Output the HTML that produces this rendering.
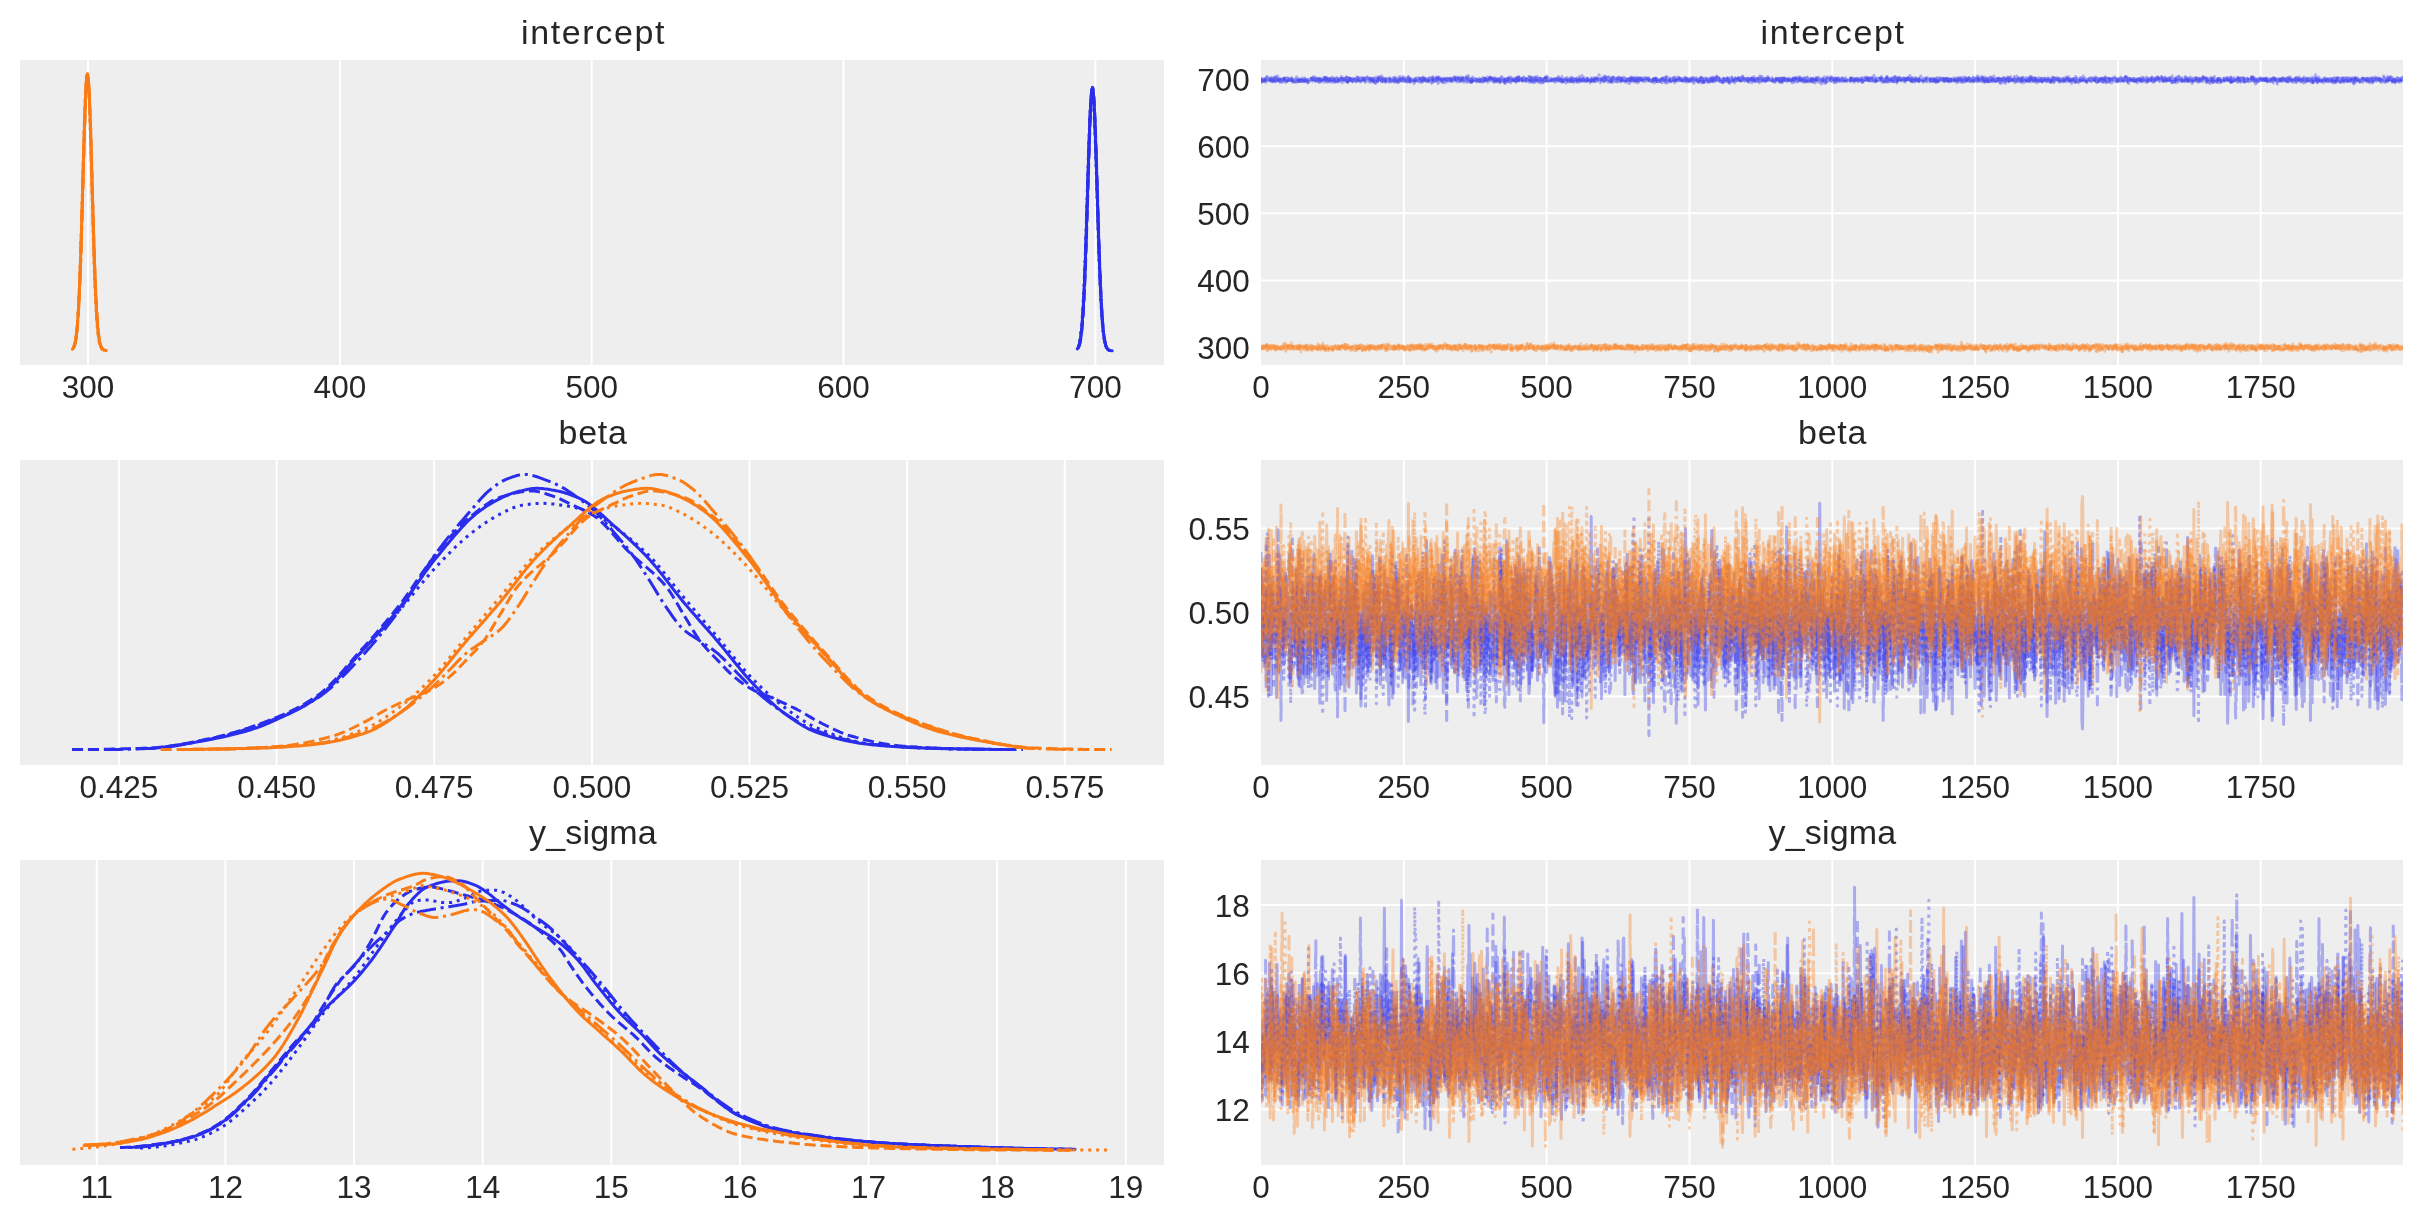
<!DOCTYPE html><html><head><meta charset="utf-8"><style>html,body{margin:0;padding:0;background:#fff;width:2423px;height:1223px;overflow:hidden}svg{display:block;will-change:transform}</style></head><body>
<svg width="2423" height="1223" viewBox="0 0 2423 1223">
<defs>
<clipPath id="cl0"><rect x="20" y="60" width="1144" height="305"/></clipPath>
<clipPath id="cr0"><rect x="1261" y="60" width="1142" height="305"/></clipPath>
<clipPath id="cl1"><rect x="20" y="460" width="1144" height="305"/></clipPath>
<clipPath id="cr1"><rect x="1261" y="460" width="1142" height="305"/></clipPath>
<clipPath id="cl2"><rect x="20" y="860" width="1144" height="305"/></clipPath>
<clipPath id="cr2"><rect x="1261" y="860" width="1142" height="305"/></clipPath>
</defs>
<rect x="20" y="60" width="1144" height="305" fill="#eeeeee"/>
<rect x="1261" y="60" width="1142" height="305" fill="#eeeeee"/>
<path d="M88.0 60V365M339.9 60V365M591.7 60V365M843.5 60V365M1095.4 60V365M1403.8 60V365M1546.6 60V365M1689.5 60V365M1832.3 60V365M1975.1 60V365M2117.9 60V365M2260.7 60V365M1261 79.1H2403M1261 146.2H2403M1261 213.3H2403M1261 280.4H2403M1261 347.5H2403" stroke="#fff" stroke-width="2" fill="none"/>
<text x="593.6" y="43.7" font-family="&quot;Liberation Sans&quot;, sans-serif" font-size="34" letter-spacing="1.65" fill="#262626" text-anchor="middle">intercept</text>
<text x="1833.1" y="43.7" font-family="&quot;Liberation Sans&quot;, sans-serif" font-size="34" letter-spacing="1.65" fill="#262626" text-anchor="middle">intercept</text>
<text x="88.0" y="397.6" font-family="&quot;Liberation Sans&quot;, sans-serif" font-size="31.5" fill="#262626" text-anchor="middle">300</text>
<text x="339.9" y="397.6" font-family="&quot;Liberation Sans&quot;, sans-serif" font-size="31.5" fill="#262626" text-anchor="middle">400</text>
<text x="591.7" y="397.6" font-family="&quot;Liberation Sans&quot;, sans-serif" font-size="31.5" fill="#262626" text-anchor="middle">500</text>
<text x="843.5" y="397.6" font-family="&quot;Liberation Sans&quot;, sans-serif" font-size="31.5" fill="#262626" text-anchor="middle">600</text>
<text x="1095.4" y="397.6" font-family="&quot;Liberation Sans&quot;, sans-serif" font-size="31.5" fill="#262626" text-anchor="middle">700</text>
<text x="1261.0" y="397.6" font-family="&quot;Liberation Sans&quot;, sans-serif" font-size="31.5" fill="#262626" text-anchor="middle">0</text>
<text x="1403.8" y="397.6" font-family="&quot;Liberation Sans&quot;, sans-serif" font-size="31.5" fill="#262626" text-anchor="middle">250</text>
<text x="1546.6" y="397.6" font-family="&quot;Liberation Sans&quot;, sans-serif" font-size="31.5" fill="#262626" text-anchor="middle">500</text>
<text x="1689.5" y="397.6" font-family="&quot;Liberation Sans&quot;, sans-serif" font-size="31.5" fill="#262626" text-anchor="middle">750</text>
<text x="1832.3" y="397.6" font-family="&quot;Liberation Sans&quot;, sans-serif" font-size="31.5" fill="#262626" text-anchor="middle">1000</text>
<text x="1975.1" y="397.6" font-family="&quot;Liberation Sans&quot;, sans-serif" font-size="31.5" fill="#262626" text-anchor="middle">1250</text>
<text x="2117.9" y="397.6" font-family="&quot;Liberation Sans&quot;, sans-serif" font-size="31.5" fill="#262626" text-anchor="middle">1500</text>
<text x="2260.7" y="397.6" font-family="&quot;Liberation Sans&quot;, sans-serif" font-size="31.5" fill="#262626" text-anchor="middle">1750</text>
<text x="1249.8" y="90.7" font-family="&quot;Liberation Sans&quot;, sans-serif" font-size="31.5" fill="#262626" text-anchor="end">700</text>
<text x="1249.8" y="157.8" font-family="&quot;Liberation Sans&quot;, sans-serif" font-size="31.5" fill="#262626" text-anchor="end">600</text>
<text x="1249.8" y="224.9" font-family="&quot;Liberation Sans&quot;, sans-serif" font-size="31.5" fill="#262626" text-anchor="end">500</text>
<text x="1249.8" y="292.0" font-family="&quot;Liberation Sans&quot;, sans-serif" font-size="31.5" fill="#262626" text-anchor="end">400</text>
<text x="1249.8" y="359.1" font-family="&quot;Liberation Sans&quot;, sans-serif" font-size="31.5" fill="#262626" text-anchor="end">300</text>
<rect x="20" y="460" width="1144" height="305" fill="#eeeeee"/>
<rect x="1261" y="460" width="1142" height="305" fill="#eeeeee"/>
<path d="M118.9 460V765M276.6 460V765M434.2 460V765M591.9 460V765M749.5 460V765M907.2 460V765M1064.8 460V765M1403.8 460V765M1546.6 460V765M1689.5 460V765M1832.3 460V765M1975.1 460V765M2117.9 460V765M2260.7 460V765M1261 528.5H2403M1261 612.6H2403M1261 696.6H2403" stroke="#fff" stroke-width="2" fill="none"/>
<text x="593.1" y="443.7" font-family="&quot;Liberation Sans&quot;, sans-serif" font-size="34" letter-spacing="0.70" fill="#262626" text-anchor="middle">beta</text>
<text x="1832.6" y="443.7" font-family="&quot;Liberation Sans&quot;, sans-serif" font-size="34" letter-spacing="0.70" fill="#262626" text-anchor="middle">beta</text>
<text x="118.9" y="797.6" font-family="&quot;Liberation Sans&quot;, sans-serif" font-size="31.5" fill="#262626" text-anchor="middle">0.425</text>
<text x="276.6" y="797.6" font-family="&quot;Liberation Sans&quot;, sans-serif" font-size="31.5" fill="#262626" text-anchor="middle">0.450</text>
<text x="434.2" y="797.6" font-family="&quot;Liberation Sans&quot;, sans-serif" font-size="31.5" fill="#262626" text-anchor="middle">0.475</text>
<text x="591.9" y="797.6" font-family="&quot;Liberation Sans&quot;, sans-serif" font-size="31.5" fill="#262626" text-anchor="middle">0.500</text>
<text x="749.5" y="797.6" font-family="&quot;Liberation Sans&quot;, sans-serif" font-size="31.5" fill="#262626" text-anchor="middle">0.525</text>
<text x="907.2" y="797.6" font-family="&quot;Liberation Sans&quot;, sans-serif" font-size="31.5" fill="#262626" text-anchor="middle">0.550</text>
<text x="1064.8" y="797.6" font-family="&quot;Liberation Sans&quot;, sans-serif" font-size="31.5" fill="#262626" text-anchor="middle">0.575</text>
<text x="1261.0" y="797.6" font-family="&quot;Liberation Sans&quot;, sans-serif" font-size="31.5" fill="#262626" text-anchor="middle">0</text>
<text x="1403.8" y="797.6" font-family="&quot;Liberation Sans&quot;, sans-serif" font-size="31.5" fill="#262626" text-anchor="middle">250</text>
<text x="1546.6" y="797.6" font-family="&quot;Liberation Sans&quot;, sans-serif" font-size="31.5" fill="#262626" text-anchor="middle">500</text>
<text x="1689.5" y="797.6" font-family="&quot;Liberation Sans&quot;, sans-serif" font-size="31.5" fill="#262626" text-anchor="middle">750</text>
<text x="1832.3" y="797.6" font-family="&quot;Liberation Sans&quot;, sans-serif" font-size="31.5" fill="#262626" text-anchor="middle">1000</text>
<text x="1975.1" y="797.6" font-family="&quot;Liberation Sans&quot;, sans-serif" font-size="31.5" fill="#262626" text-anchor="middle">1250</text>
<text x="2117.9" y="797.6" font-family="&quot;Liberation Sans&quot;, sans-serif" font-size="31.5" fill="#262626" text-anchor="middle">1500</text>
<text x="2260.7" y="797.6" font-family="&quot;Liberation Sans&quot;, sans-serif" font-size="31.5" fill="#262626" text-anchor="middle">1750</text>
<text x="1249.8" y="540.1" font-family="&quot;Liberation Sans&quot;, sans-serif" font-size="31.5" fill="#262626" text-anchor="end">0.55</text>
<text x="1249.8" y="624.2" font-family="&quot;Liberation Sans&quot;, sans-serif" font-size="31.5" fill="#262626" text-anchor="end">0.50</text>
<text x="1249.8" y="708.2" font-family="&quot;Liberation Sans&quot;, sans-serif" font-size="31.5" fill="#262626" text-anchor="end">0.45</text>
<rect x="20" y="860" width="1144" height="305" fill="#eeeeee"/>
<rect x="1261" y="860" width="1142" height="305" fill="#eeeeee"/>
<path d="M96.8 860V1165M225.4 860V1165M354.1 860V1165M482.7 860V1165M611.3 860V1165M739.9 860V1165M868.6 860V1165M997.2 860V1165M1125.8 860V1165M1403.8 860V1165M1546.6 860V1165M1689.5 860V1165M1832.3 860V1165M1975.1 860V1165M2117.9 860V1165M2260.7 860V1165M1261 905.1H2403M1261 973.3H2403M1261 1041.4H2403M1261 1109.5H2403" stroke="#fff" stroke-width="2" fill="none"/>
<text x="592.9" y="843.7" font-family="&quot;Liberation Sans&quot;, sans-serif" font-size="34" letter-spacing="0.15" fill="#262626" text-anchor="middle">y_sigma</text>
<text x="1832.4" y="843.7" font-family="&quot;Liberation Sans&quot;, sans-serif" font-size="34" letter-spacing="0.15" fill="#262626" text-anchor="middle">y_sigma</text>
<text x="96.8" y="1197.6" font-family="&quot;Liberation Sans&quot;, sans-serif" font-size="31.5" fill="#262626" text-anchor="middle">11</text>
<text x="225.4" y="1197.6" font-family="&quot;Liberation Sans&quot;, sans-serif" font-size="31.5" fill="#262626" text-anchor="middle">12</text>
<text x="354.1" y="1197.6" font-family="&quot;Liberation Sans&quot;, sans-serif" font-size="31.5" fill="#262626" text-anchor="middle">13</text>
<text x="482.7" y="1197.6" font-family="&quot;Liberation Sans&quot;, sans-serif" font-size="31.5" fill="#262626" text-anchor="middle">14</text>
<text x="611.3" y="1197.6" font-family="&quot;Liberation Sans&quot;, sans-serif" font-size="31.5" fill="#262626" text-anchor="middle">15</text>
<text x="739.9" y="1197.6" font-family="&quot;Liberation Sans&quot;, sans-serif" font-size="31.5" fill="#262626" text-anchor="middle">16</text>
<text x="868.6" y="1197.6" font-family="&quot;Liberation Sans&quot;, sans-serif" font-size="31.5" fill="#262626" text-anchor="middle">17</text>
<text x="997.2" y="1197.6" font-family="&quot;Liberation Sans&quot;, sans-serif" font-size="31.5" fill="#262626" text-anchor="middle">18</text>
<text x="1125.8" y="1197.6" font-family="&quot;Liberation Sans&quot;, sans-serif" font-size="31.5" fill="#262626" text-anchor="middle">19</text>
<text x="1261.0" y="1197.6" font-family="&quot;Liberation Sans&quot;, sans-serif" font-size="31.5" fill="#262626" text-anchor="middle">0</text>
<text x="1403.8" y="1197.6" font-family="&quot;Liberation Sans&quot;, sans-serif" font-size="31.5" fill="#262626" text-anchor="middle">250</text>
<text x="1546.6" y="1197.6" font-family="&quot;Liberation Sans&quot;, sans-serif" font-size="31.5" fill="#262626" text-anchor="middle">500</text>
<text x="1689.5" y="1197.6" font-family="&quot;Liberation Sans&quot;, sans-serif" font-size="31.5" fill="#262626" text-anchor="middle">750</text>
<text x="1832.3" y="1197.6" font-family="&quot;Liberation Sans&quot;, sans-serif" font-size="31.5" fill="#262626" text-anchor="middle">1000</text>
<text x="1975.1" y="1197.6" font-family="&quot;Liberation Sans&quot;, sans-serif" font-size="31.5" fill="#262626" text-anchor="middle">1250</text>
<text x="2117.9" y="1197.6" font-family="&quot;Liberation Sans&quot;, sans-serif" font-size="31.5" fill="#262626" text-anchor="middle">1500</text>
<text x="2260.7" y="1197.6" font-family="&quot;Liberation Sans&quot;, sans-serif" font-size="31.5" fill="#262626" text-anchor="middle">1750</text>
<text x="1249.8" y="916.7" font-family="&quot;Liberation Sans&quot;, sans-serif" font-size="31.5" fill="#262626" text-anchor="end">18</text>
<text x="1249.8" y="984.9" font-family="&quot;Liberation Sans&quot;, sans-serif" font-size="31.5" fill="#262626" text-anchor="end">16</text>
<text x="1249.8" y="1053.0" font-family="&quot;Liberation Sans&quot;, sans-serif" font-size="31.5" fill="#262626" text-anchor="end">14</text>
<text x="1249.8" y="1121.1" font-family="&quot;Liberation Sans&quot;, sans-serif" font-size="31.5" fill="#262626" text-anchor="end">12</text>
<g clip-path="url(#cr0)"><g transform="matrix(0.571286 0 0 0.571286 1261 0)" fill="none" stroke-width="5.251" stroke-opacity="0.35" stroke-linejoin="round">
<path stroke="#2a2eec" stroke-linecap="round" d="M0 143l1-5 1 3 1-1 1 0 1 1 1 2 1-4 1 0 1 5 1-9 1 2 1 4 1-3 1 2 1 0 1-2 1 4 1-3 1-3 1 0 1 4 1-2 1 5 1-2 1-2 1 3 1-2 1-4 1-3 1 4 1 0 1 4 1 2 1 0 1-4 1-1 1 3 1 2 1-3 1-1 1 1 1-3 1 2 1 1 1 2 1-2 1-3 1 2 1 0 1 0 1 0 1-1 1 0 1 0 1 3 1-2 1 4 1-3 1 2 1-2 1-1 1 1 1 0 1 3 1-1 1-3 1 3 1-3 1 3 1 0 1 1 1-3 1-1 1 3 1-2 1-4 1 4 1 1 1-2 1 1 1 1 1 3 1-5 1 2 1-1 1 2 1-5 1 1 1-1 1 2 1 0 1-2 1 0 1 1 1 2 1 0 1 1 1 1 1-3 1 1 1 4 1-3 1-3 1 2 1 4 1-3 1-3 1 1 1 1 1-4 1-1 1 4 1-1 1 0 1 0 1-2 1 1 1 2 1 2 1 1 1-2 1-3 1 1 1 1 1 0 1 0 1-1 1 4 1 2 1-2 1 1 1-6 1 2 1 1 1 3 1-3 1 1 1-4 1 0 1 4 1-2 1 6 1-3 1-5 1 0 1 2 1 1 1 3 1 0 1-3 1-4 1 8 1-5 1-1 1-1 1 4 1 0 1-1 1 2 1 1 1-1 1-2 1-1 1 1 1-1 1 2 1 1 1-4 1 1 1 1 1-2 1-1 1-1 1 2 1 1 1 0 1 0 1-3 1 2 1 0 1 1 1-2 1 7 1-4 1-2 1 4 1-7 1 4 1 1 1 2 1-4 1 1 1 2 1-2 1-1 1-1 1 2 1 3 1-1 1 4 1-3 1-3 1-1 1 2 1 0 1-4 1 2 1-1 1 1 1 3 1-5 1 6 1 1 1-2 1 1 1-1 1 0 1-3 1 1 1 0 1 4 1-1 1-4 1 4 1-4 1 3 1-2 1 2 1-1 1 2 1-1 1-5 1 4 1-5 1 5 1 2 1-2 1 1 1-5 1 1 1 0 1 1 1-4 1 3 1 1 1 3 1 1 1-2 1-3 1 0 1 4 1-2 1 0 1 3 1-3 1 5 1-4 1-6 1 7 1-1 1 4 1-2 1-4 1 4 1-2 1 1 1 0 1-2 1 0 1-2 1 0 1 3 1-3 1-1 1 6 1-3 1-1 1-1 1 1 1 4 1-1 1 3 1-3 1-6 1 2 1 0 1 3 1 2 1 0 1-2 1 1 1 0 1-4 1 6 1 0 1-2 1-1 1 0 1 3 1-3 1 0 1-1 1 3 1-2 1-1 1 2 1-1 1 1 1-4 1 9 1-2 1 0 1-3 1 0 1 0 1-3 1 5 1-1 1-1 1 1 1-3 1 0 1 2 1 3 1-7 1 1 1 0 1 1 1 1 1-2 1 1 1 2 1-3 1 1 1 2 1 1 1-4 1 0 1-3 1 5 1 1 1-2 1-2 1 1 1 0 1-3 1 5 1 3 1-1 1-1 1-2 1-2 1 1 1-2 1 5 1-5 1 5 1-4 1 4 1-2 1 0 1-1 1 0 1 2 1 0 1-1 1 3 1 0 1 2 1-4 1-5 1 2 1 4 1 0 1-3 1 2 1 3 1 0 1 0 1-1 1-3 1 0 1 4 1-2 1 1 1 1 1 1 1-7 1 3 1-2 1-1 1 3 1-1 1-1 1 1 1-4 1 3 1 2 1-2 1-3 1 2 1 3 1 2 1 0 1 0 1-3 1-1 1 6 1-3 1 1 1-3 1-2 1 4 1 0 1 1 1-3 1 4 1 0 1-1 1-5 1-3 1 4 1 4 1-2 1 2 1-3 1 3 1-1 1-1 1-1 1 1 1-3 1 2 1 4 1-5 1 2 1 1 1-4 1 4 1-1 1 1 1-4 1 3 1-1 1 4 1-6 1 4 1-3 1-1 1-1 1-1 1 6 1-2 1 0 1 0 1-2 1 2 1 2 1-1 1-4 1 6 1-2 1 2 1-4 1 5 1-2 1-1 1-1 1-5 1 1 1 6 1-6 1 6 1 3 1 0 1-4 1-1 1 5 1-4 1 0 1-2 1 2 1-2 1 0 1 4 1-5 1 2 1-1 1-1 1 4 1-1 1 2 1 0 1-2 1-1 1-2 1-1 1 3 1 2 1-8 1 1 1 5 1 2 1 0 1-2 1-2 1 0 1 1 1 2 1-1 1 1 1 0 1 0 1-1 1 5 1-3 1 0 1 1 1-1 1 1 1 0 1-1 1-1 1 1 1-3 1 1 1 0 1 0 1 2 1 1 1-4 1 2 1 4 1 1 1-5 1 1 1-1 1 1 1 0 1-1 1 2 1-2 1-2 1 0 1 5 1 0 1 0 1-2 1-3 1 1 1 4 1-3 1-2 1 2 1-4 1 4 1-3 1-3 1 7 1 0 1-2 1-7 1 10 1-3 1 0 1 1 1 2 1-1 1 0 1 2 1-6 1 4 1 0 1 0 1 0 1-1 1 1 1-1 1-4 1 1 1 3 1-2 1 3 1-2 1 4 1 0 1-1 1-5 1 2 1-1 1 1 1 0 1 0 1-1 1 1 1 2 1 1 1-5 1-1 1 2 1 5 1-6 1 1 1 2 1 0 1 0 1-4 1-1 1 6 1-1 1-1 1-2 1 7 1-5 1-3 1 4 1 0 1-3 1 1 1 4 1 1 1 0 1 0 1-3 1 1 1-1 1-2 1-3 1 3 1 5 1-6 1 2 1-2 1 3 1-1 1 1 1 0 1-3 1 4 1-2 1 0 1 1 1 5 1-5 1 6 1-2 1-2 1-3 1-1 1-1 1 1 1 2 1-3 1 3 1-3 1 7 1-1 1-1 1-2 1 5 1-6 1-2 1 0 1 3 1-3 1 3 1-2 1 1 1 1 1 0 1 0 1-3 1-1 1 0 1 1 1 1 1 0 1-2 1 4 1 1 1-1 1 3 1-2 1-1 1 2 1-1 1-2 1 1 1 0 1-3 1 4 1 1 1-2 1-1 1 4 1-4 1 1 1 1 1 1 1-2 1-2 1 0 1 0 1 2 1-4 1 0 1 3 1 6 1-4 1-7 1 5 1 3 1-6 1 4 1-1 1-1 1 5 1-3 1-3 1 3 1-2 1 1 1-2 1-2 1 6 1 0 1-2 1 2 1 1 1-1 1-1 1 1 1-2 1-1 1 0 1 0 1-1 1 5 1-2 1-1 1-1 1 5 1-7 1 5 1-2 1-1 1-1 1 4 1 0 1-2 1-1 1-1 1 2 1 2 1 2 1-7 1 6 1-3 1 0 1-1 1-1 1-1 1 3 1 0 1 5 1-4 1 2 1-2 1-3 1 2 1-2 1 3 1-1 1 1 1 5 1-3 1-1 1-1 1 0 1 0 1-2 1 0 1 2 1-2 1 6 1-3 1-1 1-3 1 3 1 3 1-3 1-4 1 3 1 1 1 0 1 0 1-3 1-2 1 3 1 1 1-3 1 3 1 0 1 1 1 0 1-1 1 1 1-1 1 0 1-1 1 2 1 0 1-1 1 0 1 0 1-2 1 4 1 3 1-5 1 1 1-3 1 2 1 3 1-7 1 3 1 2 1 1 1-2 1 2 1-2 1-2 1 5 1-1 1-2 1-3 1 1 1 3 1-4 1 4 1 0 1-1 1 3 1-9 1 3 1 2 1 3 1 1 1-3 1-1 1 2 1 0 1-2 1 2 1 4 1-5 1 0 1-1 1 3 1 4 1-2 1-3 1-5 1-1 1 4 1 4 1-1 1-2 1 0 1 0 1-2 1 4 1 4 1-2 1 0 1-8 1 4 1 4 1-4 1-2 1 2 1 0 1-2 1 1 1 3 1-2 1-2 1 1 1-1 1 1 1 2 1 0 1-2 1 3 1-4 1-1 1 7 1-2 1 0 1 0 1-1 1 0 1-2 1 1 1 0 1 2 1 0 1-4 1 7 1-7 1 3 1-3 1 8 1-3 1-4 1 1 1-2 1 4 1 0 1 0 1-2 1-1 1 2 1 0 1 0 1 0 1 2 1-2 1 0 1 1 1 0 1-4 1 3 1-1 1-3 1 1 1 2 1-2 1 5 1 1 1-2 1-1 1 0 1-4 1-1 1 4 1 0 1 2 1-2 1 4 1-6 1 3 1-1 1 3 1-5 1 1 1-3 1 4 1 4 1-1 1 1 1-6 1 3 1 1 1-2 1 0 1-1 1 2 1 4 1 0 1 1 1-7 1-1 1 3 1-2 1 0 1 0 1 0 1-1 1 2 1 5 1 3 1-9 1 0 1 7 1-5 1 2 1-1 1 5 1-7 1 1 1-2 1-1 1-1 1-1 1 3 1 1 1 2 1-2 1 1 1 2 1-4 1 0 1 7 1 0 1-4 1 2 1-5 1 1 1-1 1-1 1-1 1 4 1-2 1 1 1-1 1 0 1-2 1 2 1 2 1-1 1 3 1-3 1-3 1 4 1 3 1-2 1 0 1-1 1 1 1-1 1 2 1-5 1 2 1-1 1 0 1 2 1-1 1 1 1 1 1-1 1-1 1 3 1 0 1 0 1-1 1-4 1 2 1 1 1-1 1-2 1 4 1-3 1 6 1-2 1-5 1-1 1 2 1 2 1-2 1 2 1-4 1 0 1 1 1 4 1-3 1 2 1 0 1 1 1-1 1-1 1-2 1 0 1-5 1 7 1-2 1 3 1 0 1 2 1-5 1 1 1 1 1 1 1-3 1 3 1-1 1-5 1 5 1 2 1 1 1-4 1 1 1 2 1 1 1-2 1 2 1-7 1 4 1 1 1 0 1 3 1 0 1-2 1-1 1 2 1-6 1 2 1-2 1 0 1 3 1-5 1 4 1 5 1 2 1-4 1-3 1 1 1-4 1 4 1-1 1 0 1 3 1-2 1 0 1-2 1-1 1 1 1 4 1-3 1-1 1 2 1-1 1-1 1-1 1 3 1-1 1 1 1 0 1 2 1-1 1 2 1-2 1-2 1 0 1-1 1 2 1-3 1 4 1-2 1 0 1 3 1 0 1-3 1 1 1 0 1-6 1 4 1 2 1-1 1 2 1 0 1-1 1 2 1-1 1 0 1-1 1 4 1-7 1 3 1-1 1 3 1 2 1-3 1 0 1-2 1 3 1 1 1-3 1-1 1-1 1 2 1 0 1 2 1-4 1-1 1 0 1 6 1-4 1 3 1-2 1-1 1-1 1 2 1 1 1 2 1 0 1-3 1 2 1-3 1 2 1 1 1-3 1-1 1 4 1-1 1 0 1-2 1 3 1 0 1-1 1-2 1-1 1 3 1-4 1 2 1 3 1 2 1-2 1 4 1-5 1-2 1-1 1 1 1 5 1-2 1-3 1 6 1-2 1-3 1 0 1 5 1-3 1-1 1-5 1 5 1 1 1-2 1 0 1-1 1-2 1 3 1 3 1-2 1 0 1-3 1 0 1 4 1-3 1-1 1 2 1-2 1 2 1 0 1 1 1-2 1-5 1 5 1 4 1-2 1 1 1-2 1 1 1-6 1 3 1-2 1 5 1 0 1-5 1 7 1-2 1 3 1-6 1 5 1-1 1-1 1 3 1-8 1 4 1-3 1 4 1 3 1-3 1-1 1-6 1 8 1 2 1-1 1-3 1-1 1 3 1 0 1-2 1-2 1 3 1-1 1 7 1-3 1-4 1 0 1 1 1-4 1 3 1 3 1-2 1-1 1 3 1-4 1-3 1 5 1 2 1-2 1-3 1 3 1 1 1 0 1-2 1 0 1 1 1-3 1-3 1 6 1-3 1 1 1-5 1 7 1 0 1-1 1 4 1-2 1-3 1 4 1-2 1-4 1 4 1 2 1 3 1-4 1 2 1-4 1-3 1 2 1 3 1-3 1 2 1 2 1-1 1-2 1 1 1-1 1-4 1 2 1 0 1 4 1-4 1 1 1-1 1 4 1-2 1 6 1-4 1 1 1 0 1-6 1 6 1-2 1 0 1-2 1-1 1 6 1-2 1 0 1-3 1-1 1 3 1 1 1 1 1-3 1-3 1 2 1 3 1 1 1 0 1 2 1-7 1 2 1 1 1-5 1 3 1-2 1 2 1-1 1 2 1 1 1-1 1-1 1-1 1 2 1 1 1 0 1-1 1 2 1 0 1-2 1-1 1 0 1 3 1 2 1-3 1-1 1 1 1-1 1-1 1 2 1-1 1 3 1-2 1 2 1 1 1-4 1 7 1-5 1-3 1 0 1 5 1-3 1 4 1-2 1-5 1 2 1-2 1 4 1 4 1-3 1-5 1 0 1 0 1 2 1 1 1 0 1-7 1 5 1-3 1 4 1-2 1 4 1 0 1-2 1 2 1 0 1-1 1 1 1-5 1 0 1 6 1-6 1 3 1 1 1 0 1-2 1 0 1 2 1 0 1 2 1-6 1 5 1 1 1 0 1-2 1-2 1 2 1 0 1 0 1-3 1 2 1 4 1-6 1 1 1-3 1 5 1 1 1-1 1 3 1-2 1-4 1 1 1 6 1-6 1 0 1 0 1 1 1 0 1 0 1 0 1 3 1-4 1 1 1 0 1 0 1 1 1 0 1 3 1-3 1-1 1 1 1 3 1-6 1 2 1 1 1 0 1 1 1 0 1 1 1-1 1-6 1 1 1-2 1 6 1 4 1-1 1 3 1-8 1-1 1 2 1 0 1 0 1 1 1-2 1 3 1 0 1-1 1 3 1 0 1-4 1 0 1 6 1-6 1 0 1-1 1 1 1-1 1 4 1-1 1 1 1-1 1-4 1-1 1 3 1 1 1-2 1 0 1-3 1 2 1 7 1-4 1 0 1 1 1-1 1-1 1 1 1-4 1 2 1 0 1 1 1-2 1 4 1-4 1 3 1-4 1 0 1 2 1 2 1-1 1 0 1 4 1-2 1 0 1-4 1-2 1 5 1 1 1 2 1-3 1-2 1-3 1 6 1-3 1 2 1 1 1 0 1 0 1-2 1 0 1-2 1 3 1 4 1-1 1-4 1 4 1-1 1-3 1 3 1-4 1 1 1 2 1-1 1 1 1 0 1-1 1 0 1 0 1 1 1 1 1-6 1 5 1-1 1-3 1 0 1 4 1-6 1 0 1 4 1 3 1-3 1 1 1 0 1 1 1 0 1-1 1-2 1 6 1 2 1-7 1 2 1-3 1 1 1-2 1 0 1 3 1 0 1-1 1-1 1 3 1 2 1-3 1 0 1 0 1 2 1-3 1 4 1-2 1-4 1 4 1-2 1-1 1 0 1 5 1-5 1 1 1-1 1 1 1 0 1-2 1-1 1 7 1-1 1-2 1 4 1-7 1 4 1-2 1 0 1 1 1 2 1-1 1-1 1-2 1 2 1 0 1 0 1-3 1 1 1 3 1 2 1-2 1 1 1-1 1-4 1 0 1 2 1-1 1-2 1 5 1-2 1 1 1-1 1 0 1 1 1-2 1 6 1-4 1-2 1 3 1 1 1-6 1 5 1 0 1 0 1 0 1 0 1 3 1-9 1 5 1-1 1 1 1-3 1 0 1 0 1-1 1 1 1 2 1-2 1 6 1-5 1 0 1 1 1 3 1-5 1 4 1-3 1 5 1-2 1 0 1 1 1-1 1-5 1 3 1 0 1-4 1 7 1-5 1 3 1 1 1 0 1 3 1 0 1-1 1-2 1-3 1-1 1 3 1-1 1-1 1 2 1-1 1 2 1-2 1 1 1 0 1-1 1 0 1 2 1 2 1-3 1 1 1 0 1-1 1 1 1-2 1 0 1 2 1-2 1 3 1-4 1 0 1 1 1-1 1-1 1 1 1 5 1-3 1-1 1-1 1 3 1-3 1 1 1 0 1 3 1 0 1-4 1-1 1 2 1-2 1 2 1 1 1 3 1-5 1 2 1-1 1 4 1-1 1-3 1 1 1 1 1 1 1-2 1 0 1 1 1-1 1 1 1 0 1 0 1-1 1 3 1 0 1-3 1 0 1-1 1-4 1 2 1 0 1 1 1 2 1 1 1 3 1 0 1 1 1-2 1 1 1-1 1-3 1 1 1-3 1-1 1 0 1 0 1 2 1 2 1-2 1 1 1 0 1-1 1 3 1 2 1-4 1-4 1 0 1-5 1 10 1 0 1 4 1-2 1-7 1-1 1 6 1 0 1 1 1 1 1-2 1 0 1-1 1-1 1-1 1-2 1 3 1 1 1 0 1-1 1 1 1 2 1-1 1-3 1 4 1-4 1 4 1-3 1-1 1 2 1 0 1 0 1-4 1 4 1 1 1-2 1-2 1 1 1 2 1-3 1 4 1 1 1 1 1-5 1 6 1-1 1-3 1-1 1-3 1 2 1 2 1-3 1 0 1 0 1 0 1 1 1 4 1 0 1-6 1 3 1 4 1-3 1-2 1 0 1 1 1 6 1-4 1-1 1-4 1 3 1 1 1 1 1-1 1-1 1 2 1 1 1 1 1-3 1 0 1 1 1 2 1-1 1 2 1-5 1-2 1 1 1 2 1-1 1 4 1 0 1-5 1 4 1-2 1 1 1 4 1-3 1-4 1-1 1 8 1-1 1-2 1-4 1-1 1-1 1-1 1 5 1 2 1-4 1 2 1 0 1 0 1 1 1-3 1 4 1 2 1-2 1-2 1 0 1 0 1 4 1-2 1-4 1 2 1 1 1-3 1 2 1-2 1 1 1 0 1-2 1-3 1 2 1 5 1 1 1-1 1-1 1-2 1 1 1 0 1 4 1-2 1-2 1-3 1 1 1 2 1 3 1-2 1 0 1 0 1-1 1 0 1 0 1-4"/>
<path stroke="#2a2eec" stroke-dasharray="19.43 8.40" d="M0 142l1 2 1-4 1 2 1-1 1-1 1 2 1-4 1 0 1 1 1-1 1 0 1 2 1-1 1 0 1 1 1 1 1-5 1 2 1 5 1-4 1 6 1-5 1-2 1-2 1 3 1 2 1-5 1 1 1-1 1 4 1-2 1 5 1-4 1 5 1-1 1 1 1-6 1-1 1 4 1-4 1 2 1 5 1-2 1 2 1-4 1-1 1 2 1-3 1-1 1 4 1-2 1 1 1 0 1-4 1 5 1 0 1-1 1-1 1-1 1 3 1-4 1-2 1 0 1 3 1 3 1 1 1-2 1 0 1 0 1 1 1 4 1-4 1 0 1 0 1 2 1-2 1-1 1 2 1-3 1 1 1-1 1 0 1 1 1 0 1-1 1-1 1-1 1 3 1-2 1-1 1 5 1-1 1-1 1 0 1-4 1 0 1 3 1 1 1 3 1 0 1-6 1 6 1-4 1 2 1 0 1-1 1-4 1 2 1 0 1-1 1 7 1-8 1 7 1-1 1-3 1 3 1 2 1-6 1 2 1-2 1 0 1 2 1-4 1 4 1-5 1 6 1 1 1 0 1-2 1 2 1 0 1-5 1 2 1-2 1 1 1 3 1 1 1-2 1-1 1 2 1 0 1-4 1 0 1 1 1 2 1 1 1-6 1 5 1-5 1 5 1 3 1-7 1 3 1-3 1 2 1 2 1-2 1 2 1-1 1 1 1 3 1-3 1 1 1-1 1-1 1 4 1-4 1-1 1-3 1 2 1 1 1 3 1-1 1 3 1-4 1 1 1 1 1-1 1-1 1 0 1 3 1-5 1 2 1 0 1 1 1 2 1-2 1 1 1 1 1-2 1-2 1 0 1 1 1 2 1 0 1-1 1 3 1-4 1 0 1 3 1-5 1-2 1 7 1-2 1 2 1-4 1 4 1-3 1 0 1-2 1 6 1-1 1-1 1-3 1 1 1-1 1 0 1 3 1-1 1 1 1 0 1 1 1-3 1 0 1 5 1-5 1 2 1 2 1-5 1 1 1 0 1 1 1 0 1 4 1-5 1 2 1-1 1 0 1 2 1 1 1-2 1-4 1 4 1 0 1-1 1 1 1-4 1 1 1-4 1 4 1-3 1 5 1-1 1 3 1-1 1 0 1-2 1-3 1 4 1 3 1-3 1 0 1 1 1-3 1-1 1 4 1 0 1 5 1-4 1-4 1 3 1-3 1 0 1 0 1 0 1 1 1-2 1 0 1 1 1 1 1-2 1-1 1 4 1-2 1 1 1-5 1 5 1 2 1 1 1-4 1 3 1-2 1 1 1-3 1-1 1 0 1 7 1 0 1 3 1-11 1 5 1 0 1 0 1-2 1 2 1-1 1 1 1 2 1-6 1-1 1 4 1 1 1-5 1-2 1 5 1 0 1 2 1-1 1 6 1 0 1-5 1 0 1-1 1 0 1-1 1 1 1 1 1-1 1 2 1-4 1 4 1 0 1-3 1 2 1-3 1-1 1 1 1 3 1-5 1 3 1 3 1-6 1 3 1 0 1-1 1 3 1-2 1 4 1 0 1-1 1-6 1 2 1-1 1 4 1-2 1 6 1-3 1-2 1 1 1 4 1 0 1-5 1-3 1 4 1-4 1 6 1-4 1 1 1-2 1 5 1-4 1 1 1 2 1 0 1-1 1-1 1 2 1 1 1-2 1 0 1-2 1-1 1 6 1-3 1-1 1 0 1 3 1-4 1-2 1 3 1 2 1-3 1 1 1 0 1 0 1 1 1 0 1 1 1 3 1-6 1 1 1 1 1-3 1 2 1-2 1 0 1 3 1 2 1-3 1 0 1-2 1 6 1-3 1-1 1 0 1 0 1 0 1 6 1-4 1 0 1 2 1-3 1 1 1 1 1 1 1-3 1 5 1-4 1 1 1-2 1-5 1 2 1 2 1-3 1-1 1 1 1-1 1 3 1 0 1 1 1 1 1 0 1 1 1-1 1-5 1 2 1 2 1-3 1 0 1 5 1 0 1-5 1 3 1 0 1 2 1 1 1-4 1 3 1-2 1-4 1 3 1 2 1-2 1 0 1 2 1-1 1 3 1 2 1-2 1 2 1-2 1-2 1-1 1-4 1 6 1 0 1 0 1 1 1-6 1 5 1-1 1 0 1-6 1 5 1 2 1-4 1 4 1 4 1-7 1-1 1 5 1 1 1-3 1 2 1 2 1-1 1-7 1 1 1 4 1-1 1 0 1 0 1 0 1-4 1 4 1 2 1-2 1 1 1 0 1 0 1 1 1-4 1 3 1-4 1 4 1 1 1-2 1 0 1-2 1 0 1-4 1 11 1-2 1-2 1-1 1 0 1-6 1 10 1-5 1 1 1 0 1-3 1 2 1-1 1-1 1-1 1 7 1-1 1 1 1-1 1-1 1-6 1 5 1 1 1-1 1-3 1 3 1-1 1-1 1 0 1 6 1 0 1-5 1 5 1-3 1 3 1-4 1 0 1 3 1-2 1 2 1-1 1-4 1 1 1 0 1-3 1 3 1-2 1 1 1 1 1 2 1 1 1 1 1 0 1-4 1 0 1 3 1-4 1 3 1 0 1 2 1-1 1-3 1 0 1 2 1-4 1 3 1 0 1-2 1 0 1 2 1 2 1-4 1 7 1-3 1 2 1-2 1-4 1 2 1 1 1-1 1-4 1 0 1 3 1 2 1 0 1-2 1 1 1 0 1 2 1 1 1 0 1-3 1 2 1-7 1 3 1 0 1-1 1 5 1 1 1-2 1-2 1-1 1-2 1 0 1 1 1 0 1 1 1 0 1 2 1 1 1-3 1 5 1-6 1-2 1 5 1-2 1 1 1 3 1-3 1-1 1-1 1 3 1-1 1 2 1-4 1 2 1-2 1 4 1-2 1 2 1 0 1-4 1 2 1 1 1-2 1 3 1-6 1 5 1 0 1-5 1 7 1-6 1 2 1 0 1 3 1-2 1 3 1-4 1 2 1 1 1 0 1-1 1-3 1 1 1 3 1 1 1 0 1-4 1 0 1 4 1 2 1-4 1 1 1-2 1 1 1-1 1-1 1-1 1 2 1-1 1 3 1 1 1-2 1-3 1-1 1 3 1 4 1-3 1 0 1-2 1-1 1 3 1 1 1 0 1 0 1 1 1-2 1 1 1 0 1 0 1 0 1-2 1 1 1 0 1-2 1 2 1 3 1-2 1 0 1-2 1-3 1 2 1 2 1-3 1 4 1-2 1 0 1 1 1 0 1-1 1-3 1 2 1 3 1-2 1-1 1-3 1 2 1 2 1-2 1 0 1 2 1 2 1-1 1-2 1 4 1 2 1-5 1 4 1 0 1-2 1-1 1 0 1-1 1 0 1 1 1 2 1 4 1-8 1 0 1 0 1 1 1 3 1-3 1 1 1 3 1-5 1 5 1-2 1-5 1 5 1-1 1-3 1 2 1 4 1-1 1-2 1 3 1-6 1 2 1-1 1 1 1 0 1 1 1 3 1-4 1 1 1-4 1 6 1-2 1-5 1 7 1 1 1-3 1-4 1 6 1-2 1 0 1 1 1 0 1-4 1 2 1 4 1-1 1-2 1 3 1-1 1-1 1 4 1-8 1 6 1-3 1 0 1 1 1-3 1 1 1 3 1-4 1 0 1 4 1 2 1-5 1 1 1 3 1-4 1 4 1-1 1 0 1 3 1-6 1-7 1 5 1 1 1 2 1 0 1-1 1-1 1 3 1-1 1 0 1-1 1-1 1-1 1 3 1 1 1-2 1 1 1 0 1-1 1 0 1-2 1 5 1-4 1 2 1-2 1 4 1-1 1 0 1-5 1 5 1-3 1 3 1 1 1-2 1-3 1 2 1-1 1 1 1 1 1-3 1 2 1-1 1 4 1-1 1-3 1 2 1 4 1-5 1-1 1 2 1-1 1 1 1-1 1-2 1 1 1 2 1 1 1-1 1 1 1-3 1 4 1-1 1-2 1 0 1 0 1 1 1-1 1 4 1 1 1-1 1-4 1-2 1 3 1 1 1-1 1-4 1 2 1 1 1 2 1-2 1-2 1 2 1 2 1-4 1 2 1-3 1 5 1-1 1-1 1 4 1-3 1-2 1 2 1-1 1 0 1 2 1-3 1 3 1-1 1 1 1-2 1 1 1 1 1 3 1-3 1-3 1 6 1-4 1 0 1 3 1-2 1-3 1 1 1 0 1-2 1 3 1-2 1 4 1 0 1-5 1-1 1 1 1 5 1-1 1 1 1-6 1 6 1 1 1-2 1-2 1 2 1-1 1-1 1 0 1 5 1-1 1-6 1 2 1-4 1 1 1 0 1 3 1-3 1 4 1-5 1 2 1 1 1 2 1 1 1-1 1 1 1 1 1 0 1-2 1-3 1-2 1 2 1 2 1-1 1-3 1 3 1-1 1 1 1 1 1 1 1-2 1 3 1 1 1-3 1-2 1 0 1 0 1 2 1 1 1-3 1-3 1 10 1-6 1 0 1 1 1 2 1 0 1 1 1-3 1 2 1-1 1 3 1-6 1 0 1 4 1-2 1 1 1 1 1-1 1-2 1-2 1 2 1-1 1 0 1 0 1 0 1 5 1-1 1-5 1 6 1 0 1-6 1 5 1-2 1 0 1 1 1-3 1 0 1 3 1-4 1 5 1 0 1-1 1-1 1 3 1-3 1 5 1-2 1 0 1 0 1-2 1-1 1 2 1-1 1 3 1-2 1-3 1 3 1 0 1-1 1-2 1 1 1 1 1 2 1-2 1 6 1-6 1 1 1-2 1 1 1-3 1 4 1 3 1-3 1 0 1-1 1-3 1 4 1-2 1-1 1-1 1 7 1-4 1 1 1 0 1 1 1-1 1-3 1-2 1 1 1 5 1-4 1 4 1-1 1-3 1 3 1-3 1 2 1 2 1-2 1 1 1-5 1-1 1 0 1 6 1-5 1 2 1 0 1 1 1 2 1-1 1-2 1-2 1 2 1 1 1 2 1 0 1-5 1 2 1 1 1 4 1 1 1-5 1-1 1-1 1 2 1 2 1 3 1-1 1 2 1-5 1-1 1-2 1 6 1 0 1-4 1 0 1 5 1-2 1-2 1 1 1-2 1 1 1 1 1-2 1 1 1-3 1 5 1-1 1 0 1 0 1-2 1-1 1 6 1-6 1 0 1 0 1 1 1-1 1 0 1 5 1-1 1-1 1 0 1 0 1-2 1 3 1 0 1 0 1-2 1-1 1 3 1-3 1 2 1-4 1 7 1-3 1-4 1 3 1 2 1 0 1-3 1 2 1-3 1 1 1 2 1 0 1-2 1-2 1 4 1 2 1 0 1-4 1-3 1 4 1-2 1 2 1-2 1 5 1-4 1 3 1 0 1-3 1 1 1 0 1-1 1 0 1-3 1 1 1 4 1-1 1 1 1 0 1-5 1 5 1-4 1-1 1-3 1 5 1 1 1 0 1 1 1-4 1-1 1 9 1-3 1-4 1 4 1 1 1-2 1 0 1 0 1 0 1-4 1 8 1-2 1 1 1-3 1 1 1-2 1 1 1-5 1 7 1-1 1-3 1 2 1-1 1 4 1-4 1 1 1-2 1 3 1 0 1 1 1-5 1 6 1-4 1 0 1-2 1 2 1 3 1-3 1 4 1-5 1 2 1 1 1 0 1-2 1 4 1-6 1 4 1-4 1 2 1-4 1 7 1-4 1 2 1 1 1-3 1 2 1 1 1 0 1 1 1-1 1-1 1-3 1 3 1 1 1-3 1 2 1 2 1 1 1-6 1 2 1-3 1 5 1 1 1-5 1 3 1 0 1 0 1 2 1-4 1 4 1-3 1 3 1-8 1 3 1 0 1 6 1-3 1 1 1 1 1 0 1-4 1 1 1 2 1 0 1 1 1-1 1 0 1 2 1-1 1 3 1-4 1-2 1 2 1-4 1 4 1-1 1-3 1 2 1 2 1-2 1 2 1-4 1 1 1 2 1-1 1-3 1 0 1 1 1 3 1 1 1 1 1-4 1 4 1-3 1-3 1 7 1-3 1 2 1-2 1-1 1 3 1 1 1-2 1-1 1 1 1 1 1-3 1 3 1 1 1-3 1-5 1 5 1 0 1 2 1 0 1 1 1-3 1 1 1 1 1-4 1 5 1-5 1 2 1 2 1-2 1 0 1-1 1 1 1-4 1 1 1 0 1 5 1-1 1-4 1 1 1 1 1 1 1-3 1 7 1-2 1 1 1-5 1 4 1-1 1-4 1 3 1-1 1 1 1-2 1-3 1 6 1-1 1-4 1-2 1 5 1-3 1 2 1 0 1 4 1 2 1-4 1 0 1 0 1 2 1-5 1 3 1-6 1 5 1 0 1-1 1 2 1 2 1-1 1-1 1 1 1-5 1 4 1-2 1 0 1 1 1 3 1-3 1-2 1 2 1 0 1 5 1-1 1-2 1-2 1-1 1 2 1-1 1 3 1-3 1-1 1 2 1-3 1 3 1 1 1 0 1-6 1 7 1-2 1 0 1 0 1 3 1-4 1-1 1 2 1 1 1-1 1-2 1 5 1-6 1 3 1-2 1 3 1-5 1 2 1-3 1 5 1 1 1-4 1 1 1 0 1-1 1 1 1 2 1 4 1 1 1-6 1-1 1 3 1-2 1 1 1-1 1-2 1 6 1-4 1-1 1 2 1-1 1 3 1-2 1-2 1 0 1 3 1-3 1 1 1-1 1 1 1-1 1 1 1-5 1 5 1-2 1 2 1 4 1-4 1-2 1 0 1 0 1 4 1-2 1 3 1-6 1-1 1 6 1 0 1 1 1 0 1-1 1 1 1-1 1-3 1 2 1-2 1 2 1-1 1 3 1-4 1 4 1-1 1 2 1-4 1 3 1-3 1-4 1 3 1 6 1-6 1 1 1-1 1 0 1-1 1 0 1 2 1 3 1-2 1-2 1 5 1-3 1 4 1-6 1-3 1 2 1 3 1-2 1-2 1-1 1 0 1 1 1 5 1-1 1-1 1 0 1 5 1-3 1 0 1-2 1 0 1 3 1 0 1-2 1 2 1-2 1 1 1 0 1-3 1 1 1 2 1-5 1 4 1 0 1-1 1-6 1 4 1 0 1 3 1-2 1-1 1 5 1-3 1-3 1-1 1 3 1-4 1 6 1-3 1 1 1 3 1-3 1 4 1-1 1-1 1 2 1-5 1 3 1 2 1-3 1 0 1 3 1-1 1-3 1-1 1 6 1-5 1-1 1-1 1 4 1 1 1-1 1 1 1-1 1 1 1-1 1 1 1-1 1-1 1 1 1 1 1-5 1 1 1 1 1 3 1-3 1 2 1-2 1 1 1-5 1 4 1 3 1-4 1-1 1 0 1 9 1-2 1-1 1 2 1-4 1-2 1-1 1 0 1 2 1-3 1 2 1 7 1-4 1 1 1-3 1 1 1 0 1-3 1 4 1 2 1-3 1-2 1 2 1 0 1 1 1 2 1-1 1 1 1-5 1 2 1-3 1 2 1 3 1-2 1-1 1-2 1 7 1-3 1-2 1 2 1-1 1 0 1-3 1-1 1 8 1 0 1-2 1-2 1 0 1 1 1-2 1-1 1 1 1 1 1 0 1 2 1-4 1 0 1 3 1-4 1 2 1-1 1 1 1 1 1-2 1 4 1-1 1 2 1-4 1 1 1 0 1 1 1-2 1 0 1 1 1 1 1-5 1 0 1 5 1-4 1 1 1 1 1 0 1 3 1-7 1-1 1 4 1 1 1 0 1 2 1-2 1 1 1 2 1-1 1 0 1 0 1 0 1-2 1 1 1 3 1-6 1 4 1-4 1 2 1-1 1 3 1-1 1 1 1-1 1-1 1 1 1-2 1 5 1 0 1-4 1-1 1-1 1-1 1 2 1 0 1 1 1 0 1 1 1-1 1 2 1-1 1-2 1 0 1-1 1 3 1 1 1-2 1 2 1 1 1-3 1 1 1-2 1 1 1 2 1 1 1-4 1 1 1 3 1 1 1 0 1-2 1-4 1 4 1-2 1 0 1 8 1-3 1-5 1 5 1-6 1 2 1 4 1-8 1 3 1-3 1 3 1 2 1-3 1-2 1 0 1 6 1-3 1 3 1 0 1-5 1 6 1-8 1 7 1 1 1-4 1 1 1 0 1 2 1-3 1 0 1 1 1 2 1 2 1-3 1 4 1-3 1-3 1-1 1 3 1 5 1-6 1-2 1 1 1-2 1 0 1 6 1-2 1 0 1-4 1 0 1 2 1-1 1 0 1 3 1 0 1-1 1 1 1 0 1-1 1 3 1 0 1-4 1-3 1-1 1 8 1-3 1 2 1 0 1-1 1-2 1 0 1 6 1-3 1-4 1 1 1 4 1 0 1-1 1-4 1-2 1 6 1-3 1 1 1-1 1 1 1 3 1-1 1 0 1-5 1 4 1-2 1 3 1 0 1-2 1 1 1-5 1 0 1 6 1-3 1-2 1 5 1-1 1-4 1 4 1-2 1 1 1 0 1 2 1-1 1 0 1-5 1 2 1 1 1 1 1-2 1 5 1 0 1 0 1-1 1 2 1-4 1 1 1-4 1 3 1 1 1-2 1 0 1 1 1-1 1-2 1 3 1-3 1 3 1-2 1 2 1 1 1-1 1 2 1 2 1-3 1 0 1 2 1-7 1 2 1 3 1-2 1 0 1 2 1 0 1 3 1-4 1-4 1 1 1 0 1 4 1 2 1-4 1 0 1 1 1 1 1-3 1 0 1 3 1-1 1 4 1-1 1-4 1 2 1 1 1-2 1-3 1 4 1 0 1 0 1-6 1 2 1 2 1 4 1-4 1 0 1 1 1 2 1-1 1 3 1-2 1-1 1 1 1-1 1 3 1-6 1 2 1 3 1-4 1 0 1 2"/>
<path stroke="#2a2eec" stroke-dasharray="5.25 8.66" d="M0 143l1-2 1-2 1-1 1 0 1 0 1 5 1-3 1 4 1-5 1 0 1-1 1 2 1 0 1 1 1 5 1-4 1-7 1 1 1 4 1-1 1 0 1 2 1-1 1-1 1 2 1-2 1-2 1 1 1 1 1 1 1-2 1 3 1 1 1-4 1 2 1 3 1-4 1-1 1-1 1 3 1-3 1 3 1 2 1-1 1-1 1 2 1-1 1-1 1 1 1-1 1 0 1 2 1-2 1-1 1 5 1-2 1-3 1 0 1 5 1-4 1-3 1 0 1 1 1 2 1 0 1 2 1-2 1-5 1 4 1 3 1-3 1 5 1-8 1 2 1 2 1 1 1 1 1-2 1 0 1 3 1-5 1 2 1 2 1-4 1 0 1 3 1 0 1-3 1 2 1-1 1-2 1 5 1 1 1-1 1 0 1-2 1-2 1 2 1-4 1 3 1 5 1-3 1-3 1-1 1 4 1-1 1-5 1 3 1 3 1 2 1-2 1-2 1 3 1-5 1 4 1 3 1-5 1 0 1 1 1-3 1 3 1-2 1 3 1-5 1 3 1 0 1-1 1 2 1-1 1 1 1-2 1 1 1 2 1-2 1-1 1 4 1-1 1 2 1-3 1-2 1-4 1 4 1-1 1-1 1 1 1 6 1-2 1-2 1 0 1 0 1 2 1 3 1-4 1-3 1 3 1-2 1 3 1-1 1 1 1-3 1 3 1-1 1-2 1 1 1 3 1-3 1 1 1 2 1-1 1-1 1-2 1 2 1 0 1-2 1 5 1-5 1 1 1 3 1-2 1-3 1 4 1 0 1-4 1-1 1-1 1 3 1 3 1 1 1-1 1 1 1-3 1-2 1 4 1-4 1 4 1 0 1 2 1-4 1 1 1 0 1 6 1-4 1-3 1 7 1-9 1 1 1-1 1 3 1-2 1-2 1-3 1 8 1-6 1 6 1-2 1 1 1 0 1 4 1-3 1 1 1-2 1-1 1 0 1 1 1-4 1 2 1 0 1-2 1 3 1 0 1-1 1 2 1-3 1 3 1 0 1 0 1 0 1 0 1 0 1 5 1-7 1 2 1-2 1 3 1-2 1 3 1-5 1 2 1 1 1 6 1 0 1-4 1-1 1 0 1 0 1-3 1 2 1 1 1 0 1 1 1-3 1 1 1 1 1-2 1 0 1-1 1 0 1 4 1 0 1-4 1 2 1-2 1 3 1 4 1 1 1-4 1-1 1-6 1 2 1 1 1-1 1 6 1-3 1 0 1-5 1 5 1 3 1-3 1 0 1-1 1 0 1 0 1 2 1 0 1-6 1 5 1-2 1 3 1 3 1-6 1 1 1-3 1 0 1 2 1 3 1-6 1 3 1-4 1 3 1 0 1 0 1 1 1 1 1-5 1 6 1 3 1-4 1 1 1-3 1 2 1-3 1 2 1 3 1-1 1-2 1 2 1 1 1-1 1-1 1-3 1 2 1-1 1 2 1-4 1-1 1 5 1 0 1 0 1-1 1 2 1 1 1 1 1-1 1-2 1-2 1 0 1 3 1 1 1 2 1-5 1 1 1-1 1-1 1 1 1 1 1 1 1 1 1 0 1-2 1-5 1 5 1 0 1-7 1 6 1 2 1-1 1 1 1 4 1-6 1 5 1-2 1 0 1-2 1 1 1 1 1 1 1-3 1 1 1 1 1 2 1-1 1-2 1 3 1-3 1 0 1-3 1 4 1 1 1-2 1 1 1 5 1-8 1 1 1 0 1 2 1-2 1 1 1-4 1 2 1-2 1 6 1 0 1-1 1 0 1-4 1 1 1 4 1-1 1-5 1 4 1-2 1 5 1-1 1-2 1 0 1 0 1-1 1-2 1 6 1-3 1-2 1 1 1-2 1 2 1 2 1 1 1-4 1 4 1-1 1-1 1-2 1 2 1 2 1-3 1 3 1 0 1 3 1-5 1 0 1 4 1-3 1-2 1 2 1 3 1-3 1-2 1 5 1-5 1 1 1-2 1 4 1-4 1 1 1-1 1 1 1-1 1 2 1 1 1 1 1 2 1-3 1 0 1-1 1 1 1-2 1 1 1 1 1-3 1-3 1 6 1 0 1-2 1 2 1-3 1 3 1 2 1-1 1-4 1 6 1-4 1 5 1-6 1 0 1-1 1-3 1 4 1-2 1 1 1-1 1 4 1-4 1 3 1-4 1 1 1 2 1-1 1 0 1 1 1-6 1 7 1 2 1 1 1-3 1 0 1-2 1-1 1 1 1 1 1 2 1-4 1-1 1 3 1-1 1 2 1-1 1 0 1-2 1 5 1-2 1-3 1 1 1-1 1 7 1-2 1-1 1 0 1 4 1-7 1 0 1 5 1-2 1-1 1-3 1 0 1 4 1 0 1-2 1-2 1 3 1 1 1-3 1 1 1-3 1 2 1-1 1 6 1 0 1 1 1-2 1-3 1 1 1-1 1 2 1-3 1-1 1 6 1 0 1-1 1-4 1 0 1-3 1 7 1-2 1 0 1 0 1 0 1 4 1-4 1 1 1 2 1-6 1 4 1-2 1 2 1 2 1-2 1-2 1 3 1-3 1-3 1 0 1 4 1 1 1-3 1 4 1 0 1-6 1 2 1 0 1 2 1-7 1-2 1 7 1-1 1 3 1-2 1-2 1 0 1 3 1-1 1-5 1 3 1-1 1 2 1 2 1 3 1 0 1 2 1-1 1-1 1-4 1 5 1-4 1 5 1-10 1 6 1-1 1-4 1 4 1 0 1 0 1-1 1 2 1-4 1 0 1 2 1-2 1 3 1 1 1 0 1-2 1 5 1-2 1-2 1 3 1-3 1 3 1-3 1 1 1-1 1 2 1 3 1 2 1-14 1 9 1 1 1 2 1-7 1 0 1 0 1 5 1-4 1 3 1-4 1 2 1 6 1-4 1 1 1-8 1 7 1 0 1-1 1 2 1 0 1-2 1-1 1 1 1 0 1 0 1 2 1-1 1-1 1-3 1 1 1 0 1-1 1 4 1-4 1 3 1 0 1 1 1-3 1 3 1-2 1 1 1 1 1-2 1 2 1-4 1 4 1 0 1-4 1 5 1-4 1 1 1 0 1 0 1 3 1-6 1 2 1 0 1 0 1-1 1 1 1 4 1 1 1 0 1-2 1-3 1 4 1-1 1-2 1 1 1 0 1 2 1-2 1 1 1 1 1-1 1-2 1-1 1 4 1-3 1 3 1 2 1-2 1-2 1 0 1-1 1 5 1-6 1 0 1 0 1 5 1-4 1 2 1 0 1-1 1 3 1-5 1-1 1 0 1-1 1 7 1-2 1 0 1 2 1-4 1-5 1 7 1-2 1 0 1 0 1 0 1-1 1 3 1 0 1-5 1 3 1 1 1 4 1-5 1-1 1 1 1-3 1 7 1-5 1 5 1 0 1 2 1-6 1 1 1 1 1-1 1 4 1-2 1-2 1 1 1-1 1 3 1-3 1 1 1-1 1-4 1 3 1 2 1-2 1 3 1-5 1 2 1 1 1-1 1 4 1-2 1 0 1-6 1 1 1-1 1 4 1 0 1-1 1 3 1 1 1-5 1 1 1 1 1 5 1-2 1-1 1 1 1-2 1 2 1 1 1-7 1 2 1 4 1-6 1 2 1 1 1 7 1-8 1 1 1-2 1-1 1 6 1-6 1 1 1 2 1 6 1-9 1 2 1 0 1 4 1-3 1-1 1-2 1 5 1 4 1-3 1 0 1-2 1 0 1-1 1-2 1-2 1 4 1 4 1-3 1 0 1 0 1 0 1 0 1 5 1-5 1-1 1 0 1 1 1-2 1 5 1-2 1-2 1 2 1-1 1-2 1 2 1 2 1-1 1-2 1 3 1-2 1 1 1-1 1-2 1 0 1 1 1 0 1-1 1 3 1-1 1 2 1-4 1 1 1 4 1-1 1-3 1 0 1 4 1-6 1 2 1 0 1 1 1 2 1 2 1-4 1 0 1 0 1-2 1 1 1 3 1-1 1-3 1 4 1-6 1 4 1-6 1 4 1 5 1-4 1 1 1 1 1-1 1 0 1 7 1-7 1 0 1 0 1-2 1 1 1 3 1-3 1 1 1-1 1 2 1-1 1 2 1-5 1 4 1-3 1 5 1-3 1 0 1-2 1 1 1-4 1-3 1 7 1-1 1 3 1 1 1-2 1-2 1 0 1 2 1-3 1 5 1 0 1-2 1 4 1-6 1 2 1 0 1-1 1 3 1-2 1 4 1-3 1-1 1-4 1 3 1-2 1 2 1 4 1-4 1 0 1 2 1-3 1 4 1-1 1-3 1 0 1 3 1-2 1 0 1-1 1 2 1 4 1-3 1-4 1 4 1-1 1-2 1 2 1 2 1-2 1 0 1 2 1-2 1 3 1 1 1-1 1-2 1-1 1 1 1-3 1 0 1 1 1-2 1-1 1 1 1 3 1-2 1-1 1 1 1 2 1-1 1 0 1 4 1-6 1 2 1-4 1 4 1 2 1-3 1 1 1-1 1 2 1 1 1 0 1 0 1-2 1 3 1-2 1-3 1 4 1-1 1 1 1 0 1-1 1-2 1-1 1 4 1-3 1 3 1 1 1 0 1 2 1-3 1 3 1-4 1-6 1 7 1 3 1-4 1 2 1-2 1 0 1-1 1-4 1 3 1 1 1 1 1 1 1 0 1 1 1-4 1 2 1-2 1 1 1-4 1 4 1-1 1 3 1-4 1 2 1 0 1 3 1-3 1-3 1 0 1 5 1-3 1 3 1 2 1 0 1-6 1 3 1 2 1-3 1 0 1 1 1-2 1 2 1-3 1 0 1 2 1 0 1-2 1 2 1-1 1 1 1 1 1 4 1-1 1-1 1-2 1-6 1 7 1 0 1 2 1-2 1-1 1-2 1 4 1-3 1 0 1 1 1 2 1 1 1-2 1-2 1 1 1 1 1-2 1 3 1-4 1-5 1 7 1-3 1 4 1-1 1-2 1-1 1 2 1-2 1 5 1-1 1-1 1-1 1 1 1-4 1 4 1-3 1 1 1-3 1 4 1-1 1 0 1 8 1-6 1-3 1-1 1 5 1-1 1-3 1 4 1 1 1-3 1-1 1-2 1 0 1 2 1 4 1-1 1-1 1-1 1 0 1-1 1 3 1 0 1 1 1-6 1 3 1-2 1-1 1 2 1 1 1 1 1 0 1 3 1-2 1-3 1 0 1-1 1 0 1 0 1 2 1 0 1-2 1 3 1 2 1-4 1 1 1-2 1 3 1 3 1-2 1 0 1 1 1-6 1 2 1 4 1 1 1-3 1-2 1 1 1-2 1 1 1 0 1 5 1-6 1 3 1-3 1 5 1 0 1-5 1 5 1-3 1 1 1-4 1 2 1-2 1 3 1 4 1-7 1 4 1-1 1 0 1 4 1-5 1 2 1 3 1 0 1 2 1-3 1-2 1 2 1-2 1 0 1-1 1 0 1 1 1 1 1 1 1 0 1-3 1 2 1-4 1 0 1 5 1-3 1-2 1 3 1-3 1 4 1-5 1 2 1 2 1 3 1-2 1 0 1-2 1 2 1-2 1 1 1-2 1 0 1 1 1-1 1-1 1 4 1-2 1 0 1-3 1 3 1-2 1 6 1-6 1 1 1 0 1-1 1 5 1-2 1 0 1 0 1 1 1-3 1 1 1 1 1 0 1-3 1-2 1 1 1 2 1 4 1-1 1 1 1 0 1-5 1 3 1-3 1 2 1 1 1 0 1 3 1-2 1-3 1 0 1 1 1-1 1 1 1 0 1-5 1 4 1 5 1 2 1-3 1-2 1-3 1 2 1 0 1-1 1 3 1-1 1-1 1 1 1 1 1-2 1-2 1 2 1 6 1-3 1-1 1-2 1 1 1 1 1-3 1-2 1 3 1 3 1 1 1-4 1 2 1-1 1 0 1-1 1 0 1 3 1-1 1-1 1 0 1 3 1-7 1 6 1-4 1 5 1-5 1 5 1-5 1 1 1-1 1 3 1-2 1 0 1 0 1 2 1-4 1 6 1 1 1 0 1-7 1 4 1 1 1 0 1-1 1 0 1 0 1 2 1-3 1 0 1-4 1 2 1 2 1 3 1-3 1-2 1-2 1 2 1 0 1 0 1-2 1 0 1 3 1 4 1-6 1 2 1 2 1 2 1 1 1-4 1 0 1-1 1-2 1 3 1-1 1 2 1 1 1 3 1-3 1-4 1 2 1-1 1 0 1-4 1 1 1 4 1 1 1-4 1 2 1 0 1-2 1 1 1 1 1-6 1 4 1 5 1-3 1 0 1-3 1 2 1 3 1-2 1 3 1-1 1-2 1 2 1 3 1-1 1-1 1-3 1 2 1-1 1 2 1-2 1 1 1-2 1 0 1-3 1 2 1 2 1 2 1-2 1-2 1-2 1 4 1 3 1 1 1-1 1-2 1 0 1 0 1-1 1-1 1 4 1-3 1 0 1 0 1 1 1 3 1-4 1 1 1-1 1-1 1 1 1-1 1 0 1 3 1 1 1-4 1 2 1-6 1 6 1-1 1 0 1-1 1 3 1-2 1-4 1 4 1 5 1-5 1-1 1-1 1 3 1-2 1-1 1 3 1-1 1-1 1-1 1 2 1 0 1-4 1-1 1 6 1-6 1 5 1-2 1 4 1-1 1 1 1-3 1 0 1 0 1 0 1 0 1-1 1 1 1 1 1 1 1 1 1 0 1-2 1-2 1 2 1-4 1 0 1 3 1 0 1 1 1 4 1-5 1 0 1 5 1-5 1 2 1 0 1 3 1-3 1-2 1 2 1-1 1 4 1-4 1 0 1 0 1-1 1-1 1 2 1-2 1-2 1 6 1-2 1 4 1-4 1-3 1 3 1 3 1-1 1-2 1 3 1 1 1-4 1 3 1-2 1 2 1 1 1-5 1-2 1 4 1-6 1 4 1 0 1 0 1 3 1-4 1 1 1 0 1 0 1 2 1-6 1 3 1 2 1-1 1 3 1-2 1-6 1 6 1-1 1 3 1-2 1-2 1 4 1 0 1-4 1 1 1-1 1 0 1 4 1 2 1 1 1-5 1 3 1 1 1-2 1-1 1-1 1 4 1-6 1 4 1-2 1 0 1 2 1-2 1-1 1-2 1-2 1-1 1 3 1 1 1 2 1 3 1-3 1 1 1 0 1 0 1-2 1 2 1-6 1 2 1 3 1-1 1-2 1 5 1-2 1 1 1-1 1 1 1-1 1-1 1-1 1 5 1-4 1 1 1 1 1-1 1-4 1 3 1 3 1-3 1 1 1-2 1 1 1-2 1 3 1 1 1-3 1-2 1 2 1-1 1 1 1 1 1 4 1-7 1 0 1 8 1-5 1 2 1 1 1 0 1-4 1 2 1 0 1 0 1 1 1-2 1 5 1 0 1-3 1 2 1-3 1 1 1-2 1 1 1-2 1 2 1-2 1 2 1 4 1-4 1 0 1 1 1-3 1 0 1-2 1 4 1 1 1-2 1-3 1 4 1-1 1 0 1 1 1-2 1-1 1 0 1 4 1-1 1 3 1-4 1 3 1-1 1-3 1 2 1-1 1 2 1-7 1 7 1 0 1-1 1-6 1 6 1-1 1-1 1 6 1-6 1 0 1-2 1-1 1 2 1-1 1 4 1 2 1-2 1-1 1 1 1-2 1 0 1-3 1 4 1 1 1-2 1 0 1 0 1-3 1 5 1-2 1-2 1 0 1 6 1-2 1-4 1 3 1-1 1 1 1-3 1 2 1 2 1-1 1-3 1 2 1 4 1 2 1-5 1 4 1-3 1 1 1-2 1 2 1 4 1-8 1 2 1 1 1-4 1 1 1 0 1 2 1 0 1-1 1 3 1-3 1 0 1 2 1 1 1-3 1 2 1-1 1 0 1 1 1 7 1-7 1-2 1 3 1 0 1-3 1 4 1-5 1 1 1-2 1 3 1 0 1 0 1 4 1-1 1-4 1 3 1 1 1-3 1-3 1 3 1 1 1 0 1-1 1 4 1-4 1 0 1-2 1 0 1 0 1-2 1 3 1 1 1-3 1 2 1 2 1 1 1-1 1 2 1-4 1 0 1-2 1 5 1 0 1 0 1-2 1-1 1 0 1 0 1 3 1-2 1 0 1 0 1-1 1 5 1-1 1-1 1 0 1 1 1-4 1-1 1-2 1 6 1 4 1-6 1 1 1 2 1-3 1 1 1 3 1-3 1 3 1-4 1 3 1 2 1-5 1-1 1 2 1 2 1-3 1 0 1 0 1 2 1 2 1-1 1-5 1 4 1-1 1 0 1-2 1 1 1 2 1-5 1 3 1 0 1 2 1 2 1-3 1 0 1-1 1 5 1-7 1 2 1-1 1 4 1-2 1-1 1-2 1 1 1 6 1-4 1 0 1 0 1-1 1-1 1-1 1 5 1 0 1-2 1-2 1 4 1-2 1 3 1-3 1 0 1-1 1-2 1 4 1-2 1 4 1-3 1-4 1 6 1-1 1 6 1-7 1-5 1 6 1-2 1-2 1 4 1-2 1 2 1 0 1-1 1-2 1 1 1 1 1 0 1-3 1 1 1 0 1 5 1-2 1 1 1-6 1 2 1-2 1 5 1 2 1-1 1-3 1 2 1-3 1-2 1 4 1-3 1 7 1-1 1-1 1-1 1 2 1-2 1-3 1-1 1 1 1 3 1-4 1 1 1 3 1-3 1 2 1-2 1 0 1 0 1-2 1-3 1 4 1 2 1 0 1-1 1 0 1 4 1-2 1-6 1 3 1-1 1 3 1-4 1 2 1 3 1 1 1-2 1-4 1 5 1 2 1 3 1-6 1 3 1-1 1 1 1 0 1-4 1 3 1-2 1 2 1 0 1-3 1 0 1 4 1-2"/>
<path stroke="#2a2eec" stroke-dasharray="33.61 8.40 5.25 8.40" d="M0 142l1-4 1 3 1 1 1-4 1 3 1-2 1-1 1 2 1 0 1-2 1-4 1 3 1 0 1 2 1 1 1-4 1 5 1 0 1-4 1 4 1 2 1-4 1-2 1-2 1-1 1 9 1-2 1-1 1-1 1 2 1-1 1-1 1 0 1 2 1-2 1 2 1 1 1-1 1-3 1 6 1-3 1-4 1 2 1 2 1-2 1-3 1 3 1 2 1-3 1 2 1 1 1-3 1 3 1 0 1-4 1 2 1-2 1 6 1 1 1-2 1-2 1 4 1-4 1 1 1 0 1-1 1 0 1 2 1-1 1 1 1-5 1 3 1 0 1 1 1-1 1-1 1 1 1 2 1-4 1 1 1 5 1 1 1-2 1 0 1 1 1-1 1-3 1-3 1 2 1 0 1-2 1-3 1 2 1 2 1 2 1 2 1-3 1-2 1 1 1 3 1-2 1 1 1 1 1 3 1-5 1 2 1-4 1 4 1-1 1 1 1-5 1 0 1 3 1-3 1 6 1-3 1 2 1-1 1 1 1-2 1 4 1-2 1-4 1 7 1-3 1 2 1 3 1-6 1 1 1-4 1 6 1-3 1-4 1 7 1-4 1-1 1 1 1-3 1 1 1 4 1 1 1-2 1-4 1 3 1-1 1 1 1-1 1 0 1-1 1-2 1 5 1 2 1-2 1 0 1-1 1-2 1 3 1 0 1-1 1-2 1 3 1-3 1-2 1 4 1-3 1 2 1 1 1-4 1 1 1 3 1-1 1 3 1 2 1-5 1 1 1-3 1 2 1 1 1 0 1 0 1 2 1-1 1 3 1 1 1-1 1-1 1-2 1 0 1-3 1-4 1 11 1-7 1 0 1 3 1-1 1 5 1-3 1-5 1 5 1 0 1-1 1-2 1 1 1 2 1-3 1 3 1-7 1 2 1 2 1 3 1 0 1 0 1 0 1-2 1 3 1-2 1 0 1 2 1-5 1 1 1 0 1 3 1 0 1-1 1 3 1-4 1 3 1-2 1-2 1 2 1 1 1 1 1-2 1 2 1-2 1-2 1 5 1-1 1-2 1 2 1 0 1 1 1-5 1 6 1-3 1-1 1 0 1 1 1-1 1 1 1 1 1-8 1 2 1 5 1 1 1-3 1-3 1 4 1-2 1 1 1-2 1 3 1 2 1-2 1-1 1 1 1-3 1 1 1 1 1 3 1-3 1-1 1 3 1-1 1 2 1-2 1 0 1 4 1-4 1 1 1 0 1-3 1 0 1-1 1 3 1-3 1 4 1-3 1 5 1-3 1 2 1 1 1-4 1 0 1-1 1 1 1 0 1 1 1 0 1-1 1-4 1 6 1 2 1-1 1 0 1-3 1-2 1 0 1 2 1-1 1-3 1 2 1-1 1 5 1-3 1-1 1 5 1-2 1-2 1 3 1-3 1-1 1 1 1 2 1 0 1-1 1-2 1 5 1-2 1-1 1 2 1 2 1-2 1 2 1-3 1 0 1 2 1-2 1 2 1 0 1-5 1 4 1 5 1-6 1 2 1 0 1-5 1 2 1-1 1 4 1 0 1 0 1-3 1 2 1 3 1-5 1 2 1-1 1-2 1-3 1 4 1-3 1 6 1-2 1-1 1 5 1-1 1-1 1-3 1 2 1 0 1 0 1-2 1 1 1 0 1 0 1-2 1 3 1-1 1 0 1-1 1-2 1 1 1 4 1-4 1-1 1-1 1 1 1 5 1-2 1-2 1-1 1 2 1 0 1 3 1-3 1 5 1-3 1-3 1 4 1-5 1-2 1 2 1 3 1 1 1 1 1-4 1 4 1-3 1 3 1-3 1 3 1-2 1 1 1-3 1 2 1 0 1-3 1 4 1 2 1-3 1 2 1-6 1 2 1 1 1 1 1 6 1-8 1 1 1 5 1-1 1-3 1-3 1 1 1 0 1 1 1 2 1 0 1-1 1 3 1-3 1-2 1 6 1-3 1-1 1-1 1-3 1 6 1-6 1 1 1-3 1 5 1 0 1 1 1-2 1 3 1 1 1-2 1-2 1 4 1-1 1 0 1-2 1-1 1 4 1 0 1-1 1 1 1-5 1-2 1 2 1 1 1 4 1 0 1-3 1-3 1 4 1-1 1-3 1-1 1 6 1-2 1-1 1 5 1-2 1-1 1 1 1-2 1 1 1 4 1-1 1 2 1-1 1-5 1 0 1-1 1-1 1 5 1-1 1-1 1-4 1 2 1 2 1-1 1 3 1 2 1-4 1 1 1-2 1 3 1 0 1-3 1 0 1-1 1 3 1-1 1-2 1-1 1 2 1 0 1 1 1 0 1 0 1-1 1 4 1-3 1 2 1-2 1 0 1 0 1 0 1 0 1 3 1-6 1 5 1 3 1-5 1-1 1 1 1 1 1 2 1-7 1 7 1-8 1 8 1 0 1-2 1 0 1-2 1 3 1-1 1 3 1-6 1 2 1 2 1-2 1-2 1 1 1 2 1-1 1-1 1 0 1 1 1-2 1 4 1-2 1 2 1-2 1 1 1-2 1 1 1-3 1 4 1-3 1 3 1 4 1-2 1-4 1 0 1 0 1 1 1-1 1 3 1-6 1 0 1 2 1 3 1 0 1-2 1 0 1 2 1-3 1-1 1 1 1 0 1 1 1 0 1 1 1 1 1-4 1 5 1-2 1-2 1-4 1 5 1-3 1 0 1 1 1-2 1 7 1-4 1 1 1-1 1 1 1 2 1 3 1-5 1 1 1 2 1-2 1 2 1 0 1-2 1-2 1 5 1-3 1-2 1 4 1-1 1-2 1-2 1 5 1 2 1-2 1-1 1-1 1 0 1 4 1-5 1 4 1-3 1-1 1-1 1 1 1 0 1 2 1 1 1-7 1 0 1 1 1 1 1 6 1-7 1 3 1 1 1-2 1 3 1-4 1 7 1-6 1 0 1 3 1-3 1-1 1 0 1 0 1 3 1-3 1 0 1-1 1 2 1 5 1-4 1 3 1 0 1-2 1 0 1 0 1-1 1 0 1 0 1 1 1-1 1-1 1 4 1 2 1-6 1 1 1 6 1-7 1-1 1 6 1 0 1-1 1 1 1-1 1-1 1-3 1 7 1-4 1-3 1 7 1-5 1 0 1 1 1-3 1-1 1 0 1-2 1 5 1 5 1-3 1-2 1-3 1 1 1 3 1-4 1 1 1 1 1 1 1-1 1-1 1 1 1 6 1-2 1-4 1-3 1 0 1 1 1-2 1 2 1-1 1 1 1 2 1 2 1 3 1-5 1 3 1-2 1-2 1 3 1-3 1 1 1 3 1-3 1-1 1 2 1-1 1 3 1-2 1-1 1 3 1-2 1-4 1 4 1 2 1 1 1-1 1 1 1 1 1-4 1-1 1 3 1-2 1-3 1 1 1 1 1-1 1 3 1-3 1-3 1 5 1 4 1-2 1 0 1-2 1-3 1 1 1-3 1 3 1 1 1 5 1-5 1 2 1 0 1-1 1-4 1 1 1 2 1 3 1-1 1-1 1-2 1 0 1 0 1 3 1-3 1-5 1 8 1 1 1-2 1-3 1 1 1 1 1-3 1 5 1 3 1 0 1-5 1-2 1 3 1 3 1-1 1-3 1-2 1 4 1 1 1 0 1 0 1-3 1 0 1 0 1 0 1 0 1 4 1 0 1-3 1-1 1-2 1 2 1 3 1-1 1-1 1-1 1 1 1-1 1-1 1 0 1 0 1 3 1-4 1-2 1 2 1-2 1 3 1 2 1-2 1 1 1 1 1-4 1 5 1-4 1 3 1 3 1-5 1 1 1 0 1-1 1-1 1 1 1 1 1 0 1-1 1 2 1-2 1 5 1-3 1-1 1-2 1 4 1-1 1-2 1-5 1 4 1 0 1 3 1-6 1 5 1 0 1 0 1 3 1 0 1-2 1 1 1-4 1 3 1-6 1 4 1 2 1-1 1-1 1 1 1-1 1 1 1 2 1-1 1-4 1 3 1 0 1 4 1-2 1-2 1 1 1-3 1 0 1 3 1 0 1-2 1 0 1 2 1 3 1-6 1 2 1 0 1 2 1-5 1 3 1 0 1 5 1-3 1-1 1-1 1-1 1 2 1-3 1 2 1 1 1 0 1 3 1 2 1-8 1 6 1-2 1-2 1 2 1-4 1 6 1-3 1-2 1-3 1 0 1 5 1-2 1 1 1 3 1-1 1-3 1 2 1 2 1-1 1 2 1 1 1-4 1-1 1-2 1 6 1 0 1-4 1 0 1 1 1 2 1-1 1 2 1-6 1 1 1 3 1-4 1 5 1-3 1 0 1 2 1-4 1 6 1-2 1 0 1 3 1 0 1-4 1-1 1 3 1-3 1 0 1-1 1 2 1 0 1-1 1 2 1 1 1 1 1-4 1-2 1 6 1-2 1-3 1-2 1 2 1 3 1-3 1-4 1 4 1 0 1-3 1 7 1-4 1-2 1 1 1 1 1 2 1 1 1 1 1-1 1 1 1-2 1 0 1 1 1-1 1-1 1 3 1-3 1 0 1-1 1 2 1 0 1-1 1 0 1 1 1 0 1 1 1-1 1 1 1 0 1 1 1-5 1 3 1 0 1 1 1-2 1-2 1 3 1-1 1 0 1-1 1 1 1 0 1 1 1 3 1-5 1-2 1 4 1-2 1 1 1-3 1 4 1-2 1-2 1 1 1 1 1 1 1 1 1-1 1 2 1-5 1 1 1 2 1 3 1-5 1-1 1 1 1 0 1 0 1 2 1 0 1 0 1-3 1 4 1 2 1-3 1 0 1 0 1 0 1 2 1 0 1-1 1-1 1-1 1-1 1 1 1 1 1 2 1-1 1 3 1-2 1-2 1-1 1 3 1-4 1 7 1-5 1 0 1 0 1-1 1 2 1-5 1 4 1 1 1-1 1 4 1-3 1 2 1-5 1 3 1 0 1 3 1-7 1 6 1 1 1-1 1 2 1-1 1-2 1-4 1 0 1 4 1 0 1-3 1-1 1 4 1-1 1 0 1-1 1 1 1-4 1 3 1-2 1 1 1-6 1 3 1 7 1-3 1 4 1-6 1 3 1 4 1-2 1-1 1-4 1 2 1-1 1 3 1 0 1 2 1-2 1-1 1 0 1 1 1-1 1 1 1-2 1 2 1 0 1 1 1 0 1-1 1 1 1-4 1-1 1 1 1 0 1 4 1 0 1-1 1-1 1-2 1 0 1 4 1-2 1-2 1 2 1-1 1 4 1-3 1 0 1 4 1-5 1-2 1 0 1 3 1 0 1 1 1-2 1 0 1-3 1 3 1-1 1 2 1 1 1-1 1 2 1 0 1-3 1-1 1 3 1 1 1-1 1 0 1-2 1 1 1 3 1-1 1-3 1-4 1 3 1 4 1 0 1-2 1 0 1 0 1-4 1 5 1 1 1-2 1 0 1-1 1-1 1 1 1-1 1 1 1 0 1 4 1-1 1-1 1-2 1 2 1 1 1 0 1-5 1 5 1-2 1 0 1-3 1 1 1 2 1-2 1-1 1 3 1 3 1 0 1-3 1 2 1-2 1-3 1 2 1-4 1 4 1 3 1-2 1-2 1 4 1-3 1-3 1 2 1-2 1 6 1-3 1 4 1 1 1 0 1-6 1 1 1-2 1 4 1 2 1-4 1 2 1 2 1-4 1-2 1 4 1-1 1-1 1 2 1 1 1-2 1-4 1 5 1-3 1 0 1 1 1 1 1 1 1-2 1 1 1 5 1-5 1 1 1-1 1-5 1 3 1 6 1-3 1 1 1-4 1 8 1-6 1 0 1 0 1-1 1-3 1 7 1-2 1-1 1 0 1 0 1-1 1 0 1 1 1 4 1-5 1-3 1 0 1 2 1-1 1 5 1-4 1 0 1 1 1-2 1 2 1 1 1 2 1 2 1-3 1-5 1-1 1 5 1-1 1-3 1 5 1 0 1 2 1-6 1 3 1 0 1 0 1 1 1-7 1 2 1-2 1 9 1-5 1 2 1 2 1-2 1-4 1 0 1 4 1-8 1 3 1 5 1 1 1 0 1-1 1 0 1 1 1-4 1 3 1-1 1 1 1 0 1-3 1 2 1-2 1 2 1-2 1 2 1-3 1 5 1-4 1 1 1 3 1 0 1 3 1-3 1-2 1 1 1-3 1 7 1-3 1 1 1-1 1-3 1 1 1-3 1 3 1 2 1-1 1 3 1-1 1-2 1-3 1 4 1 1 1 1 1 0 1-3 1 0 1-1 1 1 1-3 1 6 1-3 1-2 1 2 1-1 1 1 1 0 1-1 1 2 1-1 1-2 1 4 1-4 1-1 1-2 1 4 1-2 1 6 1 0 1-3 1 2 1 0 1 0 1-1 1 0 1 1 1-2 1 1 1-1 1-1 1-1 1 2 1 1 1 0 1 1 1-3 1 1 1-3 1 2 1 1 1-2 1 2 1 0 1-1 1 0 1 2 1-3 1 1 1 0 1 1 1-1 1 4 1-6 1 8 1-2 1-1 1-3 1 1 1-1 1 3 1-4 1-1 1 7 1-4 1 4 1-2 1-3 1 1 1 3 1-1 1-4 1 1 1-1 1 5 1-4 1 0 1 3 1-5 1 2 1-1 1 2 1-1 1-1 1 2 1 0 1-1 1 1 1 2 1-2 1 0 1-1 1 2 1-4 1 0 1-1 1-1 1 2 1 3 1 2 1-4 1 1 1-1 1-2 1 3 1 3 1-3 1 1 1 2 1-3 1 1 1-1 1 3 1-2 1 0 1 0 1 1 1-2 1 3 1-3 1-2 1 2 1 0 1 2 1-2 1 0 1 0 1 0 1-1 1 1 1 4 1 0 1-3 1-5 1 2 1 2 1 1 1 1 1-2 1 1 1 0 1 1 1 0 1 1 1 0 1-1 1-4 1 1 1-1 1 3 1-1 1 2 1-1 1 0 1 3 1-3 1 2 1-3 1 2 1 2 1 0 1-1 1-5 1 5 1-1 1-1 1 0 1 0 1-2 1 3 1-5 1 0 1 3 1-2 1 2 1 1 1 2 1 0 1-3 1 0 1-3 1 0 1 1 1 2 1-3 1 3 1 6 1-4 1-2 1-1 1 0 1 0 1 7 1-9 1 2 1 1 1 5 1-5 1 3 1 2 1-5 1 0 1 1 1 2 1-3 1 1 1-1 1 0 1 4 1-4 1 3 1-3 1 2 1 0 1-4 1 2 1 0 1-1 1-3 1 10 1-5 1 0 1-3 1 2 1 1 1-2 1 2 1 2 1-2 1-4 1 2 1 6 1-3 1 1 1-4 1 4 1-2 1-1 1-1 1 3 1-2 1-4 1 5 1 0 1 2 1-2 1-1 1 0 1-1 1 4 1-2 1 0 1 6 1-7 1 0 1 2 1-3 1 0 1 6 1-4 1-6 1 4 1-1 1 6 1 1 1-1 1-5 1-1 1 8 1-6 1 5 1 0 1-3 1 0 1-1 1-1 1-2 1 3 1 1 1 1 1-7 1 1 1 0 1 2 1 1 1-3 1 3 1 4 1 1 1-9 1 6 1 0 1-1 1-3 1 5 1-2 1-1 1 3 1-2 1-3 1 2 1 0 1-1 1 2 1 1 1 0 1-3 1 5 1 0 1-4 1-2 1 2 1 2 1 3 1-5 1 0 1 0 1 0 1 3 1 0 1-2 1 0 1 3 1 0 1-2 1-4 1-3 1 4 1 2 1-1 1 1 1 2 1 5 1-6 1 0 1-1 1 2 1-1 1-1 1 3 1-1 1-3 1-1 1 5 1-4 1-2 1 1 1 0 1 1 1 0 1 2 1-4 1 2 1 4 1-4 1-1 1 0 1 4 1-3 1 7 1-9 1 1 1 5 1 2 1-9 1 2 1 3 1-2 1 1 1 0 1-1 1 0 1 3 1-2 1-1 1 3 1-4 1 0 1 4 1-6 1 2 1-2 1 5 1 0 1-1 1 1 1-1 1 3 1-7 1 2 1-2 1-1 1 4 1-4 1 9 1-3 1 0 1-1 1 2 1-4 1-3 1 3 1 0 1 6 1-2 1-3 1 2 1-2 1 2 1-2 1 4 1-4 1-3 1 2 1-3 1 4 1-1 1 4 1-4 1 0 1 2 1-3 1 5 1-1 1-2 1 3 1 0 1-4 1 2 1 2 1-1 1 0 1 1 1-3 1 3 1 1 1-3 1 0 1-3 1 5 1-1 1-3 1 1 1 2 1 1 1-3 1 1 1 2 1-1 1 0 1-3 1 7 1-3 1-4 1 5 1-2 1-3 1 4 1 0 1 0 1-2 1 1 1 1 1-2 1-1 1-2 1 3 1 0 1 1 1-3 1-1 1 4 1 4 1-8 1 6 1 1 1-2 1-6 1 1 1 3 1-2 1 2 1-3 1 3 1-3 1 1 1 3 1 3 1-6 1 0 1 4 1 0 1-1 1 0 1 0 1-1 1 0 1 1 1-5 1 4 1 1 1-2 1 3 1-3 1 1 1-2 1 4 1 2 1-6 1 2 1-4 1 2 1 2 1-1 1 3 1 0 1-2 1 0 1 3 1-4 1 0 1-2 1 5 1-3 1 2 1 0 1-3 1 1 1-1 1 0 1-1 1 4 1 1 1-3 1 0 1 2 1-2 1 2 1 0 1-1 1-1 1-1 1 2 1-1 1 2 1-3 1 0 1 2 1-5 1 4 1 1 1 0 1-1 1 0 1 1 1-2 1-1 1-1 1 1 1 2 1 2 1-3 1-2 1-2 1 5 1 2 1 0 1-2 1-2 1 3 1 2 1 2 1-6 1 4 1-3 1 0 1 4 1 0 1-5 1 1 1 1 1-3 1 2 1 0 1 0 1 0 1-2 1 3 1-3 1-1 1 4"/>
<path stroke="#fa7c17" stroke-linecap="round" d="M0 607l1 3 1-2 1-3 1 0 1 3 1-1 1 0 1 0 1 1 1-4 1 9 1-3 1-3 1 1 1-1 1 0 1 1 1 0 1 2 1-2 1-2 1-1 1 1 1 2 1 1 1 3 1-3 1 1 1 0 1-1 1-1 1 0 1 0 1 3 1-1 1-3 1 1 1-1 1 1 1-3 1-1 1-3 1 7 1-2 1 5 1-4 1 0 1 2 1-4 1 2 1 4 1-6 1 2 1-1 1 3 1 1 1 1 1 0 1-4 1 0 1 4 1-2 1-1 1 2 1-2 1 2 1-4 1 2 1 0 1 8 1-5 1-2 1 1 1-1 1 2 1-4 1 3 1 0 1-5 1 0 1 3 1 3 1 2 1-4 1-1 1 1 1 0 1-5 1 2 1 2 1 1 1 0 1-1 1 1 1-1 1 1 1-2 1 1 1 3 1-9 1 5 1 2 1 2 1-2 1 1 1-5 1 2 1 2 1 3 1-5 1 5 1-4 1 0 1 6 1-4 1-5 1 5 1 4 1-1 1-3 1-2 1-2 1 1 1 3 1 0 1-1 1 0 1 2 1-3 1-2 1 2 1 0 1 3 1-3 1 2 1 1 1-4 1 1 1 1 1 3 1-3 1-4 1 2 1 1 1-3 1-2 1 3 1-1 1 2 1 0 1 0 1-2 1 4 1-1 1-1 1 1 1 2 1-3 1 2 1 3 1-5 1 4 1-4 1 7 1-5 1-5 1 4 1-3 1 3 1 2 1-1 1-3 1-1 1-1 1 1 1 3 1 5 1-2 1-6 1 6 1-3 1-1 1 5 1-4 1 1 1-1 1 0 1 1 1 1 1 3 1-8 1 5 1-1 1 0 1 0 1 1 1-3 1 1 1 1 1 1 1-3 1 3 1-3 1-2 1 0 1 1 1 6 1-5 1 0 1-2 1 4 1 0 1-4 1 4 1-3 1 1 1 6 1-3 1-1 1 2 1 2 1-4 1 2 1-1 1 1 1-2 1-2 1-1 1 0 1 3 1 0 1-2 1-2 1 3 1 3 1-3 1-1 1 2 1-3 1 3 1-1 1-1 1-3 1 6 1-3 1-1 1 2 1-2 1 3 1 2 1 1 1-2 1 1 1-3 1 0 1 3 1-6 1 2 1 5 1 1 1-4 1-4 1 3 1-2 1-2 1 2 1 2 1 3 1-1 1-5 1 3 1 2 1 0 1-1 1-3 1 3 1-5 1 3 1 0 1 3 1-2 1-1 1-1 1 3 1-1 1 4 1-1 1-8 1 5 1 2 1-4 1 2 1-6 1 5 1-1 1 2 1-2 1 2 1-6 1 7 1-2 1-1 1 4 1 0 1 0 1 3 1-5 1 7 1-2 1-1 1-4 1 1 1-3 1-1 1 2 1 3 1-3 1 3 1-1 1-1 1-3 1-4 1 3 1 4 1-2 1-1 1 4 1-1 1 2 1 0 1-2 1 0 1 2 1-2 1 3 1-2 1-1 1 1 1 3 1-1 1-3 1-2 1-1 1 0 1-1 1 4 1-2 1 3 1-5 1 1 1 5 1-3 1-1 1 4 1-2 1-2 1-3 1 5 1-3 1 5 1 0 1-5 1 1 1 3 1-4 1 1 1 1 1 2 1 5 1-5 1-3 1 2 1-2 1 2 1-3 1 9 1-6 1 2 1-2 1-1 1-2 1 1 1-1 1 5 1-2 1 5 1-5 1 4 1-6 1 1 1 2 1 1 1-2 1 2 1 2 1-4 1 2 1-2 1 2 1 1 1-7 1 2 1-1 1 3 1 0 1 0 1-4 1 2 1 2 1 0 1 0 1-2 1 2 1 0 1-3 1 0 1 1 1-3 1 4 1 4 1 1 1-3 1-1 1-2 1 5 1 1 1-3 1 0 1 3 1-3 1-2 1 2 1-6 1 3 1 4 1-1 1 3 1-8 1 4 1 1 1-2 1 2 1 1 1-1 1-3 1 0 1 5 1 2 1-5 1 1 1 1 1-4 1 1 1 2 1-2 1 3 1 0 1-6 1 4 1-1 1 2 1 0 1 2 1 1 1-6 1-3 1 3 1 0 1 3 1 0 1-4 1-3 1 3 1 2 1-2 1 2 1 3 1 1 1-2 1 0 1 5 1 0 1-7 1-1 1 0 1 2 1 2 1-1 1-1 1 1 1-3 1 3 1 5 1-6 1-2 1 2 1-2 1-1 1 9 1-6 1 3 1-4 1 0 1-1 1 2 1 2 1-2 1-6 1 4 1 4 1-1 1 0 1-4 1 2 1 2 1-1 1 2 1-3 1 4 1-1 1-2 1 3 1 1 1-1 1-6 1 1 1 1 1-1 1 0 1 3 1 2 1-5 1 3 1-2 1 5 1-3 1 2 1-4 1-1 1 1 1-1 1 3 1-2 1 0 1 3 1-3 1 0 1 0 1 1 1 0 1-1 1 1 1-1 1 4 1-5 1 4 1-4 1 5 1-1 1-2 1-1 1 2 1 1 1-3 1-1 1 4 1 1 1-1 1-1 1 3 1-1 1-4 1 3 1 0 1-5 1 0 1-1 1 3 1 1 1 1 1 3 1 2 1-5 1 1 1-3 1-1 1 5 1 1 1-4 1-3 1-1 1 5 1-1 1-3 1 4 1 2 1-6 1 4 1 2 1-6 1 3 1 1 1-2 1-3 1 1 1 2 1 0 1 0 1 0 1 5 1-4 1 3 1-1 1-2 1 0 1-1 1 1 1-1 1-4 1 7 1-4 1-3 1 5 1 1 1-1 1-1 1 2 1 0 1-1 1 0 1-3 1 3 1-2 1 0 1 1 1 0 1 3 1 0 1-3 1 0 1 1 1-3 1 2 1 1 1 0 1-3 1 1 1 1 1 4 1-6 1 5 1-2 1 3 1 1 1 4 1-7 1-1 1 1 1 0 1 3 1-3 1 0 1 3 1-2 1-1 1 2 1-5 1 5 1-7 1 1 1 4 1-4 1 0 1 0 1 2 1 3 1 4 1-5 1 0 1 1 1-6 1 2 1 5 1-2 1-2 1 4 1-3 1 1 1 3 1-4 1-1 1 7 1-6 1 2 1-1 1 3 1-1 1-6 1 1 1 2 1 0 1 2 1-1 1 1 1-2 1 3 1-3 1-2 1 3 1-1 1 0 1 1 1 3 1-6 1 2 1 1 1-4 1 5 1 0 1 0 1 1 1-2 1 1 1-5 1 4 1-3 1 4 1-1 1-1 1 2 1-3 1 2 1 1 1-3 1 3 1-3 1-1 1 0 1-2 1 4 1-3 1 4 1 3 1-3 1-5 1 6 1-6 1 7 1-4 1 0 1 2 1 5 1-6 1-1 1 0 1-1 1 4 1-6 1 1 1 4 1-6 1 4 1 0 1-1 1 4 1 1 1-2 1 2 1-2 1-4 1 5 1-2 1 2 1-3 1 4 1 0 1-2 1-5 1 6 1 3 1-2 1-4 1-1 1 2 1 0 1 3 1-3 1 1 1 1 1-4 1 0 1 3 1-1 1 5 1-1 1-6 1 5 1 0 1-5 1 7 1-2 1-4 1 2 1 2 1 0 1-2 1 2 1-3 1 1 1 0 1-3 1 3 1 2 1-2 1-1 1 1 1 3 1-4 1 4 1 2 1-7 1-2 1 3 1 2 1-4 1 5 1-2 1 1 1-3 1 0 1 3 1-4 1 0 1 2 1 1 1 0 1 2 1-2 1 0 1-2 1 2 1 0 1-1 1-2 1 1 1 1 1 1 1-4 1 3 1 3 1-3 1 4 1-2 1-3 1 1 1 1 1-2 1-2 1 5 1 1 1-1 1 1 1-3 1-2 1 2 1 3 1 1 1-3 1 1 1-2 1 3 1-1 1 0 1-4 1 0 1 1 1 1 1-1 1 5 1-5 1 2 1-4 1 1 1-1 1 4 1-7 1 4 1 1 1 2 1-1 1 5 1-7 1 1 1 1 1-3 1 1 1 1 1 2 1-1 1 3 1 0 1-3 1 2 1 1 1-2 1 4 1-8 1 5 1 0 1-5 1 6 1 3 1-5 1 0 1-3 1 2 1 4 1-3 1 0 1-4 1 2 1 3 1 0 1-1 1 0 1-1 1 0 1 3 1-3 1-2 1 5 1 1 1-5 1 0 1-1 1-2 1 4 1 2 1-2 1 2 1-2 1-2 1 2 1-1 1 1 1-1 1 4 1-6 1 4 1 0 1 1 1-1 1 0 1 4 1-7 1 1 1 2 1-1 1-2 1 0 1 1 1-1 1 8 1-7 1 2 1 1 1 1 1-2 1 3 1-4 1 2 1-3 1 5 1-4 1 1 1 2 1-5 1-1 1 5 1-1 1-4 1 2 1 3 1 1 1 0 1-3 1-2 1 3 1 2 1 0 1 2 1-5 1 1 1-3 1-3 1 1 1 5 1 0 1 3 1 2 1-9 1 2 1 5 1-4 1 5 1-3 1-1 1 1 1 0 1-3 1 3 1-4 1 6 1-2 1-5 1 5 1 1 1-2 1 1 1-2 1-2 1 1 1 1 1 2 1-2 1-1 1 3 1 0 1 2 1-3 1-1 1 2 1 2 1-1 1-3 1 2 1-3 1 3 1 1 1-4 1 3 1-4 1 7 1-3 1 0 1 0 1-2 1 5 1-8 1 4 1-6 1 3 1 2 1 4 1-7 1 1 1-1 1 7 1 1 1-3 1-2 1-1 1-2 1 5 1 2 1-4 1 3 1-2 1-5 1 5 1-1 1 0 1 0 1 0 1-1 1 1 1-3 1 1 1 4 1-4 1 2 1 1 1 1 1-3 1 1 1 2 1 1 1-5 1 3 1 1 1-7 1 4 1 0 1 1 1 0 1 3 1-4 1 1 1 2 1-1 1-5 1 3 1 1 1 2 1 0 1-2 1-2 1 2 1-2 1 4 1 0 1-2 1-2 1 3 1-3 1 5 1-5 1-1 1 4 1-1 1-1 1 3 1 0 1 0 1-3 1-1 1 4 1 0 1-3 1 3 1-1 1-2 1 1 1-2 1 2 1 0 1 2 1 4 1-4 1 3 1-6 1-1 1 1 1-2 1-2 1 8 1-2 1-2 1 2 1 0 1-3 1 1 1 4 1-5 1 4 1-2 1-1 1 5 1-7 1 1 1 1 1-1 1 2 1-1 1 0 1 6 1-1 1-5 1 3 1-2 1 1 1-2 1 5 1-3 1-1 1 0 1 0 1 0 1-1 1 0 1 2 1-4 1 3 1 2 1-3 1 4 1-4 1 2 1-1 1 0 1-1 1 3 1 0 1-2 1 2 1-1 1 0 1 0 1 1 1 1 1-1 1 2 1 0 1-9 1 4 1-1 1 1 1 0 1 1 1-2 1 2 1 0 1 3 1-4 1 2 1 0 1-1 1 0 1 0 1-2 1 4 1 3 1-3 1 4 1-4 1-4 1-2 1 6 1-2 1 3 1-3 1-3 1 4 1-4 1 2 1-5 1 6 1 2 1-4 1 0 1 0 1 4 1-2 1 1 1-4 1 1 1 3 1 1 1 2 1-2 1-1 1-2 1-1 1 3 1-4 1 7 1-3 1-2 1 2 1-1 1-2 1 3 1-1 1-3 1 5 1-4 1 2 1 3 1-3 1-2 1 2 1-1 1 0 1 1 1 0 1-2 1 0 1 2 1 4 1 0 1-2 1-4 1 0 1-2 1 2 1 1 1 1 1-3 1 5 1-2 1 0 1 1 1-3 1 0 1 1 1 1 1 3 1 1 1 2 1-2 1-4 1-3 1 5 1-4 1-3 1 1 1-1 1 4 1 2 1-2 1-1 1 0 1 1 1-1 1 3 1-3 1 6 1-7 1-1 1-2 1 7 1 0 1 1 1 2 1 2 1-7 1 1 1 0 1 4 1-4 1-5 1 4 1-1 1 4 1-4 1 1 1 0 1 0 1 1 1-2 1 2 1 1 1 2 1 0 1-5 1-1 1 2 1 1 1 1 1-1 1-3 1 2 1 2 1-3 1 0 1 5 1-1 1-5 1 1 1 2 1-1 1 3 1 1 1-2 1-1 1-4 1 3 1 0 1-3 1 4 1 0 1 0 1-1 1 0 1-1 1 4 1 1 1-2 1 3 1-7 1 4 1 0 1-2 1 0 1-1 1 2 1 3 1-2 1 1 1 2 1-3 1-3 1 4 1 0 1 0 1-3 1 5 1-4 1 0 1 0 1 2 1-1 1-5 1 3 1 2 1-3 1 5 1-5 1 2 1-6 1 0 1 3 1 1 1 3 1-2 1-1 1 5 1 1 1-4 1 1 1-1 1 0 1 0 1 1 1-2 1-3 1 0 1 4 1 0 1 0 1 3 1 1 1-3 1-2 1-1 1 3 1-2 1 1 1 1 1-3 1 6 1 2 1-9 1 3 1-2 1 2 1 2 1 1 1 2 1-4 1 2 1-2 1-1 1 0 1 0 1-3 1 2 1 0 1 1 1-3 1 0 1 4 1-2 1 1 1 1 1 1 1-6 1 2 1 7 1-6 1-3 1 3 1 1 1 0 1-2 1 3 1-2 1 4 1-5 1 4 1-1 1-2 1-1 1 3 1 1 1-5 1 4 1 1 1 0 1-3 1-1 1-1 1 2 1 2 1-2 1-1 1 4 1 0 1-1 1-5 1 4 1 0 1 0 1-1 1 0 1 3 1 5 1-7 1 5 1-5 1-1 1-1 1 4 1-2 1-1 1-1 1-1 1 5 1 0 1-1 1-1 1-2 1 0 1 1 1-3 1 2 1 4 1-4 1 5 1 1 1-2 1 0 1-1 1-1 1 2 1 0 1-3 1 0 1 2 1 1 1-1 1 2 1 1 1-5 1-1 1 3 1-4 1 3 1-1 1 0 1 1 1 0 1-3 1 0 1 7 1-5 1 6 1-2 1-3 1 3 1-5 1 2 1-1 1 0 1-1 1-1 1 6 1-2 1-1 1-2 1 0 1 2 1 3 1 1 1-1 1-3 1 0 1-3 1 2 1-1 1 5 1-3 1 1 1 1 1-4 1 2 1 0 1 0 1 3 1 1 1-7 1 2 1 1 1 0 1 1 1 0 1 1 1-2 1 0 1-2 1-2 1 6 1-3 1 2 1-6 1 4 1-1 1 3 1-4 1 4 1 2 1 3 1-5 1 0 1-1 1 2 1-1 1-1 1 3 1-7 1-2 1 4 1 0 1 0 1 0 1 4 1-2 1-4 1 4 1 1 1 1 1-1 1 4 1-4 1-3 1 1 1 0 1 1 1 0 1 2 1 3 1-8 1 1 1 7 1-8 1 3 1-2 1 2 1 1 1-3 1 2 1 6 1-6 1 0 1 0 1 1 1-2 1-3 1 1 1 2 1 0 1 3 1-6 1 8 1-1 1-2 1-1 1-1 1 2 1-5 1 0 1 8 1-1 1 1 1-7 1 3 1 4 1-3 1 2 1-2 1-3 1 4 1-2 1-1 1 2 1-2 1 2 1-2 1 1 1 1 1-4 1 0 1 3 1 7 1-6 1 0 1-2 1 1 1 1 1 0 1-4 1-1 1 0 1 6 1-1 1-1 1 5 1-6 1 3 1-4 1 3 1-2 1 5 1 3 1-4 1 1 1 0 1-2 1-2 1-2 1 4 1 2 1-3 1 2 1 1 1-2 1-4 1 1 1 6 1-8 1 6 1-2 1 1 1-3 1 0 1-2 1 2 1 2 1-3 1 6 1 0 1 1 1-3 1 0 1 1 1-4 1 0 1 2 1 3 1-8 1 3 1 3 1-2 1 0 1 2 1-3 1 1 1 1 1-3 1 3 1-4 1 2 1 2 1-3 1 3 1-2 1-2 1 3 1 2 1-3 1-1 1 7 1-5 1-3 1 4 1-3 1 2 1 2 1-1 1-2 1 2 1 1 1-2 1-2 1 7 1-7 1-1 1 5 1-1 1-2 1 1 1-4 1 3 1 2 1 0 1-1 1 2 1 0 1 0 1-5 1 1 1 4 1-3 1 7 1-5 1-2 1 0 1 0 1 0 1 3 1-1 1 0 1 3 1-3 1 1 1-3 1-5 1 0 1-1 1 6 1 2 1-2 1 3 1-3 1 2 1-2 1 2 1-5 1 0 1 1 1 5 1-4 1 2 1 3 1-3 1-3 1 6 1-4 1 1 1 0 1-1 1 1 1 2 1-4 1 7 1-6 1 4 1-5 1 4 1-5 1 6 1-7 1 3 1 1 1 1 1-3 1 2 1-2 1 1 1 3 1-6 1 3 1 0 1 0 1 1 1-4 1 2 1 2 1 0 1 0 1 3 1-5 1 4 1-5 1 2 1-1 1 1 1 1 1-6 1 6 1 2 1-3 1-3 1 6 1-1 1-3 1-1 1 1 1 2 1-1 1 2 1-2 1 1 1-1 1 1 1-2 1 1 1 2 1-4 1 2 1 1 1 0 1-4 1 3 1 0 1 2 1 0 1 0 1 1 1 1 1-2 1 2 1-4 1-1 1 4 1-3 1 3 1-2 1-1 1 5 1 3 1-7 1-1 1 1 1 1 1 1 1 5 1-9 1 7 1-4 1 0 1-1 1 3 1 0 1-3 1 3 1-2 1 3 1-3 1-2 1 1 1-1 1 4 1-1 1 0 1-5 1 4 1 0 1-3 1 2 1-2 1 5 1-4 1 1 1-1 1 0 1 6 1-6 1 2 1-3 1 3 1-1 1 4 1 0 1-5 1 3 1-2 1 1 1 2 1-1 1-1 1-2 1 2 1 1 1-4 1-1 1 3 1 3 1-3 1 2 1-4 1 2 1 2 1 0 1 1 1-2 1 3 1-3 1-2 1 0 1 3 1-2 1 1 1 3 1-2 1-3 1 1 1 1 1 1"/>
<path stroke="#fa7c17" stroke-dasharray="19.43 8.40" d="M0 609l1-1 1 0 1-2 1 0 1 0 1 3 1-1 1 0 1 0 1 0 1-5 1 7 1-2 1 2 1-2 1 0 1-3 1 3 1 2 1-2 1 0 1 5 1-8 1 5 1-5 1 0 1 0 1 2 1 3 1 0 1-4 1 3 1-1 1 1 1 1 1-4 1 4 1-1 1 0 1-1 1 1 1 2 1-1 1-1 1-5 1 2 1 2 1 0 1 1 1-4 1 3 1 2 1-10 1 8 1 2 1 1 1-3 1 2 1 0 1-3 1-2 1 2 1 3 1-2 1 2 1-2 1 0 1 3 1-4 1 1 1 0 1 3 1-4 1 3 1-2 1 3 1 1 1 0 1 1 1-3 1-4 1-1 1 5 1 0 1-5 1 1 1 2 1 1 1 0 1 5 1-3 1-7 1 0 1 4 1-1 1 0 1 2 1 2 1-1 1-2 1-3 1 2 1 1 1 1 1-3 1-2 1 3 1 2 1-1 1-1 1-2 1 1 1 4 1-1 1 0 1-2 1 4 1 2 1-4 1 1 1 0 1-1 1 2 1-2 1 2 1 1 1-4 1 1 1-3 1 1 1 3 1 0 1 1 1-2 1-2 1 1 1 0 1 2 1-4 1 1 1-1 1 4 1-1 1 1 1-5 1 3 1-5 1 3 1 3 1-3 1-2 1 4 1 2 1-1 1 2 1 0 1 3 1-3 1 1 1-3 1-1 1-2 1 1 1 2 1-3 1 3 1 4 1 0 1-3 1-2 1-2 1 4 1-4 1 1 1 0 1 3 1-1 1 4 1-4 1 0 1-2 1-1 1 4 1-3 1-1 1 3 1-5 1 5 1 3 1-3 1-4 1 2 1 5 1-2 1-4 1 4 1-1 1 2 1-6 1-1 1 6 1 3 1-5 1-1 1 1 1 0 1 1 1-3 1 0 1-1 1 1 1 3 1 0 1 0 1-1 1 2 1 0 1-1 1 1 1-1 1-4 1 0 1 4 1-1 1 1 1 1 1-2 1 5 1-4 1 0 1 2 1-3 1-2 1 2 1-1 1 3 1-2 1-3 1 5 1-6 1 8 1-5 1 3 1-2 1 1 1 0 1-3 1 3 1-1 1-2 1 2 1 5 1-2 1-1 1 1 1-3 1 0 1 2 1 0 1 2 1-1 1-6 1 7 1-7 1 3 1 1 1 1 1 2 1-4 1 1 1 1 1-1 1-4 1 4 1 0 1-3 1 4 1-3 1-4 1 5 1 4 1-5 1 2 1-3 1 1 1 1 1 2 1-4 1 1 1 0 1 0 1 0 1 1 1 1 1 3 1-1 1-1 1-4 1 0 1 4 1 0 1 0 1-2 1 0 1-1 1 3 1-1 1-5 1 6 1-5 1 1 1 0 1 2 1 0 1-1 1 1 1 0 1 1 1-2 1 1 1 1 1-2 1 1 1 3 1-2 1-4 1 2 1-2 1 6 1-3 1 5 1-5 1 2 1-1 1-2 1 3 1 0 1 0 1-3 1-2 1 4 1 2 1-2 1 2 1 1 1-4 1 1 1-4 1 5 1-5 1 0 1 3 1 0 1 6 1-5 1-1 1 2 1-4 1 7 1-5 1 0 1 0 1 4 1-4 1 1 1-1 1-2 1 4 1 5 1-6 1-1 1 1 1 1 1 1 1-2 1-2 1 2 1-3 1 2 1-1 1 1 1 0 1-2 1 0 1-1 1 0 1 2 1-1 1 0 1 1 1-1 1 1 1 0 1 0 1 3 1-4 1-1 1 7 1-5 1 2 1 1 1-3 1 3 1-2 1 1 1 2 1-6 1 4 1 2 1-2 1-5 1 7 1-5 1 3 1-1 1 0 1-2 1 3 1-5 1 4 1 3 1-3 1-2 1 0 1 0 1 2 1-3 1 0 1 5 1-1 1 1 1-1 1-1 1 1 1 0 1-3 1 0 1-2 1 10 1-3 1-1 1 0 1 0 1 0 1-3 1-2 1 5 1-3 1 6 1-5 1-4 1 1 1 4 1 1 1-1 1-4 1 2 1 0 1 0 1 3 1 3 1-3 1 0 1-2 1 0 1-7 1 7 1 1 1-4 1 2 1-4 1 0 1 2 1 1 1 5 1-5 1 1 1-1 1-1 1 2 1 3 1-1 1 1 1-4 1 2 1 0 1 1 1-1 1 3 1-3 1 2 1-2 1 0 1-1 1-2 1 1 1 1 1-1 1 3 1-1 1-1 1 4 1-1 1-6 1 2 1 1 1-1 1 2 1 1 1 0 1-3 1-2 1 4 1 0 1-1 1 3 1-2 1-3 1 0 1-3 1 5 1 1 1-2 1 1 1-2 1 2 1 4 1-1 1 2 1-4 1-3 1 1 1 2 1 4 1-3 1 1 1 0 1-2 1-5 1 5 1 2 1 1 1-4 1 3 1 3 1-3 1-2 1 3 1-2 1 3 1-6 1 4 1-1 1 1 1 0 1-2 1 1 1 0 1-4 1-3 1 3 1 2 1 0 1 4 1 0 1 0 1-3 1 0 1 1 1-6 1 4 1-1 1 1 1 1 1-1 1 4 1-3 1-2 1-2 1 4 1-3 1 1 1 2 1 4 1-4 1 1 1-3 1 1 1 4 1-1 1-3 1-2 1 8 1-5 1 3 1-2 1 1 1-4 1 1 1-3 1 0 1 5 1 4 1-3 1 0 1-2 1 2 1 0 1-3 1 0 1 2 1-2 1 3 1-2 1-2 1 3 1 2 1-3 1 1 1-5 1 4 1 1 1 2 1 3 1-3 1-2 1 1 1-3 1-1 1 0 1 3 1 1 1-3 1 2 1 1 1 0 1-5 1 7 1-6 1 0 1-2 1 2 1-3 1 2 1 5 1 2 1-3 1-2 1 0 1-1 1-1 1 8 1-4 1-1 1-1 1 3 1-4 1 2 1-3 1 4 1 0 1 2 1 0 1-2 1 1 1-2 1-1 1 1 1 0 1 3 1-1 1-1 1 1 1-3 1 0 1 3 1 0 1-1 1-1 1-3 1 3 1 2 1-2 1-1 1-2 1 5 1-1 1-1 1 0 1 4 1-4 1-3 1 1 1 2 1 3 1 0 1-2 1 1 1 1 1 2 1-5 1-1 1 1 1-1 1 1 1-3 1 3 1 0 1 3 1-2 1 1 1 0 1-5 1 1 1 0 1 1 1 3 1-1 1-3 1 4 1-1 1 0 1-3 1 2 1-1 1 0 1 2 1-1 1 3 1-1 1-3 1 0 1 0 1 1 1-2 1 0 1 2 1 4 1-10 1 0 1 7 1-4 1 3 1-3 1 5 1-2 1 1 1-2 1-1 1 1 1 6 1-4 1 2 1-6 1 4 1 4 1-4 1 2 1-3 1 3 1-3 1 4 1-6 1 2 1-2 1 2 1-4 1 4 1-1 1 1 1-3 1 6 1 1 1-4 1 2 1 1 1-3 1 0 1 6 1-5 1 1 1 1 1-4 1 0 1-2 1 4 1 2 1-8 1 2 1 1 1 4 1 0 1-3 1 8 1-2 1-4 1 4 1-5 1 1 1 4 1-4 1 0 1 0 1-2 1 5 1-1 1-3 1 0 1 0 1-6 1 6 1 2 1-3 1 2 1-2 1 2 1-4 1 4 1 0 1-2 1 1 1-2 1 0 1 0 1 5 1-4 1 1 1 0 1 2 1-2 1-2 1 1 1 0 1 1 1 1 1-2 1 1 1 1 1-2 1-1 1-2 1 1 1 2 1 3 1-2 1 2 1 1 1 2 1-7 1-1 1 5 1-2 1-1 1-3 1 0 1 5 1-1 1 4 1-3 1-1 1 1 1 2 1-2 1-6 1 6 1-1 1-2 1 0 1 2 1-3 1-1 1 3 1 0 1 1 1-1 1 0 1-2 1 6 1-4 1 1 1-3 1 0 1 3 1 0 1 1 1 2 1-2 1-3 1 2 1 3 1-2 1 2 1-2 1-2 1-1 1-1 1 4 1 5 1-4 1-1 1-2 1-1 1 3 1-1 1-2 1 3 1 4 1-4 1-1 1 1 1-3 1 2 1 2 1-2 1-4 1 6 1-3 1 4 1-4 1 2 1 0 1-2 1-5 1 9 1-2 1 1 1-4 1 2 1 2 1-3 1 0 1 1 1-2 1 1 1-1 1 4 1-3 1-1 1 4 1-10 1 3 1 4 1 2 1 0 1-1 1-1 1 4 1 0 1-5 1 5 1-7 1 4 1 4 1-1 1-6 1 2 1 3 1-4 1 1 1 2 1 2 1 1 1-3 1-2 1-2 1-1 1 1 1 6 1-1 1-3 1 2 1-1 1 1 1-1 1-2 1 1 1 4 1-1 1 1 1 2 1-6 1 1 1-5 1 3 1 0 1 3 1 1 1-3 1 2 1-4 1 0 1 0 1 2 1 3 1-4 1 3 1-1 1-2 1 3 1 0 1 2 1-5 1-2 1 5 1-3 1-3 1 0 1 1 1 5 1 2 1-1 1-3 1-3 1 0 1 3 1 0 1 2 1 3 1-2 1-4 1-1 1 2 1 1 1-6 1 4 1 2 1 3 1-1 1-3 1 2 1-2 1 2 1-7 1 5 1-1 1 3 1-2 1-1 1 1 1 5 1-7 1 1 1 4 1-1 1-2 1 3 1-3 1 4 1-3 1-2 1 3 1-1 1-1 1-2 1 0 1 2 1 0 1 2 1 0 1 0 1 1 1-3 1 1 1 2 1 1 1-2 1-2 1 2 1 2 1-3 1-2 1 4 1 0 1 3 1-9 1 6 1 2 1-4 1 1 1-2 1 3 1-1 1-1 1-1 1-3 1 4 1 2 1-2 1 2 1-3 1 0 1 1 1 4 1 1 1-2 1-2 1 4 1-2 1-3 1 2 1-3 1 0 1-2 1 4 1-1 1 7 1-3 1-5 1 2 1 1 1 2 1-7 1 0 1 3 1 0 1 0 1 4 1-4 1 2 1 1 1-5 1 2 1 3 1-3 1 0 1 0 1 1 1-1 1 0 1 2 1-6 1 3 1 7 1-7 1 5 1-4 1-3 1 3 1 1 1-3 1 0 1 1 1 1 1 0 1 5 1-3 1-1 1-2 1 0 1 4 1 0 1 3 1-4 1-5 1 3 1 2 1-1 1 0 1 3 1-1 1-1 1-3 1 3 1 0 1 2 1-2 1 1 1-6 1 3 1 8 1-9 1 1 1 1 1-1 1 2 1 1 1 0 1-1 1-2 1-4 1 3 1-1 1 0 1 4 1 1 1 0 1-5 1 5 1-3 1 2 1-7 1 8 1 1 1-2 1 2 1-5 1-1 1 0 1-3 1 7 1-2 1 1 1 1 1-2 1-5 1 7 1-6 1 3 1 2 1 2 1-4 1 1 1 1 1 1 1-1 1 0 1-1 1 5 1-4 1-3 1 0 1 5 1-2 1-1 1-2 1 0 1 0 1 2 1-1 1 1 1 1 1 3 1-4 1 1 1 3 1-6 1 3 1-1 1-1 1 2 1-1 1-2 1 4 1 2 1-5 1 0 1 3 1-4 1 5 1-2 1-1 1 0 1-1 1 2 1 3 1-1 1-4 1 1 1 0 1 1 1-3 1 3 1-1 1 0 1 2 1-3 1 0 1 0 1 4 1-5 1 3 1-1 1-1 1-1 1 3 1-1 1 0 1 0 1 0 1 3 1-2 1-3 1 4 1 2 1-6 1 5 1-1 1 0 1-2 1 1 1-1 1 1 1 2 1-8 1 4 1 0 1 4 1 0 1-1 1-4 1 4 1-2 1 1 1 1 1-3 1 0 1 4 1-4 1 4 1-3 1 0 1-5 1 3 1-3 1 3 1 3 1-2 1 4 1 1 1-3 1-4 1 1 1 5 1 3 1-5 1 3 1 0 1-1 1 0 1 0 1-2 1-3 1 4 1-1 1-2 1 0 1 1 1 2 1-1 1 3 1-3 1-3 1 1 1 8 1-7 1-1 1 2 1-2 1 0 1 1 1 1 1 2 1-4 1 6 1-4 1 0 1-1 1 1 1 0 1 2 1 0 1-6 1 4 1-4 1 1 1 1 1 1 1 0 1-2 1 2 1 1 1-2 1 1 1-1 1 3 1-1 1-3 1 0 1 4 1-1 1 2 1-4 1 3 1 3 1-1 1 0 1-8 1 5 1-2 1 3 1-2 1-2 1 0 1-1 1 1 1 2 1-1 1 1 1 1 1-5 1 6 1 2 1-2 1-4 1 3 1-1 1 2 1-4 1 1 1 1 1-3 1 5 1-5 1 1 1 5 1-2 1-2 1 4 1 0 1-5 1-4 1 1 1 3 1 2 1 2 1-3 1 2 1-1 1 0 1-2 1 1 1 6 1-2 1-4 1-2 1 1 1-1 1 5 1-1 1-1 1-2 1 2 1 1 1-3 1 2 1-1 1 5 1-3 1-2 1-2 1 2 1 5 1 0 1-6 1 0 1 2 1 2 1-4 1 3 1 0 1 3 1 3 1-6 1-5 1 4 1 3 1-5 1 4 1 3 1-2 1-3 1 2 1-1 1-1 1 0 1-3 1 2 1 0 1-2 1 3 1-2 1 3 1-1 1 1 1-3 1 0 1 3 1 2 1 0 1 0 1-1 1-1 1 1 1-5 1 0 1-2 1 3 1 0 1 2 1-2 1 0 1 2 1-1 1-3 1 0 1 3 1 5 1 4 1-6 1-1 1-1 1-1 1 0 1 3 1 0 1-5 1-3 1 5 1 0 1-1 1 1 1 1 1 0 1-3 1 4 1-2 1 3 1-3 1 0 1 1 1-1 1 5 1-2 1-1 1-1 1 0 1 2 1-2 1-1 1-5 1 4 1 1 1 0 1 1 1 1 1-3 1 2 1 1 1-1 1-4 1 6 1-1 1-2 1-1 1-2 1-1 1 5 1-2 1-3 1 1 1 5 1 0 1-1 1-2 1 4 1-4 1 3 1-2 1-1 1 0 1-1 1 2 1 0 1-2 1 3 1 1 1 2 1-6 1 4 1-3 1 1 1 0 1 1 1 0 1-2 1 1 1 3 1-1 1 2 1-4 1-1 1 1 1-3 1 0 1 4 1-2 1 2 1 0 1 0 1 0 1 3 1-2 1 2 1-6 1 4 1-1 1 4 1-2 1-3 1 6 1-5 1 1 1-6 1 2 1 0 1 2 1-2 1 5 1-6 1 1 1 6 1-3 1 0 1-4 1 4 1 0 1-1 1 1 1-4 1 2 1 3 1-2 1 1 1-4 1 5 1 3 1-8 1 3 1-2 1 2 1 2 1-2 1 0 1 2 1 3 1-4 1-3 1-1 1 6 1-5 1 5 1-1 1-1 1-1 1 2 1 0 1-2 1 0 1-1 1-1 1 2 1 2 1-3 1 1 1 2 1 4 1-5 1-2 1-1 1 4 1-1 1 4 1-4 1-1 1 2 1-2 1-2 1 0 1 4 1-1 1-3 1 3 1 0 1 0 1-2 1 2 1 4 1-5 1-6 1 4 1-1 1 2 1 2 1 2 1-3 1 0 1-2 1 2 1-1 1 6 1-4 1-2 1 0 1-2 1 3 1-1 1 6 1-5 1-1 1 3 1 4 1-2 1-3 1-4 1 6 1-3 1-1 1 0 1 3 1-2 1 4 1 2 1-4 1 1 1 3 1-7 1 0 1 0 1 4 1 0 1 2 1-3 1 0 1-1 1-3 1 3 1 0 1 3 1-6 1-1 1 8 1 2 1-9 1-2 1 2 1-1 1 6 1-2 1-2 1 2 1 2 1-1 1 1 1-6 1 4 1 1 1 3 1-7 1 3 1-2 1 2 1-1 1 1 1 1 1-2 1 3 1-3 1 0 1-1 1 3 1-6 1 3 1 4 1 2 1-3 1-1 1-2 1 5 1-2 1-2 1-1 1 6 1-2 1 0 1-1 1 0 1-1 1 2 1-2 1 4 1-3 1-6 1 7 1-6 1 0 1 4 1-1 1-1 1 4 1 3 1-3 1 2 1-4 1 4 1-8 1-2 1 7 1 4 1-5 1 1 1 0 1 3 1 0 1-4 1 3 1 3 1-6 1-1 1 2 1 2 1-6 1 3 1-1 1 4 1 1 1-4 1-3 1 5 1 0 1-1 1-4 1 3 1-1 1-1 1 0 1-2 1 6 1-2 1-1 1 4 1-3 1 0 1 1 1 1 1-4 1 1 1 1 1-1 1 2 1-1 1-1 1 3 1-1 1-1 1 0 1 1 1-1 1 1 1 1 1 0 1 2 1-4 1-1 1 3 1 1 1 0 1 0 1 0 1-3 1 1 1-3 1 1 1 0 1 4 1-6 1 3 1 6 1-4 1-1 1-2 1 3 1-2 1 1 1-3 1 2 1-1 1-1 1 4 1-2 1 0 1-4 1 2 1 3 1-5 1 5 1-1 1 0 1-1 1 2 1 0 1 0 1-1 1 2 1-1 1 3 1-7 1 1 1-1 1 4 1 3 1 1 1-1 1-4 1 1 1 1 1 1 1-6 1 6 1-2 1 0 1 0 1 0 1-2 1-5 1 2 1 3 1 3 1-5 1-1 1 5 1-2 1 6 1-1 1-6 1 6 1-5 1-2 1 6 1-2 1-4 1-3 1 4 1-2 1 5 1 1 1-3 1-1 1 1 1-2 1 0 1-1 1 1 1 2 1 0 1 1 1-1 1-2 1-1 1 0 1 0 1 1 1 4 1 0 1 0 1 0 1 5 1-7 1 3 1 0 1 0 1-6 1 2 1-2 1 3 1-1 1-1 1 3 1-1 1 5 1-1 1-3 1 5 1-5 1-1 1 2 1-3 1 0 1-1 1 2 1-1 1 1 1 4 1-2 1-1 1 0 1 0 1-2 1 2 1 2"/>
<path stroke="#fa7c17" stroke-dasharray="5.25 8.66" d="M0 607l1 6 1-1 1-6 1 5 1-3 1 3 1-4 1 0 1-2 1 1 1-1 1 5 1-5 1 3 1-2 1 2 1-3 1 1 1 1 1-1 1 2 1 0 1-3 1 1 1 1 1 2 1-4 1 4 1-1 1 3 1-1 1-1 1-2 1 1 1-2 1 6 1-8 1 2 1 0 1 4 1-4 1 3 1-1 1-1 1 0 1-1 1 4 1 1 1-6 1 0 1 1 1 0 1 0 1 6 1-4 1-2 1 1 1-1 1 0 1 2 1 2 1-2 1-3 1 6 1-5 1 6 1-8 1 3 1 0 1 2 1-3 1 3 1-4 1-3 1 4 1 3 1-3 1 3 1 0 1-2 1-2 1 5 1-4 1 0 1 1 1-1 1 1 1 1 1 4 1 2 1-5 1-3 1 4 1-1 1-5 1 1 1 6 1-4 1 1 1-1 1 0 1 3 1-7 1 10 1-2 1-5 1 2 1-1 1 3 1-3 1 3 1 1 1 1 1-6 1 2 1-1 1 0 1 1 1 3 1-3 1-1 1 4 1-1 1 1 1 3 1-5 1-2 1 1 1 0 1 0 1-3 1 1 1 0 1 3 1-2 1 1 1 3 1-3 1 4 1 0 1-6 1 0 1 6 1-4 1 0 1 1 1 2 1-1 1-3 1-3 1 1 1 5 1-3 1-4 1 5 1 3 1-5 1 3 1-1 1-1 1 1 1 0 1-1 1-1 1 1 1-1 1 1 1 2 1-5 1 3 1 0 1-2 1 3 1 3 1 2 1-3 1-4 1 1 1 0 1 2 1 3 1-3 1 4 1-2 1-3 1 2 1 2 1-4 1-1 1 1 1 5 1-5 1 1 1-2 1-1 1 1 1-2 1 1 1 3 1 1 1-6 1-1 1 5 1 0 1-1 1-1 1 5 1-4 1 0 1 0 1 2 1-4 1 3 1-4 1-1 1 5 1-2 1-1 1 3 1 5 1-4 1-2 1-5 1 2 1 1 1 1 1-1 1 4 1 1 1 1 1 0 1-2 1-6 1 7 1-3 1 1 1 4 1-3 1 4 1-7 1-1 1 4 1 0 1 0 1 1 1-3 1 3 1-1 1 2 1-5 1 1 1-2 1 4 1 5 1-6 1-1 1-1 1 2 1-2 1 0 1 3 1 4 1-5 1 0 1 1 1 2 1-6 1 2 1 1 1 2 1 0 1-2 1 3 1-5 1 3 1-4 1 2 1 3 1-6 1 3 1 2 1-3 1 1 1 1 1 5 1 0 1-6 1 2 1-2 1 3 1-2 1 4 1-2 1-5 1 2 1 2 1 0 1-1 1-4 1 3 1 0 1 2 1-2 1 0 1 3 1 2 1-2 1-4 1 3 1 0 1-3 1 2 1 5 1-8 1 3 1 1 1 0 1-2 1 2 1-5 1 2 1 0 1 1 1 2 1-1 1-4 1 5 1 0 1-1 1 2 1-3 1 4 1-3 1 2 1-1 1 0 1-7 1 6 1-2 1 1 1 3 1-4 1 2 1 4 1 1 1-4 1-1 1 4 1-3 1 0 1-2 1 3 1-2 1 1 1-2 1-1 1-3 1 8 1-3 1 2 1 1 1 2 1-2 1-2 1 0 1-1 1 0 1-1 1 1 1 0 1 0 1 2 1 2 1 1 1-4 1 2 1-3 1 2 1 1 1-1 1-1 1-4 1 4 1 1 1-2 1-1 1 2 1 1 1-2 1 0 1 0 1 4 1-4 1 0 1-2 1 3 1-1 1 1 1-5 1 7 1 0 1 0 1 5 1-5 1-5 1 0 1 0 1 2 1 2 1-1 1 3 1 1 1-6 1 1 1-3 1 6 1-2 1 3 1-6 1 2 1 3 1 0 1-5 1 5 1-1 1-1 1 2 1-5 1-2 1 5 1-1 1-1 1 0 1 0 1 4 1-2 1 3 1-3 1-1 1-2 1 7 1-4 1 3 1-4 1 0 1 0 1-2 1 1 1 3 1 0 1-2 1 4 1-2 1-2 1 3 1-5 1 0 1 1 1 1 1 1 1-2 1 0 1-1 1 4 1-3 1-1 1 4 1-2 1 0 1 1 1-3 1 2 1-1 1 0 1 0 1 2 1 1 1-3 1 1 1-1 1 2 1 1 1-3 1 1 1 1 1-2 1 2 1-1 1-1 1 4 1-4 1 1 1 1 1 0 1 1 1 3 1-4 1 1 1-5 1-1 1 5 1-1 1-2 1 1 1 1 1 1 1 2 1-4 1 0 1 1 1 0 1-3 1 2 1-2 1 5 1 1 1 0 1-4 1 2 1-3 1 1 1-1 1 3 1-3 1 3 1-1 1 2 1 3 1-1 1-4 1 0 1 4 1-1 1 1 1-4 1 2 1 1 1-3 1 1 1-2 1-1 1 3 1 3 1-2 1-6 1 6 1-4 1 3 1 2 1-5 1 3 1 4 1-1 1-1 1-1 1-4 1 0 1 2 1-1 1 2 1 3 1-3 1 0 1-3 1 1 1-1 1 3 1 0 1 0 1 1 1-4 1 2 1 3 1-1 1-5 1-3 1 2 1 3 1-2 1 3 1 3 1-2 1 2 1-2 1-5 1 2 1 1 1-1 1 3 1-1 1 2 1 2 1-2 1 1 1 3 1-3 1 0 1 0 1-5 1 0 1 0 1 2 1 3 1 0 1-6 1 9 1-3 1-3 1 4 1-5 1 3 1-1 1-4 1 1 1 2 1 1 1-4 1-1 1 2 1 6 1-2 1-4 1 4 1-1 1 2 1-1 1-4 1 0 1 4 1-4 1 5 1-4 1-1 1 5 1 2 1-6 1-1 1 1 1 3 1-2 1 3 1-4 1-4 1 5 1-2 1 4 1-2 1 1 1-2 1 2 1 3 1-5 1 3 1-4 1 4 1-3 1 0 1 2 1-3 1 1 1-3 1 2 1-1 1 7 1-6 1 2 1 1 1 2 1-1 1-1 1-1 1 0 1 1 1-1 1-2 1 3 1 1 1-4 1 1 1 3 1-3 1 0 1-4 1 2 1 1 1 2 1 2 1-1 1 0 1 0 1-3 1 4 1-5 1 5 1 2 1-5 1 1 1 2 1-2 1 1 1-1 1 1 1-1 1 2 1-3 1 2 1-1 1 5 1-5 1 2 1-1 1 0 1 1 1 1 1-4 1 2 1 0 1 0 1 1 1-4 1 4 1-2 1 2 1 2 1 1 1-5 1 5 1 0 1-2 1-3 1 2 1-3 1 2 1 0 1-4 1 2 1 2 1 1 1-3 1-2 1 4 1 0 1-3 1 4 1-2 1 0 1 1 1 2 1 3 1-4 1 2 1-3 1 1 1 0 1-4 1 1 1 3 1-3 1 2 1 3 1-3 1 0 1-2 1-1 1 0 1 4 1-1 1 4 1-4 1 0 1 5 1-6 1 0 1 4 1 2 1-3 1-2 1 0 1-3 1-3 1 4 1 2 1 1 1-6 1 4 1-1 1-1 1 0 1 1 1-3 1 2 1 2 1 3 1-1 1-1 1-3 1 3 1-1 1 1 1 6 1-6 1-4 1 6 1-4 1 4 1-1 1-1 1-2 1 1 1 0 1-2 1 0 1 2 1-1 1-2 1 2 1 3 1-1 1 3 1-8 1 3 1 5 1-2 1-2 1-1 1 1 1 1 1 2 1-4 1-2 1 2 1 1 1 0 1 2 1 0 1-3 1 1 1-1 1 3 1-3 1 4 1-5 1 2 1 0 1 2 1-1 1 1 1-1 1 4 1-6 1 1 1-1 1 1 1-1 1 3 1 1 1-1 1 2 1-5 1 2 1 0 1 2 1-3 1-2 1 3 1-3 1 1 1 1 1 4 1-1 1-5 1 0 1-3 1 6 1-2 1 4 1 0 1 0 1 0 1-3 1-3 1 2 1 4 1-5 1 1 1 5 1-6 1 2 1-2 1 3 1 1 1-2 1 4 1-3 1-3 1 1 1 1 1 1 1 0 1-4 1 2 1 1 1 2 1-2 1-2 1 7 1-8 1 1 1 2 1 4 1-8 1 2 1 3 1 3 1-5 1 5 1-3 1 0 1 2 1 0 1-1 1-3 1 0 1-2 1 5 1-4 1 1 1-2 1 3 1-1 1 3 1-4 1 2 1 2 1-1 1-1 1 5 1-4 1 2 1-2 1-1 1-5 1 3 1 5 1-3 1 3 1 0 1 0 1-4 1-3 1 2 1 5 1-2 1-2 1 7 1-4 1-7 1 8 1 0 1 1 1-6 1 0 1 0 1-1 1 4 1 4 1-5 1 4 1-4 1-1 1 1 1-3 1 2 1 4 1 0 1-4 1 3 1-3 1 2 1-1 1 2 1-1 1 3 1-1 1-4 1 3 1 1 1-4 1-1 1 4 1-2 1-1 1 3 1 0 1-1 1-4 1 3 1 0 1 6 1-5 1-3 1 4 1-3 1 0 1-1 1 2 1 0 1-6 1 1 1 6 1 3 1-4 1-1 1 1 1 0 1-3 1 10 1-3 1-4 1-1 1 0 1 3 1-5 1 0 1 1 1 1 1 4 1-1 1 2 1-3 1 3 1-3 1 1 1-1 1 5 1-2 1-3 1-2 1 4 1-3 1-5 1 5 1 2 1 3 1 1 1-3 1-1 1-2 1-4 1 6 1-2 1-3 1 2 1 1 1 0 1 3 1 1 1-4 1-3 1 0 1 0 1-1 1 0 1 4 1 0 1 5 1-6 1 1 1 0 1-2 1 5 1-2 1 1 1-5 1 6 1-1 1-2 1-4 1 4 1 3 1 0 1-3 1-1 1 4 1-5 1 4 1 1 1-2 1 2 1 1 1-2 1 4 1-4 1 2 1-4 1 3 1-4 1 0 1 0 1 1 1 2 1-2 1-1 1 1 1 0 1 0 1 1 1 1 1-2 1 0 1-1 1-2 1 4 1 0 1-5 1 4 1 0 1 2 1-2 1 5 1-2 1-1 1 0 1-2 1-2 1 1 1 2 1 5 1-3 1-5 1-1 1 1 1 0 1 0 1 5 1-1 1 0 1-2 1-2 1 2 1-4 1 4 1 2 1 0 1 4 1-6 1 2 1-3 1 0 1 0 1 5 1-2 1 0 1-2 1 3 1 0 1-4 1 5 1-3 1 2 1-4 1 3 1 0 1 1 1 3 1-8 1 2 1-3 1 1 1 4 1 0 1-2 1 0 1 2 1-2 1-1 1-2 1-1 1 3 1 2 1 0 1 6 1-8 1-3 1 12 1-6 1 0 1-1 1 4 1-3 1 4 1-6 1-2 1-1 1 7 1 0 1-1 1-5 1 3 1-4 1 3 1-1 1 5 1 1 1-2 1 1 1 1 1-5 1-3 1 5 1-1 1-3 1 2 1-1 1 0 1-2 1 0 1 2 1 4 1-5 1 5 1-2 1-2 1-5 1 3 1 2 1 2 1 0 1 3 1 2 1-4 1-2 1 1 1 0 1 0 1-5 1 5 1-5 1 5 1 0 1 0 1-2 1-2 1 0 1 0 1 2 1 1 1 0 1 3 1-7 1 4 1 2 1 1 1-1 1 1 1-5 1-1 1 4 1-3 1 0 1 1 1 0 1 2 1-3 1 6 1-5 1 1 1 6 1-4 1-2 1-1 1 1 1 2 1-2 1 0 1 8 1-3 1-3 1 0 1-2 1-4 1 3 1 2 1 0 1 2 1-1 1 1 1-3 1 2 1-2 1 0 1 3 1-3 1-3 1 3 1 0 1-2 1-1 1 2 1 2 1-2 1 4 1 0 1-1 1-2 1 3 1-3 1 4 1 0 1-1 1-3 1-4 1 7 1-3 1 1 1-1 1 2 1-3 1 6 1-6 1-2 1 5 1-2 1 3 1-1 1-1 1 6 1-7 1-1 1-3 1 4 1 0 1-2 1 6 1-4 1 1 1-5 1 4 1-2 1 3 1 7 1-9 1-1 1-1 1 3 1-2 1 4 1 1 1-4 1-1 1-2 1 5 1-2 1 0 1-2 1 5 1-2 1 1 1-2 1-6 1 4 1-1 1 2 1 3 1-1 1 0 1 0 1-2 1 0 1 4 1 3 1-3 1-2 1-3 1 2 1 0 1-2 1 0 1 4 1 0 1-2 1 2 1 1 1-1 1-1 1-2 1 3 1 1 1-1 1-3 1 6 1-4 1-2 1 2 1 1 1 2 1 0 1-2 1-4 1 1 1 2 1 3 1 0 1-5 1 5 1-5 1 1 1-2 1 2 1 2 1-1 1 1 1 2 1-2 1-1 1 3 1-2 1-2 1 1 1 3 1-6 1 4 1-3 1 1 1-2 1 2 1 3 1-4 1 3 1 3 1 0 1-4 1 1 1 0 1 3 1-8 1 2 1-1 1 2 1-2 1 3 1-3 1 2 1 2 1-3 1 1 1 0 1 4 1 0 1 0 1-1 1-2 1 2 1-2 1 2 1-1 1-2 1-2 1-2 1 3 1 1 1-3 1 7 1 0 1-5 1-1 1-2 1 0 1 0 1 2 1 2 1-2 1 6 1-2 1 2 1-2 1 6 1-7 1 0 1-3 1 6 1-2 1-3 1 6 1-3 1 4 1-8 1 5 1-2 1-1 1 5 1-2 1 2 1-4 1-3 1 8 1-4 1 3 1-4 1-1 1-1 1 0 1 6 1 0 1-3 1-2 1 3 1-1 1-2 1 1 1-2 1 4 1-3 1 1 1 0 1 0 1 1 1-4 1 4 1-2 1 1 1 2 1-2 1-1 1-3 1 5 1-2 1 0 1-1 1 3 1-1 1 3 1-3 1-3 1-1 1 8 1-2 1-2 1 4 1-9 1 3 1 6 1-10 1 4 1 6 1-1 1-1 1-1 1-5 1 5 1 0 1-1 1-1 1 0 1 4 1-4 1 3 1 0 1-7 1 8 1-2 1 2 1-4 1 0 1 3 1-1 1 0 1-2 1 5 1-4 1-1 1 1 1 1 1-2 1-1 1 1 1 1 1-2 1 0 1 4 1 1 1-1 1 0 1 0 1-1 1-4 1 2 1 0 1-1 1 3 1 0 1 3 1-1 1-4 1 2 1 0 1-4 1-2 1 4 1 3 1 1 1-2 1 2 1-2 1 0 1 0 1 0 1-3 1 2 1-4 1 4 1-4 1 6 1-2 1 1 1 2 1-7 1 3 1 3 1 2 1-4 1-2 1 2 1 2 1 0 1 1 1-1 1 0 1-3 1-1 1 4 1 3 1-8 1 2 1 3 1-2 1 2 1 0 1 5 1-4 1-6 1 1 1 3 1-1 1-1 1-1 1 4 1-1 1-1 1-1 1 2 1-1 1-1 1 1 1-1 1-2 1 6 1-2 1-1 1-5 1 9 1-1 1 1 1 0 1-4 1 3 1-2 1 0 1 0 1-2 1 0 1 3 1 0 1-2 1 2 1-2 1 0 1 2 1-1 1 2 1-3 1 2 1 0 1-1 1-5 1 1 1 4 1 2 1-4 1 3 1-4 1 3 1-3 1-3 1 5 1-1 1-1 1-4 1-1 1 8 1-4 1 0 1 2 1 0 1 3 1 0 1-1 1 2 1-3 1 0 1-4 1 6 1-5 1 1 1 1 1 1 1 0 1 1 1 1 1-5 1 8 1-7 1 1 1 0 1-2 1 2 1 0 1-1 1 2 1-3 1 0 1 2 1 0 1 3 1-3 1 0 1 4 1-3 1-1 1 3 1 1 1-2 1 0 1 1 1-2 1 2 1-2 1-3 1 2 1 0 1 3 1-5 1 3 1-4 1 4 1 0 1 3 1-3 1 3 1-3 1-4 1 1 1 5 1-4 1 4 1-1 1 0 1 0 1-1 1 6 1-7 1 1 1 2 1-2 1-3 1 5 1-3 1 1 1 0 1 1 1-1 1-1 1 4 1 0 1-1 1 0 1 2 1-2 1 1 1-3 1 0 1 0 1-1 1 2 1 2 1-4 1 2 1 1 1-5 1 6 1-4 1-2 1 3 1 2 1-2 1 2 1 3 1-6 1-3 1 6 1-3 1 1 1 0 1-2 1 3 1 0 1-1 1-1 1 7 1-8 1 0 1-1 1 3 1 2 1-3 1 0 1-1 1 0 1 4 1 1 1-2 1-2 1 1 1 1 1-1 1 4 1-3 1 4 1-8 1 7 1-7 1 0 1 0 1 1 1 2 1 0 1-4 1 6 1-1 1-3 1 3 1-5 1 6 1 0 1-2 1 2 1-1 1-1 1 1 1-2 1 0 1 0 1 0 1 1 1-1 1 0 1-1 1-2 1 5 1-5 1 1 1 0 1 4 1-2 1 0 1 1 1-2 1 4 1 0 1-3 1 0 1 4 1-3 1 0 1-2 1 2 1 0 1 2 1-1 1 0 1-2 1 6 1-4 1-3 1 8 1-6 1-1 1 1 1 0 1 2 1-3 1 0 1 5 1-4 1 3 1 0 1-3 1 1 1-1 1 0 1 1 1-1 1 4 1-7 1 1 1 3 1 0 1-4 1 5 1 3 1-8 1 0 1 2 1-3 1 2 1 0 1 1 1-1 1 4 1-1 1-1 1 3 1 1 1-3 1-4 1 3 1-2 1-1 1 0 1 1 1 6 1 2 1-2 1-2 1-1 1 1 1-1 1-2 1 4 1-4 1 0 1 5 1-3 1-1 1-1 1 0 1 6 1-8 1 2 1-1 1 0 1 4 1-1 1 0 1-6 1 7 1-5 1 1 1 2 1 3 1-2 1-2 1 3 1-2 1-1 1-1 1 3 1-2 1-1 1 7 1-1 1 0 1-1 1-4 1 0 1 0 1 2 1-3 1 6 1 0 1-4 1 1 1-3 1 0 1 0 1 4 1 0 1 3 1-4"/>
<path stroke="#fa7c17" stroke-dasharray="33.61 8.40 5.25 8.40" d="M0 608l1 2 1-1 1-1 1-2 1 3 1 1 1-1 1-2 1-3 1 1 1 8 1 0 1-2 1 4 1-7 1 2 1 2 1-2 1-2 1 1 1 0 1-3 1 5 1-2 1 4 1-1 1-5 1 3 1 1 1-4 1 2 1-2 1-3 1-2 1 6 1 0 1 2 1-5 1 1 1-4 1 6 1 1 1 6 1-4 1 0 1-3 1-2 1 4 1-1 1-2 1 1 1-1 1-2 1 4 1-1 1-2 1 2 1-3 1 3 1-2 1 1 1 0 1 3 1-4 1 5 1-5 1 2 1 0 1-3 1 6 1-4 1 0 1 2 1-2 1 1 1-4 1 5 1-4 1-1 1 3 1 3 1-1 1 2 1 0 1-1 1-2 1 3 1-3 1 1 1-3 1 1 1 2 1-1 1 0 1 1 1 0 1 0 1 2 1 1 1-3 1 3 1-4 1-2 1 3 1-2 1 3 1-3 1-6 1 5 1 2 1 0 1 4 1-1 1-2 1 1 1-1 1-3 1 5 1-1 1-1 1 2 1 0 1-3 1-1 1 0 1 4 1-3 1-2 1 3 1-1 1 1 1 0 1 1 1-2 1 2 1-5 1 1 1 3 1-6 1 4 1 6 1-6 1 0 1 1 1 0 1 2 1 1 1 1 1-9 1 6 1-1 1-4 1 5 1 0 1 1 1 2 1-4 1-1 1 2 1 0 1-2 1 0 1-3 1 2 1 0 1 3 1 3 1-6 1 4 1-3 1 1 1 2 1-2 1-4 1 0 1 5 1 0 1 4 1-1 1-2 1-1 1-2 1 2 1-3 1 4 1-3 1 3 1-1 1-1 1-2 1 3 1 0 1 0 1-1 1-3 1 1 1 2 1 1 1-3 1-1 1 0 1 3 1 2 1 0 1-2 1 3 1-2 1-5 1 2 1 0 1 4 1-5 1 3 1 0 1 0 1 0 1 1 1-2 1-4 1 5 1-2 1 4 1-2 1 1 1-4 1 3 1-1 1 1 1 3 1-3 1 0 1-2 1 2 1 4 1-1 1-1 1-3 1 2 1-3 1 2 1-1 1-1 1 1 1 5 1-6 1 2 1-2 1 8 1-5 1-1 1 1 1 0 1 2 1 0 1-3 1 1 1-2 1 0 1 3 1-2 1 1 1-2 1-3 1 3 1 2 1-5 1 4 1 2 1-1 1 4 1-7 1-1 1 0 1 1 1 2 1 1 1 1 1-3 1-1 1 0 1 4 1-6 1 5 1-1 1 0 1 1 1 5 1-2 1-2 1-4 1 3 1-1 1 3 1-1 1-4 1-2 1 3 1 0 1 1 1 0 1 0 1-2 1 3 1 2 1-4 1 2 1-1 1 3 1-3 1 1 1 1 1-3 1 2 1 5 1-2 1-2 1-5 1 4 1 2 1-1 1-4 1 1 1 0 1 0 1-2 1 5 1-4 1 0 1 4 1-3 1-2 1 3 1-2 1 7 1-1 1-4 1 0 1-1 1 0 1-1 1 5 1 1 1-6 1 1 1 1 1 0 1-4 1 5 1-2 1-2 1 4 1 0 1 0 1 4 1-7 1-1 1-2 1 4 1 0 1-1 1-2 1 2 1 0 1 3 1-2 1 1 1-3 1 1 1 4 1 1 1-3 1 1 1-2 1-2 1 5 1-3 1 3 1-2 1 0 1 2 1 4 1-4 1 1 1-3 1 0 1-2 1 0 1 6 1 1 1-2 1-2 1-1 1 2 1-2 1 2 1-4 1 3 1 0 1 0 1-1 1-3 1 2 1-1 1 3 1-2 1-1 1-1 1 4 1 1 1-2 1-1 1 3 1-2 1-4 1 8 1-1 1-2 1-2 1 1 1-1 1-3 1 4 1 2 1-5 1 6 1-4 1-2 1 1 1 3 1-1 1 1 1-5 1 2 1 1 1 0 1-1 1-1 1 2 1 2 1 0 1 1 1 1 1-3 1 1 1-1 1-2 1-1 1 2 1 2 1-3 1 3 1-4 1 3 1-3 1 5 1-4 1 0 1 2 1-3 1 1 1 1 1 1 1-1 1 0 1 2 1 1 1-1 1 2 1 2 1-6 1 2 1-6 1 3 1 0 1 0 1 1 1 2 1 3 1-1 1 0 1 1 1 0 1-4 1 4 1-7 1 4 1-2 1 0 1 0 1 1 1 0 1 0 1-2 1 0 1 1 1 4 1 0 1-3 1-3 1-1 1 4 1-1 1 2 1 1 1-2 1-1 1 0 1 6 1-7 1 6 1-6 1-2 1-4 1 10 1-1 1-1 1-1 1 2 1-3 1 2 1 0 1 0 1-2 1 1 1 4 1-4 1 3 1 0 1 0 1-1 1-2 1-1 1 5 1-2 1-3 1-1 1 2 1 2 1-2 1 1 1 3 1 3 1-6 1-3 1-2 1 1 1 2 1 2 1-1 1-1 1 4 1-2 1 1 1-2 1-1 1 6 1 0 1-3 1-2 1 3 1-2 1 0 1 1 1 1 1-2 1-3 1 4 1-2 1 0 1 2 1 1 1 1 1-3 1-1 1 2 1 3 1-3 1 0 1 0 1-3 1 4 1-1 1-1 1-3 1 5 1-2 1 4 1-1 1-2 1 2 1-3 1 0 1 2 1-2 1 2 1-1 1 0 1-4 1 5 1-3 1-2 1 2 1 0 1-4 1 7 1 1 1-4 1 1 1-3 1 4 1-1 1-1 1 6 1-7 1 2 1 2 1 0 1 0 1-5 1 5 1-5 1 4 1-2 1 2 1-1 1-2 1 2 1 1 1-3 1-3 1 5 1 1 1 0 1 2 1-1 1-2 1 1 1-1 1 0 1-1 1-3 1 4 1 3 1-3 1-1 1-3 1 3 1 3 1 1 1-4 1 2 1-3 1-1 1 3 1-1 1 1 1-1 1 4 1 0 1-6 1 6 1 0 1-3 1 2 1 0 1 1 1-6 1 3 1-3 1 2 1 5 1-3 1 3 1-5 1 6 1-6 1 0 1-2 1 2 1 0 1 2 1 1 1 0 1-1 1 0 1-6 1 3 1 4 1-4 1 2 1 2 1-2 1 2 1-3 1 2 1-3 1 5 1-3 1 3 1-6 1 5 1-6 1 4 1-2 1 4 1-1 1-4 1 6 1-4 1 5 1-8 1 1 1 7 1-2 1-4 1-3 1 4 1 5 1-6 1 4 1-1 1 0 1 3 1 2 1-8 1 2 1 0 1 2 1-2 1 3 1 1 1 0 1 1 1-4 1 3 1-7 1 3 1 2 1-1 1-4 1 8 1-3 1-5 1 0 1 2 1 2 1-6 1 6 1-5 1 6 1 2 1-3 1 1 1 4 1-4 1-7 1 5 1-1 1 1 1 1 1-1 1 0 1 1 1-1 1-1 1 1 1 4 1-1 1 1 1-2 1-5 1 2 1 2 1-5 1 2 1 4 1-2 1-2 1 0 1 3 1-1 1 2 1 2 1-4 1 5 1-3 1-4 1 1 1 1 1 0 1 0 1-3 1 2 1-1 1 4 1-1 1 1 1-4 1 0 1 2 1-2 1 2 1 0 1-1 1 0 1-4 1 7 1-4 1 4 1-3 1 3 1 2 1-7 1 3 1-4 1 5 1 1 1-4 1 3 1-1 1 2 1-1 1 4 1-3 1-1 1-3 1-1 1 3 1 0 1 0 1-5 1 6 1-3 1 1 1 4 1-4 1-2 1 2 1 3 1-3 1-1 1 3 1-3 1 5 1 0 1-2 1-1 1-2 1-1 1 4 1-3 1-2 1 1 1 3 1 1 1 1 1 3 1-2 1 1 1-4 1 0 1-1 1 0 1 0 1 2 1 0 1-2 1-2 1 6 1 0 1-2 1 2 1-1 1-1 1 1 1-3 1-1 1 0 1 1 1-1 1 9 1-7 1 2 1-6 1 5 1-1 1 3 1 0 1-3 1-1 1-3 1 1 1 0 1-2 1 7 1-5 1 4 1-1 1 0 1-2 1 0 1 0 1 3 1 3 1-3 1-1 1 0 1-1 1-4 1 1 1 2 1 3 1 2 1-6 1 1 1 1 1 4 1-2 1-2 1 0 1 2 1-1 1 0 1 1 1-4 1 1 1 1 1 2 1-4 1 5 1-2 1 2 1 3 1-3 1 3 1-3 1 2 1-3 1 0 1 3 1-2 1 0 1-5 1-1 1 2 1 0 1-4 1 4 1 1 1-3 1 2 1 4 1-5 1 2 1-2 1-1 1 4 1 0 1-1 1 4 1 0 1-3 1 0 1 2 1-1 1-2 1 3 1 0 1-1 1 2 1 0 1-1 1 3 1-2 1-3 1 3 1-5 1 1 1-2 1 3 1-1 1 1 1 3 1-4 1 3 1-3 1 3 1-1 1 0 1-4 1 3 1-2 1 0 1-2 1 4 1-2 1 0 1 0 1 1 1-2 1 6 1-4 1 2 1-2 1-1 1 1 1 1 1 2 1 2 1-2 1-2 1 3 1-8 1 4 1 3 1-4 1-1 1 2 1 3 1-2 1-3 1 1 1 6 1-5 1-3 1 5 1 4 1-2 1-3 1 1 1 0 1 6 1-4 1-1 1-1 1-3 1 4 1-4 1-1 1 0 1 4 1-4 1 4 1 0 1 3 1-1 1 0 1-5 1 1 1 0 1 2 1 0 1 2 1-1 1-5 1 3 1-4 1 2 1 3 1-4 1 3 1-2 1 3 1-4 1 2 1 0 1-1 1 3 1 4 1-2 1-4 1-3 1 7 1-3 1-1 1 4 1 2 1-8 1 2 1 2 1-2 1 5 1-4 1 1 1 0 1-3 1 2 1 0 1 1 1 2 1-2 1-4 1 7 1 0 1-1 1-3 1 2 1-2 1 5 1-1 1-4 1 6 1-5 1-3 1 0 1 0 1 4 1 0 1-3 1 1 1-4 1 3 1 1 1 0 1-3 1 1 1 3 1-2 1 3 1-3 1 2 1-4 1-1 1 2 1 6 1-2 1-2 1 0 1-1 1-1 1 4 1 2 1 0 1-5 1-1 1 3 1 0 1-3 1 3 1-2 1-1 1 1 1-1 1-1 1 4 1 4 1-3 1 2 1 1 1-5 1 3 1-1 1-1 1 2 1-3 1-4 1 6 1-1 1 6 1-3 1-7 1 3 1 2 1-2 1 1 1-4 1 3 1 2 1 0 1 5 1-6 1-2 1 6 1 3 1-5 1-2 1-4 1 5 1 1 1-2 1-3 1 4 1 0 1 1 1-4 1-2 1-2 1 1 1 1 1 4 1-1 1-3 1 1 1 4 1-1 1 1 1-4 1 1 1 2 1-2 1 0 1 3 1-4 1 2 1 1 1 2 1-2 1-2 1 7 1-3 1-1 1-2 1 3 1-7 1 4 1 3 1-2 1-2 1 1 1 2 1-2 1 0 1 0 1 3 1-3 1-9 1 8 1 1 1 5 1-3 1-2 1 2 1-1 1 2 1-4 1 1 1 3 1-1 1-2 1 0 1-5 1 5 1 0 1 3 1-3 1 2 1-2 1 2 1 1 1 0 1-7 1 6 1-3 1 1 1 3 1-1 1 1 1-3 1-2 1-3 1 6 1 1 1 0 1-1 1 1 1-5 1 3 1 1 1 7 1-7 1 2 1-8 1 3 1 3 1-2 1-3 1 3 1-1 1 6 1-1 1 1 1-4 1 4 1 1 1-2 1-2 1-2 1-2 1 0 1 2 1 1 1 5 1-6 1 3 1 0 1-1 1 2 1-1 1-3 1-2 1-2 1 2 1 4 1-1 1 3 1 4 1-6 1 1 1 0 1 1 1-6 1 3 1-3 1 3 1 0 1 0 1-3 1 7 1-2 1 1 1-3 1 2 1-1 1 1 1 1 1-3 1-2 1 2 1 4 1-1 1-4 1 2 1-2 1 1 1-3 1 5 1-1 1-2 1 0 1 5 1-1 1-1 1 2 1-1 1-1 1 0 1 0 1 1 1-4 1-1 1 3 1-3 1-1 1 4 1-4 1-1 1 2 1 3 1-1 1 2 1-3 1 2 1 2 1 1 1-1 1 0 1-3 1-1 1 1 1 1 1 0 1 1 1 1 1-3 1 2 1-2 1 3 1 1 1-3 1-7 1 5 1 3 1-5 1 3 1 1 1 3 1-5 1 3 1 1 1-1 1-4 1 0 1 5 1 3 1-8 1 2 1-4 1 3 1 0 1 1 1 1 1-1 1 0 1-3 1 3 1 1 1-3 1 4 1 0 1-1 1 3 1-4 1 1 1-2 1 1 1 4 1 1 1-1 1-2 1 0 1 0 1-2 1 4 1-1 1-5 1 2 1 1 1-2 1 4 1-3 1 1 1 1 1-2 1-3 1 2 1 2 1-4 1 1 1-3 1 1 1 3 1 3 1-1 1-3 1 5 1-8 1 10 1-5 1-2 1 4 1 4 1-3 1-1 1-3 1 2 1-1 1 1 1-4 1 4 1 0 1-1 1-6 1 13 1 0 1-3 1 0 1-2 1-3 1 0 1 2 1 1 1 0 1 1 1-7 1 1 1 3 1-1 1 2 1 0 1-1 1 3 1-2 1 1 1-2 1 3 1-1 1-2 1-3 1 1 1 1 1 5 1-2 1-2 1 1 1-1 1-2 1-1 1 4 1 1 1 3 1-4 1-2 1-2 1 4 1 1 1 1 1-8 1 0 1 5 1 0 1 2 1 0 1-7 1 5 1 1 1-1 1 4 1 1 1 1 1-7 1 3 1 0 1-4 1 5 1-1 1 1 1-3 1 1 1 4 1-6 1-2 1 2 1 2 1 0 1 2 1-1 1-4 1 1 1 4 1 1 1-2 1-4 1 1 1 1 1-2 1 4 1-2 1 1 1 2 1-3 1 3 1-2 1-3 1 5 1-5 1-2 1 2 1 2 1 1 1 0 1-1 1 3 1-3 1-3 1 6 1-6 1 5 1 1 1-1 1-1 1-1 1-4 1 2 1-1 1 4 1-2 1 5 1 0 1-9 1 5 1-1 1-1 1 0 1 5 1-3 1-5 1 2 1 4 1-1 1 2 1-2 1 0 1 0 1 2 1 3 1-5 1 0 1-1 1-2 1 3 1-3 1 3 1-2 1 0 1 4 1-4 1 1 1 1 1 0 1 0 1 2 1 1 1-2 1-3 1 2 1-2 1 5 1-6 1 2 1 2 1-1 1-1 1 1 1-1 1 4 1-4 1 1 1 3 1-4 1 1 1-4 1 5 1-4 1 1 1 4 1-4 1 0 1-1 1 4 1 5 1-4 1-2 1-2 1-1 1-1 1 2 1 1 1 2 1-2 1 2 1-1 1 1 1-2 1 2 1 1 1 0 1-3 1 2 1-4 1 5 1-2 1 1 1 2 1-2 1-2 1-1 1 3 1 2 1-1 1 0 1-6 1 6 1-1 1-6 1 7 1-5 1-1 1 1 1 1 1 6 1-3 1 0 1-4 1 0 1 5 1 4 1-3 1-7 1 3 1 1 1-2 1 2 1-1 1 3 1 0 1-3 1 1 1-2 1 2 1-2 1 1 1 0 1-2 1 2 1 4 1 0 1-2 1-3 1 3 1 0 1-4 1-1 1 7 1 0 1-2 1-1 1 1 1 3 1-8 1 2 1-2 1 1 1 1 1 6 1-4 1 0 1 0 1 2 1 1 1-2 1-2 1-2 1 2 1 5 1-2 1 0 1 0 1 1 1-4 1 3 1-2 1-1 1 3 1-1 1 1 1-4 1 3 1 3 1-5 1 7 1-8 1 1 1 0 1 0 1 1 1-1 1 7 1-4 1 1 1 2 1-1 1-2 1-2 1 2 1 1 1-5 1 0 1 4 1 1 1-2 1-2 1 2 1 0 1-3 1 6 1-3 1 0 1 2 1-2 1-2 1 2 1 1 1-4 1 2 1 2 1-2 1-1 1 2 1 4 1-2 1 1 1-6 1 4 1-5 1 3 1 0 1 0 1-3 1 5 1 0 1-1 1-1 1 2 1-2 1-2 1 3 1-3 1 2 1 1 1-2 1 2 1-2 1 3 1 2 1-4 1-1 1 1 1-2 1 3 1-5 1 4 1-1 1 1 1 1 1 2 1-5 1 2 1 2 1-4 1 0 1 3 1-2 1-2 1 2 1 4 1-2 1 1 1 2 1-4 1-1 1 6 1-3 1 1 1-3 1 2 1 2 1-6 1 2 1-3 1 2 1 3 1 2 1 0 1-2 1-2 1-3 1 6 1-2 1-2 1-2 1 0 1 1 1 0 1 5 1-2 1 2 1-7 1 1 1 3 1 1 1 0 1-2 1 2 1 0 1 1 1-3 1 0 1 3 1-3 1 1 1-2 1-1 1 4 1-2 1-2 1 5 1-1 1 2 1-4 1 5 1-5 1 2 1-2 1-4 1 4 1 3 1 1 1-4 1 4 1 1 1-4 1-3 1 2 1-3 1 0 1 2 1 1 1 0 1 0 1-1 1 1 1 4 1 2 1-1 1-3 1 3 1-2 1-2 1-2 1 4 1 1 1 1 1 0 1-2 1-5 1 10 1-5 1-2 1-3 1 0 1 2 1 5 1-1 1-1 1 1 1-4 1 2 1 2 1-2 1-2 1 3 1 1 1 0 1-2 1-1 1 2 1 1 1-4 1-4 1-2 1 1 1 7 1-1 1 0 1 1 1 1 1-1 1-2 1-2 1-1 1 4 1 1 1-3 1 0 1 3 1-1 1 4 1-4 1 3 1-3 1 7 1-6 1 2 1-1 1-2 1 2 1-5 1 0 1 4 1-5 1 4 1 0 1-4 1-1 1 4 1-1 1 2 1-2 1 2 1-3 1 6 1-3 1-3 1 2 1 5 1-4 1 3 1-1 1-2"/>
</g></g>
<g clip-path="url(#cr1)"><g transform="matrix(0.571286 0 0 0.571286 1261 0)" fill="none" stroke-width="5.251" stroke-opacity="0.35" stroke-linejoin="round">
<path stroke="#2a2eec" stroke-linecap="round" d="M0 996l1 78 1 82 1-139 1 73 1 43 1-9 1-1 1-88 1 167 1-21 1-97 1 7 1 17 1 108 1-126 1 43 1-96 1 179 1-95 1-41 1-70 1 61 1 62 1-31 1 24 1-20 1 115 1-79 1-33 1-13 1 7 1-98 1-33 1 32 1 61 1-52 1 51 1 45 1 24 1-19 1-94 1-17 1 0 1 43 1 67 1-30 1 11 1 36 1-84 1 123 1 25 1-3 1-35 1-36 1-61 1-24 1 66 1 27 1-29 1-63 1 14 1-8 1-17 1 23 1 26 1 125 1-49 1 28 1-19 1-30 1-66 1-39 1 92 1-50 1-21 1 135 1-85 1-5 1 96 1-80 1-57 1-21 1 63 1-51 1-30 1 12 1 119 1-94 1 53 1 15 1-96 1-34 1-15 1 235 1-168 1 148 1-107 1 70 1-65 1-61 1-11 1 66 1 154 1-69 1-23 1-40 1-64 1 79 1-65 1 73 1 7 1-54 1-39 1-19 1 77 1-48 1 86 1-150 1 30 1 41 1 68 1 3 1-41 1 37 1-33 1 47 1 2 1-98 1 82 1-5 1 28 1-77 1 64 1-16 1-27 1 13 1-47 1 4 1 6 1 43 1-4 1 32 1 5 1 15 1-133 1-7 1 109 1-24 1-61 1 38 1-85 1 129 1-35 1 118 1-156 1 63 1-32 1-54 1 46 1 34 1 23 1-111 1-37 1 96 1-70 1 86 1 122 1-54 1-7 1-64 1-24 1 60 1 19 1-27 1 120 1-134 1-63 1 34 1 94 1-42 1 25 1-2 1-129 1 67 1 46 1-62 1 98 1-145 1 29 1 16 1 0 1 100 1-82 1-21 1 20 1 55 1-25 1-92 1 93 1-37 1-38 1 108 1-11 1-47 1-67 1 32 1 63 1-14 1 93 1-98 1 3 1 11 1-15 1-11 1 65 1-153 1 128 1-27 1-4 1 94 1-48 1 26 1 30 1 35 1-87 1-85 1-15 1 47 1-16 1 144 1-101 1 21 1-62 1-24 1 31 1 27 1 8 1-110 1 85 1-15 1-34 1-35 1 143 1-43 1 60 1-28 1-69 1 119 1-72 1-6 1-57 1 31 1-3 1 28 1-72 1 2 1 23 1 194 1-145 1 27 1-65 1-4 1-14 1 50 1-18 1 16 1 79 1-81 1 41 1-35 1-62 1-33 1 30 1 23 1 23 1 52 1-57 1-10 1 48 1-47 1 80 1-62 1 39 1 22 1 5 1-16 1 21 1-50 1-20 1-153 1 201 1-11 1-69 1-56 1 61 1-32 1 63 1-46 1 61 1 59 1-61 1 3 1-12 1 23 1 63 1-40 1-2 1 34 1-9 1-44 1-18 1 44 1 25 1-15 1 1 1-29 1-114 1 78 1 108 1-155 1 39 1 34 1-41 1 42 1-106 1 62 1 18 1 26 1-37 1 25 1 16 1-8 1 35 1-80 1-53 1 114 1 0 1-48 1 81 1-5 1-70 1 1 1-11 1 119 1-134 1 16 1 19 1-102 1 16 1 141 1-145 1 94 1 3 1 58 1-133 1 44 1-19 1-31 1 42 1 128 1-165 1 59 1 82 1-38 1-14 1 2 1-19 1-37 1-83 1 21 1 48 1-92 1 80 1-92 1 89 1 127 1-135 1 48 1 22 1-4 1-13 1-34 1 30 1 76 1-71 1-29 1 40 1-27 1-25 1 129 1 50 1-51 1-111 1 105 1-121 1 61 1-40 1 44 1 17 1-7 1 23 1 20 1-8 1-23 1-7 1 56 1-35 1-22 1-59 1-16 1 20 1 2 1 81 1-16 1-76 1-2 1-60 1-49 1 0 1 129 1 43 1-4 1-95 1 26 1 44 1 61 1-41 1-1 1-87 1-88 1 183 1 65 1-115 1-27 1 66 1-34 1-13 1 80 1-80 1 49 1-30 1-70 1 109 1-73 1-16 1-46 1 117 1-33 1 98 1-55 1-96 1-51 1 45 1 111 1 67 1-94 1 30 1-52 1 6 1 4 1-87 1 143 1-25 1-67 1-57 1 127 1 50 1-26 1 65 1-13 1-154 1 86 1 53 1-36 1-43 1 41 1-33 1-63 1-8 1 54 1-67 1-38 1 41 1 157 1-118 1 37 1-63 1 73 1 27 1 4 1-6 1-126 1 90 1 22 1-29 1 66 1-14 1 22 1-105 1 106 1-44 1-32 1-69 1 3 1 30 1 82 1-162 1 6 1 49 1 126 1-16 1 32 1 14 1-16 1 39 1-1 1-45 1-25 1 90 1-70 1-129 1 65 1 39 1 13 1-152 1 29 1 8 1 17 1 36 1-95 1 89 1 139 1-113 1-56 1 20 1-15 1 2 1 6 1-88 1 2 1 45 1 37 1 48 1 54 1 24 1 3 1-52 1-14 1-60 1 13 1 129 1 22 1-54 1-191 1 101 1-24 1 10 1 46 1-56 1 143 1-17 1 28 1-104 1-123 1 101 1 72 1 21 1-57 1-7 1-34 1 49 1 17 1-101 1-36 1 20 1 98 1-96 1-136 1 192 1-45 1 44 1-22 1 2 1-20 1 67 1-27 1 38 1-42 1 2 1 45 1-21 1 17 1-41 1-8 1-6 1 144 1-74 1 6 1-4 1-87 1-17 1 34 1-67 1-9 1 45 1-21 1-46 1 138 1 53 1 3 1-33 1-29 1-84 1 83 1-95 1-19 1-6 1 66 1 70 1-97 1 15 1 44 1-51 1 15 1 69 1-51 1 3 1 22 1-29 1 63 1-31 1 26 1-67 1 17 1 24 1-56 1 68 1 31 1-98 1 86 1-107 1-7 1 71 1 41 1-138 1 63 1 45 1 25 1 29 1-162 1 30 1 39 1 47 1 6 1-72 1 153 1-38 1-2 1 31 1-119 1 44 1-87 1-22 1 110 1-83 1 17 1 34 1-69 1 31 1 14 1 95 1-105 1 34 1-70 1 58 1-49 1 31 1-19 1 149 1-72 1-8 1-1 1 51 1 59 1-127 1 1 1-10 1-49 1 74 1-86 1 11 1 24 1 18 1-83 1 41 1 0 1 96 1-51 1 69 1 1 1-62 1 21 1 94 1-14 1-31 1-75 1 41 1-78 1 29 1 72 1-124 1 57 1 39 1 22 1-27 1 13 1-36 1-40 1 24 1 55 1-82 1 47 1-23 1 142 1-145 1 56 1-68 1 94 1-27 1-94 1-17 1 40 1-11 1 154 1-32 1-36 1 94 1-56 1-59 1-57 1 47 1-68 1-93 1 118 1-7 1-1 1-37 1 180 1-85 1 27 1 50 1 13 1-42 1-60 1 42 1 63 1-53 1-103 1 99 1-62 1-49 1 57 1 54 1 27 1-118 1 0 1 40 1-3 1 49 1-13 1-99 1 22 1 11 1-6 1 68 1-28 1 74 1 90 1-98 1-7 1 5 1 48 1-46 1-16 1 30 1 2 1 29 1-28 1-84 1 75 1-78 1 93 1-5 1-198 1 175 1-79 1 78 1-41 1-27 1-29 1 47 1 43 1-151 1 45 1 15 1 88 1 42 1-83 1-73 1 91 1 60 1-99 1 57 1-42 1 73 1-37 1 32 1-12 1 18 1-53 1 16 1-28 1 34 1-81 1 79 1 2 1-77 1 28 1 57 1 8 1 16 1-99 1 28 1 11 1 89 1-109 1-35 1-27 1 121 1-93 1 74 1-34 1 3 1-38 1 113 1-47 1-52 1-73 1 86 1-11 1-52 1 80 1 20 1-11 1-78 1 69 1-12 1 33 1-23 1-91 1 27 1 15 1 60 1 30 1-78 1-39 1 96 1 4 1 10 1-3 1-67 1 89 1-96 1-47 1 140 1-39 1 7 1 46 1-147 1-17 1 100 1 29 1-30 1-68 1-10 1 41 1 90 1 56 1-70 1-61 1-32 1-40 1 66 1 27 1-64 1 53 1-38 1 167 1-151 1 6 1-1 1-30 1 36 1 100 1-29 1-125 1 62 1 12 1 32 1-10 1 22 1 34 1-50 1 21 1 33 1-118 1 41 1-19 1-71 1-26 1 106 1-17 1 19 1 45 1-41 1 33 1 20 1-34 1-26 1-27 1 33 1-51 1 62 1 19 1-59 1 71 1-56 1-28 1 62 1 24 1-31 1-35 1 45 1 9 1 66 1-80 1-51 1-21 1 47 1-22 1-54 1 18 1 37 1 19 1-20 1 1 1 33 1-56 1 37 1-29 1 52 1-72 1 34 1 51 1 23 1-126 1 28 1-17 1 71 1 8 1 15 1-41 1 22 1-22 1 68 1-150 1 128 1-234 1 118 1-9 1 61 1-36 1 24 1 92 1 17 1 19 1-107 1 27 1 0 1-11 1 10 1 0 1 42 1 25 1-71 1-14 1 11 1-32 1-1 1 4 1-45 1 167 1-85 1 123 1-134 1-35 1 38 1 6 1-40 1 50 1 1 1-53 1 157 1-99 1-36 1-29 1 9 1 116 1-121 1 90 1 110 1-118 1-27 1-23 1-24 1-52 1 13 1 131 1-63 1-17 1 26 1-1 1 9 1-45 1 75 1 106 1-92 1 14 1-26 1-65 1 83 1-42 1 54 1 10 1-17 1 9 1-71 1 62 1-33 1-8 1 7 1-59 1-35 1 13 1-26 1 55 1-45 1 3 1 43 1-46 1 97 1 37 1 24 1-80 1 65 1-97 1 88 1-22 1-26 1-37 1 57 1-58 1-28 1 39 1 108 1-122 1 42 1 30 1-37 1 108 1-128 1 75 1-65 1-1 1 48 1-50 1-15 1 26 1-8 1-13 1 48 1 32 1-39 1 76 1-10 1-96 1-30 1 36 1-31 1 33 1 42 1-60 1 14 1 3 1 9 1-120 1 45 1-3 1 58 1-21 1 60 1-1 1-9 1-9 1-95 1 100 1-59 1 16 1 13 1-94 1 84 1 110 1-120 1-11 1 117 1-82 1 62 1-28 1-84 1 96 1-12 1-85 1 47 1 35 1-60 1-24 1-10 1-67 1 187 1 57 1-40 1 46 1-27 1 16 1-102 1-50 1 75 1-127 1-10 1 121 1 17 1-2 1-45 1-14 1 24 1-2 1 1 1-23 1 65 1-22 1 47 1-36 1 7 1-21 1 99 1 7 1-165 1 24 1 69 1-51 1-97 1 17 1 123 1 21 1 68 1-25 1-117 1-60 1 53 1 103 1 81 1-114 1-22 1-1 1-8 1-102 1 82 1-5 1-20 1-52 1 70 1 25 1-36 1 24 1 63 1-34 1-4 1 35 1 45 1-21 1-22 1-78 1-44 1 199 1-98 1-11 1-19 1-34 1 71 1 118 1-127 1-10 1-48 1-3 1 41 1-41 1 38 1-24 1 59 1-43 1-14 1 49 1-24 1-94 1 84 1 68 1-126 1-61 1 69 1 10 1-10 1 53 1-48 1 46 1 127 1-67 1-57 1-98 1 73 1 55 1-25 1 2 1 26 1-91 1 16 1 73 1-30 1-50 1 114 1 43 1-61 1-2 1 23 1-20 1 43 1-165 1 37 1-8 1 67 1-45 1 162 1-57 1-76 1 31 1-23 1 108 1-69 1-55 1-30 1 27 1 43 1-97 1 94 1 10 1-20 1-28 1-26 1 65 1-56 1-13 1 95 1-70 1 56 1-108 1-44 1 143 1 90 1-42 1-41 1-25 1 10 1-95 1 30 1-7 1 132 1-85 1 19 1-21 1 2 1-70 1 120 1-69 1 117 1-94 1-5 1-81 1 59 1-12 1 64 1-35 1-3 1 13 1 9 1-24 1 58 1-36 1-74 1-4 1 17 1 126 1 8 1 19 1-45 1-31 1-57 1 46 1 17 1-79 1 49 1 91 1-84 1 46 1-45 1-67 1 4 1 72 1-4 1 32 1-98 1-8 1 30 1-19 1-32 1 75 1-33 1-59 1 78 1-57 1 19 1 90 1-21 1 61 1-90 1 55 1-25 1-1 1-112 1 28 1 37 1-70 1 108 1-51 1 3 1 10 1-29 1 80 1-107 1 27 1 5 1 10 1 12 1-136 1 110 1 84 1-1 1 130 1-138 1 9 1-16 1 27 1-67 1-86 1 122 1-64 1-1 1-3 1 26 1-30 1-24 1 78 1 144 1-124 1 18 1-99 1 74 1-21 1 144 1-111 1-24 1-71 1 29 1 2 1 8 1 128 1-119 1 5 1 0 1-14 1 52 1-2 1-14 1-24 1-51 1 32 1-2 1 73 1-120 1-6 1 20 1 117 1-63 1 80 1-20 1 9 1 30 1-69 1-98 1 97 1-58 1 36 1 25 1-23 1-18 1 63 1 47 1-19 1 112 1 14 1-71 1-86 1-1 1 12 1 20 1 10 1-36 1-16 1 8 1-20 1-43 1 102 1 50 1-150 1 91 1 5 1-62 1 20 1-69 1 40 1-31 1 20 1-12 1 51 1 24 1-39 1 57 1-109 1 42 1 26 1-96 1 88 1 35 1-62 1 25 1-4 1-12 1-33 1 50 1-72 1 86 1-26 1 23 1-88 1 91 1-145 1 129 1-29 1-2 1-19 1 1 1 100 1 35 1-57 1-36 1 53 1-55 1-73 1 41 1-13 1 71 1-136 1 74 1 17 1 3 1 28 1-11 1-15 1 68 1-78 1-14 1 46 1 59 1-27 1 28 1-149 1-8 1 49 1 42 1-58 1 1 1-57 1 178 1-80 1 87 1-161 1 168 1 3 1-7 1-33 1-12 1-76 1 39 1-2 1-11 1 96 1-121 1 99 1-73 1-23 1 91 1-94 1-1 1 8 1 12 1 2 1-21 1-32 1 168 1-169 1 35 1 2 1 55 1 10 1-51 1 66 1 40 1-98 1-3 1 36 1-106 1 46 1 5 1 28 1 1 1 46 1-105 1 130 1-12 1 68 1-65 1-50 1-7 1-34 1 58 1-41 1 55 1 22 1-35 1-64 1 141 1-20 1-7 1-72 1 25 1-33 1-58 1 29 1 23 1 55 1 53 1-44 1-119 1 110 1-23 1 44 1-66 1-52 1 111 1-37 1 3 1 15 1 34 1-64 1-19 1-68 1 96 1-10 1 41 1 2 1-137 1 4 1 76 1 21 1-13 1-78 1 1 1 57 1 84 1-22 1-115 1 103 1-2 1 89 1-105 1-10 1-90 1 174 1 3 1 1 1-101 1 11 1 77 1-80 1 171 1-183 1-35 1 127 1 0 1 39 1-85 1-41 1 63 1-115 1 70 1-37 1 0 1 7 1-3 1 36 1 42 1 30 1-35 1-66 1-71 1 51 1 43 1 14 1-6 1 65 1 9 1-75 1-59 1-34 1 28 1 73 1-72 1 19 1 41 1-100 1 68 1-49 1 69 1 6 1-3 1 1 1 4 1-16 1-59 1 45 1 65 1 92 1-132 1-87 1 126 1-44 1-90 1 99 1 23 1-68 1 69 1 51 1-38 1 141 1-59 1-121 1 27 1 6 1-14 1 19 1 23 1-22 1 58 1-78 1 2 1-41 1 47 1-102 1 61 1 46 1-72 1 90 1-110 1-63 1 153 1 65 1-80 1-45 1-9 1 91 1 46 1 59 1-119 1 29 1 86 1-114 1-61 1 8 1 51 1-57 1 162 1-100 1-54 1 33 1 42 1-3 1-110 1 88 1 113 1-102 1 63 1-56 1 11 1-30 1 56 1-88 1-28 1 11 1 1 1-2 1 44 1-7 1-39 1 41 1 62 1 84 1-127 1-92 1 34 1 24 1 47 1-17 1-62 1-78 1 40 1 40 1-57 1-11 1 198 1-33 1 63 1 34 1-119 1-20 1-1 1-55 1 25 1-10 1-9 1 66 1-146 1 21 1 62 1-10 1 58 1-36 1-16 1 58 1 25 1-193 1 138 1-75 1 93 1 14 1-64 1 96 1-151 1 16 1 47 1-88 1 108 1-81 1 49 1-16 1 41 1 38 1 0 1-79 1 33 1 31 1 25 1 81 1-158 1 13 1 94 1-33 1-38 1 34 1-10 1-7 1-34 1 11 1-43 1-17 1 32 1 7 1 32 1-56 1-57 1 46 1 4 1-24 1 93 1-7 1-60 1 21 1-44 1 43 1-76 1 31 1 74 1 64 1-108 1 51 1 16 1 33 1 44 1-126 1 46 1-13 1 48 1 13 1-44 1 1 1-77 1-3 1 10 1-57 1 53 1 74 1-71 1-57 1 83 1-63 1 23 1 44 1 99 1-24 1 2 1-98 1 73 1-77 1-33 1 62 1 30 1 31 1-40 1 9 1-5 1 13 1-13 1-99 1 61 1 58 1 24 1-64 1 29 1-24 1 0 1 40 1 81 1-74 1 89 1-138 1 75 1-17 1-22 1 34 1-97 1 70 1-29 1-23 1-64 1 9 1-25 1 24 1 157 1-84 1 20 1-24 1-2 1-60 1 143 1-76 1 11 1 66 1-37 1-44 1 8 1-1 1 32 1-38 1 9 1 58 1-138 1 130 1-103 1 74 1 30 1-69 1 59 1 43 1-21 1-103 1 112 1-147 1-4 1-1 1 25 1 84 1 0 1-52 1-35 1-6 1 40 1 36 1-144 1 149 1-20 1 62 1-114 1 61 1-46 1-58 1 208 1-21 1 53 1-19 1-5 1-33 1-133 1 39 1-18 1-65 1 52 1 36 1-66 1 29 1 85 1 90 1-52 1-59 1 28 1-71 1-80 1 18 1 198 1-59 1 15 1-105 1-11 1 28 1 15 1 21 1 49 1-49 1 35 1-22 1-91 1 50 1-44 1 17 1 65 1-66 1 41 1-36 1 19 1-60 1 12 1 39 1 48"/>
<path stroke="#2a2eec" stroke-dasharray="19.43 8.40" d="M0 966l1 96 1 8 1 10 1 24 1 63 1-29 1 20 1-105 1-99 1 131 1-2 1-41 1 87 1 10 1 6 1-120 1 13 1 87 1-26 1-7 1-1 1 109 1-71 1-38 1-31 1 14 1 45 1 3 1-68 1-131 1 162 1-55 1-23 1 69 1 185 1-145 1 12 1 12 1-59 1 60 1 24 1-104 1-34 1-18 1 30 1 30 1-22 1-38 1-38 1 44 1-3 1 71 1-65 1-61 1-14 1 89 1 136 1-12 1-68 1 59 1-4 1-149 1 146 1 42 1-67 1-19 1-133 1 63 1 9 1 13 1 109 1 56 1-2 1-76 1 62 1-121 1 10 1-29 1-13 1 28 1 108 1-13 1-60 1 75 1-44 1 42 1-90 1-20 1 14 1-19 1-35 1 45 1 0 1-37 1 26 1 18 1 20 1 21 1 21 1-64 1-2 1 35 1-73 1-31 1 53 1 70 1-48 1 5 1-31 1 21 1-48 1 106 1-29 1 7 1-35 1 48 1 17 1 41 1-65 1-120 1-31 1 112 1 10 1-20 1 108 1-97 1-70 1 65 1 114 1 16 1-109 1 18 1-8 1-46 1 21 1 28 1 8 1 86 1-147 1-49 1 86 1-22 1 62 1-66 1 18 1 32 1 16 1-91 1 34 1-19 1 69 1-175 1 75 1 116 1-112 1 105 1-99 1-21 1-56 1 105 1 102 1-83 1-44 1 17 1 16 1-90 1 11 1 115 1-36 1 78 1-28 1 75 1-27 1 6 1 44 1-87 1-43 1 33 1 62 1-152 1 50 1 32 1 15 1-82 1 93 1-35 1 65 1-112 1 75 1 28 1-77 1-18 1-29 1 3 1-71 1 136 1-34 1-26 1 12 1-56 1 8 1 34 1-41 1 94 1-16 1 40 1-91 1 87 1 29 1-60 1 1 1 67 1-44 1-80 1 42 1 87 1-32 1 41 1 1 1-99 1-10 1-51 1 107 1-2 1 49 1-98 1 74 1 25 1 17 1-91 1-14 1 7 1-63 1 46 1 61 1-146 1 115 1 30 1-96 1 40 1-2 1 102 1-15 1 4 1-69 1 17 1-37 1 57 1-10 1-38 1 76 1 8 1-112 1 59 1-141 1 42 1 17 1 52 1-14 1 12 1 87 1-23 1-15 1-71 1 39 1 138 1-109 1-7 1-48 1 3 1 87 1 41 1-37 1 6 1-46 1 13 1-17 1-47 1 33 1 21 1-52 1-39 1 9 1 122 1-58 1 4 1-68 1 177 1-85 1-31 1-33 1 36 1 13 1-24 1 81 1-64 1 76 1-19 1-101 1-6 1-2 1-42 1 27 1 13 1 66 1 14 1-112 1 87 1-71 1 10 1-68 1 116 1-70 1 74 1 9 1-118 1-29 1 74 1-51 1 39 1 46 1-48 1 113 1 33 1 90 1-134 1 18 1-16 1-31 1-5 1-39 1 25 1-64 1 148 1-107 1-36 1 67 1-86 1 73 1-117 1 11 1 58 1 38 1-16 1 10 1 17 1-13 1-59 1 68 1 57 1-150 1 63 1-6 1 41 1 40 1-78 1-38 1 85 1 38 1-36 1-22 1 39 1-68 1 20 1 72 1-22 1-20 1-8 1 34 1-56 1 74 1-57 1 15 1 52 1 3 1 49 1 18 1 5 1-101 1-9 1 58 1-13 1 22 1-103 1 65 1-32 1-29 1-20 1-34 1 66 1 97 1-92 1-32 1 123 1-55 1-41 1 28 1-12 1 72 1-4 1 12 1-150 1 43 1 34 1 39 1-43 1-15 1 16 1 54 1 5 1 33 1 26 1-111 1 19 1-54 1 19 1 12 1 7 1-15 1-114 1 41 1 86 1-83 1 67 1 70 1 59 1 6 1-132 1-47 1 84 1-20 1 58 1-50 1-75 1 9 1 46 1 41 1-46 1-28 1 39 1-4 1-60 1 25 1 85 1-112 1 39 1 111 1-136 1-62 1 45 1 68 1 48 1-20 1 83 1-120 1-37 1 78 1-132 1 8 1-39 1 47 1-28 1 43 1 92 1-35 1 67 1 1 1-47 1 44 1 28 1-104 1 14 1 3 1-19 1 83 1-60 1 39 1-60 1-14 1 11 1-81 1 55 1-5 1 18 1-5 1-52 1-61 1 82 1 52 1 17 1-2 1-80 1 80 1 65 1 92 1-101 1-44 1 4 1-6 1-13 1 40 1-30 1 46 1-26 1-159 1 60 1 35 1 28 1-2 1-72 1 97 1-16 1 10 1-75 1 10 1 72 1 91 1-120 1-67 1 84 1-88 1 136 1 36 1 37 1-123 1 19 1-57 1 179 1-137 1-11 1-91 1 34 1 120 1-136 1 45 1-52 1 108 1-42 1-45 1-19 1 8 1 115 1-14 1 34 1-64 1 97 1-163 1 92 1-63 1 81 1-163 1-20 1 192 1 57 1-99 1 81 1-55 1-84 1 87 1 0 1-4 1-31 1-58 1 0 1 110 1 24 1-71 1-81 1 79 1 40 1-19 1-7 1-27 1 14 1-20 1 45 1-79 1-14 1 17 1 23 1 45 1 45 1-67 1 6 1 7 1-99 1 71 1-75 1-56 1 24 1 94 1-14 1 36 1-16 1-10 1 88 1-42 1-33 1-31 1 8 1 14 1 27 1-74 1 73 1 25 1-27 1 7 1 60 1-92 1-50 1 35 1 20 1-6 1-41 1 94 1-32 1-69 1 91 1-59 1 130 1-122 1-84 1 27 1 27 1 90 1 25 1 11 1-81 1 16 1-68 1 56 1-39 1 6 1 29 1 34 1-61 1 159 1-224 1 100 1-29 1-93 1 160 1 25 1-103 1 101 1-35 1-5 1-31 1 20 1-46 1 69 1-18 1 67 1-86 1 105 1-92 1 31 1-110 1 32 1 5 1 59 1-37 1-42 1 7 1-69 1 80 1-88 1 166 1-2 1-21 1-1 1-43 1 38 1 60 1-28 1 39 1-54 1-30 1 195 1-179 1 38 1-27 1-27 1 8 1-58 1-35 1 222 1-232 1 88 1-1 1 21 1 47 1-27 1-20 1-12 1-52 1 6 1 76 1-95 1 11 1 76 1-45 1-33 1 50 1 8 1 139 1 11 1-79 1-35 1-71 1 106 1 0 1-39 1 44 1 14 1-120 1 23 1-72 1 119 1-73 1-24 1-70 1 83 1-42 1 2 1 61 1 92 1-2 1-5 1-22 1-61 1-37 1 106 1-54 1-21 1-18 1 99 1 40 1-98 1 19 1 4 1-92 1 98 1 71 1-21 1-130 1 57 1-28 1-6 1-91 1 133 1-25 1-1 1 29 1-18 1 102 1-88 1 71 1-108 1 30 1 95 1-36 1-77 1 64 1 93 1-80 1-35 1-6 1-20 1-63 1-7 1-11 1 74 1-95 1 165 1 40 1-3 1-51 1-38 1 55 1-39 1-63 1 8 1 6 1-36 1-32 1 116 1 0 1 80 1-19 1-4 1-24 1 66 1-65 1-33 1 57 1-18 1-78 1-19 1 82 1 3 1-16 1-49 1-34 1 68 1 17 1-30 1 35 1-40 1 85 1-10 1-140 1 47 1 77 1-91 1 25 1 12 1-5 1-113 1 110 1 60 1-68 1-27 1 84 1-5 1-116 1 16 1-39 1 89 1 7 1 67 1 83 1-151 1 71 1-38 1 33 1-33 1 20 1-129 1 60 1 54 1-15 1 135 1-131 1 35 1-95 1 100 1-114 1 184 1-44 1-114 1-9 1 61 1-62 1 82 1-81 1-56 1-27 1 147 1-98 1-27 1 57 1 15 1-5 1 50 1 5 1-46 1-35 1 41 1 114 1-99 1 119 1-152 1-16 1 91 1-78 1-22 1 70 1 79 1-124 1 15 1 42 1-64 1 70 1-82 1-59 1 119 1 29 1-68 1 20 1 116 1-136 1 50 1-80 1 121 1-60 1-26 1-12 1 78 1 60 1-108 1-54 1 35 1-10 1 66 1 39 1-119 1-56 1-36 1 75 1 98 1 127 1-129 1-87 1 0 1-1 1 103 1-102 1-48 1-75 1 43 1-2 1 199 1 37 1 6 1-127 1 12 1 62 1 13 1-81 1 104 1-89 1-29 1-104 1 87 1 134 1-146 1 26 1 24 1 41 1-41 1 43 1-2 1 3 1-97 1-3 1 114 1-40 1 20 1-37 1-29 1 37 1-77 1-23 1 123 1-20 1 55 1 46 1 6 1-13 1-9 1-90 1-19 1 55 1 31 1-58 1-35 1-60 1 48 1 0 1 115 1-33 1-57 1 52 1 20 1-173 1 23 1 66 1-38 1 29 1 64 1-11 1 2 1-69 1 49 1 6 1 67 1 17 1-48 1-18 1-47 1-12 1 15 1 76 1-65 1 94 1-67 1-42 1-64 1 90 1-8 1 7 1 88 1-111 1 45 1-53 1 93 1-70 1-33 1 29 1-116 1 75 1-10 1 158 1-112 1 105 1 2 1-12 1-26 1-137 1 75 1 5 1 41 1-15 1 89 1-91 1-26 1 95 1 61 1-55 1-66 1 42 1 59 1-107 1 87 1-112 1-61 1 162 1-97 1-32 1-9 1-54 1-31 1 68 1 19 1 26 1 20 1-80 1-6 1 38 1-78 1-15 1 8 1 66 1 11 1-88 1 2 1 37 1 86 1 10 1-20 1 3 1-63 1-6 1 152 1-72 1-43 1 83 1 49 1-64 1-14 1-99 1 53 1-40 1-40 1 1 1 104 1-6 1 33 1 35 1-100 1 105 1 25 1 4 1-61 1-11 1-37 1-17 1 208 1-52 1-71 1-65 1-23 1 105 1-9 1 64 1-117 1 12 1-30 1 24 1 55 1 59 1-176 1 143 1 24 1-142 1 91 1-65 1-69 1-20 1 30 1 29 1-41 1 35 1-5 1 46 1 23 1 63 1-143 1 30 1-91 1 177 1 51 1-52 1 16 1-34 1 13 1-5 1-31 1-95 1 21 1 94 1-16 1 2 1-110 1 185 1-20 1-71 1 37 1-88 1 78 1-19 1-58 1-74 1 8 1 101 1-58 1 99 1-3 1-85 1 118 1-115 1 102 1-76 1 13 1-21 1 5 1 100 1-47 1-57 1 38 1-47 1 109 1-5 1-118 1 30 1 14 1-7 1-57 1 95 1-59 1 30 1 13 1 55 1-122 1 25 1 56 1 3 1 27 1-85 1 110 1-17 1-25 1-25 1 47 1 17 1-92 1-77 1 125 1 7 1 8 1 19 1-79 1 157 1-8 1-61 1-53 1-25 1-22 1-7 1 48 1 10 1-34 1-48 1-12 1 73 1 32 1-94 1 7 1-46 1 73 1 39 1-38 1 109 1-99 1 43 1 17 1-27 1 60 1-17 1-118 1 113 1-40 1 50 1-107 1-72 1 198 1-75 1-18 1-37 1-24 1 26 1-8 1 75 1-123 1 34 1 106 1-13 1-12 1 58 1-12 1 10 1-100 1-80 1 62 1-49 1 131 1-28 1 18 1-60 1 68 1-13 1-3 1 17 1 41 1-89 1 70 1-44 1 75 1 30 1-16 1-13 1-108 1 68 1 4 1 6 1-55 1-49 1 74 1 4 1-84 1-36 1 60 1 29 1 137 1-57 1-121 1 58 1 101 1-63 1-1 1-70 1 20 1-10 1-83 1 88 1 50 1-35 1-25 1 75 1-75 1 102 1-6 1-84 1-75 1 71 1-46 1 48 1 56 1-13 1-62 1-15 1-64 1 51 1-41 1-20 1 138 1 43 1-35 1-86 1-39 1 101 1 16 1 36 1-9 1-173 1 86 1 87 1 13 1 52 1-132 1 12 1-126 1-9 1 150 1 65 1 19 1-125 1-138 1 132 1 52 1 0 1 33 1 64 1-45 1 26 1-60 1-5 1 4 1-49 1 88 1-110 1-15 1-12 1 86 1-15 1-70 1 24 1 114 1-75 1 25 1-1 1-8 1 75 1-18 1 14 1-10 1-75 1-49 1 10 1-16 1 46 1 24 1 36 1-79 1 22 1-19 1 5 1-85 1 122 1 6 1 46 1-12 1-76 1 26 1 125 1-41 1-73 1-13 1 25 1-51 1 26 1-2 1-40 1-7 1 124 1-37 1-99 1 30 1-45 1 75 1-44 1 32 1 18 1-16 1-52 1 77 1-6 1 24 1-8 1-15 1 4 1-13 1-69 1 96 1 99 1-180 1-72 1 156 1 2 1-73 1 35 1 31 1 31 1 56 1-150 1 31 1 100 1-95 1-55 1 30 1-5 1 98 1-76 1 20 1 18 1 23 1-49 1-156 1 117 1 21 1 14 1 2 1-99 1 14 1-59 1-1 1 185 1-98 1 36 1 92 1 17 1-57 1-100 1-6 1 33 1 67 1-18 1-31 1-21 1 47 1 95 1-24 1-86 1 7 1-40 1-10 1 76 1-42 1-49 1 92 1 21 1-92 1 53 1-13 1 12 1-4 1 5 1-72 1 28 1 20 1-16 1 36 1 42 1 31 1-161 1 88 1 45 1-80 1-28 1-3 1-3 1 98 1-149 1 4 1 84 1 30 1 125 1-46 1-113 1-41 1 66 1 48 1-33 1 5 1-9 1-49 1 171 1-92 1 63 1-105 1 52 1 60 1-103 1-44 1 67 1-105 1 81 1 26 1-23 1 6 1 29 1-120 1 72 1-29 1 56 1 25 1 3 1 34 1-115 1 100 1-46 1-33 1 117 1-100 1 52 1-6 1 30 1-93 1 96 1 7 1-72 1-133 1 23 1-3 1 127 1-90 1 56 1 18 1-164 1 14 1 75 1 97 1-44 1-54 1 21 1-58 1 88 1-35 1-36 1 53 1 40 1-100 1 43 1-4 1 69 1-43 1-17 1-6 1 16 1-5 1 26 1-18 1 29 1 15 1-114 1 209 1 10 1-91 1-1 1-167 1 35 1-18 1 118 1 19 1 64 1-30 1-84 1 63 1-76 1 11 1 95 1 10 1-32 1-69 1 64 1 20 1-28 1-21 1-12 1-38 1 127 1-41 1-61 1-83 1 32 1 52 1-3 1 60 1-67 1 81 1 15 1-10 1-48 1-68 1 44 1-81 1-2 1-15 1 33 1 29 1 29 1-44 1 30 1 49 1-58 1-31 1 57 1 51 1-22 1 89 1-134 1 36 1-63 1 0 1 53 1-2 1 118 1-73 1 39 1-102 1 30 1-32 1 45 1 41 1 8 1-120 1 11 1 33 1-6 1 55 1-36 1 23 1-144 1 140 1-21 1 68 1 26 1 25 1-169 1-4 1-35 1 12 1 68 1 67 1 6 1 35 1-51 1-4 1 0 1-119 1 132 1-43 1 39 1-14 1-7 1-89 1 78 1-21 1-108 1-28 1 61 1 16 1-69 1 40 1 72 1 43 1 17 1-49 1 4 1-91 1 88 1-67 1 23 1 16 1-40 1 40 1 19 1 98 1-49 1 41 1-62 1-7 1 5 1 46 1-9 1-106 1-10 1 65 1-72 1 65 1 98 1-44 1-19 1 34 1-5 1-52 1 48 1-27 1-37 1 68 1-8 1 28 1-78 1-80 1 25 1 148 1-111 1 70 1-38 1 62 1-155 1 43 1 61 1-24 1-84 1 162 1-99 1 19 1 114 1-84 1-48 1 43 1 57 1-3 1-48 1-62 1 20 1-30 1 100 1 41 1-136 1-68 1 104 1 3 1 6 1-40 1-1 1 15 1 26 1 116 1-162 1 108 1 14 1 55 1-49 1 12 1-27 1 18 1-76 1-12 1 90 1-111 1 76 1-151 1 75 1 10 1 27 1-36 1-130 1 95 1 34 1 45 1 27 1-79 1-37 1 98 1-3 1 9 1 18 1-31 1 34 1 20 1-197 1 220 1-41 1-59 1 52 1 44 1-72 1-35 1-42 1 148 1-50 1-65 1-86 1 31 1 121 1-34 1 6 1-30 1-30 1-56 1 114 1-55 1 50 1 36 1 11 1-1 1-72 1-12 1 171 1-96 1-67 1-14 1-19 1 55 1-27 1 131 1-60 1 29 1 51 1 12 1-65 1-63 1 119 1-67 1-64 1 48 1-73 1 56 1-47 1 3 1-62 1-27 1 146 1-95 1-56 1 188 1-137 1 11 1 87 1-105 1 19 1 66 1 8 1-6 1-15 1-2 1 11 1 39 1-39 1-43 1-39 1 74 1 37 1 49 1-147 1-23 1 128 1 78 1-87 1 24 1-75 1-114 1 94 1 89 1-94 1-32 1 13 1 27 1 29 1-24 1 110 1-74 1-10 1-31 1 151 1-101 1-36 1 53 1-43 1 51 1-42 1 100 1-40 1-48 1 11 1-57 1 1 1 109 1-22 1-88 1 2 1-40 1 69 1-11 1-29 1 106 1-50 1 80 1-68 1-82 1 17 1 19 1 19 1-47 1 80 1-149 1 43 1 11 1-4 1 73 1-70 1 4 1 61 1 5 1 7 1 37 1 78 1-83 1-54 1-73 1 27 1-68 1 85 1 20 1-1 1 25 1-74 1 90 1-32 1-13 1 18 1-149 1 70 1 69 1-70 1 45 1-12 1 63 1 84 1-192 1 33 1 57 1 56 1-8 1-12 1-16 1 105 1-54 1-130 1-2 1-58 1 55 1 75 1-86 1 75 1-15 1-10 1 4 1 104 1-131 1 75 1-47 1 51 1-26 1-51 1 128 1 30 1-131 1 60 1 14 1-110 1-2 1 30 1-41 1 68 1-49 1-13 1-1 1 48 1-58 1-39 1-31 1 115 1 36 1-72 1 35 1-106 1 67 1 36 1 79 1-75 1 37 1-91 1 13 1 1 1 26"/>
<path stroke="#2a2eec" stroke-dasharray="5.25 8.66" d="M0 1146l1-51 1 24 1-37 1 22 1-84 1-20 1 61 1-2 1 25 1-28 1-124 1 101 1 186 1-155 1 10 1 42 1 30 1-86 1 60 1-88 1 19 1 78 1-36 1-53 1 62 1 71 1-68 1-140 1 108 1 38 1 36 1-123 1 48 1 3 1-24 1-2 1 117 1-102 1 78 1 47 1-50 1-56 1 14 1 40 1 14 1-58 1 18 1 59 1 35 1-54 1-17 1 98 1-84 1-73 1-55 1 5 1 83 1 38 1-62 1 69 1 14 1-172 1 170 1-45 1 73 1-95 1 62 1-60 1-38 1-4 1-46 1-33 1 157 1 21 1-113 1 24 1-9 1 17 1-32 1 55 1-74 1 20 1-65 1 141 1 43 1-36 1 61 1 12 1-39 1 1 1-154 1 117 1-31 1 34 1 43 1-66 1-65 1-30 1 75 1-60 1 22 1 50 1-50 1 70 1-94 1 125 1 30 1 72 1-121 1 27 1-2 1-65 1-74 1 60 1 102 1-149 1 111 1-43 1-33 1-38 1 42 1-43 1 7 1 23 1 31 1-10 1 61 1 18 1-65 1-108 1 172 1-46 1-52 1 74 1-4 1-74 1 117 1-88 1-27 1 19 1-43 1 10 1 40 1-1 1 96 1 9 1-123 1 6 1-29 1-29 1 96 1-165 1 165 1-85 1 127 1-82 1 22 1 69 1-27 1-11 1 13 1-27 1 18 1-41 1-62 1 84 1 56 1-179 1 138 1 70 1-141 1 91 1-58 1 26 1 44 1-75 1 83 1-91 1 138 1-98 1-8 1 48 1 94 1-65 1-56 1-21 1-74 1-9 1 109 1 23 1 41 1-51 1-33 1-25 1 49 1-64 1 72 1-34 1-91 1 97 1 4 1 119 1-150 1-48 1 24 1-10 1 123 1-106 1-25 1-58 1 107 1 10 1 77 1 40 1-112 1-7 1 52 1-70 1-61 1 92 1-43 1 13 1-4 1-50 1 70 1-32 1 132 1-91 1-123 1-15 1 38 1 121 1-58 1 20 1 31 1-29 1-11 1-54 1 53 1 129 1-60 1-117 1 45 1-34 1 2 1 39 1-47 1-26 1-12 1 121 1-26 1-11 1-16 1 97 1-8 1-79 1-54 1 47 1 74 1-136 1 22 1-18 1 68 1 9 1-10 1-16 1 93 1-31 1 126 1-128 1 55 1-159 1 2 1-9 1-6 1 16 1 64 1 10 1-16 1 48 1 23 1-85 1-99 1 69 1 100 1 93 1 24 1-50 1-109 1 19 1 59 1-49 1-7 1-56 1-5 1 28 1 81 1 25 1-51 1 9 1-106 1-27 1 144 1-123 1 113 1-36 1-53 1 97 1-43 1 7 1-69 1 54 1 41 1-80 1-3 1-26 1 55 1 77 1-120 1 8 1-108 1 96 1 141 1-40 1-62 1 112 1-7 1-64 1 7 1-54 1 48 1-144 1 112 1-6 1 64 1-40 1-19 1 46 1 43 1-178 1 82 1 20 1 70 1-168 1 121 1-25 1-10 1-71 1 110 1-53 1-10 1 40 1 52 1 29 1-52 1 6 1-51 1-64 1 26 1-11 1 98 1 87 1-91 1-71 1 53 1 62 1-30 1-31 1-57 1 54 1-24 1 31 1 133 1-163 1 46 1-129 1-31 1 106 1 24 1-48 1 17 1-74 1-23 1 165 1 89 1-154 1-81 1 76 1 49 1-35 1 40 1 120 1-2 1-59 1-115 1 56 1-13 1 78 1-118 1 141 1-114 1-8 1 3 1 6 1 2 1 26 1-41 1-115 1 66 1 153 1-27 1-85 1-11 1 1 1 36 1 23 1 29 1 51 1-112 1-39 1-103 1 53 1 71 1-49 1-8 1 138 1-60 1-44 1 88 1-1 1-7 1-85 1 69 1-47 1 110 1-125 1-29 1-40 1 69 1 50 1 89 1-124 1-63 1 54 1 25 1 57 1-123 1 77 1-47 1 149 1-86 1-27 1-51 1-40 1 110 1 38 1-70 1-49 1 155 1-7 1-154 1 86 1 9 1 4 1-48 1-9 1 48 1-118 1-8 1 59 1 43 1 59 1-66 1 92 1-23 1-26 1-20 1 20 1-110 1 69 1-36 1 9 1 47 1-30 1 31 1 49 1 23 1-74 1 44 1-47 1-4 1-24 1 1 1 40 1-46 1 19 1-18 1 21 1 36 1 13 1 6 1-22 1 36 1-58 1-1 1 8 1 29 1-97 1-33 1 8 1 71 1 0 1-49 1-13 1 8 1-3 1-29 1 58 1 98 1-68 1-10 1-87 1 72 1 17 1-15 1 72 1 20 1 30 1 8 1-118 1-50 1 165 1-77 1-35 1-13 1-42 1 202 1-172 1 88 1 111 1-167 1-15 1 117 1 67 1-97 1-121 1-19 1 96 1 21 1-78 1 43 1 35 1-23 1 38 1 87 1-89 1 24 1-111 1 16 1 61 1 69 1-40 1-41 1 27 1-110 1-56 1 39 1 135 1 18 1 75 1-84 1-15 1-44 1 43 1 58 1-104 1 26 1-48 1-80 1 99 1-83 1 77 1 10 1-49 1 163 1-104 1-32 1-29 1-38 1 36 1 26 1-37 1 4 1-62 1 97 1-47 1-18 1-16 1 62 1 24 1 101 1-63 1 83 1-57 1-6 1-10 1-4 1-39 1-68 1 13 1 78 1 27 1-31 1-52 1 81 1-66 1-96 1 73 1 90 1-119 1 6 1 47 1 20 1-31 1-20 1 74 1-46 1 105 1-46 1 20 1-55 1-45 1-60 1 15 1 129 1-41 1-84 1 120 1-24 1-97 1 52 1 81 1-61 1 38 1-49 1 62 1-30 1 24 1 50 1-41 1-205 1 56 1-89 1 183 1-13 1-12 1 76 1-12 1-46 1-96 1 77 1 107 1-101 1-103 1 102 1 24 1-1 1 79 1 16 1-62 1-71 1-2 1 67 1-8 1-87 1 30 1 52 1-77 1-122 1 156 1 89 1-12 1 62 1-9 1-39 1-9 1 2 1-1 1 63 1-105 1 17 1 12 1-49 1 40 1-36 1-136 1 159 1 61 1-14 1-61 1 119 1-90 1-28 1-7 1 50 1-22 1-17 1-6 1 78 1-74 1 70 1-93 1 146 1-76 1 11 1-60 1 52 1-147 1 100 1-66 1 38 1 17 1-84 1 37 1 99 1-30 1 37 1-63 1 22 1 122 1-18 1-58 1-70 1-26 1 156 1-82 1 14 1-3 1-18 1 22 1 23 1 89 1-204 1 57 1-12 1-126 1 15 1 28 1 34 1 86 1-2 1-28 1-78 1 9 1-1 1 7 1 19 1-8 1 163 1 28 1-1 1-91 1-79 1-3 1-26 1 34 1-20 1 111 1-102 1 75 1-13 1 1 1-33 1 71 1 27 1-157 1 125 1-121 1 34 1 33 1-7 1-83 1 59 1 10 1-50 1 101 1-45 1-20 1 51 1-106 1 80 1 0 1-48 1 31 1-7 1 75 1-120 1-77 1 28 1 56 1-41 1 14 1 76 1 10 1-47 1 16 1 58 1-25 1-72 1 47 1 29 1-27 1 133 1-110 1-104 1 70 1 126 1-85 1-3 1 92 1-16 1-97 1-52 1 38 1 21 1-37 1 79 1-3 1-18 1-5 1 5 1-18 1-39 1 66 1-16 1 3 1-5 1-79 1 53 1-82 1 60 1 109 1-46 1 21 1-94 1 118 1-35 1 123 1-99 1 58 1-136 1-15 1 30 1-32 1 88 1-16 1 22 1-53 1 94 1-146 1 60 1 51 1-147 1-55 1 46 1 239 1-114 1 20 1 6 1 41 1-61 1 16 1-81 1 86 1-77 1-7 1-45 1 138 1-21 1-12 1-39 1 8 1 41 1-9 1-46 1 34 1-15 1 92 1-59 1-91 1-25 1 73 1 42 1-34 1 20 1 64 1-95 1-2 1-23 1-98 1 116 1-51 1-2 1-42 1-25 1 68 1 94 1 7 1-3 1-146 1 152 1-66 1 73 1 47 1-83 1 25 1-47 1 52 1-82 1-52 1 106 1-30 1 51 1 70 1 37 1-216 1 68 1 91 1-69 1-11 1 28 1-22 1 23 1 23 1-59 1-100 1 21 1 25 1 7 1 3 1-43 1-24 1 133 1 70 1-36 1-117 1-41 1 58 1-15 1 72 1-24 1 60 1-65 1 110 1 55 1-15 1-75 1-45 1-55 1 44 1-46 1 57 1 11 1-49 1 109 1-14 1-24 1 22 1-2 1-12 1-34 1 75 1-82 1 12 1-36 1 23 1-11 1 54 1-24 1 60 1-66 1-77 1 85 1-22 1 109 1-20 1-80 1 44 1-34 1-50 1 59 1-89 1 142 1-18 1-22 1-33 1 126 1-173 1 26 1 15 1-32 1 36 1-42 1 25 1 31 1 39 1-145 1 163 1 59 1-85 1 10 1-180 1-17 1 75 1 91 1-61 1 63 1-119 1 45 1-44 1-34 1 79 1-60 1 123 1-43 1 1 1-7 1 25 1-86 1 79 1-24 1 56 1-110 1 9 1 33 1 33 1-3 1 30 1 68 1 28 1-162 1 104 1-125 1 91 1-32 1-46 1 166 1 21 1-98 1-157 1 198 1-59 1 17 1-22 1-2 1 27 1-65 1-51 1-2 1 216 1-151 1 40 1 28 1-93 1 13 1-70 1 158 1-103 1 53 1-34 1 29 1 13 1 54 1 28 1-189 1 64 1-66 1 88 1-72 1 40 1 26 1 39 1-79 1 96 1 18 1-142 1 44 1 22 1 109 1-22 1-119 1 68 1 97 1-132 1 100 1-90 1-123 1 10 1 81 1 67 1 33 1-60 1-2 1-86 1 55 1-50 1 22 1-60 1 222 1-92 1 39 1-11 1 87 1-103 1 53 1-119 1-73 1 1 1 171 1-33 1-79 1 113 1-106 1-33 1 118 1-58 1 1 1 0 1-53 1 51 1-29 1 40 1 36 1 47 1-100 1 50 1-109 1 58 1 72 1 8 1-66 1-38 1 57 1 55 1-50 1-9 1-59 1 109 1-118 1 109 1 14 1-95 1-42 1 65 1 16 1-13 1 45 1-20 1-88 1-33 1 64 1 14 1 6 1-67 1 146 1-60 1-5 1 16 1-3 1 60 1-50 1-26 1 34 1-63 1-50 1 13 1 51 1 30 1 2 1 72 1-57 1-74 1 49 1-17 1 58 1-33 1-27 1 7 1 127 1-43 1-31 1-2 1-50 1 23 1 108 1-54 1 11 1-103 1-11 1 11 1-52 1 44 1 36 1 58 1-95 1 37 1-39 1 149 1-173 1 17 1-9 1 55 1 73 1-56 1 11 1 22 1 2 1-66 1 22 1 69 1-75 1-25 1-5 1 60 1 26 1-34 1-91 1 104 1 36 1-25 1 44 1-157 1 93 1-59 1 67 1-135 1 15 1 29 1-21 1 3 1 116 1-60 1-2 1-71 1 36 1 82 1-122 1 52 1 65 1 44 1-85 1 84 1-45 1-33 1 118 1 2 1 43 1-116 1-19 1-9 1 8 1-52 1-166 1 93 1 61 1 26 1-89 1 159 1-36 1-86 1 100 1-93 1 102 1-20 1 28 1-34 1 135 1-84 1-37 1 7 1-83 1 2 1 62 1-53 1 77 1-15 1-42 1 11 1-60 1 54 1 40 1-74 1 12 1-15 1-101 1 55 1 61 1 20 1 66 1-43 1 44 1-91 1 35 1 79 1-71 1-70 1 6 1 14 1-51 1 104 1-22 1 19 1-35 1 89 1-101 1 53 1-54 1-36 1 39 1-81 1 131 1 30 1 17 1-21 1-68 1-48 1 47 1 52 1 14 1 73 1-78 1 73 1-130 1 87 1-146 1 192 1-120 1 114 1-45 1-2 1-62 1-74 1-1 1 151 1-110 1 130 1-14 1-130 1 119 1 3 1-40 1 64 1-86 1 104 1-134 1 10 1 23 1-68 1 116 1-60 1-11 1 23 1-9 1 37 1 66 1 50 1-135 1-55 1 37 1 24 1 73 1-154 1 71 1-46 1-10 1 86 1-31 1-42 1 43 1-11 1-26 1 168 1-116 1 0 1-7 1 83 1-24 1-28 1 11 1-37 1 35 1-14 1-5 1-121 1 73 1 118 1 18 1-109 1-45 1 57 1 30 1-63 1 118 1-100 1-19 1-9 1 131 1-94 1-60 1 51 1 42 1 32 1-42 1-64 1 8 1-11 1-49 1 88 1 85 1 18 1-64 1-31 1-15 1-85 1 111 1-9 1 87 1 17 1-6 1-51 1-168 1 65 1 10 1 104 1-20 1 20 1-102 1 33 1-59 1 103 1-32 1-42 1-70 1-31 1 143 1-84 1 58 1 12 1 13 1-21 1 115 1-102 1 27 1-34 1 115 1-72 1-6 1-12 1-19 1-58 1 34 1-17 1 61 1 40 1-14 1 0 1-73 1-20 1-16 1 17 1 51 1 50 1-109 1-28 1 143 1-180 1 111 1-73 1 105 1-50 1 0 1-45 1 27 1 66 1-111 1 149 1-23 1 65 1-134 1 5 1 33 1-99 1 17 1 65 1 4 1-14 1 11 1-60 1 10 1 21 1-15 1 50 1-58 1-40 1 32 1 56 1-5 1 33 1-92 1-23 1 79 1-13 1 45 1-27 1 31 1-100 1 89 1-81 1 70 1-35 1 20 1 37 1 18 1-51 1-40 1-2 1-4 1 43 1-61 1 57 1 12 1 4 1-25 1 103 1-92 1-13 1-21 1-148 1 113 1 121 1 22 1-86 1 32 1-41 1-5 1 38 1 114 1-27 1-23 1-60 1 39 1-42 1-105 1 117 1 99 1 28 1-108 1-3 1-141 1 146 1 83 1-69 1-73 1-71 1-31 1 27 1 66 1 43 1 33 1-62 1 7 1 76 1-28 1 37 1-75 1-27 1-20 1 87 1 8 1-18 1 74 1-40 1-30 1-32 1 37 1-116 1 12 1 77 1 31 1-15 1-53 1-28 1-7 1 10 1 9 1 86 1-8 1-34 1-32 1 87 1-90 1-43 1 145 1 52 1-19 1-19 1-76 1-69 1-24 1 74 1 45 1-111 1 11 1 22 1 55 1 25 1-62 1 18 1 12 1 10 1-44 1-33 1 9 1 30 1 117 1-91 1 1 1 117 1-54 1 13 1-53 1-19 1-42 1-74 1 163 1-97 1 100 1-95 1 19 1 16 1 178 1-132 1-66 1 12 1-31 1-55 1 56 1 7 1 26 1 72 1-122 1-14 1 80 1 20 1-62 1 14 1 67 1 7 1-120 1 75 1 7 1-41 1-23 1-14 1 63 1 13 1-16 1 50 1-144 1 74 1-48 1 90 1 22 1 5 1 1 1 49 1-33 1-77 1-64 1-4 1-7 1-31 1 63 1-23 1-14 1 79 1-1 1-47 1-47 1 128 1-104 1 78 1 63 1 7 1 60 1-75 1-37 1-86 1 10 1-32 1-57 1 14 1 113 1 56 1-32 1 5 1-42 1 44 1 29 1-92 1 8 1-39 1-13 1 99 1-57 1 3 1-4 1-3 1 76 1 15 1 42 1 27 1-19 1 35 1-129 1-12 1 17 1-36 1 133 1-177 1 118 1-34 1 1 1 38 1-55 1 30 1-55 1-19 1 55 1-93 1 26 1 81 1 31 1-67 1 164 1-35 1-76 1-50 1 14 1 6 1 58 1 24 1-140 1 66 1-13 1 18 1-78 1 164 1-55 1 24 1-26 1-44 1 67 1-112 1 71 1-55 1 33 1 0 1-40 1 33 1-19 1 24 1-20 1 91 1 25 1-76 1-2 1 6 1 20 1 71 1-99 1-39 1 48 1 84 1 19 1-116 1 22 1-16 1 31 1-67 1 16 1 79 1 58 1-42 1 10 1 6 1-127 1-32 1 19 1 29 1-105 1 129 1-6 1 30 1 34 1-108 1 38 1 49 1 20 1-30 1 10 1 42 1-12 1-67 1 81 1-25 1-165 1 49 1 68 1-20 1 22 1 5 1-77 1 26 1-18 1 56 1 12 1-54 1-57 1 35 1 65 1-58 1 6 1 47 1 22 1-24 1 72 1-36 1 57 1-139 1 8 1-14 1 87 1-76 1-8 1 70 1-88 1 48 1-2 1-12 1 62 1-9 1-13 1-14 1 19 1-50 1 59 1 53 1-67 1 9 1-30 1-88 1 9 1-1 1 52 1 14 1 24 1-9 1-31 1-19 1 29 1 58 1-75 1 130 1-27 1-56 1-99 1 21 1-34 1 48 1 115 1-26 1 22 1-37 1 15 1-1 1-61 1-18 1-64 1 84 1 11 1-32 1 22 1 44 1-1 1 81 1-22 1-65 1-11 1 42 1-15 1-152 1 22 1 58 1 90 1-89 1 85 1 101 1-128 1-109 1 159 1 66 1-50 1-88 1 27 1 12 1 17 1-62 1-47 1 54 1-69 1 66 1-19 1 21 1 28 1-3 1 117 1-99 1-123 1-15 1 28 1 27 1 105 1-74 1 86 1-73 1-55 1 138 1-30 1-84 1 10 1 21 1-69 1-25 1 94 1 102 1-40 1-49 1-123 1 20 1 96 1-66 1 77 1 35 1 10 1-37 1-53 1-3 1 76 1-29 1 123 1-47 1 67 1-87 1-148 1 18 1 106 1-61 1-13 1 61 1-8 1 62 1-137 1 47 1 82 1 50 1-163 1 122 1-33 1 18 1-9 1-47 1-40 1 56 1 12 1-56 1 0 1-39 1 125 1-106 1-37 1 124 1-31 1-36 1 2 1-44 1-31 1-3 1 126"/>
<path stroke="#2a2eec" stroke-dasharray="33.61 8.40 5.25 8.40" d="M0 1009l1 5 1 99 1 36 1-72 1 42 1 13 1 28 1-105 1 49 1-68 1 107 1 4 1-49 1-48 1-78 1 76 1 48 1 60 1-122 1 31 1 0 1 5 1-2 1 20 1-11 1-6 1 2 1-38 1 15 1 104 1 23 1-20 1-52 1-47 1-26 1 15 1 31 1 69 1-55 1-25 1 65 1-58 1-9 1 58 1-42 1-11 1 45 1-11 1-14 1 14 1 85 1-81 1 67 1-98 1-8 1-43 1 38 1 42 1-7 1 53 1-84 1-7 1 22 1-65 1 124 1-44 1 49 1 55 1-58 1 10 1-124 1 73 1 76 1-152 1 11 1-12 1 24 1 3 1-43 1-11 1 86 1-63 1 183 1-67 1-15 1-13 1-33 1 4 1-76 1 165 1-17 1-68 1-15 1 75 1-20 1 3 1-22 1-2 1 62 1-8 1 24 1-58 1-79 1-43 1 14 1 45 1 121 1-71 1 74 1-4 1-20 1-49 1-12 1 71 1 55 1-106 1-10 1 79 1-87 1 58 1-79 1-41 1-57 1 68 1 101 1-147 1 155 1-33 1 23 1-41 1-53 1-29 1 116 1 112 1-150 1-60 1 20 1-34 1 76 1 16 1 79 1-95 1 39 1-59 1 52 1 34 1 71 1-83 1-8 1-49 1 68 1-55 1 30 1-10 1 34 1-16 1-48 1-64 1 77 1-12 1-52 1 56 1-85 1 76 1 1 1-37 1 15 1-32 1-22 1 12 1 35 1 87 1-35 1-38 1 45 1-54 1 8 1 5 1 27 1-16 1-16 1 26 1-29 1 78 1-42 1-36 1 99 1-43 1-26 1 27 1-60 1-78 1-1 1 56 1-10 1-62 1 88 1 6 1-18 1-27 1 73 1-36 1 122 1-92 1 22 1-11 1-137 1 94 1 112 1-73 1-42 1 39 1 2 1-29 1-1 1 81 1-1 1-58 1-18 1 10 1-59 1 4 1 70 1-37 1-30 1 109 1-12 1-25 1 86 1-133 1-44 1 196 1-30 1-125 1-72 1 52 1-51 1 49 1 32 1-68 1 103 1 23 1-14 1 4 1 50 1 6 1-149 1 52 1 48 1 56 1-4 1-40 1 47 1-113 1 49 1-40 1 54 1-17 1 84 1-21 1-20 1-72 1 65 1-97 1 83 1-21 1-23 1 21 1 38 1 15 1-53 1 39 1-124 1 21 1 58 1 70 1-101 1-86 1 128 1 81 1-105 1-92 1 42 1 96 1 1 1-62 1 68 1-46 1-29 1-35 1 99 1-29 1-38 1 31 1-38 1 43 1 49 1 39 1-44 1-25 1-64 1 20 1 72 1-58 1-90 1 111 1-21 1 109 1-192 1 20 1-20 1 57 1 6 1 28 1 32 1-121 1 1 1 90 1 16 1-21 1-20 1-77 1 155 1-3 1 69 1-53 1-51 1-105 1 7 1 6 1 70 1-107 1 8 1 85 1 36 1-55 1 78 1 8 1-70 1 6 1 28 1-13 1 3 1 4 1-24 1 95 1-103 1 24 1 5 1-10 1-31 1-107 1 134 1 44 1-20 1 9 1 65 1-48 1-6 1-109 1 1 1 147 1 58 1-191 1 51 1 103 1-43 1-112 1 15 1-81 1-2 1 99 1-39 1 112 1-67 1-15 1 4 1-10 1-88 1 130 1 23 1-28 1 10 1-56 1 22 1 83 1-66 1 22 1 53 1-97 1 58 1-3 1-58 1 55 1 23 1-9 1-40 1 3 1-62 1 83 1-83 1 9 1-4 1 37 1 81 1-32 1-59 1-43 1 75 1-2 1-27 1-30 1 24 1 79 1 17 1-56 1 17 1-148 1 145 1-26 1 34 1-49 1-89 1 178 1-39 1 0 1-51 1 42 1-27 1 53 1-92 1-28 1 74 1 116 1-70 1-30 1 39 1-117 1 123 1-153 1 47 1-13 1 88 1 40 1-75 1-105 1 84 1-63 1 37 1 72 1-46 1-35 1 42 1-30 1 6 1-53 1 79 1 23 1-52 1 110 1-49 1 6 1 2 1-74 1 16 1 20 1-45 1 101 1-75 1 50 1-40 1-78 1 60 1 66 1 54 1-27 1-4 1 16 1 9 1-21 1-2 1-27 1 0 1-95 1 67 1 18 1-23 1-7 1 45 1 23 1-14 1 5 1-88 1 83 1-4 1-28 1-30 1-63 1 78 1 17 1-83 1-19 1 71 1 70 1-60 1 78 1-119 1-5 1 103 1-81 1 72 1-5 1-87 1 102 1 74 1-22 1-86 1-16 1 44 1 81 1-64 1 15 1-86 1 112 1-105 1 20 1-19 1-17 1-7 1 80 1-73 1 82 1-79 1 14 1 30 1-15 1-19 1 0 1-41 1 23 1 29 1-126 1 124 1 54 1-67 1-55 1-15 1-5 1-14 1 104 1-54 1 89 1-47 1 47 1-45 1-25 1-7 1 37 1 29 1-82 1-43 1 82 1 105 1-68 1-70 1 44 1 21 1-58 1-44 1 102 1 40 1-24 1 47 1-83 1 69 1-120 1 57 1 11 1-57 1-5 1 12 1-10 1 63 1-119 1 140 1-1 1 22 1 7 1-106 1-46 1-11 1 46 1 121 1 32 1-18 1-18 1-66 1-22 1 21 1 84 1-93 1 7 1 93 1-83 1 37 1-135 1 135 1-64 1 33 1 106 1-5 1-3 1-60 1-96 1 11 1-59 1 26 1-21 1 55 1-9 1-6 1 53 1-12 1 42 1-11 1 30 1-21 1-2 1-73 1 67 1 26 1-47 1 24 1 8 1-30 1-19 1 6 1-52 1-48 1 17 1 79 1 74 1 17 1-58 1 64 1-74 1 22 1-16 1-38 1 8 1 120 1 18 1-159 1 38 1-74 1 63 1-6 1 45 1-44 1-32 1 23 1-29 1 27 1 128 1-102 1-44 1 73 1-68 1 90 1-24 1-39 1 141 1-117 1-7 1-47 1 57 1-5 1-4 1-3 1 49 1-102 1 106 1-18 1-41 1 44 1-76 1 52 1 24 1-51 1-91 1 80 1-43 1 78 1-6 1-7 1-38 1 2 1 66 1 10 1-19 1-41 1-118 1 97 1-66 1-34 1 120 1 61 1-86 1 107 1-118 1 44 1-32 1 10 1 114 1-109 1 0 1 148 1 15 1-105 1-25 1 2 1-8 1 54 1-9 1-95 1 164 1 56 1-182 1-17 1-66 1 25 1-8 1 41 1 99 1 9 1-97 1 9 1-29 1-51 1 72 1-93 1 111 1 7 1-37 1-17 1 53 1-47 1 120 1-70 1-54 1 29 1 16 1-5 1 54 1-135 1 52 1 37 1 0 1-21 1 44 1 51 1-104 1 54 1 7 1 80 1-102 1-51 1-3 1 11 1 122 1-152 1 13 1 60 1-48 1 14 1-3 1 49 1-19 1 17 1-42 1 29 1-23 1 13 1-30 1-22 1 28 1-41 1 44 1-143 1 53 1 11 1 145 1-9 1-28 1-33 1-3 1-8 1 81 1-140 1 49 1-2 1 29 1 8 1 8 1-88 1 86 1-25 1-47 1 125 1 13 1 15 1-76 1 90 1-43 1-26 1 9 1 79 1-164 1 86 1 19 1-87 1 61 1 18 1 26 1-19 1-38 1-64 1 51 1-1 1 115 1-82 1-57 1-29 1 140 1 1 1 43 1-74 1-95 1 122 1-68 1 36 1-80 1 65 1 89 1-45 1-29 1 6 1 19 1-66 1-16 1 37 1-39 1 5 1-58 1-40 1-18 1 118 1-23 1 38 1-24 1-15 1 32 1 12 1-48 1 53 1 27 1 32 1 20 1-102 1-48 1 55 1 41 1-101 1 63 1 37 1-2 1-59 1 15 1-74 1 12 1 41 1 117 1-10 1-133 1-28 1 23 1 4 1 33 1 18 1 56 1-72 1-9 1 82 1 33 1-76 1 32 1-113 1 48 1 77 1-8 1 10 1 4 1-74 1 54 1 34 1 78 1-133 1-22 1 124 1-143 1 41 1-106 1 58 1 57 1-51 1-39 1 112 1-45 1-31 1 38 1 52 1-9 1-88 1-25 1 28 1-75 1 37 1-6 1 12 1 29 1 26 1-32 1 50 1-6 1 139 1-35 1 1 1-175 1 156 1-73 1-60 1 51 1 8 1-20 1 115 1-70 1-95 1-2 1 42 1 14 1-52 1 83 1-34 1-57 1 107 1-20 1-59 1-86 1 141 1-66 1-66 1 41 1 47 1 17 1 70 1-119 1 115 1-35 1 7 1-41 1 32 1-85 1 143 1 58 1-93 1 48 1-98 1-29 1-16 1 95 1 11 1-11 1-37 1-3 1-40 1 55 1-118 1 56 1 7 1 157 1-34 1-111 1 48 1 16 1 36 1-41 1-63 1 20 1-57 1 96 1-52 1 7 1 2 1 86 1-50 1-28 1 87 1-153 1 52 1 83 1-107 1 90 1-51 1 92 1-122 1 5 1 26 1 47 1 32 1-130 1 53 1-63 1 100 1-25 1 53 1-67 1 112 1-118 1 76 1-67 1-5 1 10 1 1 1-96 1 122 1 18 1-93 1-3 1-40 1 43 1 56 1-4 1-30 1-25 1 20 1 61 1-13 1-104 1 100 1-88 1 125 1 12 1 39 1-126 1 38 1-2 1-82 1 23 1 104 1 15 1 43 1-125 1 12 1 47 1-33 1-45 1-32 1-80 1 134 1-45 1-21 1 30 1 173 1-17 1-187 1 94 1-29 1 48 1-139 1 16 1 100 1 47 1-86 1-52 1 66 1-43 1 23 1 7 1-3 1 87 1-10 1-59 1 0 1-83 1 131 1-57 1-126 1 61 1 5 1 70 1 17 1-39 1 58 1 38 1 23 1 2 1-128 1-24 1-22 1 40 1 7 1 82 1-30 1-56 1 58 1 77 1-102 1 61 1-81 1 32 1 27 1 7 1-6 1-58 1-19 1-22 1 27 1 22 1-22 1 46 1 32 1-19 1 8 1 73 1-7 1-94 1 0 1 18 1-28 1-15 1-49 1 12 1 37 1-4 1 3 1 116 1-160 1 102 1-63 1 43 1 30 1-97 1 81 1 3 1 112 1-132 1 18 1 26 1-87 1 32 1 142 1-131 1 51 1 1 1 4 1 49 1-46 1-41 1-65 1-44 1 91 1-104 1 76 1-63 1 40 1 23 1 140 1-152 1 102 1-85 1 102 1 46 1-7 1-13 1-20 1-82 1-36 1-12 1-37 1 13 1 14 1 25 1-61 1 57 1 120 1-24 1-121 1 46 1 28 1-82 1 31 1 10 1 7 1-79 1 42 1 20 1 1 1 42 1-6 1-113 1 64 1-49 1 88 1 13 1 25 1-35 1-65 1 59 1 13 1 64 1-103 1-27 1 25 1-47 1 14 1 49 1 95 1-53 1 26 1-60 1-49 1 55 1 90 1-128 1-20 1-12 1 113 1-13 1-70 1-32 1-1 1 158 1-153 1 80 1 22 1-69 1 45 1 16 1-27 1 3 1-4 1 20 1 38 1-16 1-15 1-3 1-46 1-84 1 138 1-32 1-21 1 69 1-11 1-7 1-14 1 5 1 5 1-62 1 97 1-73 1-36 1 3 1 103 1 39 1-50 1 4 1 9 1-108 1 81 1-68 1-50 1-20 1-35 1 36 1 59 1 103 1-33 1 1 1-115 1 17 1 45 1 84 1 20 1-40 1-43 1-51 1 13 1 22 1-35 1 94 1 4 1 2 1-41 1-32 1 37 1 85 1-72 1 45 1-73 1 126 1-188 1 101 1-117 1 23 1-33 1 7 1 99 1 22 1 17 1 19 1-111 1 80 1-3 1 81 1-96 1 70 1-190 1 78 1 28 1-23 1 56 1-1 1-24 1-17 1-29 1 27 1 121 1-60 1 8 1-24 1-34 1 4 1-115 1 97 1 55 1-29 1-16 1-75 1 91 1-41 1-1 1 10 1 6 1-2 1 77 1-13 1-46 1-86 1 8 1 37 1 11 1 1 1-12 1-23 1 122 1-28 1-144 1 30 1 67 1 37 1-22 1 67 1-13 1-84 1-29 1 21 1 14 1 27 1 59 1 1 1-20 1-28 1 40 1 10 1-119 1 47 1-48 1 36 1 51 1-9 1 49 1-101 1-28 1-6 1 27 1 42 1 32 1-71 1 27 1 22 1 5 1-21 1 26 1-23 1-49 1-24 1 77 1-28 1 21 1 50 1 45 1-102 1-103 1 39 1-32 1-39 1 11 1 130 1-22 1 30 1 83 1-120 1 44 1-85 1 61 1 2 1 24 1-14 1-55 1 18 1 4 1 25 1-33 1 74 1-41 1-28 1 47 1-84 1 37 1 90 1-31 1-54 1 10 1 100 1-89 1 35 1-26 1 115 1-177 1-53 1 76 1 107 1-72 1-113 1 11 1-58 1 185 1-92 1 64 1 19 1-53 1 15 1 70 1 80 1-74 1 0 1-170 1 125 1-87 1 82 1-85 1 8 1-35 1 47 1-12 1 59 1 61 1-127 1-52 1 54 1-68 1 149 1-5 1 28 1-57 1 77 1-52 1-40 1-58 1 56 1-92 1 145 1-39 1-82 1 147 1-19 1-25 1-70 1 5 1 106 1 3 1-12 1-74 1-54 1 70 1 74 1 41 1-94 1-61 1 75 1 59 1 13 1-61 1 91 1-36 1-44 1 85 1-94 1 40 1-86 1 136 1-128 1 99 1-57 1-50 1 44 1-20 1 7 1 12 1-75 1 105 1-69 1-73 1 26 1 100 1-39 1-28 1-15 1 142 1 55 1-179 1-10 1 18 1 33 1-47 1-51 1 23 1 88 1-26 1-103 1 80 1 68 1-84 1 59 1-14 1-96 1 2 1 118 1-66 1-36 1-26 1 69 1 14 1-88 1 163 1 11 1 0 1-91 1-27 1 28 1-42 1 76 1 33 1-18 1 86 1-5 1-87 1-2 1 27 1-89 1 2 1 27 1 9 1-56 1-82 1 147 1 7 1 22 1-43 1 71 1-33 1-106 1 70 1 63 1-63 1-33 1 63 1-86 1 40 1-54 1 15 1 46 1 33 1-52 1 73 1 50 1-154 1 116 1-8 1-3 1-21 1 60 1 1 1-87 1-6 1 115 1-113 1-23 1 38 1 71 1-133 1-95 1 141 1 117 1-191 1 53 1-2 1 2 1 70 1-4 1 6 1-38 1 25 1-91 1 57 1-64 1 121 1-35 1-17 1 49 1-53 1 16 1-94 1-7 1 59 1 53 1-13 1-76 1 33 1 39 1 25 1 90 1-135 1 49 1-24 1-22 1 53 1-6 1-36 1-76 1 67 1 23 1-1 1 19 1-64 1 90 1-28 1-14 1-50 1 3 1 65 1 4 1 46 1-44 1-12 1 68 1-70 1-136 1 68 1 63 1 25 1-94 1 44 1 46 1 63 1-117 1 144 1-102 1 30 1-93 1 38 1 34 1-84 1 113 1-83 1-21 1 165 1-27 1-10 1-30 1-38 1 5 1-44 1 47 1 71 1 66 1-41 1-40 1-4 1-76 1 11 1 91 1-20 1-26 1-165 1 45 1 69 1-21 1-40 1 105 1-127 1 108 1-60 1-69 1 67 1-11 1 87 1-103 1-8 1-62 1 36 1 101 1 42 1 15 1-3 1-110 1 125 1 27 1-17 1 35 1-22 1-115 1 43 1-20 1 18 1-36 1-45 1 18 1 24 1 56 1 47 1-70 1-34 1-32 1 29 1 61 1 19 1-68 1 38 1 38 1 41 1-21 1-94 1-19 1-62 1 39 1 22 1-39 1-19 1 75 1 163 1-92 1 6 1-111 1 25 1 59 1 57 1-88 1-59 1 126 1-62 1 37 1-40 1-117 1 157 1-55 1-88 1 79 1 85 1 96 1-52 1-91 1 48 1-117 1 175 1-1 1-108 1-5 1-35 1 4 1 64 1 3 1-102 1 34 1-41 1 32 1-40 1 27 1 57 1 63 1-106 1 52 1 86 1-144 1 14 1 11 1 82 1-84 1 21 1 72 1-16 1 26 1-144 1 68 1-27 1-54 1-59 1 123 1 65 1-91 1-20 1-100 1 126 1-75 1 7 1 55 1 190 1-113 1-13 1 100 1-134 1 46 1 30 1-34 1-87 1-71 1 26 1 40 1 24 1 112 1 3 1-51 1-19 1 29 1-123 1-17 1 110 1-67 1 28 1-121 1 36 1 25 1 25 1-19 1 49 1-86 1 82 1 110 1-54 1-59 1 105 1 45 1-69 1-103 1-1 1 195 1-133 1 20 1 28 1-39 1-140 1 162 1-11 1 110 1-124 1-26 1-4 1-10 1 91 1-36 1-3 1 37 1-82 1-17 1 84 1-34 1-30 1 3 1-18 1 25 1 24 1 67 1-8 1-53 1-16 1 71 1-40 1-50 1-61 1 24 1 42 1-35 1 122 1-65 1 39 1-134 1 124 1-62 1-92 1 109 1 42 1-22 1 9 1 41 1-5 1-81 1-16 1 81 1 32 1-59 1-30 1 8 1-2 1-103 1 14 1 29 1 81 1-105 1 73 1-1 1 153 1-144 1 100 1-30 1-101 1 42 1 42 1-72 1-39 1 34 1-16 1 91 1-37 1 22 1 96 1-103 1 14 1-2 1-24 1 8 1-54 1 58 1-45 1 50 1-42 1 15 1-41 1-100 1 98 1-6 1 88 1 0 1-43 1-62 1 109 1-18 1-87 1 141 1-81 1 16 1-113 1 84 1 65 1-114 1-39 1 46 1-64 1 105 1 3 1 47 1 24 1-57 1 16 1-111 1 105 1-17 1 130 1-97 1 11"/>
<path stroke="#fa7c17" stroke-linecap="round" d="M0 1148l1-77 1-83 1 139 1-72 1-43 1 9 1 0 1 89 1-168 1 21 1 97 1-6 1-17 1-108 1 126 1-43 1 96 1-180 1 96 1 41 1 69 1-61 1-62 1 32 1-24 1 20 1-116 1 80 1 32 1 13 1-6 1 97 1 34 1-32 1-62 1 53 1-51 1-46 1-23 1 18 1 95 1 16 1 1 1-43 1-68 1 31 1-11 1-37 1 84 1-122 1-26 1 3 1 36 1 35 1 62 1 24 1-67 1-27 1 30 1 63 1-14 1 8 1 17 1-23 1-27 1-124 1 48 1-28 1 19 1 31 1 66 1 38 1-91 1 50 1 20 1-134 1 85 1 5 1-97 1 80 1 58 1 20 1-63 1 52 1 29 1-11 1-119 1 94 1-53 1-16 1 97 1 34 1 15 1-236 1 168 1-147 1 107 1-71 1 66 1 60 1 12 1-66 1-154 1 69 1 23 1 40 1 63 1-78 1 65 1-74 1-7 1 55 1 39 1 19 1-77 1 48 1-86 1 150 1-30 1-41 1-68 1-4 1 42 1-38 1 34 1-47 1-3 1 99 1-82 1 5 1-28 1 77 1-65 1 17 1 27 1-13 1 47 1-4 1-7 1-43 1 5 1-33 1-4 1-15 1 133 1 6 1-108 1 24 1 61 1-39 1 85 1-128 1 35 1-119 1 156 1-62 1 32 1 53 1-45 1-34 1-23 1 110 1 37 1-95 1 70 1-86 1-123 1 54 1 7 1 64 1 24 1-60 1-18 1 27 1-120 1 134 1 62 1-33 1-94 1 42 1-25 1 2 1 128 1-67 1-45 1 61 1-98 1 146 1-29 1-17 1 1 1-101 1 82 1 21 1-19 1-55 1 25 1 92 1-94 1 38 1 37 1-107 1 10 1 47 1 67 1-31 1-63 1 13 1-93 1 99 1-3 1-11 1 15 1 11 1-65 1 152 1-128 1 28 1 3 1-93 1 48 1-27 1-30 1-34 1 87 1 85 1 15 1-47 1 15 1-143 1 100 1-20 1 62 1 24 1-32 1-27 1-8 1 111 1-85 1 15 1 33 1 36 1-143 1 43 1-61 1 28 1 70 1-119 1 72 1 6 1 56 1-30 1 3 1-28 1 71 1-1 1-24 1-193 1 145 1-27 1 64 1 4 1 14 1-49 1 17 1-16 1-78 1 81 1-41 1 35 1 61 1 34 1-31 1-22 1-24 1-52 1 58 1 10 1-49 1 47 1-79 1 62 1-40 1-21 1-6 1 16 1-20 1 50 1 19 1 154 1-201 1 11 1 69 1 55 1-60 1 31 1-63 1 46 1-60 1-60 1 61 1-3 1 12 1-22 1-63 1 40 1 2 1-34 1 9 1 43 1 19 1-45 1-24 1 15 1-2 1 30 1 113 1-77 1-108 1 155 1-39 1-34 1 40 1-42 1 107 1-62 1-18 1-26 1 36 1-25 1-16 1 9 1-36 1 81 1 52 1-113 1-1 1 49 1-81 1 4 1 71 1-1 1 11 1-120 1 134 1-15 1-19 1 102 1-16 1-141 1 144 1-93 1-4 1-57 1 133 1-45 1 19 1 32 1-42 1-128 1 164 1-58 1-82 1 38 1 14 1-2 1 19 1 37 1 83 1-21 1-48 1 91 1-80 1 93 1-89 1-127 1 135 1-49 1-21 1 3 1 14 1 34 1-30 1-76 1 71 1 28 1-39 1 27 1 25 1-130 1-50 1 51 1 111 1-104 1 120 1-60 1 39 1-43 1-17 1 7 1-23 1-20 1 7 1 23 1 8 1-57 1 36 1 22 1 59 1 16 1-21 1-2 1-80 1 15 1 77 1 2 1 60 1 48 1 0 1-128 1-43 1 3 1 96 1-26 1-45 1-60 1 40 1 2 1 87 1 87 1-182 1-66 1 116 1 27 1-66 1 34 1 12 1-79 1 79 1-48 1 29 1 70 1-109 1 73 1 17 1 46 1-117 1 33 1-99 1 55 1 97 1 50 1-44 1-111 1-68 1 95 1-31 1 53 1-7 1-3 1 87 1-144 1 26 1 67 1 57 1-127 1-50 1 25 1-64 1 12 1 155 1-86 1-53 1 35 1 43 1-40 1 33 1 63 1 8 1-54 1 67 1 38 1-42 1-156 1 118 1-37 1 62 1-73 1-26 1-5 1 7 1 126 1-90 1-23 1 30 1-66 1 14 1-22 1 104 1-105 1 44 1 31 1 69 1-2 1-31 1-81 1 161 1-5 1-49 1-126 1 16 1-33 1-13 1 15 1-38 1 0 1 45 1 25 1-89 1 70 1 129 1-66 1-39 1-13 1 152 1-28 1-8 1-17 1-36 1 94 1-89 1-139 1 113 1 57 1-21 1 16 1-3 1-6 1 89 1-3 1-44 1-38 1-48 1-54 1-24 1-3 1 53 1 14 1 59 1-13 1-128 1-22 1 53 1 192 1-102 1 25 1-10 1-46 1 56 1-144 1 17 1-28 1 104 1 124 1-101 1-73 1-20 1 56 1 7 1 34 1-48 1-18 1 102 1 36 1-20 1-98 1 96 1 135 1-191 1 45 1-44 1 22 1-3 1 20 1-66 1 27 1-38 1 41 1-1 1-46 1 22 1-18 1 42 1 7 1 6 1-144 1 74 1-5 1 3 1 88 1 17 1-34 1 67 1 9 1-45 1 21 1 46 1-138 1-54 1-2 1 33 1 29 1 83 1-83 1 96 1 19 1 6 1-67 1-69 1 97 1-16 1-44 1 51 1-15 1-68 1 51 1-3 1-23 1 29 1-62 1 30 1-25 1 66 1-16 1-25 1 56 1-68 1-30 1 97 1-86 1 107 1 8 1-71 1-41 1 138 1-63 1-45 1-25 1-30 1 163 1-30 1-39 1-47 1-6 1 72 1-153 1 38 1 2 1-31 1 119 1-44 1 87 1 21 1-109 1 83 1-18 1-34 1 70 1-32 1-13 1-96 1 106 1-35 1 70 1-57 1 48 1-30 1 19 1-149 1 71 1 9 1 1 1-51 1-59 1 127 1-2 1 11 1 48 1-73 1 85 1-11 1-24 1-17 1 82 1-41 1 0 1-95 1 51 1-69 1-1 1 61 1-20 1-95 1 15 1 31 1 75 1-42 1 79 1-30 1-72 1 125 1-58 1-38 1-23 1 27 1-12 1 35 1 40 1-23 1-55 1 82 1-48 1 23 1-141 1 145 1-57 1 69 1-95 1 27 1 95 1 16 1-39 1 11 1-155 1 32 1 36 1-93 1 56 1 59 1 57 1-47 1 68 1 93 1-118 1 7 1 1 1 36 1-179 1 85 1-28 1-50 1-12 1 42 1 60 1-42 1-63 1 52 1 104 1-99 1 62 1 49 1-58 1-53 1-27 1 118 1 0 1-41 1 3 1-49 1 13 1 100 1-22 1-12 1 7 1-68 1 27 1-73 1-91 1 98 1 8 1-6 1-47 1 46 1 16 1-30 1-2 1-29 1 27 1 84 1-74 1 78 1-94 1 5 1 199 1-176 1 79 1-78 1 42 1 26 1 29 1-47 1-42 1 150 1-45 1-15 1-87 1-42 1 83 1 73 1-91 1-61 1 99 1-56 1 42 1-73 1 37 1-33 1 13 1-19 1 54 1-17 1 29 1-35 1 81 1-78 1-3 1 78 1-29 1-57 1-7 1-16 1 98 1-28 1-11 1-89 1 110 1 34 1 28 1-121 1 92 1-73 1 34 1-3 1 38 1-114 1 47 1 53 1 72 1-85 1 11 1 52 1-80 1-20 1 11 1 77 1-68 1 11 1-32 1 23 1 90 1-26 1-16 1-59 1-31 1 79 1 38 1-96 1-3 1-10 1 3 1 67 1-90 1 96 1 48 1-140 1 38 1-7 1-45 1 146 1 18 1-100 1-30 1 31 1 68 1 9 1-41 1-90 1-55 1 70 1 61 1 32 1 39 1-66 1-26 1 63 1-52 1 38 1-167 1 151 1-7 1 2 1 30 1-36 1-100 1 29 1 124 1-61 1-12 1-32 1 9 1-22 1-33 1 50 1-22 1-32 1 117 1-40 1 19 1 71 1 26 1-107 1 18 1-19 1-46 1 42 1-33 1-20 1 33 1 26 1 27 1-32 1 51 1-62 1-19 1 59 1-71 1 56 1 28 1-62 1-24 1 31 1 35 1-46 1-9 1-65 1 79 1 52 1 21 1-47 1 21 1 55 1-18 1-38 1-18 1 20 1-2 1-32 1 56 1-38 1 30 1-53 1 73 1-34 1-51 1-23 1 125 1-28 1 18 1-72 1-8 1-14 1 40 1-21 1 22 1-68 1 150 1-129 1 235 1-118 1 9 1-62 1 37 1-24 1-92 1-17 1-19 1 107 1-27 1 0 1 11 1-11 1 0 1-42 1-24 1 71 1 14 1-11 1 32 1 0 1-3 1 45 1-167 1 85 1-123 1 133 1 35 1-37 1-6 1 39 1-49 1-1 1 52 1-156 1 99 1 35 1 29 1-8 1-117 1 122 1-90 1-110 1 117 1 28 1 22 1 24 1 53 1-13 1-131 1 62 1 18 1-27 1 2 1-10 1 46 1-76 1-105 1 91 1-14 1 27 1 65 1-83 1 42 1-54 1-10 1 16 1-9 1 72 1-62 1 32 1 9 1-7 1 58 1 35 1-12 1 25 1-54 1 45 1-4 1-42 1 45 1-96 1-37 1-24 1 80 1-65 1 97 1-88 1 22 1 25 1 38 1-57 1 57 1 29 1-39 1-109 1 123 1-43 1-29 1 37 1-108 1 127 1-75 1 66 1 0 1-47 1 49 1 15 1-25 1 8 1 12 1-47 1-32 1 39 1-76 1 10 1 96 1 29 1-35 1 30 1-33 1-41 1 60 1-15 1-2 1-9 1 120 1-46 1 4 1-59 1 22 1-60 1 1 1 8 1 10 1 94 1-99 1 59 1-17 1-12 1 94 1-84 1-110 1 120 1 11 1-118 1 83 1-63 1 29 1 83 1-96 1 12 1 86 1-47 1-36 1 61 1 24 1 10 1 67 1-188 1-56 1 40 1-46 1 27 1-17 1 102 1 51 1-75 1 126 1 11 1-121 1-17 1 2 1 44 1 15 1-24 1 2 1-1 1 22 1-64 1 21 1-46 1 36 1-8 1 21 1-99 1-7 1 166 1-25 1-69 1 52 1 97 1-18 1-123 1-20 1-68 1 24 1 118 1 60 1-54 1-103 1-80 1 114 1 21 1 2 1 7 1 103 1-83 1 5 1 21 1 52 1-70 1-26 1 37 1-25 1-62 1 33 1 5 1-36 1-45 1 22 1 22 1 78 1 43 1-198 1 97 1 12 1 19 1 33 1-70 1-118 1 126 1 10 1 48 1 3 1-41 1 41 1-38 1 25 1-59 1 42 1 15 1-49 1 24 1 94 1-84 1-68 1 126 1 61 1-70 1-10 1 10 1-53 1 49 1-46 1-127 1 67 1 56 1 98 1-73 1-54 1 25 1-3 1-25 1 90 1-16 1-72 1 30 1 49 1-114 1-42 1 61 1 2 1-24 1 21 1-43 1 164 1-37 1 8 1-66 1 44 1-161 1 57 1 76 1-32 1 24 1-108 1 69 1 55 1 29 1-27 1-42 1 96 1-93 1-10 1 20 1 28 1 25 1-65 1 57 1 13 1-96 1 71 1-56 1 108 1 44 1-143 1-90 1 41 1 42 1 24 1-9 1 95 1-30 1 7 1-133 1 86 1-19 1 21 1-2 1 70 1-121 1 69 1-117 1 95 1 5 1 81 1-59 1 11 1-64 1 36 1 2 1-12 1-10 1 25 1-58 1 35 1 75 1 4 1-17 1-127 1-7 1-19 1 44 1 32 1 57 1-46 1-18 1 80 1-50 1-91 1 84 1-46 1 46 1 67 1-5 1-71 1 4 1-33 1 98 1 8 1-29 1 19 1 31 1-75 1 34 1 58 1-78 1 58 1-19 1-90 1 20 1-61 1 91 1-56 1 26 1 1 1 112 1-28 1-37 1 69 1-107 1 51 1-3 1-10 1 29 1-81 1 108 1-28 1-5 1-9 1-13 1 137 1-110 1-84 1 1 1-130 1 137 1-8 1 15 1-26 1 67 1 86 1-123 1 65 1 0 1 3 1-25 1 30 1 24 1-78 1-145 1 125 1-18 1 98 1-73 1 20 1-143 1 110 1 25 1 70 1-28 1-2 1-8 1-129 1 120 1-5 1 0 1 14 1-53 1 2 1 14 1 25 1 51 1-33 1 2 1-73 1 121 1 6 1-21 1-117 1 64 1-81 1 21 1-10 1-29 1 69 1 98 1-97 1 58 1-36 1-25 1 22 1 19 1-63 1-47 1 18 1-111 1-14 1 71 1 86 1 1 1-12 1-21 1-9 1 35 1 17 1-8 1 20 1 42 1-101 1-51 1 151 1-92 1-4 1 62 1-20 1 68 1-40 1 32 1-20 1 11 1-50 1-24 1 39 1-57 1 109 1-42 1-27 1 97 1-89 1-35 1 63 1-26 1 5 1 11 1 33 1-50 1 73 1-86 1 26 1-23 1 88 1-91 1 145 1-129 1 29 1 2 1 18 1 0 1-100 1-36 1 58 1 36 1-53 1 55 1 73 1-42 1 14 1-71 1 135 1-74 1-16 1-4 1-28 1 12 1 14 1-67 1 78 1 13 1-45 1-60 1 28 1-28 1 148 1 8 1-48 1-42 1 57 1 0 1 57 1-178 1 79 1-86 1 160 1-167 1-4 1 8 1 33 1 12 1 76 1-40 1 3 1 11 1-97 1 122 1-99 1 73 1 22 1-90 1 94 1 1 1-8 1-13 1-1 1 20 1 32 1-167 1 168 1-34 1-2 1-55 1-11 1 51 1-65 1-40 1 97 1 3 1-35 1 105 1-45 1-5 1-28 1-1 1-47 1 105 1-129 1 12 1-68 1 64 1 50 1 8 1 34 1-58 1 41 1-55 1-23 1 35 1 65 1-141 1 20 1 7 1 72 1-26 1 33 1 59 1-29 1-24 1-54 1-53 1 44 1 119 1-110 1 23 1-44 1 65 1 53 1-111 1 36 1-3 1-15 1-34 1 65 1 19 1 68 1-97 1 11 1-42 1-1 1 137 1-5 1-75 1-21 1 13 1 78 1-1 1-58 1-83 1 21 1 116 1-103 1 1 1-88 1 105 1 10 1 90 1-174 1-3 1-2 1 102 1-12 1-77 1 80 1-170 1 183 1 35 1-127 1 0 1-39 1 85 1 40 1-62 1 115 1-70 1 37 1 0 1-8 1 4 1-36 1-42 1-31 1 35 1 67 1 70 1-50 1-43 1-14 1 6 1-65 1-9 1 75 1 58 1 34 1-27 1-74 1 73 1-19 1-41 1 100 1-68 1 48 1-69 1-5 1 2 1 0 1-4 1 16 1 58 1-44 1-65 1-92 1 132 1 87 1-127 1 44 1 91 1-99 1-23 1 68 1-69 1-51 1 38 1-141 1 58 1 121 1-26 1-7 1 14 1-18 1-23 1 22 1-58 1 78 1-2 1 41 1-47 1 102 1-61 1-47 1 73 1-90 1 110 1 63 1-153 1-65 1 80 1 44 1 10 1-91 1-46 1-59 1 119 1-29 1-86 1 114 1 60 1-7 1-51 1 56 1-162 1 101 1 53 1-33 1-41 1 3 1 110 1-88 1-113 1 102 1-63 1 56 1-11 1 30 1-57 1 89 1 28 1-12 1 0 1 1 1-43 1 6 1 40 1-41 1-62 1-84 1 127 1 91 1-33 1-24 1-47 1 16 1 63 1 78 1-40 1-40 1 56 1 12 1-198 1 32 1-62 1-34 1 119 1 20 1 1 1 54 1-24 1 10 1 9 1-66 1 146 1-22 1-62 1 10 1-58 1 37 1 16 1-59 1-24 1 192 1-138 1 76 1-94 1-14 1 65 1-97 1 152 1-17 1-47 1 88 1-108 1 82 1-49 1 15 1-40 1-39 1 1 1 79 1-34 1-31 1-25 1-80 1 157 1-12 1-94 1 32 1 39 1-34 1 10 1 7 1 33 1-11 1 44 1 16 1-31 1-7 1-32 1 55 1 58 1-46 1-4 1 24 1-94 1 8 1 59 1-20 1 44 1-43 1 75 1-30 1-74 1-65 1 108 1-50 1-16 1-33 1-44 1 126 1-47 1 14 1-48 1-14 1 44 1 0 1 76 1 3 1-9 1 57 1-53 1-75 1 71 1 58 1-83 1 63 1-23 1-44 1-99 1 23 1-1 1 97 1-72 1 76 1 33 1-61 1-31 1-31 1 41 1-9 1 5 1-13 1 13 1 98 1-61 1-57 1-24 1 63 1-29 1 24 1 1 1-40 1-81 1 74 1-89 1 137 1-75 1 17 1 23 1-34 1 96 1-69 1 29 1 22 1 65 1-10 1 26 1-24 1-158 1 84 1-20 1 24 1 3 1 60 1-143 1 76 1-11 1-66 1 37 1 44 1-9 1 2 1-33 1 39 1-10 1-57 1 138 1-131 1 104 1-75 1-30 1 70 1-59 1-43 1 21 1 103 1-112 1 147 1 3 1 1 1-24 1-85 1 1 1 51 1 36 1 5 1-39 1-36 1 144 1-150 1 20 1-62 1 115 1-61 1 45 1 58 1-207 1 20 1-53 1 20 1 5 1 33 1 133 1-39 1 18 1 65 1-52 1-36 1 66 1-29 1-85 1-90 1 52 1 58 1-28 1 71 1 81 1-18 1-199 1 59 1-14 1 104 1 12 1-29 1-15 1-20 1-50 1 50 1-36 1 22 1 92 1-50 1 43 1-16 1-65 1 65 1-40 1 36 1-19 1 60 1-12 1-39 1-48"/>
<path stroke="#fa7c17" stroke-dasharray="19.43 8.40" d="M0 1178l1-95 1-9 1-10 1-24 1-62 1 29 1-21 1 106 1 99 1-131 1 2 1 40 1-86 1-10 1-7 1 121 1-13 1-87 1 26 1 6 1 2 1-109 1 71 1 37 1 31 1-14 1-45 1-2 1 68 1 130 1-162 1 56 1 23 1-69 1-185 1 145 1-12 1-13 1 60 1-60 1-25 1 105 1 33 1 18 1-29 1-30 1 21 1 39 1 38 1-44 1 3 1-71 1 64 1 62 1 13 1-89 1-135 1 11 1 68 1-58 1 4 1 149 1-146 1-43 1 68 1 19 1 133 1-63 1-9 1-14 1-108 1-56 1 2 1 75 1-62 1 122 1-10 1 29 1 13 1-28 1-109 1 14 1 60 1-76 1 45 1-42 1 90 1 19 1-14 1 19 1 35 1-45 1 1 1 37 1-26 1-18 1-20 1-21 1-22 1 65 1 2 1-35 1 72 1 31 1-52 1-70 1 47 1-5 1 32 1-22 1 49 1-107 1 29 1-6 1 35 1-49 1-16 1-41 1 64 1 121 1 30 1-111 1-11 1 20 1-107 1 97 1 69 1-65 1-114 1-15 1 109 1-18 1 7 1 46 1-20 1-28 1-8 1-87 1 148 1 49 1-87 1 22 1-61 1 66 1-18 1-32 1-16 1 91 1-35 1 20 1-69 1 175 1-76 1-115 1 112 1-105 1 98 1 21 1 56 1-105 1-102 1 83 1 45 1-18 1-16 1 90 1-10 1-115 1 36 1-79 1 29 1-76 1 27 1-6 1-44 1 88 1 42 1-33 1-61 1 152 1-50 1-32 1-15 1 82 1-94 1 35 1-64 1 111 1-74 1-29 1 77 1 18 1 30 1-4 1 72 1-136 1 34 1 26 1-13 1 56 1-8 1-33 1 40 1-93 1 16 1-41 1 92 1-87 1-29 1 60 1-1 1-68 1 44 1 81 1-42 1-88 1 32 1-40 1-1 1 99 1 9 1 52 1-107 1 1 1-48 1 98 1-74 1-25 1-18 1 92 1 14 1-7 1 63 1-46 1-61 1 146 1-116 1-29 1 95 1-39 1 1 1-102 1 15 1-4 1 70 1-17 1 37 1-57 1 9 1 39 1-76 1-9 1 112 1-58 1 141 1-42 1-18 1-51 1 14 1-12 1-87 1 23 1 15 1 71 1-39 1-138 1 109 1 7 1 47 1-2 1-88 1-40 1 36 1-5 1 46 1-14 1 18 1 46 1-32 1-21 1 52 1 39 1-9 1-122 1 57 1-4 1 68 1-176 1 85 1 30 1 33 1-36 1-12 1 23 1-81 1 65 1-76 1 19 1 100 1 6 1 3 1 42 1-27 1-13 1-67 1-13 1 112 1-88 1 72 1-10 1 68 1-116 1 70 1-74 1-10 1 119 1 28 1-73 1 51 1-40 1-45 1 47 1-113 1-33 1-89 1 134 1-19 1 17 1 31 1 5 1 39 1-25 1 64 1-149 1 107 1 37 1-68 1 87 1-73 1 117 1-11 1-58 1-39 1 17 1-10 1-18 1 14 1 59 1-68 1-57 1 149 1-63 1 7 1-41 1-40 1 78 1 38 1-85 1-39 1 37 1 22 1-40 1 69 1-20 1-72 1 22 1 20 1 8 1-35 1 57 1-74 1 57 1-15 1-53 1-3 1-48 1-18 1-5 1 101 1 8 1-57 1 12 1-22 1 104 1-65 1 32 1 29 1 20 1 34 1-67 1-96 1 92 1 32 1-123 1 55 1 41 1-28 1 12 1-72 1 4 1-13 1 150 1-42 1-35 1-38 1 42 1 16 1-16 1-55 1-5 1-33 1-26 1 112 1-19 1 54 1-19 1-12 1-8 1 16 1 114 1-42 1-86 1 84 1-67 1-70 1-59 1-6 1 131 1 48 1-84 1 20 1-58 1 50 1 75 1-9 1-46 1-41 1 46 1 27 1-38 1 4 1 59 1-25 1-84 1 112 1-40 1-111 1 137 1 62 1-45 1-69 1-47 1 20 1-83 1 120 1 36 1-77 1 132 1-9 1 39 1-47 1 29 1-43 1-93 1 36 1-68 1 0 1 46 1-43 1-29 1 104 1-14 1-3 1 19 1-82 1 59 1-38 1 60 1 14 1-12 1 82 1-55 1 5 1-18 1 4 1 53 1 61 1-82 1-53 1-17 1 3 1 80 1-80 1-66 1-91 1 101 1 44 1-5 1 7 1 12 1-39 1 30 1-46 1 26 1 159 1-61 1-35 1-27 1 2 1 72 1-97 1 16 1-11 1 75 1-9 1-73 1-90 1 119 1 67 1-83 1 87 1-135 1-36 1-38 1 124 1-19 1 56 1-178 1 137 1 11 1 90 1-34 1-120 1 136 1-44 1 51 1-107 1 41 1 46 1 19 1-9 1-115 1 15 1-34 1 63 1-97 1 163 1-91 1 62 1-80 1 163 1 20 1-193 1-56 1 99 1-81 1 55 1 83 1-86 1 0 1 3 1 32 1 57 1 0 1-109 1-25 1 71 1 82 1-80 1-39 1 18 1 8 1 27 1-14 1 20 1-45 1 79 1 14 1-17 1-23 1-46 1-44 1 67 1-7 1-7 1 99 1-70 1 75 1 55 1-23 1-94 1 14 1-36 1 16 1 10 1-88 1 42 1 33 1 31 1-9 1-14 1-26 1 74 1-73 1-25 1 27 1-7 1-61 1 93 1 50 1-35 1-20 1 5 1 41 1-94 1 33 1 69 1-91 1 59 1-130 1 122 1 83 1-27 1-26 1-91 1-25 1-11 1 81 1-16 1 68 1-55 1 39 1-7 1-28 1-34 1 60 1-158 1 224 1-100 1 28 1 94 1-160 1-25 1 103 1-101 1 35 1 5 1 30 1-19 1 45 1-68 1 18 1-67 1 86 1-105 1 92 1-31 1 110 1-33 1-5 1-58 1 37 1 42 1-8 1 70 1-81 1 89 1-166 1 1 1 21 1 2 1 42 1-37 1-60 1 28 1-39 1 54 1 30 1-195 1 179 1-39 1 27 1 28 1-9 1 59 1 34 1-221 1 232 1-89 1 1 1-20 1-47 1 26 1 20 1 13 1 52 1-7 1-76 1 95 1-10 1-76 1 45 1 32 1-49 1-9 1-139 1-10 1 79 1 34 1 72 1-106 1 0 1 39 1-44 1-15 1 120 1-23 1 72 1-118 1 73 1 23 1 70 1-82 1 42 1-2 1-61 1-93 1 2 1 6 1 22 1 61 1 36 1-105 1 54 1 21 1 18 1-100 1-39 1 98 1-20 1-4 1 92 1-97 1-71 1 21 1 129 1-57 1 29 1 6 1 91 1-134 1 26 1 1 1-29 1 18 1-103 1 89 1-71 1 108 1-30 1-96 1 37 1 77 1-64 1-94 1 80 1 35 1 7 1 19 1 64 1 7 1 11 1-74 1 94 1-164 1-41 1 4 1 51 1 38 1-55 1 38 1 63 1-7 1-7 1 37 1 32 1-117 1 0 1-79 1 19 1 3 1 25 1-66 1 65 1 33 1-58 1 19 1 77 1 20 1-83 1-2 1 16 1 48 1 35 1-69 1-17 1 31 1-35 1 40 1-85 1 10 1 140 1-48 1-77 1 92 1-25 1-13 1 5 1 113 1-110 1-59 1 67 1 28 1-84 1 5 1 115 1-15 1 39 1-90 1-6 1-68 1-83 1 152 1-71 1 38 1-34 1 34 1-21 1 130 1-60 1-55 1 16 1-135 1 131 1-35 1 94 1-99 1 114 1-184 1 44 1 114 1 9 1-61 1 62 1-83 1 82 1 56 1 26 1-146 1 98 1 27 1-57 1-15 1 5 1-50 1-6 1 46 1 36 1-42 1-113 1 99 1-119 1 152 1 16 1-91 1 78 1 21 1-69 1-79 1 123 1-14 1-42 1 64 1-71 1 82 1 59 1-119 1-28 1 67 1-19 1-116 1 135 1-50 1 81 1-122 1 61 1 25 1 12 1-78 1-60 1 109 1 54 1-35 1 10 1-66 1-39 1 118 1 57 1 35 1-75 1-98 1-126 1 129 1 87 1 0 1 1 1-103 1 102 1 48 1 74 1-43 1 2 1-198 1-38 1-6 1 128 1-12 1-63 1-12 1 81 1-104 1 89 1 28 1 105 1-87 1-134 1 145 1-25 1-25 1-40 1 40 1-43 1 3 1-3 1 96 1 4 1-115 1 40 1-19 1 37 1 29 1-37 1 76 1 24 1-124 1 21 1-56 1-46 1-5 1 12 1 10 1 89 1 19 1-54 1-31 1 58 1 35 1 60 1-49 1 0 1-115 1 33 1 58 1-52 1-20 1 173 1-24 1-66 1 38 1-28 1-64 1 10 1-1 1 68 1-49 1-6 1-67 1-17 1 49 1 18 1 46 1 13 1-15 1-76 1 65 1-94 1 67 1 42 1 64 1-90 1 7 1-7 1-88 1 112 1-45 1 53 1-94 1 70 1 34 1-29 1 115 1-75 1 11 1-158 1 111 1-104 1-3 1 13 1 25 1 138 1-75 1-5 1-42 1 16 1-89 1 90 1 27 1-95 1-62 1 56 1 66 1-43 1-59 1 108 1-87 1 112 1 61 1-163 1 98 1 31 1 9 1 55 1 31 1-68 1-20 1-25 1-20 1 80 1 5 1-37 1 78 1 15 1-9 1-66 1-11 1 89 1-2 1-37 1-87 1-10 1 21 1-4 1 64 1 5 1-151 1 72 1 42 1-83 1-48 1 63 1 15 1 99 1-53 1 40 1 39 1 0 1-104 1 5 1-33 1-34 1 99 1-104 1-25 1-5 1 62 1 10 1 38 1 16 1-207 1 52 1 71 1 64 1 24 1-105 1 8 1-63 1 117 1-12 1 30 1-25 1-55 1-58 1 176 1-144 1-23 1 142 1-91 1 64 1 69 1 21 1-30 1-30 1 42 1-36 1 6 1-46 1-23 1-64 1 143 1-29 1 91 1-178 1-50 1 51 1-15 1 34 1-14 1 5 1 31 1 95 1-21 1-93 1 16 1-3 1 110 1-185 1 20 1 72 1-38 1 89 1-78 1 18 1 59 1 74 1-9 1-101 1 58 1-98 1 3 1 85 1-118 1 114 1-101 1 76 1-13 1 21 1-5 1-100 1 47 1 56 1-38 1 47 1-109 1 6 1 118 1-30 1-14 1 7 1 57 1-95 1 58 1-29 1-13 1-55 1 121 1-24 1-57 1-2 1-28 1 85 1-110 1 18 1 24 1 26 1-48 1-16 1 92 1 76 1-125 1-7 1-7 1-20 1 79 1-156 1 7 1 62 1 53 1 24 1 23 1 6 1-48 1-10 1 34 1 48 1 13 1-73 1-32 1 94 1-7 1 46 1-73 1-40 1 39 1-110 1 100 1-44 1-16 1 26 1-60 1 18 1 118 1-114 1 41 1-50 1 106 1 73 1-198 1 75 1 18 1 36 1 25 1-27 1 9 1-76 1 124 1-34 1-107 1 14 1 11 1-58 1 13 1-10 1 100 1 80 1-62 1 49 1-132 1 28 1-18 1 60 1-68 1 13 1 4 1-17 1-41 1 89 1-71 1 45 1-76 1-29 1 16 1 13 1 108 1-69 1-3 1-6 1 54 1 50 1-75 1-3 1 84 1 36 1-60 1-29 1-138 1 58 1 120 1-58 1-101 1 64 1 1 1 69 1-19 1 10 1 83 1-88 1-50 1 35 1 24 1-75 1 76 1-102 1 6 1 83 1 76 1-72 1 46 1-48 1-56 1 14 1 61 1 15 1 64 1-50 1 41 1 20 1-138 1-44 1 36 1 86 1 39 1-102 1-15 1-37 1 10 1 173 1-86 1-87 1-14 1-51 1 131 1-12 1 127 1 9 1-150 1-65 1-19 1 124 1 139 1-133 1-51 1 0 1-33 1-64 1 45 1-27 1 61 1 4 1-4 1 49 1-87 1 110 1 15 1 12 1-86 1 15 1 69 1-23 1-114 1 75 1-25 1 1 1 8 1-75 1 18 1-14 1 10 1 75 1 49 1-10 1 15 1-46 1-23 1-37 1 80 1-23 1 19 1-4 1 85 1-122 1-6 1-47 1 13 1 76 1-27 1-124 1 40 1 73 1 13 1-24 1 51 1-26 1 2 1 40 1 7 1-124 1 37 1 99 1-30 1 45 1-75 1 43 1-31 1-18 1 16 1 52 1-78 1 7 1-24 1 7 1 15 1-3 1 13 1 69 1-96 1-99 1 180 1 72 1-157 1-1 1 73 1-35 1-31 1-31 1-56 1 149 1-31 1-99 1 94 1 56 1-30 1 5 1-99 1 77 1-20 1-18 1-23 1 48 1 157 1-117 1-21 1-15 1-2 1 100 1-15 1 60 1 1 1-186 1 99 1-36 1-92 1-18 1 57 1 101 1 6 1-34 1-67 1 18 1 32 1 21 1-48 1-94 1 23 1 86 1-7 1 41 1 9 1-76 1 43 1 48 1-92 1-21 1 93 1-53 1 12 1-11 1 3 1-4 1 72 1-28 1-20 1 15 1-35 1-43 1-30 1 161 1-89 1-45 1 81 1 27 1 4 1 2 1-97 1 148 1-3 1-84 1-30 1-125 1 45 1 114 1 41 1-67 1-47 1 33 1-6 1 9 1 50 1-172 1 93 1-63 1 104 1-52 1-59 1 102 1 45 1-68 1 106 1-81 1-27 1 24 1-6 1-29 1 119 1-71 1 28 1-55 1-26 1-2 1-34 1 115 1-100 1 45 1 34 1-117 1 100 1-53 1 7 1-30 1 93 1-96 1-7 1 72 1 133 1-23 1 3 1-128 1 91 1-56 1-19 1 164 1-13 1-76 1-96 1 43 1 55 1-21 1 58 1-88 1 35 1 36 1-54 1-39 1 100 1-43 1 4 1-70 1 43 1 17 1 6 1-15 1 4 1-26 1 19 1-30 1-14 1 113 1-209 1-10 1 91 1 2 1 167 1-35 1 18 1-118 1-19 1-64 1 29 1 85 1-64 1 76 1-10 1-95 1-10 1 32 1 68 1-63 1-20 1 27 1 21 1 13 1 37 1-126 1 41 1 61 1 82 1-32 1-51 1 2 1-59 1 67 1-81 1-16 1 11 1 48 1 67 1-43 1 81 1 1 1 15 1-33 1-29 1-28 1 44 1-31 1-48 1 58 1 31 1-58 1-50 1 22 1-90 1 134 1-36 1 63 1 0 1-52 1 2 1-118 1 73 1-39 1 102 1-30 1 32 1-45 1-41 1-9 1 121 1-11 1-34 1 7 1-56 1 36 1-22 1 144 1-140 1 21 1-68 1-26 1-26 1 170 1 4 1 35 1-13 1-67 1-67 1-7 1-35 1 51 1 4 1 1 1 119 1-132 1 43 1-39 1 14 1 7 1 89 1-78 1 21 1 107 1 28 1-60 1-17 1 70 1-40 1-72 1-43 1-17 1 49 1-5 1 91 1-88 1 67 1-22 1-16 1 40 1-40 1-19 1-98 1 48 1-40 1 61 1 8 1-6 1-45 1 8 1 107 1 10 1-65 1 71 1-64 1-99 1 45 1 19 1-34 1 4 1 53 1-48 1 27 1 36 1-67 1 8 1-29 1 79 1 80 1-25 1-148 1 111 1-70 1 37 1-61 1 155 1-43 1-61 1 23 1 84 1-161 1 99 1-19 1-114 1 84 1 47 1-43 1-57 1 4 1 48 1 61 1-19 1 29 1-99 1-41 1 136 1 67 1-104 1-3 1-5 1 40 1 1 1-15 1-26 1-116 1 162 1-108 1-14 1-55 1 49 1-12 1 26 1-17 1 75 1 13 1-90 1 111 1-76 1 150 1-74 1-11 1-26 1 35 1 131 1-95 1-35 1-44 1-27 1 79 1 37 1-98 1 3 1-9 1-18 1 31 1-35 1-19 1 197 1-221 1 42 1 59 1-52 1-44 1 72 1 35 1 41 1-147 1 50 1 65 1 86 1-31 1-122 1 34 1-6 1 31 1 29 1 57 1-114 1 55 1-51 1-36 1-10 1 1 1 72 1 11 1-171 1 96 1 68 1 13 1 19 1-55 1 27 1-130 1 59 1-28 1-51 1-13 1 66 1 62 1-118 1 67 1 63 1-47 1 73 1-56 1 46 1-2 1 62 1 27 1-146 1 94 1 56 1-188 1 138 1-12 1-87 1 106 1-20 1-65 1-8 1 6 1 15 1 2 1-11 1-39 1 39 1 43 1 39 1-75 1-36 1-49 1 147 1 23 1-128 1-78 1 86 1-23 1 75 1 113 1-94 1-88 1 93 1 33 1-13 1-28 1-29 1 25 1-110 1 73 1 10 1 32 1-151 1 100 1 36 1-52 1 42 1-51 1 42 1-99 1 39 1 49 1-12 1 58 1-2 1-109 1 23 1 88 1-2 1 40 1-70 1 12 1 29 1-106 1 50 1-81 1 68 1 83 1-17 1-19 1-19 1 46 1-80 1 149 1-43 1-11 1 5 1-73 1 69 1-3 1-61 1-5 1-7 1-37 1-78 1 83 1 54 1 73 1-27 1 68 1-85 1-20 1 1 1-25 1 74 1-90 1 31 1 13 1-17 1 148 1-69 1-69 1 70 1-45 1 12 1-63 1-85 1 192 1-33 1-56 1-56 1 8 1 12 1 16 1-105 1 54 1 130 1 1 1 58 1-54 1-75 1 86 1-75 1 15 1 9 1-3 1-104 1 130 1-74 1 47 1-51 1 26 1 51 1-128 1-30 1 131 1-61 1-14 1 111 1 2 1-30 1 41 1-68 1 49 1 12 1 2 1-48 1 58 1 39 1 30 1-115 1-36 1 73 1-36 1 106 1-66 1-36 1-79 1 75 1-37 1 91 1-13 1-1 1-26"/>
<path stroke="#fa7c17" stroke-dasharray="5.25 8.66" d="M0 999l1 50 1-24 1 38 1-23 1 85 1 20 1-61 1 2 1-25 1 28 1 123 1-101 1-185 1 155 1-11 1-42 1-29 1 86 1-60 1 87 1-18 1-79 1 37 1 53 1-62 1-71 1 67 1 141 1-109 1-38 1-35 1 123 1-49 1-3 1 24 1 3 1-118 1 103 1-79 1-47 1 50 1 57 1-14 1-41 1-13 1 58 1-18 1-60 1-35 1 55 1 17 1-98 1 84 1 73 1 55 1-6 1-83 1-37 1 62 1-69 1-15 1 173 1-170 1 45 1-73 1 94 1-61 1 60 1 38 1 4 1 46 1 32 1-156 1-21 1 113 1-25 1 9 1-16 1 32 1-55 1 74 1-20 1 64 1-140 1-43 1 36 1-61 1-12 1 39 1-1 1 154 1-117 1 30 1-34 1-42 1 65 1 66 1 30 1-76 1 60 1-21 1-50 1 50 1-70 1 94 1-126 1-30 1-71 1 121 1-28 1 3 1 65 1 73 1-59 1-103 1 149 1-110 1 43 1 32 1 39 1-42 1 43 1-8 1-22 1-32 1 10 1-60 1-18 1 65 1 107 1-172 1 46 1 53 1-75 1 4 1 74 1-116 1 88 1 26 1-19 1 44 1-10 1-40 1 1 1-96 1-9 1 123 1-6 1 29 1 29 1-97 1 166 1-165 1 85 1-127 1 81 1-21 1-70 1 27 1 12 1-13 1 27 1-18 1 41 1 62 1-84 1-56 1 178 1-137 1-70 1 141 1-91 1 58 1-26 1-44 1 75 1-83 1 90 1-137 1 98 1 8 1-48 1-94 1 65 1 56 1 20 1 75 1 8 1-108 1-24 1-40 1 51 1 33 1 24 1-48 1 64 1-72 1 34 1 91 1-98 1-4 1-118 1 149 1 49 1-24 1 10 1-124 1 107 1 24 1 58 1-106 1-11 1-77 1-39 1 112 1 6 1-51 1 69 1 62 1-92 1 43 1-13 1 4 1 50 1-70 1 31 1-131 1 91 1 122 1 15 1-38 1-120 1 58 1-21 1-30 1 28 1 12 1 53 1-52 1-129 1 59 1 117 1-44 1 34 1-3 1-39 1 48 1 25 1 12 1-121 1 27 1 11 1 15 1-96 1 8 1 79 1 54 1-48 1-73 1 136 1-22 1 18 1-68 1-9 1 9 1 17 1-93 1 30 1-125 1 127 1-54 1 158 1-1 1 8 1 7 1-17 1-63 1-11 1 16 1-47 1-23 1 85 1 99 1-69 1-101 1-92 1-24 1 49 1 109 1-19 1-59 1 49 1 8 1 55 1 6 1-29 1-80 1-26 1 51 1-8 1 106 1 26 1-144 1 124 1-113 1 36 1 53 1-98 1 44 1-7 1 69 1-55 1-40 1 80 1 3 1 25 1-54 1-77 1 119 1-7 1 107 1-95 1-142 1 41 1 61 1-111 1 6 1 65 1-7 1 54 1-49 1 144 1-111 1 6 1-64 1 39 1 19 1-46 1-42 1 177 1-81 1-20 1-70 1 168 1-121 1 25 1 10 1 70 1-109 1 52 1 11 1-40 1-52 1-30 1 53 1-6 1 51 1 64 1-26 1 10 1-98 1-86 1 91 1 71 1-54 1-61 1 30 1 31 1 56 1-54 1 25 1-31 1-133 1 163 1-47 1 129 1 32 1-107 1-24 1 49 1-17 1 73 1 24 1-166 1-88 1 154 1 81 1-76 1-49 1 34 1-39 1-121 1 2 1 59 1 115 1-55 1 13 1-78 1 118 1-141 1 114 1 8 1-4 1-6 1-1 1-26 1 41 1 115 1-67 1-152 1 27 1 85 1 11 1-2 1-36 1-23 1-28 1-51 1 111 1 40 1 102 1-52 1-72 1 50 1 7 1-138 1 61 1 44 1-88 1 1 1 6 1 85 1-69 1 48 1-111 1 125 1 30 1 40 1-69 1-50 1-90 1 124 1 63 1-53 1-25 1-57 1 123 1-78 1 48 1-150 1 86 1 28 1 50 1 40 1-110 1-38 1 71 1 49 1-156 1 7 1 155 1-87 1-9 1-3 1 47 1 9 1-48 1 118 1 9 1-60 1-42 1-59 1 66 1-92 1 23 1 25 1 20 1-20 1 111 1-69 1 35 1-9 1-46 1 30 1-32 1-49 1-22 1 74 1-44 1 47 1 3 1 25 1-1 1-40 1 46 1-20 1 19 1-21 1-36 1-13 1-7 1 23 1-36 1 58 1 1 1-8 1-30 1 98 1 32 1-7 1-71 1 0 1 49 1 12 1-8 1 4 1 28 1-57 1-98 1 68 1 10 1 87 1-72 1-17 1 15 1-73 1-19 1-30 1-8 1 118 1 49 1-164 1 77 1 35 1 13 1 41 1-201 1 171 1-88 1-111 1 168 1 14 1-117 1-66 1 97 1 120 1 19 1-95 1-21 1 78 1-43 1-35 1 23 1-38 1-87 1 89 1-24 1 111 1-17 1-61 1-68 1 39 1 42 1-28 1 111 1 55 1-38 1-135 1-19 1-74 1 84 1 14 1 45 1-44 1-57 1 104 1-26 1 48 1 80 1-99 1 83 1-77 1-10 1 49 1-164 1 105 1 31 1 30 1 38 1-36 1-27 1 37 1-3 1 62 1-97 1 47 1 18 1 16 1-62 1-24 1-102 1 63 1-82 1 57 1 5 1 10 1 4 1 40 1 68 1-13 1-79 1-26 1 31 1 52 1-82 1 67 1 95 1-72 1-90 1 119 1-6 1-48 1-19 1 30 1 21 1-75 1 47 1-106 1 46 1-19 1 55 1 45 1 59 1-14 1-130 1 42 1 84 1-120 1 24 1 97 1-53 1-80 1 60 1-38 1 50 1-62 1 29 1-23 1-51 1 41 1 205 1-55 1 88 1-182 1 12 1 13 1-77 1 13 1 46 1 96 1-77 1-107 1 101 1 102 1-101 1-24 1 0 1-79 1-16 1 62 1 72 1 2 1-68 1 9 1 86 1-29 1-52 1 77 1 122 1-156 1-89 1 12 1-62 1 9 1 38 1 10 1-3 1 2 1-63 1 104 1-17 1-11 1 49 1-41 1 37 1 136 1-159 1-61 1 14 1 61 1-119 1 89 1 29 1 7 1-50 1 22 1 17 1 5 1-77 1 74 1-70 1 93 1-147 1 76 1-10 1 60 1-52 1 147 1-100 1 66 1-39 1-16 1 84 1-37 1-99 1 30 1-37 1 62 1-21 1-122 1 18 1 58 1 70 1 25 1-156 1 82 1-14 1 3 1 19 1-22 1-24 1-89 1 204 1-57 1 12 1 127 1-15 1-28 1-34 1-86 1 2 1 28 1 78 1-10 1 1 1-6 1-20 1 9 1-164 1-28 1 2 1 91 1 79 1 3 1 26 1-34 1 19 1-110 1 102 1-76 1 14 1-1 1 33 1-71 1-27 1 157 1-125 1 121 1-34 1-33 1 7 1 83 1-60 1-10 1 51 1-101 1 45 1 19 1-50 1 105 1-80 1 1 1 47 1-30 1 7 1-76 1 120 1 78 1-28 1-56 1 41 1-14 1-76 1-10 1 47 1-17 1-57 1 25 1 71 1-46 1-30 1 28 1-133 1 110 1 104 1-70 1-127 1 86 1 3 1-92 1 16 1 97 1 52 1-39 1-20 1 36 1-78 1 3 1 18 1 5 1-5 1 17 1 40 1-66 1 16 1-3 1 5 1 78 1-52 1 82 1-60 1-109 1 45 1-21 1 95 1-118 1 35 1-123 1 98 1-57 1 136 1 15 1-30 1 32 1-88 1 16 1-23 1 54 1-95 1 147 1-61 1-51 1 148 1 54 1-45 1-240 1 114 1-19 1-6 1-42 1 62 1-16 1 80 1-86 1 78 1 7 1 45 1-138 1 21 1 11 1 40 1-9 1-40 1 9 1 46 1-34 1 15 1-92 1 59 1 90 1 25 1-73 1-42 1 35 1-21 1-63 1 95 1 2 1 22 1 98 1-115 1 51 1 1 1 43 1 25 1-69 1-93 1-7 1 3 1 146 1-153 1 66 1-72 1-47 1 83 1-25 1 46 1-52 1 83 1 51 1-105 1 29 1-50 1-70 1-37 1 216 1-68 1-92 1 70 1 10 1-27 1 21 1-22 1-23 1 59 1 99 1-20 1-25 1-8 1-3 1 44 1 24 1-134 1-70 1 37 1 116 1 42 1-59 1 15 1-72 1 25 1-60 1 65 1-111 1-55 1 16 1 75 1 45 1 55 1-45 1 46 1-57 1-11 1 50 1-109 1 13 1 25 1-23 1 3 1 11 1 35 1-75 1 82 1-12 1 35 1-23 1 11 1-54 1 24 1-59 1 66 1 77 1-85 1 21 1-108 1 20 1 80 1-44 1 34 1 49 1-58 1 89 1-142 1 18 1 21 1 34 1-126 1 173 1-27 1-15 1 33 1-37 1 43 1-26 1-30 1-39 1 145 1-163 1-59 1 84 1-10 1 180 1 18 1-75 1-91 1 60 1-62 1 119 1-45 1 43 1 34 1-79 1 60 1-123 1 44 1-1 1 6 1-25 1 87 1-79 1 24 1-56 1 110 1-10 1-32 1-33 1 3 1-30 1-68 1-28 1 162 1-105 1 125 1-91 1 32 1 47 1-166 1-22 1 99 1 157 1-199 1 60 1-17 1 22 1 1 1-27 1 65 1 52 1 1 1-216 1 152 1-41 1-28 1 94 1-13 1 69 1-158 1 104 1-54 1 35 1-29 1-13 1-54 1-28 1 188 1-63 1 66 1-88 1 72 1-40 1-27 1-38 1 79 1-97 1-17 1 141 1-44 1-22 1-108 1 21 1 120 1-68 1-97 1 131 1-100 1 90 1 123 1-9 1-82 1-67 1-33 1 60 1 2 1 86 1-54 1 49 1-22 1 61 1-223 1 93 1-40 1 12 1-87 1 103 1-54 1 120 1 73 1-1 1-172 1 34 1 79 1-113 1 105 1 34 1-118 1 57 1 0 1 0 1 52 1-51 1 30 1-41 1-35 1-48 1 101 1-51 1 109 1-57 1-73 1-7 1 66 1 37 1-56 1-55 1 50 1 9 1 59 1-110 1 119 1-109 1-14 1 95 1 41 1-64 1-16 1 12 1-45 1 20 1 88 1 33 1-63 1-15 1-6 1 68 1-146 1 59 1 6 1-16 1 2 1-60 1 50 1 26 1-33 1 63 1 49 1-12 1-51 1-30 1-2 1-72 1 57 1 73 1-48 1 17 1-58 1 32 1 28 1-7 1-127 1 42 1 32 1 2 1 50 1-23 1-108 1 54 1-12 1 104 1 11 1-11 1 52 1-45 1-35 1-59 1 96 1-38 1 40 1-149 1 173 1-17 1 8 1-55 1-72 1 55 1-10 1-22 1-3 1 67 1-22 1-69 1 74 1 25 1 5 1-59 1-26 1 33 1 92 1-104 1-37 1 26 1-44 1 157 1-94 1 60 1-67 1 134 1-14 1-30 1 22 1-3 1-116 1 60 1 1 1 71 1-35 1-83 1 122 1-52 1-65 1-44 1 86 1-85 1 46 1 32 1-117 1-2 1-44 1 117 1 19 1 9 1-9 1 52 1 167 1-93 1-62 1-25 1 89 1-159 1 35 1 87 1-101 1 93 1-101 1 19 1-27 1 33 1-134 1 84 1 36 1-6 1 83 1-3 1-62 1 54 1-78 1 16 1 41 1-10 1 60 1-54 1-40 1 74 1-12 1 14 1 102 1-55 1-61 1-20 1-67 1 44 1-44 1 91 1-35 1-79 1 70 1 70 1-5 1-14 1 51 1-104 1 22 1-19 1 35 1-89 1 101 1-53 1 53 1 36 1-38 1 80 1-130 1-31 1-16 1 20 1 69 1 48 1-47 1-52 1-14 1-74 1 78 1-72 1 129 1-87 1 147 1-192 1 120 1-114 1 44 1 2 1 62 1 75 1 1 1-151 1 110 1-130 1 14 1 130 1-120 1-2 1 39 1-64 1 86 1-103 1 133 1-9 1-24 1 69 1-116 1 60 1 11 1-23 1 8 1-37 1-65 1-51 1 135 1 56 1-37 1-24 1-73 1 154 1-71 1 45 1 10 1-86 1 32 1 41 1-42 1 11 1 26 1-168 1 116 1 0 1 7 1-84 1 24 1 28 1-10 1 36 1-34 1 14 1 4 1 121 1-72 1-118 1-19 1 110 1 44 1-56 1-30 1 63 1-119 1 101 1 18 1 9 1-131 1 95 1 60 1-51 1-43 1-31 1 41 1 65 1-8 1 10 1 50 1-88 1-85 1-18 1 64 1 31 1 15 1 85 1-112 1 10 1-88 1-17 1 6 1 52 1 168 1-65 1-10 1-104 1 20 1-20 1 102 1-33 1 59 1-103 1 31 1 43 1 69 1 32 1-143 1 83 1-58 1-12 1-13 1 22 1-115 1 102 1-27 1 34 1-115 1 72 1 6 1 12 1 19 1 57 1-34 1 18 1-62 1-39 1 14 1 0 1 73 1 19 1 17 1-17 1-51 1-50 1 108 1 29 1-143 1 180 1-111 1 73 1-106 1 51 1 0 1 45 1-27 1-66 1 110 1-149 1 24 1-65 1 133 1-5 1-32 1 99 1-17 1-65 1-4 1 14 1-11 1 59 1-9 1-21 1 14 1-49 1 58 1 39 1-31 1-56 1 4 1-32 1 92 1 23 1-79 1 13 1-45 1 26 1-31 1 101 1-89 1 81 1-71 1 36 1-21 1-36 1-18 1 51 1 40 1 1 1 5 1-43 1 61 1-58 1-12 1-4 1 25 1-102 1 92 1 13 1 20 1 149 1-114 1-120 1-22 1 86 1-32 1 41 1 5 1-39 1-113 1 26 1 23 1 61 1-40 1 43 1 105 1-117 1-99 1-29 1 109 1 2 1 142 1-147 1-83 1 69 1 73 1 72 1 31 1-27 1-66 1-43 1-34 1 62 1-6 1-76 1 28 1-37 1 75 1 26 1 21 1-88 1-8 1 19 1-74 1 40 1 30 1 32 1-37 1 115 1-12 1-76 1-32 1 15 1 54 1 27 1 8 1-11 1-8 1-87 1 9 1 34 1 32 1-87 1 90 1 43 1-145 1-52 1 18 1 20 1 75 1 70 1 24 1-75 1-44 1 111 1-12 1-21 1-55 1-26 1 62 1-17 1-13 1-9 1 44 1 32 1-9 1-30 1-117 1 91 1-1 1-116 1 54 1-13 1 53 1 18 1 43 1 73 1-163 1 97 1-99 1 95 1-19 1-16 1-179 1 132 1 67 1-12 1 30 1 56 1-56 1-7 1-26 1-72 1 121 1 14 1-80 1-19 1 62 1-15 1-66 1-7 1 120 1-75 1-8 1 42 1 23 1 14 1-63 1-13 1 15 1-49 1 144 1-74 1 48 1-91 1-22 1-4 1-2 1-49 1 33 1 78 1 63 1 5 1 6 1 32 1-64 1 23 1 15 1-79 1 0 1 48 1 46 1-127 1 103 1-77 1-63 1-8 1-60 1 75 1 37 1 87 1-11 1 33 1 57 1-15 1-112 1-56 1 31 1-5 1 43 1-45 1-29 1 92 1-7 1 39 1 13 1-99 1 56 1-2 1 4 1 2 1-75 1-15 1-42 1-27 1 18 1-35 1 130 1 11 1-16 1 36 1-133 1 176 1-117 1 34 1-1 1-39 1 56 1-31 1 55 1 19 1-54 1 93 1-26 1-81 1-31 1 67 1-165 1 36 1 76 1 50 1-14 1-6 1-58 1-24 1 140 1-67 1 14 1-18 1 77 1-163 1 55 1-24 1 26 1 43 1-66 1 111 1-71 1 56 1-33 1 0 1 40 1-33 1 19 1-24 1 20 1-91 1-26 1 76 1 2 1-6 1-19 1-72 1 99 1 39 1-47 1-84 1-20 1 117 1-23 1 17 1-31 1 67 1-16 1-79 1-59 1 43 1-10 1-7 1 127 1 32 1-18 1-30 1 106 1-129 1 5 1-29 1-34 1 108 1-39 1-48 1-21 1 31 1-11 1-42 1 12 1 68 1-82 1 26 1 165 1-49 1-68 1 20 1-22 1-5 1 76 1-25 1 18 1-56 1-13 1 55 1 56 1-35 1-65 1 59 1-6 1-47 1-23 1 24 1-72 1 36 1-56 1 139 1-8 1 14 1-88 1 77 1 7 1-70 1 88 1-48 1 3 1 11 1-62 1 10 1 13 1 14 1-20 1 51 1-59 1-54 1 67 1-8 1 30 1 87 1-9 1 1 1-52 1-13 1-25 1 10 1 31 1 19 1-29 1-59 1 75 1-129 1 27 1 55 1 99 1-21 1 35 1-48 1-115 1 26 1-22 1 37 1-15 1 1 1 61 1 18 1 64 1-84 1-12 1 33 1-23 1-43 1 1 1-81 1 22 1 64 1 11 1-42 1 15 1 153 1-23 1-57 1-91 1 89 1-84 1-102 1 129 1 109 1-159 1-66 1 49 1 89 1-27 1-12 1-18 1 63 1 47 1-54 1 68 1-65 1 18 1-20 1-29 1 4 1-117 1 98 1 123 1 15 1-27 1-27 1-106 1 74 1-85 1 73 1 55 1-138 1 30 1 84 1-10 1-22 1 69 1 26 1-94 1-102 1 39 1 49 1 123 1-19 1-96 1 66 1-78 1-35 1-10 1 38 1 52 1 4 1-77 1 29 1-123 1 48 1-67 1 87 1 148 1-18 1-107 1 61 1 13 1-60 1 7 1-61 1 136 1-46 1-83 1-50 1 163 1-122 1 34 1-18 1 9 1 47 1 39 1-55 1-13 1 57 1-1 1 39 1-124 1 106 1 37 1-124 1 31 1 36 1-2 1 43 1 31 1 3 1-125"/>
<path stroke="#fa7c17" stroke-dasharray="33.61 8.40 5.25 8.40" d="M0 1136l1-6 1-98 1-37 1 72 1-42 1-12 1-29 1 106 1-49 1 68 1-107 1-4 1 49 1 47 1 78 1-75 1-49 1-59 1 122 1-32 1 0 1-4 1 1 1-19 1 10 1 7 1-2 1 37 1-14 1-104 1-24 1 21 1 52 1 47 1 26 1-15 1-31 1-69 1 55 1 25 1-65 1 57 1 9 1-57 1 41 1 12 1-46 1 12 1 14 1-14 1-86 1 81 1-67 1 99 1 8 1 42 1-37 1-43 1 7 1-53 1 85 1 7 1-22 1 65 1-124 1 44 1-49 1-56 1 59 1-11 1 125 1-73 1-76 1 152 1-11 1 12 1-24 1-3 1 43 1 10 1-86 1 64 1-183 1 67 1 15 1 13 1 33 1-4 1 75 1-165 1 17 1 69 1 15 1-75 1 20 1-3 1 22 1 1 1-61 1 8 1-24 1 57 1 80 1 42 1-13 1-45 1-121 1 71 1-74 1 4 1 19 1 50 1 12 1-71 1-55 1 106 1 10 1-79 1 87 1-58 1 79 1 40 1 58 1-68 1-102 1 147 1-154 1 32 1-22 1 41 1 52 1 30 1-116 1-112 1 150 1 59 1-19 1 34 1-77 1-16 1-79 1 95 1-39 1 60 1-52 1-35 1-71 1 84 1 8 1 49 1-69 1 56 1-31 1 10 1-34 1 16 1 48 1 65 1-77 1 12 1 51 1-55 1 84 1-75 1-1 1 36 1-15 1 33 1 21 1-12 1-34 1-87 1 35 1 38 1-45 1 53 1-8 1-4 1-27 1 16 1 16 1-26 1 28 1-77 1 42 1 36 1-99 1 43 1 26 1-28 1 60 1 79 1 1 1-57 1 11 1 62 1-89 1-5 1 17 1 28 1-73 1 36 1-122 1 91 1-21 1 10 1 138 1-94 1-112 1 73 1 41 1-39 1-2 1 30 1 0 1-80 1 1 1 58 1 18 1-10 1 59 1-4 1-70 1 37 1 29 1-108 1 11 1 26 1-87 1 133 1 45 1-196 1 30 1 125 1 71 1-51 1 51 1-50 1-31 1 67 1-102 1-24 1 15 1-4 1-51 1-6 1 150 1-53 1-47 1-57 1 5 1 40 1-47 1 113 1-49 1 40 1-54 1 16 1-84 1 22 1 19 1 73 1-65 1 96 1-83 1 21 1 24 1-22 1-37 1-15 1 53 1-39 1 124 1-21 1-58 1-70 1 100 1 86 1-127 1-82 1 105 1 92 1-41 1-96 1-2 1 63 1-69 1 46 1 29 1 36 1-99 1 29 1 38 1-31 1 37 1-43 1-48 1-40 1 44 1 25 1 65 1-20 1-72 1 58 1 90 1-112 1 21 1-108 1 191 1-20 1 20 1-57 1-6 1-27 1-33 1 122 1-2 1-90 1-15 1 20 1 20 1 78 1-155 1 2 1-69 1 54 1 51 1 105 1-7 1-7 1-70 1 107 1-7 1-85 1-36 1 55 1-79 1-7 1 70 1-7 1-27 1 13 1-3 1-4 1 24 1-95 1 103 1-25 1-4 1 10 1 30 1 108 1-134 1-44 1 20 1-9 1-66 1 49 1 6 1 108 1 0 1-147 1-58 1 191 1-51 1-103 1 43 1 111 1-14 1 81 1 2 1-100 1 40 1-112 1 67 1 15 1-5 1 10 1 89 1-130 1-24 1 29 1-10 1 56 1-22 1-83 1 66 1-23 1-53 1 98 1-58 1 2 1 59 1-56 1-22 1 8 1 40 1-2 1 62 1-83 1 82 1-8 1 4 1-37 1-81 1 31 1 59 1 44 1-76 1 3 1 26 1 30 1-23 1-79 1-17 1 56 1-17 1 148 1-145 1 26 1-35 1 50 1 88 1-177 1 39 1 0 1 50 1-41 1 26 1-52 1 91 1 29 1-75 1-115 1 69 1 30 1-38 1 117 1-123 1 153 1-47 1 12 1-88 1-40 1 76 1 105 1-84 1 63 1-37 1-73 1 47 1 35 1-42 1 29 1-5 1 53 1-80 1-23 1 52 1-109 1 49 1-7 1-1 1 74 1-16 1-20 1 45 1-101 1 74 1-49 1 40 1 78 1-60 1-67 1-54 1 28 1 3 1-16 1-8 1 21 1 1 1 28 1 0 1 94 1-66 1-18 1 23 1 7 1-45 1-24 1 15 1-5 1 87 1-83 1 5 1 28 1 30 1 63 1-78 1-17 1 83 1 18 1-70 1-70 1 60 1-78 1 118 1 6 1-103 1 80 1-71 1 5 1 86 1-101 1-74 1 21 1 87 1 16 1-45 1-80 1 64 1-15 1 86 1-112 1 104 1-19 1 18 1 17 1 7 1-79 1 72 1-81 1 78 1-13 1-31 1 16 1 19 1 0 1 41 1-23 1-29 1 126 1-124 1-54 1 66 1 56 1 15 1 5 1 14 1-104 1 53 1-88 1 47 1-48 1 46 1 25 1 6 1-36 1-30 1 82 1 43 1-81 1-105 1 68 1 70 1-44 1-21 1 58 1 44 1-102 1-40 1 24 1-47 1 83 1-69 1 119 1-57 1-11 1 58 1 5 1-13 1 11 1-63 1 118 1-139 1 1 1-22 1-8 1 107 1 46 1 11 1-46 1-121 1-33 1 18 1 18 1 67 1 22 1-21 1-84 1 92 1-6 1-93 1 83 1-37 1 134 1-134 1 64 1-33 1-106 1 5 1 3 1 60 1 96 1-11 1 58 1-26 1 21 1-54 1 8 1 7 1-53 1 12 1-42 1 11 1-31 1 22 1 1 1 73 1-66 1-26 1 46 1-24 1-8 1 30 1 20 1-6 1 51 1 49 1-17 1-79 1-74 1-18 1 59 1-64 1 73 1-21 1 16 1 37 1-8 1-119 1-19 1 160 1-38 1 74 1-64 1 7 1-45 1 43 1 32 1-23 1 29 1-26 1-129 1 103 1 44 1-74 1 69 1-90 1 23 1 40 1-142 1 118 1 7 1 47 1-57 1 4 1 4 1 3 1-49 1 103 1-106 1 17 1 42 1-45 1 77 1-53 1-23 1 51 1 90 1-80 1 44 1-78 1 5 1 8 1 37 1-1 1-66 1-10 1 18 1 42 1 118 1-97 1 66 1 34 1-121 1-60 1 86 1-107 1 118 1-44 1 32 1-11 1-113 1 109 1-1 1-148 1-15 1 106 1 24 1-2 1 8 1-54 1 9 1 96 1-164 1-57 1 183 1 16 1 66 1-24 1 8 1-41 1-99 1-9 1 97 1-9 1 29 1 51 1-72 1 93 1-111 1-8 1 37 1 18 1-53 1 47 1-120 1 70 1 53 1-28 1-16 1 4 1-54 1 136 1-52 1-38 1 0 1 22 1-44 1-52 1 105 1-54 1-7 1-80 1 101 1 52 1 2 1-10 1-122 1 152 1-13 1-60 1 48 1-14 1 2 1-48 1 19 1-17 1 41 1-28 1 22 1-13 1 31 1 22 1-28 1 41 1-45 1 144 1-53 1-12 1-144 1 9 1 28 1 33 1 3 1 7 1-81 1 140 1-49 1 3 1-29 1-9 1-8 1 89 1-86 1 24 1 48 1-125 1-14 1-15 1 76 1-89 1 42 1 27 1-10 1-78 1 163 1-85 1-20 1 87 1-60 1-19 1-26 1 20 1 37 1 65 1-51 1 0 1-114 1 82 1 56 1 29 1-139 1-1 1-44 1 74 1 95 1-122 1 68 1-35 1 80 1-65 1-89 1 44 1 29 1-5 1-19 1 66 1 15 1-37 1 40 1-6 1 58 1 41 1 18 1-118 1 22 1-37 1 24 1 15 1-32 1-13 1 49 1-53 1-27 1-32 1-20 1 101 1 49 1-56 1-40 1 101 1-63 1-37 1 1 1 60 1-16 1 74 1-12 1-41 1-117 1 10 1 134 1 28 1-23 1-5 1-33 1-17 1-57 1 73 1 9 1-82 1-33 1 76 1-32 1 112 1-48 1-76 1 8 1-11 1-3 1 73 1-53 1-34 1-79 1 134 1 22 1-124 1 143 1-42 1 107 1-58 1-57 1 50 1 40 1-113 1 46 1 31 1-39 1-51 1 9 1 88 1 25 1-29 1 76 1-38 1 7 1-12 1-29 1-26 1 32 1-50 1 6 1-139 1 34 1 0 1 174 1-155 1 72 1 61 1-52 1-7 1 20 1-115 1 70 1 94 1 3 1-42 1-14 1 52 1-84 1 35 1 57 1-108 1 21 1 58 1 87 1-141 1 66 1 66 1-41 1-47 1-18 1-69 1 118 1-115 1 36 1-8 1 42 1-32 1 85 1-143 1-59 1 93 1-47 1 98 1 28 1 17 1-96 1-10 1 10 1 37 1 3 1 40 1-55 1 119 1-56 1-7 1-157 1 34 1 110 1-48 1-15 1-36 1 40 1 64 1-20 1 57 1-96 1 52 1-8 1-1 1-87 1 51 1 28 1-88 1 153 1-52 1-82 1 106 1-89 1 50 1-92 1 122 1-5 1-25 1-47 1-32 1 129 1-52 1 63 1-100 1 25 1-53 1 66 1-111 1 117 1-76 1 68 1 4 1-9 1-1 1 96 1-123 1-17 1 92 1 4 1 40 1-44 1-55 1 4 1 30 1 25 1-20 1-61 1 12 1 105 1-101 1 88 1-125 1-11 1-39 1 126 1-38 1 2 1 82 1-24 1-104 1-15 1-43 1 126 1-12 1-47 1 33 1 44 1 32 1 81 1-135 1 46 1 20 1-29 1-173 1 17 1 186 1-93 1 28 1-48 1 140 1-16 1-100 1-47 1 86 1 51 1-65 1 43 1-23 1-7 1 3 1-88 1 10 1 60 1 0 1 83 1-131 1 56 1 126 1-61 1-4 1-70 1-17 1 39 1-58 1-38 1-23 1-3 1 129 1 24 1 22 1-41 1-6 1-82 1 30 1 55 1-58 1-76 1 102 1-62 1 82 1-33 1-27 1-6 1 6 1 58 1 19 1 22 1-27 1-23 1 22 1-45 1-32 1 18 1-8 1-73 1 7 1 95 1 0 1-19 1 29 1 15 1 48 1-11 1-38 1 5 1-4 1-115 1 160 1-102 1 62 1-42 1-30 1 97 1-81 1-4 1-111 1 132 1-19 1-25 1 87 1-32 1-142 1 131 1-51 1-2 1-3 1-50 1 47 1 40 1 66 1 43 1-90 1 104 1-77 1 64 1-41 1-22 1-141 1 153 1-102 1 85 1-102 1-46 1 6 1 13 1 20 1 83 1 36 1 12 1 37 1-13 1-14 1-25 1 61 1-57 1-120 1 23 1 122 1-46 1-28 1 81 1-30 1-10 1-7 1 78 1-41 1-20 1-2 1-42 1 7 1 113 1-64 1 49 1-89 1-13 1-24 1 34 1 66 1-60 1-13 1-63 1 103 1 27 1-25 1 47 1-14 1-50 1-94 1 53 1-27 1 61 1 48 1-54 1-90 1 127 1 21 1 12 1-113 1 13 1 69 1 33 1 0 1-158 1 154 1-80 1-23 1 70 1-45 1-17 1 28 1-4 1 5 1-20 1-39 1 17 1 15 1 3 1 46 1 84 1-138 1 31 1 21 1-68 1 11 1 7 1 13 1-4 1-5 1 62 1-97 1 73 1 35 1-2 1-103 1-39 1 50 1-4 1-9 1 108 1-82 1 68 1 51 1 20 1 34 1-36 1-59 1-102 1 33 1-1 1 114 1-17 1-45 1-84 1-19 1 40 1 42 1 52 1-13 1-23 1 35 1-93 1-4 1-3 1 42 1 32 1-38 1-84 1 72 1-45 1 73 1-126 1 188 1-101 1 117 1-23 1 33 1-7 1-99 1-23 1-17 1-19 1 112 1-80 1 3 1-82 1 97 1-70 1 189 1-78 1-27 1 23 1-56 1 1 1 24 1 17 1 28 1-26 1-121 1 60 1-8 1 24 1 34 1-5 1 116 1-97 1-55 1 29 1 15 1 76 1-92 1 41 1 2 1-11 1-5 1 2 1-77 1 13 1 46 1 85 1-8 1-36 1-11 1-2 1 12 1 24 1-122 1 27 1 145 1-30 1-67 1-38 1 22 1-67 1 14 1 84 1 29 1-22 1-13 1-27 1-59 1-1 1 19 1 29 1-41 1-9 1 119 1-47 1 48 1-36 1-51 1 9 1-50 1 102 1 27 1 6 1-26 1-43 1-31 1 71 1-28 1-22 1-5 1 21 1-25 1 23 1 49 1 23 1-77 1 29 1-21 1-51 1-44 1 101 1 103 1-38 1 32 1 38 1-10 1-131 1 22 1-29 1-83 1 119 1-44 1 85 1-60 1-2 1-24 1 13 1 56 1-19 1-4 1-25 1 34 1-75 1 42 1 28 1-47 1 84 1-38 1-90 1 32 1 54 1-10 1-100 1 88 1-34 1 25 1-115 1 178 1 53 1-77 1-107 1 72 1 114 1-11 1 57 1-185 1 93 1-64 1-19 1 53 1-15 1-71 1-79 1 74 1-1 1 171 1-125 1 87 1-83 1 86 1-9 1 36 1-48 1 12 1-59 1-60 1 127 1 52 1-54 1 67 1-148 1 5 1-28 1 56 1-76 1 51 1 41 1 58 1-56 1 91 1-144 1 38 1 82 1-147 1 20 1 24 1 70 1-5 1-105 1-3 1 12 1 73 1 54 1-69 1-75 1-40 1 93 1 62 1-75 1-59 1-13 1 61 1-91 1 35 1 44 1-84 1 93 1-39 1 85 1-136 1 129 1-99 1 57 1 49 1-43 1 19 1-6 1-12 1 74 1-104 1 69 1 73 1-26 1-100 1 39 1 28 1 14 1-141 1-55 1 179 1 9 1-17 1-33 1 47 1 50 1-23 1-87 1 26 1 103 1-81 1-67 1 84 1-59 1 14 1 96 1-2 1-118 1 66 1 36 1 26 1-70 1-14 1 89 1-164 1-11 1 0 1 92 1 27 1-28 1 42 1-77 1-32 1 18 1-86 1 5 1 87 1 2 1-27 1 88 1-1 1-27 1-10 1 57 1 82 1-148 1-6 1-22 1 42 1-70 1 32 1 107 1-70 1-63 1 63 1 33 1-63 1 86 1-41 1 54 1-14 1-46 1-33 1 52 1-73 1-50 1 153 1-115 1 8 1 3 1 21 1-61 1 0 1 87 1 6 1-115 1 112 1 23 1-37 1-71 1 133 1 95 1-142 1-116 1 191 1-53 1 2 1-3 1-70 1 5 1-6 1 38 1-26 1 92 1-58 1 64 1-121 1 35 1 18 1-50 1 53 1-16 1 95 1 6 1-59 1-52 1 12 1 77 1-34 1-38 1-26 1-89 1 134 1-49 1 25 1 21 1-53 1 7 1 35 1 76 1-66 1-24 1 1 1-18 1 64 1-90 1 27 1 14 1 50 1-2 1-65 1-4 1-46 1 44 1 12 1-68 1 70 1 136 1-68 1-64 1-24 1 94 1-44 1-46 1-63 1 117 1-145 1 103 1-30 1 93 1-39 1-33 1 84 1-113 1 83 1 21 1-165 1 26 1 11 1 29 1 39 1-5 1 44 1-47 1-72 1-65 1 41 1 39 1 5 1 76 1-11 1-92 1 21 1 26 1 165 1-46 1-68 1 21 1 39 1-104 1 126 1-107 1 60 1 68 1-66 1 11 1-87 1 102 1 9 1 61 1-36 1-100 1-42 1-15 1 2 1 111 1-126 1-26 1 17 1-35 1 21 1 115 1-42 1 19 1-17 1 35 1 46 1-18 1-24 1-57 1-47 1 71 1 34 1 31 1-28 1-61 1-19 1 67 1-37 1-39 1-41 1 22 1 94 1 18 1 62 1-39 1-21 1 39 1 19 1-75 1-163 1 92 1-6 1 110 1-24 1-59 1-57 1 87 1 60 1-127 1 63 1-37 1 40 1 116 1-157 1 55 1 89 1-79 1-85 1-97 1 53 1 90 1-48 1 118 1-175 1 1 1 107 1 6 1 35 1-4 1-65 1-3 1 103 1-34 1 40 1-31 1 40 1-27 1-57 1-63 1 105 1-52 1-86 1 144 1-14 1-10 1-82 1 84 1-21 1-72 1 16 1-27 1 144 1-68 1 27 1 54 1 60 1-124 1-64 1 91 1 20 1 100 1-126 1 75 1-7 1-55 1-191 1 114 1 12 1-99 1 134 1-46 1-31 1 35 1 87 1 71 1-27 1-40 1-24 1-112 1-2 1 51 1 19 1-29 1 122 1 18 1-110 1 67 1-28 1 120 1-36 1-24 1-26 1 20 1-50 1 87 1-83 1-109 1 53 1 60 1-105 1-45 1 68 1 104 1 1 1-196 1 133 1-19 1-28 1 38 1 141 1-162 1 11 1-110 1 124 1 25 1 4 1 10 1-90 1 36 1 3 1-37 1 82 1 16 1-84 1 34 1 30 1-2 1 18 1-25 1-24 1-67 1 7 1 54 1 15 1-70 1 40 1 49 1 62 1-25 1-42 1 36 1-123 1 66 1-39 1 133 1-124 1 63 1 91 1-108 1-42 1 21 1-8 1-41 1 5 1 81 1 16 1-82 1-31 1 58 1 31 1-8 1 1 1 103 1-13 1-30 1-80 1 105 1-73 1 0 1-153 1 144 1-99 1 29 1 102 1-43 1-41 1 72 1 39 1-34 1 16 1-92 1 38 1-22 1-96 1 102 1-13 1 2 1 24 1-9 1 54 1-57 1 44 1-49 1 42 1-15 1 40 1 101 1-98 1 6 1-88 1 0 1 43 1 62 1-109 1 18 1 87 1-141 1 80 1-16 1 113 1-84 1-64 1 114 1 39 1-46 1 64 1-105 1-4 1-47 1-24 1 58 1-17 1 112 1-106 1 18 1-131 1 97 1-10"/>
</g></g>
<g clip-path="url(#cr2)"><g transform="matrix(0.571286 0 0 0.571286 1261 0)" fill="none" stroke-width="5.251" stroke-opacity="0.35" stroke-linejoin="round">
<path stroke="#2a2eec" stroke-linecap="round" d="M0 1862l1-32 1 15 1 51 1-83 1 8 1 41 1-113 1 62 1-37 1-13 1 71 1-20 1 24 1 44 1-13 1-131 1 62 1-82 1 34 1 139 1-32 1-63 1 21 1-14 1 2 1 60 1-79 1-96 1 130 1 24 1-21 1-47 1 55 1-63 1 61 1 36 1 71 1-96 1-62 1 81 1-26 1 39 1 16 1-137 1-8 1 170 1-105 1-2 1-99 1 68 1 25 1 68 1-14 1 2 1 63 1-103 1 41 1-25 1-37 1 127 1-35 1 9 1-5 1 30 1-60 1 59 1-19 1-6 1-3 1-20 1-15 1-23 1-119 1 133 1 10 1 29 1-134 1 161 1 9 1-100 1-4 1 95 1-111 1 86 1 21 1-124 1-42 1 13 1 47 1-21 1 85 1-139 1 176 1-79 1-74 1 117 1-4 1-39 1-102 1 17 1-6 1 76 1-14 1-9 1-62 1 155 1-41 1 0 1 19 1-133 1 121 1-43 1 10 1-24 1 73 1 45 1-179 1 6 1 79 1 55 1-31 1 0 1 19 1-62 1 10 1 29 1-16 1 45 1-55 1-1 1 122 1-102 1 30 1-7 1-51 1 26 1-19 1 93 1-114 1 49 1-73 1 40 1 7 1-56 1 7 1 47 1-15 1-117 1 109 1 50 1-46 1 100 1-63 1 14 1-28 1 129 1-131 1-1 1 57 1-82 1 61 1 64 1 9 1-46 1-2 1-20 1 18 1-49 1-34 1 88 1-99 1 92 1-66 1-30 1 48 1 38 1 42 1-167 1 160 1-33 1-14 1-76 1-1 1 58 1 43 1-158 1 101 1 59 1-126 1 80 1 68 1-72 1 31 1 97 1-57 1-58 1 84 1-48 1-95 1 66 1 59 1 2 1-90 1 48 1-42 1 21 1 45 1-87 1-86 1 153 1-37 1-16 1 0 1 8 1-94 1-130 1 162 1 55 1-44 1 82 1 21 1-65 1-50 1 33 1-7 1 148 1-18 1-51 1-66 1 85 1-62 1 11 1-29 1 37 1-70 1 83 1-108 1 88 1-33 1 86 1 2 1-59 1 116 1-80 1-25 1-256 1 189 1-81 1 104 1 56 1-93 1 17 1-77 1 162 1 55 1-128 1-55 1-11 1 78 1-56 1 53 1 51 1-14 1 86 1-118 1-38 1 89 1 62 1-86 1-79 1 176 1-56 1 0 1-125 1-59 1 180 1 7 1 63 1-75 1-42 1-71 1 165 1 30 1-92 1-30 1 47 1-25 1-38 1 29 1-110 1-59 1 92 1 64 1 75 1-26 1-3 1 119 1-91 1-61 1 3 1 84 1 17 1-96 1-57 1 87 1 55 1-25 1-49 1-137 1 32 1 36 1 69 1-10 1 52 1-95 1 15 1 65 1-38 1-116 1 117 1 53 1-28 1-22 1-31 1 16 1-50 1 34 1-13 1-97 1 162 1 32 1-56 1 47 1-6 1-206 1 172 1 35 1-68 1 6 1 99 1-80 1-96 1 71 1-20 1 31 1 57 1 13 1-84 1-14 1 116 1-113 1 0 1-15 1-31 1 150 1-29 1 8 1 9 1-35 1-46 1 27 1-143 1 163 1-233 1 142 1-92 1 84 1 97 1-9 1 18 1-69 1 6 1 87 1-198 1 33 1 170 1 3 1-24 1-37 1-14 1 30 1-124 1 160 1-70 1 0 1-73 1 85 1 7 1-136 1 77 1 39 1 21 1 17 1 57 1 15 1-37 1-40 1-64 1 56 1 17 1-19 1 28 1-22 1-79 1 95 1 49 1-23 1-38 1 46 1-84 1-129 1 43 1-20 1-25 1 54 1 56 1 14 1 102 1 14 1-26 1 15 1-14 1-72 1 11 1 14 1-143 1 120 1 11 1-67 1 58 1-70 1 96 1-107 1 34 1 130 1-47 1-57 1 40 1-37 1 39 1-47 1 32 1-73 1 14 1-29 1-2 1 84 1 13 1-35 1-62 1 23 1 113 1-114 1 16 1-54 1 122 1 10 1 10 1 34 1-142 1 57 1 49 1 44 1-23 1-89 1-63 1 22 1 68 1-11 1 103 1 9 1-59 1-46 1 12 1-17 1 39 1-2 1-24 1 21 1 12 1-9 1-120 1 124 1-164 1 150 1-66 1-42 1-29 1 107 1 145 1-40 1-77 1-180 1 142 1-11 1-7 1-97 1 52 1-64 1 146 1 86 1-55 1 28 1-86 1 22 1-57 1 103 1 4 1-6 1-96 1 57 1 7 1-100 1 104 1 20 1-121 1 193 1-139 1 46 1 5 1-12 1-14 1 14 1-93 1 184 1 46 1-100 1 54 1-44 1-5 1-16 1-44 1 139 1-27 1-153 1 78 1 25 1-214 1 112 1 101 1-56 1-22 1 96 1-83 1 38 1 94 1-112 1-39 1 2 1 5 1 65 1 9 1 32 1-104 1-6 1-90 1 71 1 74 1 30 1 26 1 5 1-258 1 254 1 15 1 25 1-126 1 1 1 24 1-60 1 63 1-32 1-96 1 90 1 29 1-34 1-27 1-11 1 66 1-21 1 12 1-56 1 66 1 17 1 46 1-17 1 7 1-55 1-76 1 84 1-137 1 109 1-63 1 21 1 80 1-6 1 78 1-88 1-124 1 70 1-90 1 104 1 41 1-8 1 26 1-35 1-117 1 88 1 60 1-13 1-61 1 50 1 101 1-14 1-152 1 57 1-69 1 61 1 57 1-36 1-62 1 62 1 76 1-32 1 10 1-105 1 93 1 33 1 27 1-66 1 5 1-5 1-45 1 20 1-186 1-3 1 177 1-122 1 85 1 2 1 83 1-64 1-56 1 11 1 19 1-36 1 12 1 133 1-38 1-48 1 51 1-167 1 62 1 51 1 0 1-17 1 49 1 29 1 62 1-128 1 3 1 89 1-108 1 24 1 40 1 34 1-162 1 4 1 37 1 10 1 40 1 11 1-105 1 106 1 36 1-88 1 139 1-32 1 2 1-35 1 62 1-35 1-8 1-36 1-49 1-57 1 56 1 60 1 26 1-6 1-172 1-17 1 30 1 42 1 117 1-100 1 52 1 62 1 19 1-65 1 33 1-133 1-28 1 35 1 27 1-14 1 165 1 9 1-74 1 3 1 90 1-98 1 14 1 32 1-98 1-53 1 105 1-10 1-25 1 29 1-21 1 75 1 1 1-69 1 2 1-136 1 132 1 19 1-28 1-27 1 8 1-64 1 46 1-28 1 85 1-71 1 17 1 115 1-116 1-24 1 101 1-39 1-81 1 76 1-81 1 82 1-72 1 42 1 172 1-85 1-11 1-41 1 41 1-89 1 23 1 25 1 15 1 4 1 39 1-49 1 54 1 0 1 29 1-124 1-52 1 114 1 12 1 62 1 18 1-100 1-162 1 155 1-48 1 115 1-155 1-127 1 156 1 11 1-113 1 86 1 118 1-56 1 86 1-109 1-8 1-52 1 35 1-2 1 54 1-36 1 33 1 27 1-225 1 266 1-54 1 29 1 1 1-33 1-14 1-63 1 150 1-84 1 13 1-74 1 108 1 90 1-81 1-10 1 17 1-8 1-90 1 54 1-81 1 10 1 95 1 95 1-122 1 65 1 18 1-93 1-70 1-25 1 96 1 16 1 55 1-44 1-30 1-116 1 99 1 75 1-92 1 77 1 43 1-56 1-20 1 3 1 63 1-32 1 47 1 28 1-99 1-85 1 33 1-54 1 32 1-124 1 182 1 15 1 4 1-45 1-33 1 83 1 55 1 40 1 20 1-128 1 60 1-105 1 47 1-52 1-20 1-3 1-19 1 83 1-38 1 49 1 45 1-28 1-42 1 49 1-100 1 110 1 43 1-11 1-108 1 42 1-26 1-14 1 104 1-38 1-74 1-17 1 46 1-21 1 13 1-29 1 128 1 8 1-129 1 35 1 73 1-61 1-11 1 63 1-40 1 5 1-56 1 32 1-7 1-39 1 20 1 57 1 46 1-3 1-5 1-34 1-3 1 4 1 22 1-111 1 51 1 80 1-53 1-69 1 38 1-15 1 71 1-79 1-15 1-36 1 36 1-122 1 55 1 4 1-8 1 144 1-62 1-35 1-10 1 78 1 55 1-2 1 35 1-75 1 35 1-33 1-8 1 11 1 34 1 8 1-111 1 125 1-60 1 46 1 1 1-25 1-149 1 60 1-1 1-5 1-19 1 35 1-60 1 59 1 62 1-8 1-3 1-101 1 158 1-2 1-37 1-16 1 10 1 43 1-34 1-28 1 76 1-36 1-22 1-6 1-105 1 143 1-54 1-15 1 94 1-98 1 81 1-46 1 39 1-9 1-60 1-49 1 44 1 7 1 24 1-61 1 9 1 149 1-172 1 97 1 71 1-16 1-41 1-2 1 51 1-87 1 32 1-24 1-112 1 60 1 144 1-7 1-31 1-61 1-63 1 88 1 3 1-31 1-32 1-35 1-14 1 117 1-57 1 70 1-34 1-49 1-10 1 38 1 51 1-78 1-7 1 139 1-137 1-30 1 149 1-133 1-5 1 13 1 93 1 9 1-49 1-51 1 5 1-76 1 108 1 83 1-2 1-90 1-33 1-35 1 18 1-13 1 37 1-13 1-27 1 9 1 82 1 49 1-38 1-192 1 108 1 95 1 20 1 2 1-90 1-43 1 128 1 4 1-2 1 79 1-76 1-25 1-33 1 53 1-8 1-43 1 18 1-75 1-24 1 61 1 5 1 19 1-157 1 153 1 73 1 40 1 0 1-79 1-9 1 1 1 123 1-171 1-12 1 132 1-77 1 44 1-199 1 86 1 80 1 56 1-128 1 77 1 14 1-33 1 4 1 64 1-97 1 34 1-90 1 53 1-29 1-60 1 40 1 65 1 76 1-41 1 53 1-31 1-11 1-27 1-69 1-7 1 0 1 43 1 8 1 65 1-119 1 65 1-30 1 0 1 98 1-91 1 37 1-55 1-73 1 101 1-17 1 49 1-32 1-2 1 29 1-17 1-38 1 2 1-19 1 17 1 47 1 63 1-75 1-8 1-55 1 56 1-18 1 26 1 43 1 2 1 111 1-104 1 18 1-75 1-50 1 79 1 15 1-32 1-14 1-46 1 95 1-20 1-122 1 68 1-85 1 60 1 81 1-57 1-24 1 88 1-159 1 12 1 10 1 163 1 11 1 6 1-35 1-64 1-49 1-6 1 94 1-125 1 113 1 36 1-16 1-109 1 197 1-144 1 53 1 28 1 90 1-76 1-6 1-19 1 35 1-36 1 44 1-55 1-80 1-113 1 159 1-87 1 32 1-49 1 155 1 56 1-33 1-67 1-41 1 155 1-88 1-115 1 88 1-57 1 95 1-44 1 53 1-8 1 62 1-125 1-122 1 147 1-9 1 40 1-4 1-27 1-5 1 7 1-12 1-35 1-131 1 88 1 29 1 83 1 23 1-34 1-5 1-15 1 42 1-18 1 8 1-22 1 4 1-38 1-15 1 57 1-67 1 14 1-65 1 196 1-29 1-9 1-131 1 29 1-2 1 26 1 39 1 7 1-18 1 100 1-41 1 2 1-37 1 7 1 44 1-11 1 30 1-29 1-98 1 62 1-111 1 145 1-96 1 55 1-69 1 87 1-60 1-86 1 120 1-56 1-38 1 134 1-46 1 4 1 53 1-77 1-22 1 6 1 61 1-17 1-2 1-23 1-46 1 68 1 28 1-111 1 15 1 110 1-101 1-56 1-20 1 37 1 100 1 14 1-46 1-24 1 60 1-40 1-8 1 94 1-23 1-166 1 145 1-22 1 55 1-22 1-23 1 41 1-73 1-67 1 26 1 148 1-51 1-2 1-20 1-72 1 109 1-72 1 50 1-48 1 11 1 3 1-46 1-49 1 150 1-38 1 110 1-52 1-119 1 100 1-3 1 11 1-11 1-59 1-20 1 69 1 39 1-43 1-62 1 2 1-48 1 20 1 53 1-22 1 76 1-109 1 69 1 26 1-3 1-54 1 39 1 79 1-167 1 76 1 89 1 29 1-70 1 50 1-31 1 32 1-43 1-46 1 79 1-149 1 94 1-34 1-100 1 31 1 3 1 130 1 36 1-68 1-35 1-47 1 9 1 29 1 24 1 10 1-10 1 62 1-21 1-43 1-35 1 30 1-47 1-17 1-3 1 27 1 48 1-70 1 1 1 60 1-47 1-30 1 48 1 13 1 77 1-19 1-51 1-21 1 73 1-127 1 58 1 22 1 56 1-63 1 64 1-72 1 42 1-47 1 99 1-60 1-63 1 32 1-31 1 46 1-102 1 78 1 73 1 59 1-161 1 78 1-75 1 95 1 14 1-126 1 100 1-53 1 76 1 26 1-47 1 8 1 22 1-65 1 75 1-92 1 3 1 92 1-79 1-12 1-128 1 56 1 21 1-51 1 185 1 17 1-7 1 9 1-93 1-16 1-153 1 189 1 36 1-71 1-2 1-4 1 50 1-58 1 5 1 41 1-58 1 121 1-96 1-93 1 116 1-140 1 43 1 91 1-69 1 117 1 27 1-26 1-58 1 52 1 18 1 8 1-148 1 17 1 125 1 22 1-70 1-88 1 68 1-88 1 21 1 104 1 21 1-72 1-27 1 60 1-4 1 55 1-82 1-49 1 47 1-33 1-36 1 98 1-90 1 87 1-56 1 19 1 16 1-15 1-98 1 102 1-22 1-53 1-8 1 52 1 56 1-45 1 26 1 31 1-66 1-56 1 39 1 56 1 36 1-78 1 1 1 8 1 43 1 22 1 60 1-93 1 38 1 61 1-14 1 21 1 6 1-119 1 24 1 39 1 3 1 34 1 4 1-75 1 18 1-1 1 78 1-17 1-116 1 40 1-36 1 54 1-76 1-10 1-15 1 34 1 69 1-2 1-14 1-2 1 24 1 18 1-22 1-1 1-72 1 19 1-123 1 65 1 105 1-6 1-59 1-99 1 137 1 9 1-18 1-3 1 77 1-75 1-7 1-80 1 83 1-93 1 39 1 14 1 38 1 70 1 63 1-52 1 54 1-83 1 40 1 28 1-149 1-49 1-37 1 126 1 39 1-24 1-20 1-59 1 55 1 37 1-8 1 66 1-83 1 23 1-128 1 108 1-11 1 45 1-77 1-96 1-89 1 201 1-68 1 9 1-19 1 60 1 6 1 11 1 67 1-36 1-106 1 140 1-81 1 78 1-31 1-100 1 130 1-108 1 147 1-147 1 84 1-265 1 210 1 90 1 24 1-46 1 22 1-38 1 37 1-98 1-102 1 159 1-56 1 34 1-34 1-25 1 46 1 38 1 107 1-213 1 147 1-103 1 58 1-34 1 89 1-80 1 51 1 17 1-4 1-32 1 44 1-30 1 45 1-108 1 80 1-66 1 52 1 34 1-6 1-44 1-33 1-47 1 50 1-31 1 83 1 83 1-140 1 17 1-21 1 113 1-64 1-21 1-69 1 103 1-44 1 15 1-14 1-66 1 45 1-16 1 14 1 20 1 13 1 13 1-13 1-3 1-1 1 45 1 47 1-26 1 40 1-155 1 103 1 0 1-65 1 43 1-15 1-65 1 86 1-119 1 115 1-57 1 71 1 10 1 51 1-122 1-8 1 108 1-140 1 96 1-1 1 23 1 51 1-209 1 129 1 35 1-106 1 50 1 60 1-99 1-161 1 115 1 111 1 27 1 4 1 23 1-8 1-26 1-20 1-23 1-114 1 165 1-50 1-8 1 79 1-156 1-3 1 163 1-162 1 129 1-61 1-85 1 89 1-48 1 113 1 6 1 0 1-35 1-121 1-39 1 166 1 58 1-64 1 40 1 22 1-44 1-51 1 27 1 8 1 11 1-60 1-47 1 36 1 64 1-32 1 22 1 56 1-50 1-28 1-43 1-11 1 60 1 37 1-49 1-73 1 46 1 5 1 78 1 38 1-54 1 20 1 78 1-95 1-78 1-84 1 134 1 42 1-14 1 21 1-108 1 10 1 91 1-69 1 18 1-8 1 88 1 56 1-109 1 17 1-26 1-19 1 18 1-105 1 31 1 159 1-58 1-57 1-6 1 6 1 52 1-19 1-9 1-50 1 27 1 19 1-16 1 34 1-73 1 56 1-112 1 102 1-21 1 24 1-62 1-2 1 92 1-135 1-19 1 46 1 60 1 81 1-96 1 44 1-32 1 116 1-43 1-111 1-32 1 42 1-28 1 93 1-130 1 98 1 54 1-3 1-59 1-38 1 106 1-67 1-47 1-29 1 62 1-7 1 102 1 25 1-178 1 48 1 39 1-88 1 66 1 30 1-51 1-37 1 167 1 33 1-125 1-52 1 118 1-46 1-83 1-5 1 35 1-77 1 121 1-13 1-8 1 44 1 8 1-68 1-8 1 5 1 115 1-139 1 18 1 14 1 14 1-60 1 81 1 0 1 24 1-100 1-40 1 97 1-147 1 159 1 8 1-22 1 54 1-20 1 41 1-7 1-48 1-70 1 95 1 73 1-15 1 13 1-54 1-65 1-38 1 118 1-159 1 138 1-24 1-17 1 52 1-75 1 66 1-20 1 39 1 2 1-40 1 12 1-4 1-39 1 71 1-26 1 60 1-100 1 16 1-53 1 53 1-1 1 8 1 18 1 20 1-112 1 24 1 32 1-13 1 16 1-123 1 4 1 85 1 70 1-127 1 148 1-40 1-48 1-29 1 114 1-35 1 26 1-30 1 42 1-50 1 28 1-33 1 54 1-3 1 18 1-109 1 41 1-24 1 71 1-55 1 30 1-42 1 39 1 90 1-111 1 99 1-94 1-9 1-107 1 122 1-122 1-2 1 49 1-60 1 121 1 34 1 27 1-54 1 43 1-164 1 4 1-8"/>
<path stroke="#2a2eec" stroke-dasharray="19.43 8.40" d="M0 1863l1 35 1 28 1-6 1-110 1 39 1-27 1 29 1 66 1-127 1 69 1-18 1-2 1 25 1-44 1 70 1-101 1 16 1 32 1 9 1 21 1-46 1-81 1-3 1 77 1 31 1-93 1 16 1-9 1-20 1 55 1-11 1 78 1 13 1-37 1 55 1 4 1-60 1 32 1 1 1-131 1 132 1-56 1-28 1-22 1-42 1 11 1 24 1 125 1 8 1-73 1 122 1-120 1-43 1-60 1 107 1-56 1 132 1 0 1-39 1-111 1 87 1-23 1-31 1 96 1-2 1 60 1-215 1 8 1 87 1 45 1-30 1-117 1 153 1 16 1 47 1-106 1-42 1 71 1 38 1-70 1-79 1 8 1 39 1 27 1-73 1 112 1-29 1-30 1-10 1 45 1 27 1-49 1-14 1 49 1 5 1-20 1-28 1 15 1-9 1 67 1-32 1 26 1-75 1-92 1 114 1-139 1 145 1 4 1 23 1-3 1-32 1-39 1 14 1 31 1-71 1 33 1 11 1 3 1-79 1 74 1 38 1 3 1-43 1-63 1-28 1 198 1-87 1 13 1-22 1-24 1 127 1-64 1 33 1-162 1 101 1 37 1 26 1-24 1-99 1 39 1-29 1 47 1-57 1 114 1-76 1 33 1-146 1 140 1-46 1 112 1-33 1 0 1 35 1 22 1-27 1 11 1 19 1-124 1 79 1 55 1-26 1-98 1 105 1-79 1 127 1-67 1-7 1-37 1-51 1 13 1 124 1-73 1 20 1-12 1 23 1-3 1-87 1-16 1 55 1 75 1-8 1-40 1 10 1-82 1 62 1 39 1-63 1 15 1 90 1-44 1-50 1-66 1 154 1-60 1 5 1-6 1 40 1-68 1-5 1 71 1-11 1-170 1 158 1 52 1-40 1-91 1 12 1 52 1-46 1 31 1-27 1-73 1 125 1-27 1 61 1 32 1-16 1-102 1-135 1-27 1 157 1-44 1 28 1-79 1 64 1 41 1-25 1-54 1 100 1-41 1 70 1-136 1 115 1-8 1-61 1-24 1 71 1-1 1 61 1 95 1-9 1-90 1-61 1 116 1-36 1-22 1 62 1-60 1-43 1-39 1 20 1 37 1-92 1 78 1 50 1-30 1 10 1-54 1 21 1-120 1 19 1 85 1 22 1 23 1-54 1 10 1-34 1 50 1-18 1-5 1 63 1-160 1 92 1 14 1-8 1 71 1-112 1 61 1-53 1-42 1 66 1-49 1 8 1 84 1-68 1 58 1-56 1 73 1-27 1 45 1-70 1-17 1 34 1 65 1 61 1-149 1 37 1 65 1-46 1-11 1-32 1 115 1-52 1-68 1-54 1 30 1 35 1-35 1 27 1 105 1-67 1 48 1-166 1 51 1-40 1-26 1 118 1 27 1-78 1 13 1 64 1 18 1-80 1-91 1 73 1 51 1 7 1 76 1-77 1-54 1 101 1-55 1-31 1-21 1 29 1 39 1-69 1 83 1-83 1 42 1-16 1-19 1 48 1-73 1 107 1-53 1 66 1-109 1 64 1-57 1 114 1-128 1 133 1 45 1 10 1-105 1-16 1 26 1 32 1-44 1-74 1 47 1 82 1-131 1 12 1-3 1 81 1 31 1-55 1 51 1-102 1 51 1-112 1 22 1 73 1-49 1-41 1 165 1-99 1-5 1 141 1-38 1-37 1-92 1 49 1 44 1 66 1-31 1-43 1 34 1 1 1-67 1-8 1-9 1 22 1-50 1 112 1 46 1-218 1 33 1 130 1 65 1-190 1 85 1-18 1-219 1 218 1 110 1-111 1 52 1-218 1 178 1 24 1 6 1-15 1 14 1 22 1-40 1 63 1 23 1-50 1-3 1-89 1-46 1-55 1-78 1 230 1 19 1-66 1-27 1-75 1 126 1 56 1-94 1-10 1 100 1-25 1 37 1-76 1 5 1 26 1 56 1 16 1-71 1 83 1 5 1-101 1-50 1 19 1 74 1 46 1-62 1 8 1 21 1-66 1-19 1 147 1-272 1 105 1 55 1 11 1-85 1 18 1 51 1 26 1-51 1-125 1 69 1-10 1 45 1-22 1 11 1-48 1-7 1 143 1 41 1-56 1 68 1-75 1 26 1 31 1 40 1-9 1 1 1-194 1 32 1-38 1 70 1 13 1 29 1-53 1 24 1 35 1 39 1 47 1 6 1-115 1 51 1-94 1 143 1-74 1-84 1 149 1 22 1-73 1-36 1-16 1 56 1-52 1-29 1 162 1-16 1-42 1 7 1-7 1-47 1 86 1-49 1-131 1 33 1 48 1 19 1-76 1 1 1-5 1 105 1-1 1-1 1 4 1-32 1-22 1-44 1 76 1 54 1-74 1 29 1 16 1 25 1 30 1-46 1 33 1-26 1-41 1-101 1 77 1 37 1-41 1-72 1 94 1-20 1-42 1 97 1 40 1-78 1 61 1 52 1-35 1-84 1-19 1 78 1-98 1 59 1-37 1 76 1-79 1-128 1 152 1 65 1-28 1-40 1-58 1 49 1-6 1 18 1 59 1-114 1 43 1-110 1 137 1 20 1-57 1-36 1-45 1-20 1 22 1 153 1-204 1 82 1 92 1-34 1 64 1-118 1 20 1-2 1 45 1-61 1 6 1 78 1-14 1-34 1 84 1-116 1 69 1-33 1-11 1 94 1-56 1 72 1-70 1 31 1-51 1 54 1 39 1-79 1 102 1-34 1-33 1-67 1-20 1 35 1 53 1 28 1 25 1-67 1 97 1-38 1-99 1-28 1-58 1 16 1 100 1-25 1 148 1-70 1-62 1 45 1-34 1-67 1 70 1-64 1 80 1-92 1 15 1 108 1-23 1-51 1 84 1-32 1-194 1 106 1-89 1 180 1 50 1-61 1 7 1-91 1 158 1-53 1-52 1-41 1 4 1 65 1-28 1 19 1 13 1-40 1 25 1 36 1-11 1-45 1-70 1 23 1 111 1-1 1-168 1 79 1-22 1 25 1 92 1-30 1 19 1-66 1-8 1 96 1-51 1-20 1-6 1-52 1-2 1-65 1 181 1-90 1-98 1 119 1-26 1 36 1 81 1-127 1 74 1-25 1 10 1 5 1 31 1 45 1-94 1-2 1-84 1 87 1-74 1 71 1 118 1-76 1-59 1 4 1-85 1 47 1 69 1 73 1 2 1-86 1 64 1-34 1-69 1-48 1-21 1 106 1-33 1-46 1 73 1 32 1 9 1-16 1 21 1-199 1 125 1-14 1 52 1-52 1-187 1 139 1-104 1 120 1 16 1-9 1-55 1 118 1 37 1-48 1-51 1 65 1-15 1-21 1-29 1 25 1 132 1-87 1-65 1 91 1-88 1 47 1 0 1 69 1-175 1-128 1 163 1 138 1 17 1-29 1-25 1 3 1-72 1 64 1-19 1-26 1-19 1 81 1-87 1 112 1-64 1 64 1-22 1-56 1 27 1-109 1 132 1 59 1 3 1-129 1 78 1-130 1 87 1 84 1-3 1-66 1 25 1 41 1-74 1-57 1 80 1 8 1-82 1 13 1 40 1-14 1-96 1 6 1 40 1 135 1-47 1 23 1-16 1-115 1 42 1 70 1-80 1 138 1-168 1 52 1-27 1 24 1-75 1 110 1 18 1 69 1 21 1-102 1 41 1-93 1 97 1-21 1 85 1-101 1 40 1-37 1-85 1 0 1-45 1 28 1 38 1 90 1-14 1-69 1 55 1-20 1 34 1-120 1 49 1 61 1-116 1 85 1-39 1-156 1 46 1 150 1 62 1-45 1-15 1 18 1-55 1 6 1 12 1 89 1 17 1-114 1 70 1-222 1 169 1-8 1-43 1-71 1 41 1 17 1 145 1 1 1-63 1 31 1-91 1 59 1 0 1-40 1-49 1 101 1 11 1 82 1-34 1-77 1-24 1-56 1 91 1-29 1 124 1-39 1-129 1 155 1-7 1-42 1 24 1 27 1-82 1 14 1-95 1 37 1 16 1 35 1-53 1 55 1-4 1-50 1 42 1-121 1 160 1-25 1-131 1-26 1 65 1-41 1 126 1 0 1 86 1-54 1-48 1-52 1 99 1-112 1 15 1 21 1 78 1-39 1 37 1-53 1-75 1 60 1 75 1-41 1-2 1-62 1 12 1-75 1 198 1-46 1 0 1-21 1 85 1-118 1 24 1 53 1-50 1-62 1 26 1 1 1 42 1-148 1 151 1-34 1 45 1-1 1-89 1 43 1-36 1 64 1-16 1-70 1 105 1 70 1-77 1-10 1-85 1 39 1 108 1-42 1 63 1-51 1 10 1-39 1 43 1-92 1-7 1 56 1-15 1-51 1 94 1 36 1-163 1 123 1 26 1 14 1-14 1-108 1-72 1 6 1 22 1 80 1-56 1 51 1-24 1 54 1 8 1-84 1 36 1-18 1 24 1 46 1-119 1 47 1 47 1-65 1-55 1 42 1 124 1-62 1 9 1 31 1-3 1-37 1-18 1 45 1-26 1 90 1 9 1-109 1-73 1 98 1 13 1-20 1 7 1 10 1 16 1-20 1-52 1 55 1-11 1-20 1 0 1 44 1-80 1 94 1-4 1-53 1-3 1 14 1 28 1-52 1-37 1-165 1 241 1 17 1-96 1 18 1 11 1-41 1-27 1 68 1 20 1 78 1-86 1-41 1 2 1 93 1 58 1-103 1 46 1 11 1-134 1 61 1 43 1-74 1 45 1-61 1-93 1 131 1 88 1-49 1-102 1-72 1 17 1 53 1 7 1 110 1 90 1-85 1 13 1-10 1 31 1-91 1 106 1-10 1-113 1 59 1 11 1-41 1 30 1-53 1-39 1 34 1-5 1 37 1 28 1 49 1-133 1 3 1 137 1-76 1-6 1-66 1 16 1 28 1 35 1 34 1-92 1 11 1-12 1 19 1-4 1 57 1 25 1-16 1-26 1-10 1 29 1-8 1-105 1 188 1 1 1-114 1 96 1-136 1-47 1 125 1 6 1-28 1 43 1-81 1 6 1 124 1 12 1-126 1 77 1-36 1 4 1-15 1 32 1-47 1-90 1 74 1 6 1 13 1-3 1 5 1-46 1 77 1 62 1-150 1 47 1-16 1-13 1-34 1 140 1 1 1-48 1-24 1 37 1-62 1 98 1 30 1-15 1-64 1-193 1 155 1 37 1 60 1-139 1 84 1-26 1-85 1 133 1 31 1-75 1-9 1 38 1-61 1 61 1 23 1 33 1 11 1-18 1-96 1 12 1 33 1 16 1 48 1-56 1-30 1-61 1 112 1-118 1 45 1 12 1 10 1 90 1-93 1-19 1 69 1 35 1-68 1 14 1 64 1-34 1-26 1 57 1-67 1-73 1 70 1-9 1 38 1 20 1-105 1 86 1-129 1 93 1 22 1 64 1-27 1-78 1 10 1-18 1-51 1 78 1-18 1-162 1 172 1-67 1 126 1-46 1-71 1 118 1-18 1 58 1-73 1 31 1-59 1-68 1 76 1 44 1-67 1 117 1-45 1 11 1 48 1-117 1 26 1 25 1-17 1 27 1 28 1-46 1-19 1-19 1 0 1 38 1-121 1 33 1-13 1 132 1-18 1-5 1-83 1 57 1 33 1-11 1 41 1-16 1-45 1-69 1 121 1-217 1 108 1-10 1 83 1-23 1-17 1-27 1 49 1 31 1-16 1-48 1-161 1 189 1 38 1 26 1 2 1-116 1 42 1-11 1-105 1 27 1 10 1 44 1-4 1 11 1-41 1-47 1 71 1 19 1-20 1-5 1-55 1-23 1 81 1 28 1 44 1-3 1-77 1-21 1 172 1-75 1 5 1-40 1-61 1 91 1 51 1-60 1-7 1-74 1 74 1 41 1-11 1 32 1-34 1-57 1 42 1 78 1-20 1-103 1-60 1-18 1 75 1 72 1-35 1-58 1 11 1 70 1-57 1-29 1 152 1-13 1-110 1-17 1 10 1-24 1 47 1 23 1-56 1 102 1-1 1-178 1 94 1-58 1-11 1 5 1 34 1 162 1-137 1-10 1-34 1-21 1-138 1 230 1-25 1-186 1 193 1-57 1 4 1 35 1 112 1-50 1 17 1 12 1 1 1-9 1-53 1 82 1-42 1-10 1 46 1-21 1-23 1 19 1 57 1-72 1-1 1-22 1 87 1-121 1 84 1-55 1 23 1 59 1-27 1-137 1-5 1-11 1 55 1 4 1 112 1-129 1-37 1 80 1 7 1 32 1-53 1-33 1-82 1 77 1 30 1-21 1 49 1 6 1-18 1-86 1-23 1 66 1-35 1 42 1 61 1 51 1-73 1-1 1 5 1 28 1-34 1 64 1-68 1 25 1-3 1-9 1 118 1-81 1-179 1 183 1-85 1 76 1-82 1 76 1 16 1 35 1-110 1 5 1 144 1-62 1-7 1 11 1-75 1 38 1-18 1-8 1-15 1 22 1-124 1 196 1 33 1-7 1-51 1-116 1 24 1 11 1-29 1-13 1 97 1-14 1 10 1-23 1-9 1 13 1-35 1 135 1-237 1 33 1 138 1 57 1-146 1 1 1 41 1 29 1-3 1 55 1 31 1 12 1-25 1 12 1-99 1 33 1-55 1 65 1 76 1-44 1-56 1 64 1 16 1-73 1-38 1 58 1-23 1-12 1-45 1 105 1-77 1-24 1-31 1-22 1 112 1-45 1 24 1-91 1 87 1 60 1-19 1 33 1-67 1 52 1-22 1-58 1 51 1 14 1 11 1-45 1 82 1-137 1 63 1 39 1-140 1 80 1-49 1-12 1 58 1 56 1-19 1 17 1-71 1 64 1 5 1-15 1 36 1-154 1 125 1 13 1-70 1-90 1 152 1-55 1 38 1-42 1-47 1 44 1-20 1 87 1-9 1-86 1-13 1-41 1 25 1 42 1-3 1 100 1-34 1 10 1-127 1 146 1-2 1-1 1 17 1 3 1-7 1-39 1-53 1 14 1 42 1 18 1 2 1-99 1-65 1 153 1 20 1 16 1-29 1 4 1-149 1-119 1 119 1 126 1-154 1 177 1-86 1 52 1-26 1 28 1-38 1-85 1 139 1 31 1-6 1 0 1-197 1 56 1 49 1-38 1 141 1-74 1 118 1-80 1 12 1-8 1 49 1-145 1 58 1-145 1 176 1 24 1-154 1 87 1-12 1 75 1 1 1-38 1 36 1-45 1-70 1 77 1-1 1-51 1-9 1 61 1-68 1-15 1 136 1-20 1-63 1 80 1-3 1-26 1 8 1-27 1-142 1 88 1 46 1 48 1-114 1-18 1 113 1-26 1 69 1-225 1 126 1-12 1 71 1-28 1 10 1-95 1-15 1 47 1-2 1-46 1 146 1-69 1 7 1 28 1-6 1 24 1-14 1-56 1 38 1 65 1-42 1-49 1 21 1 106 1 1 1-128 1 17 1 16 1 43 1-63 1-63 1 60 1 3 1-32 1 3 1 11 1-56 1 151 1-8 1 1 1 39 1-62 1-91 1 101 1-44 1-43 1 108 1-27 1 18 1-108 1 46 1-20 1-43 1-73 1 113 1 29 1 24 1 17 1-1 1 60 1 3 1-36 1-101 1 61 1 61 1-55 1-55 1 27 1 79 1-12 1-62 1-53 1 70 1 26 1-42 1-10 1 14 1-46 1 9 1 78 1 3 1-38 1 71 1-81 1 32 1-195 1 129 1 51 1-25 1-66 1 27 1 87 1-31 1 26 1-24 1-7 1 13 1-80 1 84 1 6 1-62 1-68 1 87 1-3 1-131 1 121 1-88 1 89 1-8 1 53 1 6 1-88 1 79 1-22 1-47 1 30 1 84 1-107 1 13 1-41 1 133 1 32 1-55 1 4 1-97 1-75 1 109 1-26 1 4 1 8 1-54 1 110 1-63 1 60 1 29 1-64 1 6 1 9 1-39 1-36 1 0 1 146 1-27 1-1 1-20 1-58 1 38 1-61 1 60 1-163 1 170 1-28 1-19 1 26 1-54 1 3 1 72 1-57 1 106 1-35 1-45 1-168 1 64 1 35 1-7 1 33 1 54 1 6 1 10 1-132 1 53 1 30 1 5 1 23 1 25 1-113 1 70 1 14 1-6 1 97 1 9 1-39 1 21 1 20 1-131 1 107 1-83 1 81 1-31 1 32 1-1 1-47 1 66 1-80 1-86 1 1 1-12 1 51 1-65 1 24 1-138 1 253 1-67 1 25 1 0 1 79 1-60 1-51 1-31 1-11 1 162 1-66 1-52 1-59 1 34 1-58 1 70 1-8 1 124 1-30 1-1 1-31 1-80 1 78 1-31 1 76 1-56 1 26 1 28 1-23 1-1 1 13 1 15 1-86 1-2 1-88 1 132 1 4 1-63 1 57 1 72 1-78 1-148 1 154 1 50 1-69 1 33 1 32 1-25 1-25 1-49 1-32 1 105 1-46 1-69 1-142 1 150 1 47 1-27 1-1 1 44 1 38 1 12 1-227 1 228 1-6 1-7 1-3 1 3 1-54 1 10 1 148 1-89 1-100 1-16 1 170 1-139 1 4 1 94 1-80 1 32 1 5 1-24 1 103 1-53 1 42 1-124 1 192 1-72 1-10 1-47 1-38 1-47 1 77 1-18 1 58 1-70 1-76 1 137 1 35 1-39 1-78 1 16 1 106 1 17 1-74 1-136 1 140 1 17 1 29 1-28 1-103 1 71 1 109 1-39 1 14 1-83 1-46 1 68 1 1 1-111 1-5 1 59 1 107 1-64 1-25 1-10 1 97 1 63 1-153 1-197 1 253 1-39 1-30 1 3 1-33 1 31 1-64 1 145 1-20 1-115 1 132 1-56 1 65 1-89 1 34 1 65 1-112"/>
<path stroke="#2a2eec" stroke-dasharray="5.25 8.66" d="M0 1921l1-73 1-37 1 19 1 13 1 9 1-12 1 44 1 2 1-83 1 40 1-103 1 43 1 59 1-22 1 75 1-48 1 45 1-100 1-99 1 88 1 53 1-6 1 11 1-33 1-25 1-30 1 15 1-6 1 37 1 103 1-37 1-24 1 12 1 79 1-15 1-117 1 55 1-70 1 11 1-7 1-11 1-29 1 86 1-4 1-11 1-60 1 114 1-103 1-18 1-15 1 102 1-107 1-36 1 146 1-86 1 25 1 63 1-49 1 20 1-1 1 85 1 29 1-5 1-42 1-41 1 52 1-10 1-121 1 1 1 18 1 105 1-28 1 4 1-33 1-5 1-47 1-11 1 72 1 12 1-62 1 77 1-88 1-115 1 145 1-60 1 172 1-129 1 68 1 45 1 23 1-15 1-9 1-102 1-28 1 90 1 30 1 36 1-77 1-56 1-33 1 65 1 104 1-47 1-91 1 73 1-42 1-106 1 52 1 1 1 0 1 6 1 69 1-150 1 132 1-64 1 28 1 1 1 28 1-41 1 42 1 23 1 16 1-35 1 41 1-5 1 9 1-67 1-115 1 186 1-28 1-29 1-10 1 112 1-105 1-50 1 97 1 5 1-160 1-63 1 70 1 115 1 30 1-53 1-2 1 87 1-70 1-55 1 76 1-53 1-30 1 35 1-52 1 44 1 15 1-67 1 41 1 22 1 23 1 24 1 71 1-96 1-21 1 89 1 27 1-57 1-82 1 80 1-115 1 69 1-87 1 44 1-19 1 83 1-33 1 39 1-18 1-57 1-48 1 142 1-43 1-6 1-52 1-21 1 76 1 59 1-44 1-106 1 43 1-11 1 70 1-124 1 132 1-25 1 20 1 47 1-72 1-27 1 48 1-37 1 34 1-75 1 44 1 100 1-110 1 75 1 19 1-4 1-1 1-51 1 75 1-84 1 79 1-111 1 155 1-35 1-44 1-2 1 56 1-14 1-25 1-42 1-14 1-19 1-19 1 7 1 34 1-86 1-4 1 104 1 57 1-62 1-50 1 160 1-105 1 5 1-9 1-53 1 81 1-13 1 44 1-38 1 57 1-41 1-15 1-67 1 26 1-50 1 84 1-154 1 87 1 96 1 19 1-125 1-54 1 75 1 72 1 22 1-38 1-112 1 118 1-85 1 1 1 101 1-37 1-58 1 26 1 15 1 60 1-274 1 50 1-5 1 143 1-32 1 40 1 74 1-17 1 30 1 25 1-37 1-64 1-27 1 24 1 20 1 69 1-114 1 38 1-5 1 26 1-12 1 50 1-68 1 71 1 29 1 11 1-56 1-30 1 11 1 7 1 3 1-20 1 28 1-38 1 20 1 75 1-122 1 70 1-46 1 109 1-27 1-85 1-231 1 149 1 121 1-34 1 6 1 67 1-118 1 41 1 8 1 73 1 12 1-25 1 29 1-14 1 17 1-70 1 10 1 39 1-173 1 204 1-47 1-18 1-13 1 47 1-38 1-71 1 64 1-26 1-9 1 80 1-15 1-52 1-67 1 50 1-58 1 108 1 57 1-72 1-15 1 14 1-111 1 29 1 52 1 26 1-9 1-17 1-75 1 153 1-71 1 16 1-57 1-8 1 15 1 60 1 67 1-114 1 28 1-16 1-35 1 28 1 49 1-5 1 0 1 44 1-80 1 0 1 59 1-32 1-31 1 50 1 8 1-12 1-82 1-27 1 48 1-9 1 7 1-9 1 94 1-40 1-45 1 149 1-10 1-152 1 35 1-27 1 73 1-66 1 9 1 49 1-26 1 54 1 36 1 11 1 32 1-66 1 2 1-81 1-19 1 51 1-4 1 11 1 95 1-86 1-6 1-57 1-56 1-32 1 33 1 167 1-95 1-4 1 55 1-81 1 58 1-63 1-114 1 154 1-38 1-24 1-6 1 92 1 96 1-174 1 69 1 8 1 25 1 22 1-80 1-59 1-2 1 58 1-15 1 101 1-111 1 69 1 59 1-73 1 26 1-158 1 64 1-12 1-87 1 179 1 21 1-127 1 54 1 1 1-29 1 24 1 20 1 16 1-1 1-46 1-20 1 133 1-5 1 30 1-73 1-22 1-87 1 136 1 0 1 3 1-48 1-35 1-17 1-9 1-7 1 20 1 26 1-24 1 43 1-32 1-8 1-22 1 58 1 98 1-51 1-61 1-2 1-2 1 44 1-63 1 32 1 56 1-41 1 36 1-115 1-82 1 140 1-76 1 4 1 33 1 6 1 72 1 84 1-81 1-111 1 89 1 11 1-30 1 13 1-78 1 105 1-69 1 125 1 4 1-92 1 8 1-47 1 104 1-28 1-70 1 76 1-89 1 24 1-24 1 147 1-76 1 47 1-14 1-49 1 58 1 58 1-60 1-171 1-24 1 36 1 89 1 61 1-55 1 5 1 68 1-101 1 32 1-2 1 7 1 7 1-34 1 75 1-121 1 4 1 33 1 84 1-82 1 109 1-105 1 69 1-76 1 28 1-83 1 121 1 115 1-135 1 51 1-23 1-35 1-18 1-25 1 89 1 28 1-64 1-33 1-23 1 87 1 2 1 19 1-38 1-152 1 202 1 13 1-142 1-11 1 90 1-44 1-138 1 155 1-14 1-35 1 4 1 40 1 67 1-97 1-35 1 47 1 101 1-93 1 71 1 48 1-139 1-9 1-4 1 9 1-1 1-119 1 34 1 132 1 49 1-86 1-2 1-3 1 96 1 55 1 2 1-38 1 28 1 1 1-1 1-54 1-41 1 14 1 51 1 2 1-13 1-76 1-102 1-3 1 143 1-25 1-49 1 4 1-48 1 98 1-10 1-24 1-73 1 12 1 9 1 144 1-128 1 27 1 93 1-44 1-51 1 32 1-33 1 94 1-189 1 137 1-5 1 79 1 17 1-97 1 36 1 21 1-66 1-11 1 25 1-17 1-3 1 63 1-29 1 19 1-18 1 72 1-124 1 62 1-76 1-57 1 96 1-123 1 143 1 2 1 19 1 15 1-20 1-3 1 16 1-20 1-25 1-23 1 7 1 7 1 5 1-114 1 122 1 73 1-65 1-42 1 11 1-36 1 109 1-78 1-64 1 36 1-13 1-41 1 77 1 102 1-86 1-43 1 94 1-161 1 83 1-18 1 74 1 38 1-39 1 29 1-89 1-34 1 189 1-125 1 76 1-185 1 107 1-6 1 43 1-46 1 40 1-7 1 2 1-45 1 60 1 25 1-42 1-11 1 2 1 72 1-55 1 34 1-1 1-99 1 95 1 37 1-30 1-61 1 3 1 25 1-93 1-39 1 198 1-29 1 49 1-73 1-9 1-71 1 155 1-18 1-31 1-91 1-4 1-38 1 27 1 1 1 66 1 44 1-122 1 81 1 16 1-103 1-17 1 96 1-68 1-38 1 84 1-32 1-50 1 120 1-44 1 51 1-10 1 55 1-20 1-93 1 61 1-58 1-41 1 77 1-23 1 37 1 16 1 65 1-97 1-79 1 85 1 31 1-54 1 13 1 13 1-155 1 108 1 63 1 20 1-7 1-120 1 11 1-44 1 133 1-168 1 123 1-29 1 101 1-18 1 48 1-61 1-60 1 119 1-24 1-6 1-19 1-14 1-55 1 19 1 61 1-65 1 22 1 78 1-135 1 52 1 73 1-40 1 29 1 25 1-84 1 74 1 4 1 25 1-40 1-30 1-45 1-93 1 88 1 61 1 4 1-46 1 16 1-48 1-31 1 88 1-20 1-18 1 60 1 20 1-34 1 25 1-50 1-88 1 28 1 37 1 54 1-135 1 115 1-28 1 28 1-28 1-59 1 36 1 3 1-37 1 157 1-31 1-3 1 99 1-49 1-120 1-73 1 166 1-9 1-68 1 13 1-77 1 47 1 7 1 21 1 37 1-89 1-81 1-18 1 106 1 18 1 17 1-40 1 10 1-2 1 33 1 83 1 13 1-86 1-14 1 19 1 47 1-54 1-64 1 21 1-36 1 39 1 104 1-44 1 37 1-107 1-21 1-63 1 74 1 104 1 46 1-11 1-52 1-64 1-5 1-33 1 101 1-43 1-6 1 35 1 47 1-46 1-34 1 61 1 27 1-108 1-11 1 134 1-72 1-36 1 52 1 20 1-27 1-68 1 18 1 14 1 75 1-102 1 9 1 83 1 20 1-2 1-47 1 0 1-58 1 102 1-119 1 136 1-9 1-116 1-52 1 139 1 11 1-65 1-172 1 182 1 48 1-98 1 39 1 46 1-64 1-23 1-41 1 143 1-12 1 53 1-60 1-25 1 7 1-76 1 68 1-82 1 110 1 19 1-5 1-133 1 15 1 50 1-6 1 70 1 15 1-64 1-25 1 56 1-89 1 80 1 78 1-41 1-12 1-91 1 102 1-84 1 45 1-32 1 36 1-13 1 82 1-76 1 16 1-30 1 45 1-19 1 90 1-77 1-21 1-2 1 22 1 70 1-182 1 67 1-77 1 73 1 76 1-18 1-16 1-5 1 29 1-31 1-43 1 33 1-1 1-44 1 1 1 79 1-116 1 47 1-23 1 79 1 6 1-20 1-61 1-16 1-77 1 97 1 36 1 33 1-35 1 49 1-82 1-38 1 128 1-35 1-100 1 111 1 39 1-90 1 78 1 3 1-120 1 35 1 74 1-33 1 11 1-52 1 106 1-26 1-36 1 41 1 19 1-36 1-27 1-16 1-24 1-52 1-103 1 182 1-24 1 56 1-9 1-62 1-115 1 177 1-84 1 93 1-165 1 63 1 101 1-18 1-3 1-22 1-13 1 118 1-96 1-36 1-36 1 17 1 103 1 18 1-50 1-54 1 69 1 52 1 42 1 7 1-105 1 32 1-16 1-17 1-22 1 33 1-9 1-5 1 9 1-67 1-63 1 140 1-35 1-30 1 19 1-108 1 90 1 36 1 8 1-40 1 24 1-210 1 108 1 62 1-2 1 43 1-77 1 135 1-9 1-55 1 21 1-67 1 112 1-8 1-75 1 35 1 22 1-48 1-75 1 145 1-26 1-91 1-22 1 64 1 30 1-34 1-21 1 2 1-14 1 48 1-80 1 132 1-102 1 21 1-45 1 98 1 47 1-93 1-35 1 130 1-111 1-18 1 105 1-123 1 45 1-68 1-121 1 96 1 99 1-86 1 64 1-30 1 49 1 29 1 15 1-42 1 4 1-81 1-146 1 246 1 99 1 21 1-65 1-191 1 144 1-13 1 28 1-69 1 30 1 28 1-5 1 77 1-33 1-35 1-86 1 72 1 67 1-86 1-4 1 21 1 99 1-12 1-118 1 51 1-68 1 65 1-65 1-55 1 87 1 18 1-39 1 65 1 24 1-96 1 82 1 4 1-134 1 42 1 78 1-55 1 57 1-28 1-25 1-9 1 78 1-9 1-73 1-121 1 154 1-12 1 81 1-65 1-38 1-34 1 67 1 15 1 105 1-25 1-102 1 40 1-21 1 25 1-23 1 67 1-43 1-25 1-2 1-132 1 132 1 1 1 2 1-82 1 30 1 104 1-73 1 8 1-89 1 155 1-106 1 81 1-26 1 2 1-26 1-23 1-12 1 41 1 27 1-3 1-6 1 24 1-57 1 99 1-89 1 60 1-57 1-61 1 0 1-26 1 95 1-40 1 2 1 60 1 47 1 2 1-119 1 55 1-59 1 32 1-20 1 79 1 18 1 22 1-24 1-86 1 56 1 15 1-18 1-6 1-20 1 47 1-20 1 89 1-110 1-61 1 82 1-37 1 23 1 46 1-36 1 19 1 11 1 16 1-5 1-134 1 17 1 34 1 30 1 6 1 47 1 37 1 18 1-14 1-31 1 2 1 13 1-96 1 48 1-77 1 91 1-95 1 0 1-13 1-55 1 79 1 61 1-61 1-130 1 136 1 35 1-93 1 49 1 90 1-15 1-66 1 41 1 27 1-81 1-25 1-47 1 162 1 2 1-38 1-113 1 31 1 65 1 18 1-50 1 81 1-58 1-8 1-57 1 53 1 54 1 66 1-54 1-196 1 56 1 100 1 50 1-14 1-9 1-14 1-71 1-79 1 116 1 83 1-52 1 31 1-20 1 78 1-112 1 11 1-121 1 56 1 120 1 16 1 2 1-27 1-87 1 77 1 9 1-136 1 117 1-72 1 22 1 25 1 62 1-61 1 85 1 17 1-123 1 11 1-6 1-131 1 61 1 70 1 57 1-74 1-18 1-63 1 82 1 0 1-12 1 29 1 49 1-53 1-18 1-36 1-5 1-20 1 59 1-19 1-40 1 100 1-33 1-6 1 84 1-34 1-26 1 16 1 68 1-39 1 40 1 6 1-42 1-23 1 22 1 43 1-69 1-21 1 36 1-88 1 17 1 66 1-89 1 8 1 57 1 62 1-5 1-65 1 22 1 12 1 37 1-37 1 18 1-51 1-65 1-36 1 47 1 0 1 61 1-5 1 77 1-38 1 40 1-49 1-31 1-22 1-11 1 35 1 53 1-1 1-38 1 51 1-61 1-6 1-37 1 12 1 70 1 6 1 39 1-38 1 33 1-40 1-66 1 32 1-3 1-136 1 177 1-92 1 19 1-126 1 126 1 160 1-100 1-53 1 36 1-27 1-146 1 82 1 108 1 11 1-23 1 12 1-17 1 13 1-40 1 50 1-112 1 66 1 39 1 25 1-20 1-129 1 47 1-30 1 86 1-25 1 86 1-129 1 48 1-103 1 101 1-9 1 20 1-93 1 41 1 19 1 13 1 8 1-2 1-35 1 140 1-99 1 39 1-27 1-19 1 62 1-20 1 46 1-154 1 104 1-47 1-12 1-27 1 33 1 68 1-56 1 54 1 47 1-27 1-36 1-62 1 109 1 0 1-47 1 0 1-98 1 52 1 88 1-105 1 44 1 36 1 63 1-14 1-28 1-48 1-12 1-95 1 9 1 53 1-11 1 34 1 47 1-43 1 54 1-64 1 33 1 3 1-55 1 35 1 67 1 13 1-130 1 32 1 11 1 20 1 60 1-39 1-58 1 41 1-16 1 31 1-17 1-98 1 42 1-98 1 171 1 96 1-99 1 23 1 0 1-30 1-29 1 37 1-13 1-94 1-85 1 137 1 131 1 26 1-46 1-58 1 46 1-44 1-75 1 24 1-81 1 95 1 9 1 60 1-52 1-42 1 53 1 16 1-44 1 21 1 64 1-156 1 86 1 27 1 15 1-12 1 49 1 16 1 2 1-127 1 4 1 9 1-19 1 42 1-61 1 29 1 84 1 91 1-81 1-37 1-7 1-65 1 73 1-26 1 9 1-39 1 5 1 60 1 8 1-71 1 37 1 71 1-73 1 48 1 24 1-51 1-13 1-67 1 104 1 3 1-94 1-133 1 123 1 38 1 9 1 35 1 11 1-80 1-6 1 100 1-105 1 43 1 66 1-33 1-136 1 82 1-10 1-53 1 61 1 81 1-66 1-23 1 30 1-5 1 68 1-11 1-42 1 100 1-321 1 136 1 90 1 43 1-1 1-8 1-64 1-10 1-31 1 22 1 47 1 4 1 80 1-141 1 22 1 72 1-65 1-112 1 101 1-29 1-28 1-106 1 84 1-10 1 74 1-41 1 63 1-9 1 96 1-67 1 24 1-4 1-8 1 20 1-75 1 78 1-148 1 13 1 141 1 82 1-125 1 41 1-3 1-130 1 19 1 125 1-57 1 69 1-120 1 136 1 29 1-75 1-56 1 95 1-77 1-43 1 25 1 33 1-32 1 66 1-61 1-77 1 35 1 103 1 7 1 11 1-5 1-215 1 84 1 66 1 36 1 34 1 10 1-87 1 76 1-68 1-19 1 90 1-19 1-102 1 57 1 4 1-78 1 9 1 17 1 63 1 89 1-29 1-45 1 62 1-141 1 76 1 41 1 25 1-134 1-8 1 88 1-69 1 30 1-16 1 14 1 0 1 48 1-48 1-21 1 80 1-116 1 20 1-40 1 30 1 74 1 23 1-60 1 4 1-31 1 10 1 9 1-21 1 4 1 181 1-251 1 146 1 2 1-29 1 11 1 70 1-64 1-53 1-44 1 59 1-43 1-16 1 41 1 50 1-234 1 195 1-59 1-123 1 170 1 54 1-39 1-58 1 84 1-42 1 33 1 29 1-31 1 75 1-132 1 108 1-98 1 31 1 7 1-39 1 128 1-39 1-1 1-43 1 20 1-112 1 93 1 43 1-24 1 68 1-22 1-71 1-86 1 40 1 90 1 55 1-67 1-122 1 102 1 27 1-112 1 74 1-78 1 19 1 41 1-49 1-70 1 172 1 54 1-172 1-42 1 126 1-16 1 65 1-33 1-11 1 53 1-88 1 85 1-77 1-102 1 106 1-84 1 14 1 71 1-55 1-19 1 73 1 17 1 21 1 21 1-63 1 67 1-76 1-74 1 70 1 81 1-39 1-115 1-118 1 167 1 32 1 8 1-15 1 70 1-18 1 46 1-42 1-8 1 10 1 48 1 9 1 5 1-172 1 88 1-54 1 60 1 70 1-44 1 12 1-63 1-8 1 27 1-63 1 82 1 42 1 5 1-236 1 179 1 61 1-88 1-24 1 67 1 62 1 43 1-65 1 20 1-36 1-131 1 115 1 74 1-4 1-133 1 25 1-52 1 3 1-68 1 107 1 28 1 105 1-109 1-4 1 69 1-30 1-40 1-12 1 15 1-3 1 41 1-127 1-44 1 185 1-56 1 9 1 56 1 2 1-110 1-31 1 58 1-2 1 12 1 5 1 99 1-117 1 71 1-175 1 166 1 15 1-55 1-54 1 91 1-45 1 18 1-123 1 53 1 28 1 11 1-33 1 57 1-96 1 60 1 109 1-6 1-95 1 85 1-18 1-167 1 111 1-131 1 64"/>
<path stroke="#2a2eec" stroke-dasharray="33.61 8.40 5.25 8.40" d="M0 1785l1 10 1 56 1 23 1-61 1 58 1-55 1-5 1-130 1 71 1 47 1-68 1 12 1 54 1-15 1-99 1 79 1 8 1 100 1-141 1 0 1 130 1-87 1 64 1 31 1-3 1 26 1 9 1-12 1-93 1 47 1-40 1-5 1 19 1-33 1 56 1-30 1 12 1 91 1-88 1 60 1-34 1-32 1 80 1-46 1-112 1 74 1 29 1-95 1 53 1 5 1 5 1 39 1-15 1-65 1 111 1-161 1 65 1 45 1-58 1 93 1-27 1-27 1 2 1-53 1 120 1-28 1-71 1 78 1-9 1 10 1-25 1 22 1 28 1-43 1-18 1 25 1 12 1-6 1-76 1 64 1-53 1-13 1-30 1 38 1 15 1-11 1-37 1 90 1-7 1 66 1-64 1 7 1-66 1 81 1-142 1-73 1 230 1-80 1 67 1-56 1 100 1-38 1-87 1-16 1 68 1-11 1-55 1-91 1 26 1 129 1 27 1-17 1-27 1 99 1-19 1-36 1 18 1 65 1-43 1-100 1-52 1 126 1-51 1 17 1-20 1-89 1 74 1 55 1-4 1 12 1 59 1-95 1 47 1-91 1-39 1 72 1 24 1 7 1 2 1 38 1-1 1 70 1-110 1-77 1 69 1 1 1-24 1 23 1-16 1 71 1-63 1-3 1-13 1 77 1 3 1-100 1 75 1 16 1-79 1 3 1 56 1-46 1-19 1-87 1 10 1 99 1-5 1 64 1-30 1-60 1 44 1 0 1-59 1-170 1 103 1 20 1 65 1-43 1 101 1 8 1 43 1-136 1 29 1 8 1 0 1 8 1 16 1-16 1 72 1 47 1-23 1-29 1-96 1-45 1 63 1-102 1 62 1 59 1 76 1-69 1-45 1 47 1 16 1 17 1-133 1 72 1 12 1 14 1 9 1-6 1-115 1-4 1-3 1 117 1-19 1 91 1-95 1-12 1-87 1 62 1-48 1 91 1 8 1 91 1-31 1-28 1 40 1-70 1-96 1 101 1 34 1-100 1 7 1 70 1-40 1 57 1 74 1-42 1-84 1-6 1 2 1 64 1 35 1-92 1 1 1-109 1 177 1-99 1-13 1 37 1 123 1 37 1-121 1-60 1-2 1 80 1 9 1-27 1 76 1-53 1-26 1-39 1 95 1-99 1 35 1 1 1 61 1 4 1-59 1 49 1-38 1-16 1 28 1 47 1-114 1-69 1-33 1 145 1 18 1 26 1-18 1-3 1-5 1-33 1 25 1-34 1 173 1-126 1 90 1-192 1 154 1-26 1-22 1-111 1 148 1 10 1-73 1 84 1-171 1 11 1 152 1-81 1-1 1 70 1-86 1 46 1-61 1 37 1-93 1 17 1 48 1 47 1 43 1-49 1-49 1 3 1 55 1 6 1-51 1-10 1-109 1 203 1-14 1 8 1-61 1-90 1 149 1-18 1-78 1 58 1-54 1 97 1-138 1 6 1 85 1-127 1-88 1 122 1 29 1 38 1 62 1-100 1 39 1-23 1 42 1-2 1-33 1-39 1 12 1 56 1-95 1 27 1-3 1-14 1 6 1 87 1-2 1 52 1-109 1 108 1-63 1 15 1 1 1 10 1-72 1 20 1 36 1 2 1 10 1-135 1 95 1-22 1 24 1-36 1 21 1 64 1-49 1-83 1-20 1 147 1-98 1-13 1 50 1-36 1 81 1-54 1 92 1-75 1-46 1 93 1 36 1-47 1 70 1-89 1-14 1-177 1 151 1 105 1-67 1 7 1-72 1 82 1-10 1 9 1-7 1 22 1-74 1 6 1 64 1-59 1-25 1 72 1 34 1-21 1-55 1 14 1 14 1 88 1-33 1-33 1-50 1 24 1 46 1 5 1-57 1 16 1 144 1-40 1-24 1-84 1-4 1-8 1 14 1 53 1 22 1-61 1-33 1-105 1 119 1 10 1 2 1-160 1 84 1-3 1 60 1 21 1-60 1 152 1-37 1-79 1 9 1 98 1-45 1-33 1 22 1-87 1 65 1-24 1 77 1-54 1-69 1-14 1 136 1-43 1 20 1-5 1 15 1 3 1-46 1-104 1 71 1-102 1 131 1 80 1-28 1-47 1 39 1 31 1-148 1-34 1 10 1 42 1 27 1 53 1-2 1-27 1 57 1-34 1-24 1 22 1-3 1 0 1-84 1 105 1 37 1-17 1-82 1 6 1 98 1-3 1-122 1 139 1-78 1-134 1 183 1-65 1 72 1-27 1 7 1 75 1-52 1-64 1 8 1-119 1 160 1 5 1 50 1 1 1-127 1-65 1-4 1 58 1 16 1-101 1-12 1 109 1-54 1 50 1-92 1 38 1 51 1 77 1-21 1-31 1-3 1 14 1 44 1-29 1-14 1-84 1 41 1-17 1 76 1 22 1 18 1-12 1-72 1-93 1 105 1-150 1 99 1-16 1 138 1-63 1-37 1-62 1 94 1 4 1 4 1 56 1-126 1 20 1-144 1 127 1-12 1 122 1-3 1-2 1-161 1 80 1 94 1-47 1 56 1-150 1 78 1 47 1-7 1-115 1 78 1-77 1 57 1 11 1-58 1 80 1-45 1 51 1 68 1-50 1-1 1 16 1-31 1 1 1-75 1 33 1 80 1-20 1-23 1-55 1-10 1 85 1-115 1 10 1 37 1 48 1 96 1-184 1-32 1 2 1 124 1 42 1-23 1-17 1 53 1-36 1-103 1 153 1-89 1-36 1 52 1-5 1 7 1-12 1-68 1 109 1-232 1 36 1 84 1 3 1 30 1-74 1-37 1 156 1-55 1-52 1 89 1-36 1 5 1 19 1 14 1-68 1 99 1-74 1-32 1 29 1 75 1 45 1 1 1-37 1-60 1 137 1-152 1 77 1-60 1 66 1 8 1-63 1 71 1-154 1 116 1 46 1-90 1-45 1 112 1-60 1 98 1-133 1 64 1 59 1-92 1 11 1-17 1 75 1-106 1 26 1 90 1-26 1 42 1 21 1-132 1-56 1-27 1 188 1-16 1-48 1 100 1 21 1-160 1 36 1 26 1 59 1-166 1 103 1 51 1-153 1 77 1 107 1-93 1-23 1 71 1-35 1-86 1-40 1 25 1 109 1-75 1 7 1 120 1-44 1 25 1-54 1 53 1-117 1 82 1 8 1 17 1-114 1 88 1 77 1-20 1-96 1-20 1-164 1 145 1 27 1 45 1-25 1-2 1-15 1 112 1-138 1 42 1 34 1 21 1-39 1-48 1-34 1 36 1-80 1 190 1-50 1-62 1-12 1 26 1 72 1-3 1-58 1 46 1-65 1 78 1-16 1 58 1-24 1-76 1 20 1 49 1-176 1 115 1-23 1-64 1 125 1-9 1-3 1-57 1 4 1 59 1 39 1 18 1-87 1-57 1 52 1 23 1-67 1 89 1 11 1-156 1 39 1 47 1 128 1-99 1 38 1-82 1-16 1 38 1-27 1-61 1-6 1 83 1-9 1 39 1-5 1 58 1-121 1 38 1-22 1 88 1 66 1-27 1-77 1-38 1-85 1 66 1 35 1-53 1 29 1-16 1-56 1 168 1-107 1 144 1-44 1-6 1-36 1-105 1 77 1 7 1-22 1 80 1 44 1-90 1-32 1 1 1 25 1 55 1-89 1 59 1-95 1 93 1 0 1 9 1-134 1 70 1-57 1 85 1-128 1 61 1-25 1 22 1 99 1-112 1 23 1-106 1 209 1 21 1-107 1-16 1 154 1-33 1 0 1-68 1-62 1-3 1 62 1-1 1 2 1 67 1-82 1 12 1 126 1-76 1-69 1-83 1 67 1-12 1 51 1-28 1-11 1 16 1 43 1 13 1-147 1 5 1-21 1 77 1-2 1 143 1-41 1-66 1 36 1-26 1 88 1-10 1-117 1 160 1-98 1-30 1-18 1-75 1-20 1 101 1 14 1 45 1 26 1 40 1-21 1-124 1-42 1 16 1 29 1 60 1-1 1 71 1-76 1-8 1-8 1 43 1 11 1 5 1-98 1-6 1 54 1-64 1-19 1-32 1 142 1-66 1 8 1 33 1 65 1-30 1 10 1-90 1-131 1 225 1-16 1-48 1 90 1-20 1-82 1 113 1-133 1-13 1 54 1 13 1 16 1 34 1-40 1-51 1-16 1 19 1 103 1-5 1-111 1 12 1-5 1-86 1 163 1-80 1-27 1 112 1 71 1-12 1-58 1 67 1 10 1-59 1 11 1-60 1 49 1-20 1-36 1 50 1-29 1-27 1-23 1 43 1 46 1-3 1-55 1 55 1-34 1-3 1-31 1-33 1-22 1 98 1-13 1-32 1 31 1-21 1 107 1-176 1 55 1-67 1 70 1-34 1-3 1-42 1 117 1-46 1 93 1-2 1 16 1-57 1-123 1 146 1-115 1 35 1 49 1 30 1-91 1 7 1-30 1 60 1 103 1 22 1-102 1 38 1-51 1 27 1 8 1 79 1-147 1 129 1-31 1-82 1 127 1-84 1-79 1-96 1 127 1-20 1 78 1-102 1 40 1 83 1-20 1-61 1 17 1-99 1 85 1 39 1-82 1 50 1 59 1-126 1 76 1-51 1 30 1-253 1 207 1 34 1 12 1 47 1-131 1 68 1 31 1-48 1 139 1-60 1-43 1-89 1 48 1 88 1-38 1-37 1 49 1 82 1-39 1-24 1-55 1 79 1 49 1-42 1 11 1-107 1-113 1 175 1-93 1 120 1 74 1-52 1-70 1-20 1-4 1 16 1 14 1-5 1 68 1-81 1-89 1 43 1 19 1-44 1 20 1-4 1 91 1 7 1 38 1-22 1 36 1-66 1 9 1 2 1-102 1 21 1 14 1 33 1-24 1 14 1-178 1 123 1 90 1 48 1-111 1 5 1-70 1 70 1 31 1 69 1-31 1-49 1 79 1-68 1 32 1 41 1-86 1 73 1-31 1-58 1-61 1-24 1 101 1-48 1 70 1-10 1-86 1 44 1 93 1 3 1 42 1-12 1-195 1 56 1 46 1 25 1-97 1 17 1 28 1 73 1-20 1-79 1 47 1 53 1-65 1-13 1 67 1 6 1-77 1-52 1 130 1-60 1 89 1-106 1-14 1 40 1 37 1 39 1 29 1-75 1 9 1-32 1-64 1 74 1-3 1 79 1-145 1 18 1 25 1-13 1 116 1-20 1-27 1-44 1 53 1-40 1-7 1 71 1-65 1 18 1 0 1-10 1 51 1-62 1-21 1 71 1 3 1 19 1-194 1 79 1 82 1 53 1-43 1-53 1 63 1-43 1 40 1 37 1-77 1 111 1-146 1 104 1-42 1-45 1-16 1 13 1 64 1-117 1 153 1-103 1 3 1-76 1 38 1-34 1 159 1-139 1-21 1 122 1 15 1-121 1 59 1 1 1-5 1-72 1 130 1-72 1 73 1 12 1 24 1 23 1-134 1-70 1 55 1-141 1 222 1 48 1-91 1-65 1 144 1-10 1-36 1 37 1-37 1 105 1-18 1-117 1-23 1-51 1 2 1 154 1-48 1-43 1 80 1-34 1 29 1 55 1-118 1-4 1-53 1-64 1 69 1-2 1-2 1 124 1-148 1 106 1 24 1 58 1-119 1 16 1-96 1 94 1 28 1 64 1-126 1 28 1-32 1 115 1 25 1-87 1 35 1-5 1 34 1-43 1 7 1-30 1 58 1-185 1 105 1-70 1 0 1 109 1-59 1 121 1 44 1-37 1-57 1-111 1 73 1-60 1 4 1 103 1-76 1-54 1-9 1 102 1-3 1 2 1 66 1 46 1-43 1-86 1 85 1-94 1 79 1-82 1 71 1-53 1 53 1-42 1-3 1 29 1 8 1-34 1-36 1 39 1-34 1 17 1-67 1 160 1-22 1-18 1 14 1 13 1-6 1-39 1-10 1 4 1-27 1 27 1 39 1-88 1-91 1 28 1 105 1 17 1-148 1 178 1-106 1 14 1 65 1 41 1-126 1 0 1 16 1 43 1 33 1-31 1 27 1-16 1 28 1-2 1-100 1 54 1 96 1 16 1-67 1-13 1 77 1-106 1-191 1 162 1 90 1-127 1-11 1 118 1 19 1-44 1 11 1-58 1 51 1-40 1-72 1 29 1-7 1 38 1-75 1 2 1 147 1-107 1 90 1-110 1 103 1-3 1 4 1-3 1 15 1 82 1-73 1-148 1 22 1 91 1-66 1-114 1 180 1 53 1-90 1 33 1-31 1 64 1-78 1 93 1-2 1-21 1-15 1 29 1-16 1 14 1-59 1 55 1-40 1-95 1 20 1 18 1 78 1 72 1-38 1 7 1-20 1-65 1 89 1 13 1-32 1-62 1 37 1 96 1-47 1-85 1 46 1-104 1 45 1 11 1 56 1-174 1 146 1 10 1-21 1 56 1-75 1-21 1 35 1 26 1-69 1-98 1 38 1 86 1 87 1-52 1 78 1-179 1 87 1-37 1 57 1 31 1-169 1 25 1 119 1-19 1-39 1 91 1-89 1-14 1 95 1-74 1 52 1 4 1-9 1-32 1-81 1-43 1 100 1 46 1-7 1 17 1-170 1 23 1 212 1-38 1-21 1-97 1 55 1-63 1-50 1 34 1 60 1 33 1-83 1 84 1 25 1-66 1 30 1-38 1 15 1 65 1-23 1 38 1-151 1 126 1-47 1 78 1-105 1 0 1 102 1-82 1-174 1 97 1 141 1-118 1 129 1 4 1 32 1 2 1 29 1-34 1-66 1-195 1 118 1 26 1-2 1-22 1 167 1-54 1-118 1 176 1-59 1-54 1-68 1 106 1 63 1-93 1 1 1 34 1-94 1 130 1-74 1-75 1-132 1 139 1 3 1 7 1-69 1 169 1-25 1 43 1-7 1-46 1-45 1-9 1 120 1 29 1-61 1-46 1 64 1-45 1 11 1-8 1-39 1 65 1-56 1 41 1 45 1 6 1-49 1-11 1 15 1-62 1 32 1 106 1-23 1-69 1-33 1 73 1-84 1-69 1 44 1 102 1-5 1 2 1-22 1-74 1-3 1-69 1 90 1 1 1-1 1-34 1 44 1 49 1 23 1-161 1 149 1 55 1-159 1 6 1 3 1-28 1 94 1 47 1-67 1 20 1-24 1-25 1 34 1-43 1 121 1-65 1-55 1 18 1 27 1-29 1 40 1-8 1 14 1-148 1 176 1-10 1 3 1-50 1 94 1-25 1 53 1-66 1 52 1-32 1-129 1 127 1-48 1-116 1 9 1 149 1-93 1-2 1 1 1 112 1-137 1 57 1 83 1-32 1-34 1-84 1 36 1 54 1-21 1-41 1 33 1-1 1 50 1 34 1-38 1-69 1 14 1-26 1-54 1 59 1-22 1 21 1 66 1-114 1-16 1 143 1-25 1-32 1 85 1-10 1-56 1 1 1 70 1-29 1-36 1-27 1-4 1 22 1 10 1-105 1 88 1 35 1 18 1-6 1 8 1-71 1 17 1 94 1-45 1 11 1-37 1 7 1-20 1 51 1-56 1-89 1-123 1 160 1 42 1 44 1-34 1 83 1 9 1-175 1-168 1 180 1 57 1 10 1-114 1 162 1 10 1-21 1-127 1-24 1 90 1 33 1 18 1 12 1-26 1 69 1-16 1 15 1-81 1 49 1-37 1-65 1 63 1 85 1-16 1 61 1-220 1 22 1-6 1 148 1-7 1 5 1 36 1-137 1-102 1 81 1-44 1 16 1 132 1-23 1 41 1-22 1-96 1 62 1-50 1 41 1-92 1 12 1-5 1 32 1 41 1-44 1 104 1 91 1-122 1 2 1 16 1 24 1-84 1 21 1 67 1-165 1-1 1 195 1 1 1-69 1-38 1 61 1-166 1 5 1 64 1 11 1 32 1 31 1-99 1 128 1-90 1-10 1 3 1 3 1 75 1-1 1 29 1-34 1 31 1-12 1 8 1 55 1-15 1-21 1-69 1 26 1-34 1 36 1-14 1-16 1 50 1 33 1-33 1-15 1-61 1-5 1 107 1-9 1-76 1 36 1 16 1-53 1 32 1-25 1 76 1-44 1 68 1-40 1-32 1-1 1 14 1 5 1 42 1-63 1-13 1 95 1-70 1 60 1-54 1-101 1 148 1-198 1 31 1 60 1-77 1 90 1-66 1 98 1 52 1 5 1-34 1 23 1 21 1-61 1 5 1-104 1 57 1-58 1 5 1 70 1 53 1-33 1-22 1-53 1-133 1 127 1 74 1 7 1-112 1 67 1 60 1-5 1-32 1-1 1-21 1-49 1 128 1-84 1 4 1 46 1-90 1-70 1 55 1 134 1-90 1-2 1 9 1 45 1-31 1 20 1-131 1-45 1 225 1-95 1 43 1-3 1 26 1 0 1-100 1 108 1-42 1-153 1 220 1-5 1-27 1-62 1-61 1 12 1 67 1 6 1-38 1 30 1-4 1 80 1-31 1-166 1 13 1 54 1-51 1 82 1 113 1-68 1-20 1 107 1-80 1-40 1-184 1 134 1-59 1-51 1 44 1 105 1-40 1 7 1 114 1-45 1 82 1 21 1-57 1-7 1-12 1-26 1-32 1 87 1-18 1-94 1-39 1-42 1-68 1 223 1 5 1-3 1 27 1-20 1-22 1 95 1-52 1 22 1 30 1 18 1-182 1 86 1-13 1-38 1 66 1-32 1 11 1 28 1-8 1-2 1-58 1 17 1 10 1-89 1-29 1 67 1 78 1-102 1 24 1 22 1 79 1-41 1 31 1-83 1 64 1-53 1-82 1 136 1 82 1-110 1 34 1 25 1 38 1-6 1-4 1-45 1 56 1 5 1-83 1-20 1 43 1-101 1 12 1 62 1 41 1-18"/>
<path stroke="#fa7c17" stroke-linecap="round" d="M0 1880l1 49 1-143 1-22 1 4 1 35 1 29 1 36 1-11 1 17 1 3 1-46 1 19 1 29 1 34 1-46 1 90 1-85 1-68 1-144 1 175 1 11 1 19 1-12 1 66 1-49 1-38 1-1 1 56 1-58 1 32 1-2 1 0 1-112 1 64 1 12 1-32 1 64 1-23 1 52 1 16 1-37 1-1 1 36 1-35 1-14 1 85 1-83 1-24 1-63 1 139 1-53 1-37 1 95 1-11 1-9 1 31 1-112 1-49 1 30 1 144 1-19 1-99 1 1 1 157 1-168 1 6 1 60 1 3 1 23 1-32 1-33 1-40 1 14 1-41 1 100 1-162 1 65 1 58 1 22 1-53 1 90 1-54 1 88 1-133 1-33 1 115 1-90 1 59 1 52 1-109 1 91 1-80 1-44 1 112 1 59 1-25 1 52 1-48 1-39 1-2 1 6 1 32 1-20 1-61 1-11 1 9 1 105 1-82 1 91 1-90 1 6 1 35 1 35 1-84 1 65 1-8 1-48 1 34 1-52 1 38 1-40 1-7 1 25 1 8 1-102 1 113 1 60 1-101 1 56 1 45 1-54 1-66 1-27 1 26 1 1 1 80 1-45 1-5 1 14 1-32 1 122 1-2 1 40 1-170 1 0 1 34 1-20 1 54 1 3 1 48 1-36 1 12 1-66 1 49 1-18 1 14 1-16 1 26 1 56 1-106 1-10 1-43 1 11 1-26 1 4 1 52 1-78 1 77 1 93 1 15 1-68 1-48 1 57 1 38 1-28 1-59 1 43 1 34 1-62 1-23 1-40 1 106 1-88 1-29 1-1 1 71 1-2 1 76 1-84 1-72 1 89 1 80 1-130 1 30 1-17 1-2 1 78 1-27 1 31 1 2 1-104 1 107 1-72 1 30 1 8 1-39 1 54 1 22 1 15 1-54 1-24 1 51 1-9 1-72 1 90 1-20 1 36 1-4 1-4 1-31 1-18 1 32 1-74 1 40 1 33 1-18 1 71 1-8 1-59 1-100 1-94 1 101 1 71 1-7 1-11 1-14 1-85 1 183 1-13 1-32 1 50 1-66 1 50 1-63 1 52 1 98 1-119 1 4 1-3 1 21 1-69 1 2 1 1 1-31 1 155 1-124 1 128 1-85 1-38 1-43 1-30 1 64 1 72 1-100 1-18 1 9 1 110 1-92 1 28 1-3 1 28 1 16 1-44 1 6 1 48 1-22 1-25 1-11 1 31 1 48 1-54 1 37 1-15 1-35 1-1 1 11 1 26 1-93 1 49 1-30 1 70 1-36 1 38 1-44 1 51 1-34 1 14 1-122 1-39 1 89 1-15 1 86 1 114 1-61 1-17 1-42 1 8 1-14 1 20 1-117 1-1 1 25 1 68 1 72 1-28 1-16 1-33 1-15 1-98 1 61 1 50 1 42 1 8 1 3 1 1 1-29 1 64 1-102 1 111 1-120 1 61 1 7 1-38 1-93 1 168 1 29 1-47 1-69 1 5 1 72 1-102 1-40 1 64 1 105 1-47 1-61 1-61 1-27 1 134 1 12 1 21 1-80 1-2 1-11 1 3 1 11 1 89 1-35 1 17 1-37 1-29 1 33 1 79 1-80 1-111 1 97 1 46 1-48 1-19 1-33 1-112 1 108 1 15 1-36 1 43 1-56 1 107 1 70 1-36 1 17 1-66 1-156 1-7 1 93 1 57 1-157 1 166 1 16 1-51 1 46 1-20 1 35 1-58 1-82 1 106 1 57 1-6 1-53 1-102 1 107 1 70 1-13 1-87 1 4 1 9 1 116 1-61 1 56 1-161 1-20 1 1 1-17 1 79 1 36 1-19 1 2 1 68 1 53 1-60 1-54 1-77 1 8 1-79 1 85 1 101 1-78 1 38 1-90 1 46 1 36 1 89 1-188 1-18 1 145 1 25 1 1 1-124 1 185 1 2 1-47 1 45 1-64 1-27 1 11 1-17 1-1 1 16 1-62 1 91 1 59 1-128 1-51 1-94 1 157 1 56 1-57 1-9 1-69 1 18 1 71 1 145 1-82 1-128 1 64 1 8 1 32 1-49 1-36 1 69 1-28 1 103 1-101 1-7 1 10 1 173 1-176 1 50 1-42 1-59 1-96 1 102 1 95 1-52 1-56 1-66 1 69 1-10 1 83 1-64 1-100 1 115 1-21 1 51 1 69 1-18 1 41 1-63 1-17 1-76 1-56 1 81 1 7 1 86 1-132 1 116 1 8 1-12 1-33 1-61 1 75 1-87 1 49 1 34 1 30 1-73 1 4 1 19 1 25 1-21 1-130 1 70 1 1 1 18 1 42 1 7 1-36 1 46 1 11 1-15 1-22 1 94 1-57 1-101 1 26 1 49 1 86 1-13 1-28 1-28 1 7 1-35 1-178 1 45 1 71 1 81 1 31 1-9 1-68 1 27 1-142 1 163 1 69 1-34 1-43 1 39 1-49 1-7 1 84 1-67 1 43 1-69 1-92 1 51 1 143 1 42 1-119 1-3 1 31 1 48 1-144 1 114 1-19 1-32 1 61 1-93 1 8 1-1 1 6 1 45 1 61 1-91 1-22 1 17 1-97 1 43 1 69 1 75 1-27 1-20 1-96 1-16 1 13 1 48 1 75 1-78 1-26 1 85 1-14 1-39 1 35 1 14 1-25 1-25 1 49 1-14 1 59 1 33 1-167 1 63 1 29 1-18 1-31 1-99 1 48 1-19 1 55 1 38 1 12 1-21 1-17 1 3 1 49 1-34 1 37 1-75 1 54 1-15 1 32 1 38 1-91 1-81 1 28 1 71 1-31 1-36 1 133 1-97 1 92 1 9 1-6 1-36 1 14 1-28 1-113 1 145 1-39 1 55 1-143 1 92 1-62 1 56 1 36 1-115 1 100 1 30 1-53 1 1 1-20 1 93 1-100 1 42 1-21 1 82 1-4 1-64 1 87 1-28 1-54 1 75 1-9 1 12 1-37 1-103 1 122 1-65 1 32 1 41 1-3 1-34 1 10 1 37 1 6 1-126 1-73 1 51 1 71 1-22 1-57 1 18 1-57 1 100 1 30 1-1 1-27 1-104 1 48 1 110 1-113 1 35 1-9 1-32 1 2 1 179 1-102 1 15 1-8 1-39 1-43 1 123 1-51 1 17 1-74 1 155 1-65 1-51 1 81 1-36 1-36 1 105 1-215 1 100 1-37 1 75 1 10 1-39 1 125 1-31 1-60 1-65 1-99 1 257 1-73 1-5 1-32 1 15 1-105 1 102 1-70 1 11 1 27 1-27 1 102 1-137 1 72 1-41 1 4 1-23 1 31 1 35 1 74 1 35 1-92 1-16 1-87 1 163 1-66 1 35 1-20 1-65 1-62 1 81 1 33 1-38 1 67 1-39 1-39 1 38 1-21 1 36 1-46 1 17 1-24 1-53 1 107 1-41 1-35 1-17 1-3 1 77 1-111 1 67 1 37 1-46 1 93 1-67 1 9 1 94 1-49 1-77 1-103 1 43 1 88 1-45 1 43 1-60 1 63 1 24 1-9 1-91 1 139 1 9 1-57 1 39 1-23 1 76 1-124 1 18 1-14 1 85 1-83 1-12 1 36 1-42 1 71 1 100 1-71 1-170 1 130 1 4 1 15 1-33 1-21 1 25 1-12 1 13 1-16 1-50 1 58 1-47 1 64 1-106 1 101 1 3 1-43 1-14 1-79 1 168 1-42 1-27 1-3 1 55 1 95 1 20 1-231 1-98 1 222 1-38 1 17 1-47 1-12 1 37 1-44 1 103 1-7 1-77 1-91 1 193 1-54 1 6 1-25 1-84 1 77 1 69 1-42 1 58 1-115 1 83 1-5 1-8 1-48 1-23 1-17 1 38 1 40 1-13 1-60 1 43 1 15 1-18 1-30 1 67 1-20 1-59 1 158 1-124 1-32 1 74 1 14 1-36 1 24 1-101 1 12 1 147 1-144 1 59 1-32 1 118 1-100 1 31 1-8 1-20 1 17 1 72 1-11 1-162 1 157 1 13 1 25 1-73 1 3 1-3 1 71 1-207 1 33 1 77 1-20 1 25 1 30 1-114 1 16 1 84 1-20 1 8 1 2 1 51 1-53 1 40 1-118 1-44 1 31 1 71 1 48 1 38 1-83 1 12 1 2 1 41 1-90 1 131 1-71 1 35 1-40 1 92 1-137 1 139 1-58 1-35 1-55 1 2 1 12 1 21 1-101 1 177 1-125 1 41 1-43 1 77 1-176 1 202 1-86 1 84 1-66 1-36 1 45 1 5 1 32 1 21 1-3 1-26 1-19 1 45 1-95 1 45 1-9 1 6 1 12 1 29 1-36 1-1 1 30 1-69 1 39 1 32 1-34 1 50 1 0 1-17 1-1 1 33 1-139 1 115 1-3 1-90 1-20 1-39 1 38 1 128 1 13 1-97 1 2 1 36 1 93 1-74 1-4 1-14 1 3 1 2 1-37 1 25 1 4 1 47 1-64 1 77 1-88 1-52 1 48 1 53 1-56 1 52 1-14 1-33 1 46 1-82 1 48 1 17 1 127 1-123 1 81 1-59 1 8 1-4 1 89 1-68 1-52 1 31 1 2 1-110 1 157 1-104 1 67 1-8 1-80 1 36 1 30 1-195 1 18 1 86 1 26 1 81 1-14 1-47 1 5 1 16 1-15 1 48 1-26 1-127 1 197 1 0 1-28 1-68 1 43 1-18 1 17 1-114 1 97 1 35 1-36 1 31 1-11 1 87 1-34 1-48 1 41 1-45 1 13 1-57 1-184 1 136 1-11 1 57 1 12 1 26 1 34 1 15 1-58 1 54 1-41 1-76 1 80 1 36 1-42 1-33 1 172 1-2 1-98 1 14 1-39 1-68 1-99 1 131 1 21 1 9 1-140 1-19 1 181 1 26 1 36 1-46 1 68 1-124 1-48 1 5 1 69 1-2 1-68 1 31 1 53 1-23 1 48 1-36 1-183 1 227 1-64 1-10 1-40 1 14 1 48 1-3 1-15 1 75 1-25 1 82 1-67 1-8 1 9 1-45 1-52 1 49 1-133 1 160 1-31 1-134 1 109 1 5 1-88 1 73 1 82 1-37 1-52 1 43 1 29 1 7 1-49 1 29 1-120 1 105 1-20 1-65 1 32 1 127 1-72 1 14 1-7 1 31 1-29 1-21 1 57 1 45 1-98 1-39 1-41 1 52 1 45 1 37 1-96 1-18 1-93 1 143 1 21 1-98 1 123 1 59 1-46 1-86 1-57 1 91 1 5 1 71 1-172 1-80 1 114 1 71 1-53 1-18 1 72 1 53 1 0 1-198 1 161 1 8 1-39 1 19 1 8 1-41 1-2 1-76 1 93 1-17 1-31 1 22 1 35 1-6 1 107 1-103 1-32 1 11 1-91 1 185 1-65 1 30 1-56 1 105 1-40 1-96 1 17 1 14 1-27 1-18 1 18 1 78 1 34 1-117 1-96 1-83 1 101 1 91 1-35 1 53 1-94 1 8 1 205 1-105 1-15 1 98 1 7 1-45 1-47 1 15 1-47 1 126 1-54 1-33 1-43 1 39 1 75 1-116 1 60 1-43 1 54 1-12 1 55 1 3 1-4 1-77 1-85 1-38 1 82 1 34 1 154 1-111 1-19 1-23 1 37 1-54 1-70 1 67 1-109 1 21 1 6 1 57 1 143 1-76 1-14 1-65 1 30 1 14 1 104 1-53 1-53 1 7 1-102 1 97 1 7 1 11 1-12 1 50 1-48 1 9 1-24 1-44 1 43 1-61 1 116 1-64 1 88 1-62 1 6 1 23 1 66 1-99 1-74 1 107 1-16 1 30 1-3 1-121 1 23 1 49 1 38 1 3 1-107 1 8 1 1 1 19 1-32 1 180 1-79 1 45 1-54 1-58 1 78 1 45 1 13 1-212 1 167 1-59 1-101 1 130 1-29 1 147 1-49 1-43 1 15 1-48 1-118 1 81 1 48 1-1 1-45 1 39 1-38 1 5 1 139 1-59 1 48 1-4 1 12 1-23 1-62 1 20 1-95 1 78 1 40 1 37 1-28 1-32 1-109 1 65 1-9 1 72 1-79 1-38 1 8 1-11 1 24 1-24 1 90 1 77 1-28 1-70 1-140 1 53 1-28 1 129 1 14 1 57 1-74 1-43 1-5 1 74 1-17 1-55 1 28 1-41 1 43 1 7 1-47 1 39 1-43 1 24 1 0 1-25 1 38 1 51 1 78 1-56 1-2 1-55 1-57 1 35 1-104 1 91 1-34 1 29 1 4 1 19 1 111 1-39 1-80 1 107 1-84 1-5 1-44 1 28 1 114 1-145 1 43 1-16 1 39 1-14 1-69 1-63 1 55 1-30 1 116 1 3 1 125 1-136 1-18 1 45 1 31 1-20 1-144 1 40 1-74 1 74 1 52 1 18 1-87 1 30 1 40 1-107 1 206 1-92 1-8 1-172 1 179 1-26 1 0 1 4 1 104 1-130 1-3 1-10 1-54 1-10 1 145 1-15 1-77 1 62 1-80 1 98 1-140 1 36 1 25 1 62 1 8 1 2 1-15 1-3 1 5 1 22 1 10 1-21 1-32 1 57 1-28 1 52 1-68 1-123 1 138 1-129 1 10 1 110 1 2 1-17 1-56 1 108 1-33 1-77 1 79 1 4 1 32 1 53 1-3 1-36 1-114 1-72 1 121 1 24 1-21 1 5 1 23 1-38 1 33 1-61 1 89 1-10 1-141 1 76 1 72 1-21 1-37 1-21 1 11 1-76 1 119 1-50 1 50 1 1 1-86 1 43 1 109 1-40 1-91 1 78 1 3 1 2 1-55 1 25 1 59 1-40 1 61 1-121 1 65 1-87 1-80 1 107 1 121 1-87 1-65 1 64 1 21 1-18 1 3 1-11 1 17 1-1 1 16 1-72 1 21 1 65 1 105 1-59 1-107 1 52 1-3 1-1 1-106 1 105 1 55 1 8 1 23 1-122 1 81 1-74 1 6 1 13 1-42 1 94 1-55 1 18 1-10 1 47 1-22 1 19 1-29 1-54 1-8 1 48 1 20 1-69 1-56 1 16 1 117 1-6 1-28 1-35 1-73 1 115 1-16 1-63 1 71 1-58 1 82 1-44 1 29 1 61 1-9 1-73 1 67 1 83 1-96 1-36 1 38 1-201 1 57 1 55 1 94 1-3 1 20 1-9 1-56 1 4 1-32 1 56 1-121 1 103 1 26 1-5 1-12 1-135 1 81 1 67 1-66 1 93 1-165 1 89 1 29 1 40 1-23 1-58 1-30 1 56 1 109 1-112 1-36 1 0 1 65 1-115 1 59 1 21 1-22 1-51 1-35 1 122 1 36 1 10 1-10 1-117 1 33 1-22 1 130 1-187 1 155 1-67 1-62 1 127 1 77 1-94 1 58 1-41 1-15 1-82 1-1 1 41 1-35 1 13 1-3 1-7 1 78 1 41 1-86 1 17 1 48 1 7 1-99 1 117 1-52 1 19 1 46 1-66 1-5 1 21 1 30 1-55 1-15 1-27 1 62 1-49 1-33 1 43 1 52 1 69 1-154 1-12 1-10 1 38 1 16 1-41 1 8 1-37 1 123 1-26 1 32 1-91 1 8 1 35 1-29 1 51 1-31 1 29 1 67 1-46 1-165 1 133 1 78 1-111 1 21 1 31 1-17 1 28 1-90 1 8 1 71 1-185 1 141 1 103 1-134 1 34 1-11 1 59 1 6 1-62 1-128 1 72 1 8 1 106 1-100 1 35 1 30 1-14 1 34 1 37 1 78 1-110 1-54 1 64 1-90 1 74 1 19 1 51 1-84 1-61 1 19 1 66 1 16 1 3 1-141 1-92 1 105 1 69 1-22 1-29 1-69 1 156 1-23 1-1 1 91 1-59 1 50 1-103 1 3 1-19 1 11 1 40 1 76 1 22 1-111 1-205 1 142 1 8 1-11 1-5 1-2 1 3 1 58 1 27 1-50 1-20 1 104 1-205 1 192 1-29 1 39 1-135 1 88 1-22 1 15 1-17 1-4 1-30 1 75 1-62 1 51 1-7 1 16 1-67 1 50 1 33 1-38 1-29 1-16 1 29 1 16 1 73 1-122 1 31 1 56 1-70 1 41 1-8 1-45 1 41 1 47 1-28 1-3 1 74 1-67 1-53 1 63 1-33 1-20 1-12 1 25 1 174 1-121 1-77 1-8 1 122 1-121 1-52 1 169 1 40 1-52 1-59 1 6 1-56 1-2 1-42 1-58 1 140 1-41 1 78 1-24 1 55 1-107 1 31 1 22 1-75 1 54 1 46 1 92 1-35 1-165 1 116 1-96 1 77 1-100 1 41 1 56 1 12 1-38 1 28 1-85 1-26 1 204 1-94 1-38 1-44 1 58 1-36 1 66 1 16 1 5 1 6 1-87 1-48 1-64 1 98 1 65 1 60 1-128 1 3 1 20 1-240 1 176 1 52 1 37 1 51 1-140 1 41 1-1 1-22 1 147 1-25 1-2 1-128 1 85 1 59 1-16 1-34 1 16 1-83 1-63 1 86 1 96 1-91 1 122 1 20 1-90 1-84 1-22 1 75 1-39 1 103 1 17 1-80 1 44 1 25 1-37 1-126 1 24 1-58 1 104 1 29 1-59 1 139 1-78 1 129 1-74 1-56 1-4 1-41 1 13 1 97 1 16 1-243 1 203 1-6 1-10 1-29 1-41 1 130 1-47 1-148 1-29 1 79 1-30 1-10 1 137 1-48 1 70 1-97 1-141 1 115 1 75 1-94 1 130 1-15 1 46 1-114 1 15 1-181 1 50 1 180 1-7 1 8 1-171 1 111 1 87 1-8 1-32 1 21 1-30 1 74 1-108 1-4"/>
<path stroke="#fa7c17" stroke-dasharray="19.43 8.40" d="M0 1807l1-69 1 29 1 95 1-16 1-36 1 68 1-51 1-12 1 4 1 53 1 29 1-81 1 84 1-64 1-53 1 96 1-51 1 11 1-50 1 92 1 6 1-13 1-64 1 76 1 13 1 24 1-179 1 113 1 31 1-47 1 29 1-1 1-32 1 4 1-120 1 24 1 71 1-17 1 64 1 8 1-112 1 121 1-5 1 6 1-69 1 28 1 45 1 43 1-25 1-95 1-29 1 40 1 38 1 29 1-70 1 129 1-114 1-94 1 81 1-103 1 154 1 51 1-123 1 0 1 14 1-77 1 8 1 7 1-9 1 68 1-11 1 137 1-12 1-125 1-20 1 100 1-55 1 13 1 64 1 13 1-33 1 78 1-116 1-62 1 32 1 31 1 15 1 71 1-17 1-27 1-88 1 65 1-94 1 54 1 57 1-46 1 44 1-51 1 16 1-88 1-14 1 37 1-37 1 75 1 101 1-24 1-60 1-25 1 48 1-81 1-19 1 66 1 41 1 90 1-125 1 32 1 21 1 21 1-69 1 37 1-24 1-71 1-49 1 49 1 189 1-53 1-21 1-64 1 68 1-168 1 103 1 37 1-2 1 47 1 17 1-46 1-91 1 56 1-15 1 52 1-89 1-8 1 77 1-10 1-40 1 41 1-13 1-29 1 105 1-55 1-37 1 57 1-108 1 60 1 155 1-98 1-85 1 12 1 5 1-12 1 121 1 28 1-25 1-45 1-79 1-7 1 36 1-111 1 91 1-40 1 75 1 22 1-52 1 135 1-126 1-51 1-2 1 70 1-80 1 58 1-34 1-50 1 111 1 11 1 15 1 21 1-149 1 37 1 99 1 8 1 41 1-57 1 12 1-19 1-19 1-36 1-89 1 66 1 49 1-59 1 31 1 45 1-9 1-36 1 72 1 23 1-114 1 39 1 18 1 53 1-144 1 58 1 26 1 37 1-110 1 105 1-99 1 26 1 69 1-50 1 7 1 11 1 41 1-13 1 21 1 41 1-127 1 105 1-56 1-74 1 54 1 12 1 13 1 62 1-106 1 79 1-49 1 3 1-62 1 43 1-33 1 51 1 20 1-67 1 5 1 40 1 22 1-63 1-20 1-24 1-26 1-26 1 48 1 150 1-6 1 54 1-141 1-58 1-28 1 30 1 89 1-29 1 124 1-37 1-119 1 22 1 51 1 43 1-58 1-56 1-31 1 48 1 34 1 27 1 68 1-54 1 36 1-87 1 34 1 29 1-106 1 52 1-16 1 64 1-11 1-43 1 56 1-71 1-39 1-10 1 97 1-86 1 103 1-104 1 52 1-31 1 13 1 53 1 65 1 19 1-166 1-30 1 162 1-79 1 16 1-62 1 130 1-28 1 44 1 24 1-134 1 43 1-82 1 31 1 92 1-54 1-25 1-114 1 73 1-68 1-61 1 94 1 8 1 63 1 25 1 8 1-110 1 38 1 115 1 84 1-54 1-46 1-22 1 47 1-4 1 23 1-117 1 28 1-12 1 6 1 39 1-64 1 28 1 16 1-16 1 19 1-63 1 76 1-63 1-87 1 116 1 60 1-15 1 6 1-105 1 27 1-53 1 28 1 76 1-21 1-73 1 30 1 66 1 34 1-23 1 18 1-141 1 149 1-76 1 48 1-32 1 36 1-60 1 40 1 0 1-82 1 90 1-15 1-51 1 117 1-48 1 9 1-134 1 4 1 81 1-29 1 128 1 21 1-86 1 32 1-36 1 61 1-84 1 29 1-18 1-103 1 114 1 76 1-43 1-158 1 98 1 56 1-6 1-2 1 13 1-18 1-78 1 28 1 12 1 21 1-24 1 69 1-80 1-99 1 30 1 78 1-44 1 51 1 42 1-20 1-14 1-60 1 3 1-17 1 52 1 103 1-8 1-73 1 36 1-52 1 75 1-84 1 81 1-63 1-41 1 37 1-67 1-2 1 66 1-52 1 41 1 16 1-32 1 26 1 126 1-21 1-144 1-61 1-3 1 121 1 100 1-83 1-96 1 54 1 108 1-91 1 0 1 34 1-57 1 84 1-88 1 38 1 49 1-131 1 52 1 97 1-90 1 6 1-52 1 132 1 39 1-52 1-22 1-69 1-2 1-54 1 47 1 24 1-27 1-35 1 7 1 105 1-52 1 3 1-2 1 77 1-150 1 18 1 97 1-3 1-34 1 11 1 35 1-42 1 53 1 26 1-42 1-102 1 5 1 111 1-116 1 26 1 39 1 77 1 56 1-59 1 53 1-57 1-104 1 87 1-104 1-14 1 3 1 73 1-36 1-47 1 46 1 55 1-112 1 71 1-50 1-4 1 74 1 8 1 141 1-68 1-175 1 101 1 18 1 8 1 20 1-37 1 37 1-137 1 87 1 11 1-114 1 130 1-98 1 15 1 110 1-52 1 43 1-5 1 13 1-17 1-45 1 121 1-60 1-42 1-18 1 35 1 59 1-56 1-25 1-36 1-77 1 51 1-44 1 81 1-50 1 60 1-11 1 28 1 10 1-56 1 4 1 48 1-17 1-67 1-23 1 98 1-4 1-11 1 2 1-38 1 23 1-69 1 41 1 74 1-4 1-102 1 137 1-48 1-114 1 21 1 167 1-27 1-138 1 174 1-88 1-87 1 117 1 43 1-50 1-64 1 16 1 7 1-21 1-24 1 78 1 6 1 12 1-47 1-54 1-53 1 109 1 5 1 101 1-3 1-67 1-98 1-10 1 125 1-9 1-133 1 30 1 19 1-4 1 42 1-28 1 1 1 68 1 64 1-67 1-99 1 101 1-23 1-27 1-55 1 39 1 85 1-67 1 45 1-22 1-84 1 19 1 44 1-80 1 52 1 93 1 8 1-84 1-14 1 135 1 52 1-105 1-29 1 103 1-91 1-24 1 92 1-38 1-105 1 56 1 51 1-24 1-131 1 164 1-49 1-50 1-31 1-41 1 169 1-127 1-36 1 50 1 60 1 59 1 1 1-19 1 5 1-68 1 89 1-41 1-95 1 66 1 42 1-171 1 11 1 159 1-61 1-20 1 27 1 11 1-82 1 50 1 16 1 53 1-116 1 32 1 23 1-5 1 39 1 32 1 7 1-173 1 59 1 4 1 1 1 71 1 6 1-35 1 13 1-1 1-87 1 16 1-11 1 46 1 97 1 10 1-173 1 190 1-112 1-82 1-29 1-1 1 157 1-38 1 87 1-64 1-54 1-41 1 118 1 31 1-28 1 32 1-117 1-16 1 31 1 25 1 74 1-105 1-102 1 119 1 51 1-41 1 40 1-1 1-44 1 30 1-43 1 51 1-44 1 87 1-150 1-37 1 100 1 0 1 95 1-29 1-140 1 97 1 106 1-58 1-65 1 51 1-12 1-27 1 6 1 54 1-86 1-27 1 41 1-11 1-132 1 87 1 77 1-53 1 123 1-90 1 77 1 5 1 9 1-65 1-45 1 38 1-51 1-19 1 57 1-83 1-20 1 51 1-24 1 6 1 141 1-59 1 96 1-95 1-35 1 38 1-72 1 113 1-110 1 5 1 66 1-19 1 65 1-61 1 13 1-115 1 141 1-98 1 38 1 95 1-9 1 4 1 103 1-48 1-70 1-60 1-62 1 157 1-21 1 40 1-17 1-82 1 34 1 30 1-30 1 14 1-55 1-120 1 76 1 34 1-21 1 62 1-40 1 41 1-65 1-17 1 96 1-78 1 12 1-6 1 50 1-7 1-35 1 37 1 15 1-55 1 62 1-23 1-33 1 75 1-38 1-56 1-27 1 115 1 13 1 26 1-40 1 32 1-94 1 33 1 11 1-106 1 155 1-76 1-55 1-32 1 26 1 72 1-103 1 84 1-76 1 41 1-39 1 101 1 22 1 103 1-117 1-102 1 82 1-77 1-6 1 25 1 51 1 36 1-47 1-12 1 61 1-44 1 31 1 33 1-16 1-20 1 22 1-74 1 36 1 67 1 66 1-28 1-70 1 57 1 4 1-90 1-82 1 28 1-169 1 264 1 30 1-188 1 131 1-6 1-83 1 70 1 36 1-5 1-34 1-21 1 53 1-27 1-117 1 64 1 77 1-57 1 98 1-37 1-30 1-80 1 0 1 71 1-9 1-59 1-18 1 53 1 45 1-33 1 116 1 31 1 13 1-110 1-63 1 54 1-49 1 35 1-113 1 131 1-2 1 5 1-56 1 54 1-11 1-22 1 20 1-51 1-152 1 160 1 137 1-181 1 60 1 32 1 15 1 2 1 61 1-180 1-45 1 187 1-37 1 29 1-15 1 0 1-29 1-13 1-10 1-65 1 94 1 91 1-108 1-2 1-31 1 74 1 4 1-86 1 84 1-26 1-68 1 66 1 40 1-153 1 93 1-5 1 24 1 31 1-63 1 23 1 49 1-88 1 98 1-1 1-23 1-127 1 9 1 12 1 3 1 22 1 54 1 27 1 74 1-6 1-56 1-15 1-66 1 57 1 74 1-161 1 68 1 106 1-184 1 113 1-73 1 123 1-34 1-11 1-19 1 93 1-131 1 2 1 39 1 7 1 42 1 5 1-42 1-45 1 24 1 18 1-92 1 154 1 62 1-106 1-26 1 44 1-60 1-35 1-34 1 60 1-57 1 13 1 45 1 2 1 88 1-148 1 8 1 89 1-103 1 148 1-132 1 16 1 47 1 52 1-83 1-45 1 73 1-28 1-89 1 157 1-88 1 84 1-75 1-49 1 67 1-48 1-111 1 213 1-144 1 66 1 52 1 4 1-55 1-90 1 56 1 12 1 67 1 53 1-102 1 40 1 128 1-104 1 8 1 20 1 7 1-109 1 84 1-59 1 47 1 49 1-137 1 1 1-47 1 73 1-21 1-90 1 132 1-50 1 34 1-18 1 90 1-9 1 79 1-93 1-35 1 49 1-117 1 26 1 25 1 84 1-33 1-76 1 89 1 23 1-25 1-12 1-45 1 10 1 76 1-80 1 9 1-21 1 91 1-16 1-24 1-33 1 6 1 84 1-131 1 64 1 7 1-93 1 83 1 7 1-42 1-4 1 101 1-40 1-103 1-171 1 223 1-70 1 12 1 27 1-34 1 114 1-8 1 24 1-68 1-57 1 68 1-15 1-48 1 74 1 34 1 121 1-50 1-85 1 23 1 20 1-140 1 32 1-28 1-18 1 39 1-28 1 119 1-99 1 60 1 62 1 78 1-176 1 106 1-111 1 80 1-44 1-74 1 48 1 79 1-25 1-8 1 49 1-28 1 32 1-33 1-60 1-55 1 106 1-11 1-66 1-43 1 25 1-42 1 24 1 133 1 5 1-160 1 93 1-1 1 64 1-8 1-35 1 35 1-176 1 121 1-87 1 129 1 37 1 49 1-55 1-37 1 63 1 4 1-188 1 48 1 33 1 25 1-49 1 92 1 11 1 7 1 28 1-29 1-123 1 46 1-47 1 102 1-103 1 16 1 17 1 68 1 78 1-94 1 20 1 12 1-29 1 25 1-147 1 66 1 41 1-31 1-44 1 98 1-13 1-4 1-70 1 45 1 53 1-59 1-1 1 1 1 12 1 79 1-38 1-1 1 9 1-25 1 33 1-15 1-9 1-73 1-5 1 34 1-33 1-23 1 12 1 19 1 32 1 72 1-43 1-104 1 18 1 43 1 57 1-6 1 25 1-62 1 9 1-132 1 145 1 33 1-112 1 30 1-39 1 52 1 4 1 41 1 120 1-100 1 103 1-158 1-27 1-29 1-57 1-74 1 126 1 48 1 11 1-61 1 170 1-43 1-28 1 4 1-94 1 18 1-2 1-23 1 49 1 29 1-64 1 98 1-27 1 79 1-29 1-69 1-62 1 118 1-59 1 56 1-26 1 7 1-105 1 110 1-9 1 33 1-73 1 0 1 105 1-58 1 47 1-121 1-2 1 64 1 13 1 54 1-28 1-101 1 105 1-19 1-60 1-76 1 16 1 47 1-53 1 79 1-108 1 18 1 21 1-2 1 35 1 17 1 99 1-37 1 22 1 48 1-84 1 24 1-7 1-116 1 4 1 51 1 13 1 24 1-19 1-28 1 65 1-42 1 38 1 0 1-48 1 41 1-37 1-24 1-92 1 76 1 69 1-5 1 3 1-74 1-21 1 117 1 50 1 18 1-189 1 24 1 60 1-37 1 25 1 64 1 74 1-46 1-107 1-29 1 44 1 59 1-164 1 68 1-1 1 39 1-76 1-58 1 135 1-88 1 52 1 40 1 33 1-81 1 29 1 37 1 61 1-110 1 45 1 4 1-55 1 27 1 11 1-49 1 43 1-8 1-51 1 5 1 18 1 1 1-56 1 14 1 93 1-62 1 47 1 58 1 21 1 57 1-71 1 41 1-130 1 35 1 26 1 2 1 6 1-25 1 27 1-33 1-1 1-8 1 97 1-29 1-99 1-62 1 40 1 90 1 9 1-160 1 180 1-61 1-80 1 137 1 1 1-60 1 80 1-14 1-59 1 42 1-84 1 50 1 17 1 69 1-69 1-68 1 10 1 87 1-48 1 35 1-37 1-31 1 42 1-50 1 35 1-4 1-21 1 24 1-50 1 81 1-87 1 86 1 16 1-25 1-95 1 0 1 108 1 45 1 8 1-70 1 28 1-105 1-4 1 55 1-14 1 36 1 6 1 63 1-24 1-19 1-185 1 135 1 36 1-144 1 111 1-107 1 7 1 163 1-21 1 108 1-108 1-3 1 26 1 11 1-174 1-19 1 34 1 47 1 24 1 25 1-19 1-50 1-1 1 47 1 52 1 64 1-123 1 0 1 1 1-30 1-119 1 178 1-6 1-1 1-106 1 94 1-12 1 77 1-73 1 45 1-22 1-37 1 29 1 16 1-71 1 97 1-27 1 48 1-147 1 87 1 52 1-53 1-44 1 48 1-63 1-28 1 114 1 45 1-16 1-13 1 38 1-41 1 29 1-6 1-143 1 41 1-33 1 126 1 54 1-66 1-10 1 39 1-58 1 25 1-17 1-138 1 100 1-2 1 115 1-104 1 61 1-17 1 25 1 31 1 4 1-120 1-73 1-22 1 140 1 50 1-89 1 52 1-76 1 12 1 4 1 57 1 3 1-83 1 91 1-12 1 24 1 27 1-142 1 93 1-20 1-38 1-19 1 32 1-54 1 11 1 53 1-52 1-33 1 4 1 58 1-12 1-47 1 82 1 6 1 70 1-82 1 12 1 51 1-134 1 177 1-13 1 15 1-91 1 56 1 16 1-46 1-68 1-29 1 48 1-12 1 44 1-46 1-21 1-31 1 112 1-35 1 70 1-19 1-93 1 115 1-72 1-23 1 66 1-25 1 13 1 77 1-115 1 68 1-65 1-23 1 28 1 40 1 27 1-10 1-4 1-54 1 2 1 102 1-63 1-46 1 2 1 51 1 0 1-131 1 22 1 7 1-77 1 155 1-48 1-9 1-13 1 122 1-3 1-36 1-58 1-41 1-35 1 49 1-58 1 84 1-5 1 0 1 104 1-14 1-61 1 56 1-17 1-35 1 4 1-39 1-28 1 46 1 14 1-94 1 17 1 8 1 82 1-54 1 2 1 128 1-36 1-121 1-26 1-64 1 60 1 124 1-13 1-39 1-11 1 42 1 23 1 2 1-105 1 61 1-145 1 95 1 27 1 109 1 23 1-61 1 46 1-57 1-26 1-63 1-31 1 82 1 93 1-31 1-130 1 68 1 63 1 14 1-98 1-28 1 56 1-149 1 51 1 79 1-48 1 80 1-24 1 71 1-109 1 9 1 24 1 91 1-77 1 4 1 16 1 21 1 61 1-80 1 77 1-49 1-18 1 39 1-164 1 191 1-97 1 25 1 65 1-41 1 65 1-118 1-30 1-25 1 65 1 73 1-103 1-69 1 33 1 30 1 97 1-26 1 64 1-30 1-23 1-73 1 3 1-89 1 68 1 4 1 1 1 19 1 23 1-63 1 62 1 34 1 5 1-144 1 30 1 38 1 37 1-86 1 216 1-71 1-40 1 36 1 14 1 30 1-111 1-11 1-47 1 101 1 24 1 33 1-111 1 67 1-88 1-14 1 54 1-36 1 14 1 13 1-40 1 0 1 41 1-26 1-35 1 133 1-45 1 23 1-52 1 48 1 39 1-19 1-96 1 40 1 50 1 84 1-79 1-35 1-47 1-71 1 32 1 61 1 18 1 91 1-35 1-81 1-96 1 40 1 98 1-23 1 65 1-23 1-20 1 16 1-54 1 89 1-33 1-53 1 82 1-197 1 117 1 21 1 16 1 51 1-81 1 58 1-94 1 35 1 67 1-104 1-96 1 97 1 63 1-76 1-21 1 108 1-7 1-128 1 80 1-92 1 70 1 89 1-116 1 36 1-79 1 115 1-7 1-40 1-22 1 8 1 48 1-2 1 69 1 28 1-31 1 3 1 98 1-123 1-2 1 64 1-113 1 18 1 26 1-84 1 20 1-87 1 77 1 14 1-49 1 111 1-15 1 59 1-150 1-7 1 178 1-59 1-16 1-75 1 82 1-104 1 96 1-73 1 80 1-2 1 47 1-43 1 84 1-27 1-113 1-45 1 16 1 39 1 143 1-194 1 92 1-55 1 14 1 30 1 70 1-123 1 77 1 35 1-25 1-35 1-9 1-59 1 93 1 15 1-100 1 86 1 27 1-16 1-24 1 25 1-153 1 30 1 121 1-2 1-64 1 57 1 19 1-205 1 47 1 132 1 41 1-14 1-40 1-19 1 41 1 62 1-35 1-70 1 6 1 115 1-13 1-122 1-23 1 19 1-69 1 37 1 0 1 15 1 20 1 47 1-24 1-6 1 45 1 24 1-10 1-14 1-97 1 27 1 9 1-23 1 1 1 43 1 39 1-74 1-30 1 109 1-72 1 29"/>
<path stroke="#fa7c17" stroke-dasharray="5.25 8.66" d="M0 1776l1-67 1 61 1-35 1 83 1-2 1 15 1-75 1 82 1 19 1 84 1-102 1 52 1-16 1-125 1-40 1-58 1 228 1-63 1 78 1 5 1-105 1 37 1 97 1-35 1-265 1 205 1 28 1 2 1-67 1 60 1 70 1-58 1-44 1 107 1 9 1-84 1 0 1 35 1-136 1-25 1 38 1-160 1 166 1 60 1-112 1 130 1 99 1-45 1-3 1-80 1 6 1-9 1-1 1-63 1 117 1 30 1-15 1 15 1-92 1 78 1-123 1 127 1 51 1-53 1-151 1 89 1-11 1 54 1-48 1-55 1 66 1 47 1-142 1 123 1 23 1-44 1 44 1-52 1-123 1 43 1 95 1-67 1 167 1-115 1 22 1-54 1 100 1-17 1-135 1 52 1 53 1 67 1-72 1 9 1-100 1 134 1-79 1-88 1 20 1 171 1 45 1-44 1 31 1-40 1-73 1 36 1 8 1 21 1-169 1 93 1 24 1 8 1 30 1-114 1 79 1-33 1-61 1 110 1-17 1-21 1 2 1 48 1 66 1-109 1 42 1 3 1 28 1-86 1-107 1 69 1 91 1-36 1-35 1-89 1 67 1 67 1 17 1-28 1 28 1-42 1 15 1 1 1 34 1 34 1-56 1 63 1-72 1 35 1-125 1 15 1 80 1-79 1 55 1-57 1 45 1 35 1 74 1 60 1-106 1-98 1 39 1 146 1-124 1-22 1 56 1-29 1-19 1 47 1-113 1 128 1-156 1 40 1 65 1 43 1 24 1-59 1 8 1-27 1-126 1 76 1-4 1 18 1 42 1-69 1-58 1 148 1-101 1-20 1 150 1-66 1 77 1-89 1 123 1-92 1-46 1 54 1-15 1-57 1-69 1 138 1-5 1 43 1-22 1-9 1-33 1-20 1 102 1 13 1-51 1 2 1-56 1 58 1 23 1 19 1-21 1-79 1-12 1 36 1-8 1 59 1 2 1 50 1-91 1 52 1-39 1-84 1 160 1-29 1 17 1-56 1 93 1-87 1-107 1 140 1-43 1-10 1 11 1-15 1-100 1-11 1 184 1-49 1 41 1 8 1-42 1 23 1-135 1 56 1-32 1 65 1-38 1 45 1 7 1-24 1 7 1-96 1 59 1 98 1-25 1-17 1-47 1 12 1-91 1 30 1 0 1 35 1 84 1-19 1 39 1-7 1 38 1 22 1-101 1 61 1-32 1-5 1-150 1 83 1 109 1-22 1-32 1-27 1 48 1 10 1 16 1-114 1 99 1-86 1-13 1 16 1-65 1 169 1-110 1-16 1-128 1 71 1 26 1 66 1-104 1 20 1 147 1 37 1-39 1-112 1 141 1-8 1-53 1-15 1-113 1-50 1 83 1 73 1-27 1 33 1-53 1 108 1-107 1 92 1-84 1 49 1-63 1 103 1 16 1-64 1-41 1-106 1 1 1 86 1 60 1 32 1-103 1 87 1 22 1 5 1-48 1-47 1 172 1-125 1 87 1-139 1-22 1 63 1 53 1-81 1 5 1 44 1 47 1-64 1-9 1 35 1-35 1-42 1-193 1 152 1 78 1-31 1 167 1-110 1-39 1-15 1 22 1-14 1 57 1-31 1 103 1-71 1 106 1-166 1 67 1 10 1-67 1 154 1-33 1-67 1-17 1 38 1 9 1 10 1-14 1-53 1-98 1 118 1-97 1-17 1 49 1 161 1-125 1 0 1 42 1-57 1-79 1 109 1 3 1-29 1 105 1-59 1 14 1-17 1-49 1-59 1 84 1-23 1-27 1 36 1-42 1-75 1 140 1-11 1 94 1 28 1-185 1 169 1-160 1-60 1 70 1 22 1 15 1 119 1-71 1-7 1-2 1 74 1-63 1 31 1-90 1 70 1-83 1 15 1 22 1 26 1-161 1 93 1 138 1-56 1-76 1 57 1-9 1-125 1 48 1 55 1-156 1 29 1 14 1 198 1 6 1-113 1 27 1 12 1-93 1 79 1 16 1-42 1 14 1 21 1 35 1-180 1 70 1 8 1-15 1-14 1 96 1-14 1 4 1-41 1 77 1 38 1-110 1-73 1 57 1 6 1 85 1 17 1-35 1 26 1-34 1 9 1 70 1-13 1-58 1 78 1-40 1 13 1-11 1-10 1-55 1 64 1 17 1-39 1 10 1 6 1 27 1-53 1 45 1-23 1 11 1-64 1 0 1 89 1-31 1-74 1-4 1 72 1-4 1 23 1 18 1 13 1-73 1-26 1-19 1 30 1 16 1 8 1 28 1 66 1-11 1-151 1-90 1 74 1 66 1 6 1 88 1-65 1 17 1-53 1 8 1-12 1-16 1 36 1 25 1 45 1-10 1-35 1 6 1-117 1 63 1-171 1 213 1-109 1 163 1-40 1-18 1-37 1 95 1-80 1-41 1 60 1 9 1-57 1 30 1-39 1-9 1 21 1 72 1-42 1 7 1-11 1 25 1-52 1 35 1-53 1-85 1 43 1 73 1 27 1-16 1 39 1-7 1-51 1 91 1 2 1-61 1 40 1-47 1 11 1-46 1-14 1 77 1-52 1-24 1 90 1-29 1 51 1 15 1-91 1-93 1 85 1 53 1 21 1-52 1-72 1-33 1 123 1-45 1 75 1-30 1 13 1-87 1 59 1 65 1 61 1-35 1-83 1-84 1 6 1 20 1 51 1-13 1 27 1 40 1-78 1 64 1-64 1 81 1-52 1-52 1-37 1 107 1-17 1-65 1 97 1-75 1 3 1-10 1 46 1 18 1-29 1 60 1-89 1 20 1-34 1 52 1-38 1-8 1 38 1-47 1 67 1-8 1-74 1 7 1 11 1 1 1-62 1 34 1-58 1-40 1 141 1 43 1 56 1-32 1-16 1-87 1 84 1-73 1-34 1 47 1-28 1 15 1 85 1-42 1-22 1-6 1 87 1-107 1 94 1-1 1 74 1-55 1-76 1-13 1 62 1-28 1-52 1 17 1 72 1-42 1 38 1-40 1-72 1 46 1 39 1-14 1-101 1 64 1 60 1 73 1-101 1-13 1-91 1 82 1-43 1-128 1 207 1 49 1-57 1-44 1-15 1-11 1 101 1-8 1-25 1 73 1-41 1 30 1-62 1 39 1 60 1-114 1-53 1 5 1 75 1-27 1-56 1 147 1-2 1 55 1-119 1-14 1-236 1 208 1 11 1 135 1-113 1 5 1-13 1-9 1-35 1 29 1 5 1 7 1 6 1-34 1 4 1 34 1 87 1-48 1-143 1 24 1-20 1 47 1 54 1-8 1-55 1-17 1 129 1-25 1 1 1 22 1 62 1-6 1 28 1-112 1 26 1-113 1 61 1-59 1 21 1 28 1 58 1-29 1 54 1-82 1 8 1 40 1-145 1 143 1 1 1-15 1 22 1 23 1-81 1 30 1-61 1 35 1 7 1-180 1 145 1 45 1-2 1 22 1-5 1-119 1-11 1 119 1-47 1 34 1 58 1-78 1 23 1 58 1-93 1 63 1 55 1-103 1-97 1 81 1 63 1 85 1-85 1-39 1-19 1 48 1 1 1-70 1 75 1-159 1 92 1-50 1-41 1 221 1 4 1-108 1 27 1 96 1-14 1-26 1-100 1 29 1-22 1 65 1 21 1-74 1 41 1-46 1 80 1-11 1-141 1 143 1-9 1-49 1-26 1 29 1 30 1 15 1 115 1-118 1 16 1-69 1-38 1 31 1-38 1-2 1 90 1-130 1 141 1-36 1-80 1 133 1-13 1-90 1-51 1-55 1 119 1-8 1 43 1-40 1 124 1-35 1-90 1 108 1-60 1-30 1-41 1-11 1 189 1-78 1 80 1-88 1-54 1 91 1-118 1 29 1 28 1 58 1-20 1 42 1-34 1-86 1 96 1 22 1 8 1-31 1-70 1 11 1-56 1-32 1-55 1 165 1-26 1-78 1 121 1 18 1 49 1-22 1 31 1-127 1 81 1-43 1-118 1 8 1 86 1-109 1-17 1 125 1-28 1 25 1 35 1 19 1-32 1 40 1-9 1-16 1-56 1-69 1 103 1-22 1-64 1 56 1-4 1-108 1 165 1-36 1-86 1 107 1-60 1-46 1 90 1-21 1 46 1-70 1 30 1 5 1 17 1-45 1 66 1-20 1-58 1 10 1 36 1 61 1-57 1-17 1-7 1-18 1 10 1-20 1 172 1-35 1-95 1-41 1 49 1 57 1-19 1 59 1-24 1-41 1 66 1-55 1-104 1-52 1-115 1 166 1 32 1-7 1 43 1 28 1 32 1-115 1 52 1 74 1-70 1 100 1-32 1-119 1 39 1 41 1-110 1 101 1-72 1-46 1 136 1 20 1-102 1-67 1 179 1-128 1 126 1-166 1 70 1 37 1 2 1-20 1 93 1-142 1 17 1-72 1 159 1-100 1 63 1-113 1-10 1 160 1-2 1-78 1 56 1 31 1 40 1-290 1 106 1 120 1 9 1-114 1 37 1-49 1 105 1-44 1-5 1 46 1-7 1-186 1 139 1 76 1-97 1 89 1-36 1-128 1 79 1 65 1-93 1 139 1 56 1-41 1-49 1-18 1 49 1 62 1-51 1-50 1 30 1 7 1 28 1-168 1 137 1 26 1-61 1-48 1 69 1-4 1-81 1 51 1 0 1 68 1-54 1 38 1 22 1-51 1-8 1-35 1 55 1-27 1-20 1-3 1-119 1 13 1 87 1 16 1-74 1 30 1 102 1-75 1-23 1-75 1 74 1 113 1-43 1-46 1 68 1 37 1 21 1-74 1-5 1 49 1 43 1-126 1 41 1-144 1 100 1 56 1 28 1-172 1 133 1-68 1 65 1 120 1-168 1-64 1 185 1-86 1 61 1 25 1-132 1 9 1 67 1 32 1-41 1 13 1 1 1-40 1 19 1-44 1-37 1-6 1 92 1-86 1-55 1 125 1-47 1 68 1 20 1-180 1-70 1 182 1 51 1-115 1 48 1 93 1-58 1-9 1 72 1-5 1 17 1-39 1-21 1-77 1 79 1-6 1 47 1-28 1-10 1-116 1 44 1 17 1 5 1 34 1-89 1 15 1 101 1-30 1 44 1-35 1 45 1-45 1 5 1 45 1-9 1-31 1 25 1 69 1-71 1 15 1-99 1 169 1-3 1-47 1 16 1-24 1-92 1 103 1 1 1-19 1-56 1 69 1-79 1-12 1 152 1-176 1-15 1-23 1 27 1 97 1-40 1 75 1-97 1-29 1-43 1 61 1 69 1-32 1 5 1-109 1 84 1 79 1 20 1-92 1 28 1 72 1 0 1 8 1-47 1-91 1 70 1-34 1 26 1 69 1-81 1 39 1-94 1 38 1-51 1 111 1-56 1-106 1-11 1 51 1 25 1 97 1-35 1 16 1 8 1-116 1 38 1-47 1 107 1 25 1-58 1 19 1-30 1-11 1-145 1 115 1-68 1 169 1 45 1-81 1 51 1-100 1 33 1 43 1-65 1-41 1 105 1 68 1-44 1-16 1-20 1-75 1 43 1-10 1-80 1 147 1-53 1 44 1-71 1 80 1 7 1-79 1 37 1-98 1 76 1-40 1-8 1 50 1 0 1-33 1 8 1-38 1 89 1 24 1-103 1 21 1 88 1-47 1-129 1 71 1 43 1 39 1-43 1-49 1-6 1 74 1 23 1 43 1-66 1 119 1-105 1 13 1-49 1-79 1 195 1 8 1-45 1-212 1 125 1-151 1 84 1 17 1 66 1-27 1 3 1 10 1 9 1 88 1-25 1-57 1 11 1 62 1-84 1 55 1-34 1-12 1-38 1-19 1 184 1-32 1-44 1-14 1 25 1-159 1 96 1-59 1 26 1-8 1 0 1 186 1-103 1-7 1 34 1-59 1 45 1-14 1-22 1-5 1 10 1-27 1 64 1-12 1 32 1-47 1-22 1 50 1 18 1 31 1 13 1-161 1 155 1-61 1-7 1 71 1-140 1 42 1 26 1-39 1 11 1 75 1-50 1-18 1-22 1-77 1 41 1 58 1-16 1-65 1 8 1 37 1 35 1 45 1-38 1 24 1-25 1 9 1-1 1-30 1 13 1-84 1 50 1-170 1 219 1 15 1-5 1-3 1-62 1-35 1 35 1-3 1 52 1-8 1 37 1 26 1-50 1-71 1-34 1 129 1-12 1-95 1 74 1-19 1 18 1-41 1 65 1-49 1-146 1 217 1-118 1 112 1-17 1-101 1 32 1-53 1-85 1 40 1 144 1 12 1 46 1-48 1 78 1-148 1-24 1 95 1 15 1-30 1-27 1-10 1 22 1-54 1 15 1 17 1 83 1-56 1 38 1-104 1 138 1 24 1-59 1-83 1 13 1 90 1-110 1 100 1-63 1 54 1 26 1-16 1-108 1 89 1-37 1 31 1-58 1 92 1-38 1 17 1-56 1 14 1 31 1 15 1-32 1-61 1-9 1 46 1-23 1 61 1-43 1-28 1 14 1 75 1-20 1-27 1 32 1 36 1-68 1-56 1 47 1-65 1 96 1-110 1 101 1 8 1-16 1-85 1 53 1 7 1-18 1 79 1 19 1 46 1-19 1-37 1 26 1-137 1 95 1-38 1 150 1-160 1 24 1 4 1-35 1-31 1-87 1 188 1-25 1 40 1-52 1 21 1 31 1 64 1-154 1 31 1 72 1-20 1 37 1 42 1-29 1-7 1-162 1 51 1 64 1 36 1-95 1 23 1 48 1-35 1 11 1-103 1-70 1 119 1-48 1 28 1 110 1-52 1 61 1-108 1-3 1 57 1 59 1-63 1 19 1 24 1-120 1-35 1 26 1 76 1 31 1-209 1 134 1-106 1 76 1 42 1 40 1 47 1-15 1-124 1 8 1 105 1 13 1-50 1-36 1 98 1-2 1-2 1-110 1 9 1 75 1-72 1 158 1 12 1-60 1 11 1-30 1 30 1 10 1-97 1 25 1-125 1 133 1-31 1-134 1 31 1 128 1 22 1-39 1 54 1-73 1 8 1-1 1 33 1-3 1 76 1-208 1 84 1 32 1-35 1-148 1 118 1 25 1 23 1-55 1 28 1 55 1 51 1-44 1-15 1-114 1 49 1-9 1 64 1 51 1-20 1-53 1 66 1-41 1-96 1 34 1 39 1 10 1 11 1-49 1-33 1 80 1 49 1-82 1-36 1 40 1 58 1-108 1 137 1 41 1-127 1-94 1 44 1-26 1 45 1-42 1 105 1 9 1 8 1 9 1-73 1 28 1 74 1-203 1 115 1 59 1-1 1-25 1-37 1-33 1 112 1-208 1-3 1 189 1-55 1 5 1 80 1-20 1-42 1-117 1 99 1-47 1 76 1-42 1-134 1 40 1 34 1 40 1 24 1 45 1 41 1-71 1-5 1 104 1-46 1 44 1-119 1 78 1-42 1-138 1-98 1 184 1 148 1-63 1-68 1-7 1 3 1 18 1 62 1-3 1-59 1-23 1 56 1 11 1-21 1-39 1 70 1 59 1-26 1-32 1-133 1 25 1 88 1-112 1 168 1-8 1-162 1 54 1 34 1 70 1-4 1-109 1 42 1 40 1-82 1-59 1 135 1-60 1 20 1 11 1 71 1-44 1 44 1-23 1-60 1 24 1-14 1-35 1-46 1 37 1 9 1 83 1 49 1-86 1 58 1 10 1-37 1-16 1-78 1 133 1 28 1 59 1-112 1-36 1 27 1 10 1 7 1 45 1 14 1-27 1-80 1-54 1 55 1-2 1 38 1-63 1-10 1-71 1 88 1 65 1-34 1 31 1-23 1-92 1 58 1 9 1 14 1-67 1-81 1 139 1-158 1 126 1 34 1-9 1 57 1-11 1 0 1-60 1 63 1-63 1 64 1-6 1-16 1 30 1-34 1 24 1-123 1 94 1 17 1-77 1 79 1-10 1-50 1 39 1 84 1-28 1-159 1 96 1-50 1 20 1 26 1 20 1-36 1 30 1-65 1 23 1 27 1-2 1-37 1 26 1 52 1 26 1 7 1-32 1-55 1-76 1 7 1-11 1 111 1 58 1-108 1-41 1 116 1-43 1-46 1-59 1 185 1-156 1 41 1 34 1-26 1 73 1 41 1-54 1-39 1 42 1 36 1-142 1 78 1 80 1-16 1 5 1-56 1-64 1-30 1 73 1-13 1 84 1-6 1-101 1 127 1-24 1-177 1 97 1 2 1 12 1 2 1 8 1-5 1-118 1 58 1 6 1 36 1 116 1-103 1 53 1-53 1 27 1-115 1 81 1 49 1-4 1-35 1 13 1 75 1-38 1-80 1-102 1 119 1-61 1 90 1 40 1-42 1-5 1-9 1 111 1-106 1-36 1 23 1-30 1-133 1 92 1 40 1 52 1-75 1 69 1-101 1 97 1 45 1-25 1-155 1 17 1 68 1 79 1-62 1 53 1-37 1 5 1-17 1-51 1 22 1 23 1 26 1 30 1-77 1 49 1 0 1-62 1-26 1-38 1 45 1-3 1 54 1 64 1-53 1-128 1 63 1-57 1 122 1 60 1-110 1 16 1 81 1 51 1-32 1 52 1-76 1-124 1 23 1 137 1-67 1-53 1 28 1-30 1 4 1 16 1-131 1 162 1 28 1 16 1-243 1 272 1-74 1 26 1-5 1-20 1-60 1 29 1 67 1-51 1 0 1 5 1 101 1-128 1 2 1 32 1-34 1 70 1 42 1-47 1 58 1-37 1-10 1 31 1-17 1 58 1-140 1 123 1-56 1-65 1-36 1 150 1-78 1-37 1 37 1-28 1-14 1 161 1-72 1-107 1-86 1 124 1 61 1-33 1-75 1 33 1-131 1 180 1 17 1-16 1 9 1-48 1 2 1 110 1-88"/>
<path stroke="#fa7c17" stroke-dasharray="33.61 8.40 5.25 8.40" d="M0 1908l1-18 1 24 1-38 1 3 1-57 1 19 1-20 1-107 1 13 1 154 1-42 1-102 1 192 1-69 1 31 1-116 1 20 1-58 1 28 1 64 1 78 1 54 1-34 1-147 1 57 1-97 1 131 1 30 1-15 1-74 1 49 1-66 1 109 1-50 1-92 1-81 1-83 1 144 1 110 1-100 1 163 1-73 1-24 1 74 1 10 1 17 1-48 1-116 1-116 1 61 1 112 1 42 1-147 1-30 1 148 1 26 1-30 1 163 1-24 1-46 1-47 1-25 1 1 1-39 1 8 1-69 1 16 1 62 1-35 1 90 1-66 1 99 1-151 1 52 1-110 1 38 1 88 1 7 1-6 1-91 1 126 1-58 1-92 1-57 1 98 1 61 1 88 1-111 1-23 1 211 1-18 1-102 1 21 1-75 1 4 1 20 1 26 1-95 1-16 1 83 1-88 1 57 1 96 1-16 1 58 1-90 1-40 1 6 1 115 1-13 1 66 1-65 1-90 1 24 1-19 1 15 1 67 1-10 1 10 1-69 1-31 1 91 1 15 1-81 1-14 1 46 1-103 1 107 1-48 1 15 1-65 1 71 1-70 1 9 1 170 1-34 1-87 1 47 1-88 1 34 1 107 1-82 1-41 1-37 1 7 1-8 1 4 1 78 1-106 1 46 1 128 1 45 1-145 1-19 1-10 1 91 1-47 1-10 1 108 1-27 1-19 1 94 1-13 1-70 1-70 1 22 1 23 1-8 1-41 1 54 1-42 1-31 1 10 1-46 1 59 1-8 1 98 1-12 1-214 1 192 1 76 1-67 1-40 1-84 1 23 1 13 1 85 1-129 1-30 1-2 1 85 1-17 1 79 1 7 1-66 1-11 1 69 1 6 1-81 1-18 1 69 1-14 1 89 1-70 1 1 1-24 1 0 1-87 1 36 1 48 1-22 1 26 1 60 1-22 1 102 1-104 1-8 1-41 1 76 1-4 1-10 1 21 1 53 1-63 1 25 1-138 1 51 1 4 1-35 1 91 1-90 1 46 1-95 1 19 1-30 1 83 1 66 1-44 1 49 1-44 1 0 1 7 1 22 1-72 1-112 1 182 1 30 1-29 1-206 1 167 1-119 1 113 1 14 1 2 1 60 1-92 1 25 1 77 1-102 1-25 1 38 1-56 1 5 1 96 1-158 1 85 1 35 1-107 1 47 1 73 1-54 1 102 1-140 1 170 1-80 1 61 1-44 1 22 1 7 1-63 1-50 1 32 1-14 1 51 1-6 1-82 1 115 1-94 1 92 1-14 1-9 1 51 1-59 1-1 1-81 1 30 1-29 1 26 1-117 1 107 1 71 1 60 1-10 1-48 1-9 1-141 1 94 1 19 1-84 1 1 1 13 1 148 1-9 1-4 1-116 1-56 1 109 1-44 1-36 1 70 1 14 1-59 1 28 1 87 1-37 1-12 1 20 1 14 1-8 1 45 1 3 1-23 1 41 1 1 1-9 1-103 1 67 1-130 1 116 1 32 1-45 1-32 1 1 1-13 1 29 1-16 1 11 1 69 1 45 1-6 1-27 1-86 1 37 1-133 1 81 1 76 1 26 1-29 1-72 1 39 1-19 1 48 1 50 1 67 1-107 1-8 1-81 1-21 1 86 1-44 1 25 1 55 1-16 1-31 1-74 1 90 1 36 1 1 1-133 1 54 1 30 1 28 1-1 1-2 1 41 1-67 1-109 1 72 1 50 1-53 1 14 1-62 1 65 1-144 1 109 1-58 1 90 1 11 1-20 1 49 1-132 1 185 1-96 1 72 1-57 1 27 1-40 1-25 1 64 1-34 1 108 1-43 1-119 1-48 1-5 1 81 1-32 1 101 1-24 1 26 1-2 1 22 1-105 1-45 1 131 1-48 1-32 1-17 1 49 1-3 1-37 1 84 1-62 1 87 1-46 1-97 1 27 1 22 1 76 1-70 1-83 1-6 1 85 1-35 1 67 1-27 1 85 1 36 1-8 1-58 1 11 1-110 1 50 1-60 1 9 1 19 1-38 1 32 1 61 1 51 1 17 1-23 1-85 1-59 1 165 1-1 1-50 1 53 1-95 1 44 1 10 1 40 1-13 1-89 1 134 1-194 1 59 1 61 1-49 1 92 1-40 1-31 1-63 1 81 1 13 1-36 1 35 1-146 1 34 1 65 1 13 1-58 1 9 1-3 1-33 1-1 1 162 1 92 1-129 1-84 1 43 1 24 1-22 1 76 1-116 1 100 1-119 1 54 1 54 1-9 1-65 1 22 1-13 1 29 1 21 1-49 1 133 1-151 1 115 1-23 1 0 1 0 1-92 1 73 1 7 1-223 1 69 1 130 1-5 1-23 1-26 1 73 1 21 1-122 1 37 1 60 1-67 1 8 1-84 1 119 1-164 1 127 1-117 1 143 1 85 1-39 1-88 1-38 1 67 1 8 1-103 1 62 1 132 1-132 1 48 1 31 1 10 1-40 1 58 1 34 1-57 1 74 1-37 1-85 1 20 1-22 1-26 1 139 1-204 1 105 1 27 1-62 1-13 1 91 1 26 1 8 1-36 1-42 1 72 1 3 1-179 1 160 1-60 1 65 1-6 1 38 1-49 1-98 1-3 1 95 1-33 1 82 1-52 1-65 1 69 1-48 1 27 1-4 1 7 1 67 1-188 1-22 1 126 1 40 1-48 1-57 1 50 1 97 1-74 1-9 1 8 1-100 1 60 1-16 1 1 1-12 1 67 1-124 1 94 1-11 1-61 1 47 1 68 1-101 1 58 1-5 1 8 1 16 1-10 1 18 1-14 1 31 1-156 1 2 1 130 1 48 1-115 1-29 1 145 1-121 1 43 1 71 1-19 1-56 1-22 1-188 1 151 1 75 1-91 1 22 1 46 1 17 1 88 1-74 1 67 1-56 1-21 1 46 1-21 1-40 1 44 1 34 1 35 1-53 1-99 1 46 1 40 1 27 1 43 1-131 1 63 1 18 1 0 1 8 1-27 1 11 1-10 1-22 1-89 1 110 1-99 1 88 1 35 1-123 1 32 1 57 1 34 1-8 1 64 1-138 1 78 1-86 1 68 1-30 1 39 1 69 1-58 1 5 1-61 1 27 1-152 1 239 1-18 1-5 1 27 1 1 1-28 1-114 1-84 1 17 1 116 1-58 1-6 1 3 1-66 1 111 1-10 1-113 1-7 1 140 1-93 1 5 1 23 1 81 1 18 1 14 1 45 1-159 1 30 1 37 1 76 1 10 1-124 1 67 1-42 1 92 1-89 1-43 1 61 1 54 1-127 1-15 1 8 1 62 1-6 1-42 1 100 1-15 1 44 1-27 1 12 1-70 1-51 1 108 1-211 1 112 1-2 1 97 1-69 1 53 1 11 1 15 1-80 1-61 1 34 1-25 1 81 1 58 1-30 1 48 1-48 1-51 1-65 1 63 1 50 1 89 1-91 1 27 1-68 1-35 1 79 1-78 1-74 1 78 1 21 1 37 1 39 1 44 1-103 1 29 1-48 1-55 1 102 1-62 1 78 1-24 1-50 1 8 1 77 1-51 1-31 1 152 1-6 1-9 1 60 1-101 1 78 1 28 1-14 1-197 1 10 1 17 1-67 1 122 1-87 1 72 1 33 1-64 1-17 1 24 1 23 1-74 1 87 1-113 1-15 1 53 1 67 1-46 1 9 1-12 1 94 1-61 1-175 1 125 1 84 1-129 1-97 1 119 1 46 1 30 1-146 1 1 1 217 1-166 1 21 1 51 1-4 1-24 1 18 1-12 1 44 1 10 1 2 1-27 1 89 1-108 1 91 1-112 1 27 1-7 1 89 1-47 1-46 1 54 1 119 1-211 1 80 1-55 1 34 1-72 1 61 1-13 1 5 1 117 1-157 1 128 1-108 1-15 1 48 1 35 1 6 1-16 1-159 1 60 1 81 1 17 1 52 1-133 1 60 1 15 1 24 1-34 1 9 1 27 1-24 1-78 1 40 1-4 1 47 1-14 1-10 1 9 1-75 1 112 1-10 1-62 1 25 1 34 1-125 1 136 1-98 1 69 1-34 1 23 1 89 1-63 1 60 1-3 1-57 1 40 1-54 1-3 1 28 1-68 1-5 1 89 1 60 1-33 1-163 1 40 1 28 1-1 1 33 1 43 1 7 1 16 1-16 1-38 1-11 1-65 1 97 1-48 1-89 1 72 1-139 1 7 1 108 1-56 1-35 1 52 1 76 1-24 1 38 1 50 1-90 1 2 1 177 1-76 1-60 1 6 1-55 1 34 1 40 1 44 1-94 1-30 1-174 1 252 1-32 1-1 1-31 1-71 1 78 1 38 1-98 1-15 1 130 1-27 1-53 1 38 1-55 1 50 1-76 1 119 1 88 1-104 1-32 1 87 1-55 1 24 1-58 1 53 1-80 1-19 1-35 1 87 1 21 1 10 1-8 1-40 1-44 1 102 1-31 1-62 1 59 1 19 1-3 1 60 1-14 1 39 1-99 1-65 1 109 1-35 1-34 1-36 1 58 1 67 1-81 1 28 1 1 1 45 1-57 1-13 1-55 1-79 1 102 1 45 1-23 1 28 1 41 1-108 1 17 1 27 1 112 1-88 1-107 1 60 1 14 1 51 1-52 1 62 1 32 1-5 1 5 1-82 1 81 1-53 1-111 1 173 1-64 1-65 1 65 1 14 1-49 1-36 1 71 1-8 1-35 1 117 1-55 1-1 1-34 1 25 1-49 1 41 1 63 1-109 1-66 1-14 1 65 1 38 1-4 1 31 1-9 1 62 1-94 1 70 1 24 1-73 1 124 1 9 1-38 1 3 1-86 1-27 1 41 1-92 1 58 1 47 1 43 1-182 1 161 1 86 1-72 1 15 1-169 1 2 1-23 1 7 1 147 1-99 1 54 1 0 1-134 1 171 1-80 1-18 1-17 1-118 1 114 1 59 1-5 1 44 1 61 1-14 1-105 1 105 1-56 1 72 1-53 1-3 1-39 1-45 1 22 1 74 1-91 1 37 1-32 1 43 1-29 1 117 1-6 1 12 1-9 1-4 1-68 1 40 1-9 1 1 1-116 1 28 1 88 1-52 1-5 1 55 1-11 1 27 1-34 1 55 1-46 1-126 1 53 1 129 1-61 1 9 1 12 1 0 1-77 1 15 1 108 1-25 1-151 1 10 1 168 1-62 1-111 1 80 1-63 1-55 1-58 1 54 1 52 1-28 1 26 1 136 1-45 1 10 1 20 1-40 1-18 1-7 1 47 1-45 1-4 1 124 1-52 1-39 1-114 1 177 1-65 1 18 1 35 1-112 1-198 1 219 1-52 1 70 1-48 1 18 1 54 1-15 1 81 1-93 1 65 1-5 1-100 1 151 1-47 1-51 1-69 1 53 1 69 1-76 1 90 1-50 1 18 1 39 1-3 1-7 1-13 1-53 1 29 1 10 1-35 1 59 1-61 1 110 1-66 1 55 1-54 1-75 1 78 1-65 1 5 1-46 1 130 1-36 1-69 1 145 1-101 1-17 1 83 1-13 1-107 1 9 1 28 1-48 1 11 1 25 1-3 1-42 1 178 1-94 1-24 1-107 1 37 1 109 1 10 1-22 1-33 1 8 1 97 1-56 1 39 1-96 1 41 1 4 1 54 1-32 1 22 1-22 1-32 1-63 1 80 1 47 1-142 1 139 1-58 1 27 1-68 1 47 1 4 1-82 1 25 1 88 1-12 1-25 1-86 1 133 1-24 1-11 1-116 1 81 1 35 1-39 1 5 1-90 1 124 1-162 1 46 1 9 1-60 1 221 1 4 1-53 1-118 1 67 1 31 1 7 1 28 1 14 1-106 1 86 1 96 1-47 1-128 1 54 1 11 1-55 1 61 1-63 1 50 1-50 1 86 1-145 1 98 1-82 1 147 1-135 1 57 1 73 1-31 1-80 1 85 1-110 1 125 1-95 1 98 1-72 1-1 1 46 1-174 1 176 1 67 1-120 1 20 1-82 1 56 1-65 1-51 1 79 1 31 1 36 1 4 1-18 1-105 1 186 1-100 1 4 1 52 1-44 1-25 1 2 1-11 1 82 1-71 1 89 1-147 1-33 1 117 1-21 1 29 1-154 1 145 1 25 1 30 1 38 1-55 1-62 1-10 1 107 1-105 1-2 1-7 1 36 1 71 1 29 1-52 1-135 1 66 1-86 1 1 1 79 1 39 1 25 1-12 1-33 1 45 1-80 1-23 1 95 1-75 1 19 1 36 1 39 1-17 1-128 1 123 1-129 1 41 1 85 1-68 1 113 1-6 1-63 1-14 1 97 1-215 1 83 1 32 1 8 1 10 1 32 1 37 1 54 1-62 1-48 1 27 1 27 1 36 1-37 1-3 1-72 1-57 1 87 1 10 1-17 1 2 1 69 1-19 1-42 1 16 1 63 1-20 1-37 1-6 1 31 1-49 1-13 1-114 1 133 1-83 1 124 1 39 1-110 1 43 1-59 1 84 1-91 1 119 1-171 1-87 1 23 1 61 1 80 1-50 1 7 1 80 1 59 1-52 1-55 1 40 1 55 1-9 1-28 1-172 1 102 1-1 1 120 1-85 1-7 1 7 1 19 1 31 1-56 1 47 1-33 1-11 1-70 1-44 1 217 1-61 1-62 1 25 1-67 1-180 1 194 1 81 1-107 1 101 1 12 1-62 1 19 1 82 1-11 1-18 1-183 1 51 1-23 1 128 1-84 1 31 1-39 1-4 1 37 1-43 1 54 1-71 1 40 1 69 1 4 1-95 1-6 1 89 1 3 1 32 1-48 1 56 1-10 1-26 1 81 1-43 1-16 1 53 1-13 1-81 1-20 1 79 1-12 1-115 1-137 1 89 1 148 1-135 1-21 1 56 1 24 1-44 1 98 1 77 1-107 1 22 1 58 1 22 1-177 1 45 1 66 1 90 1-56 1 68 1-34 1-42 1-6 1-5 1 80 1-105 1 3 1-12 1 7 1 173 1-164 1-128 1 117 1 3 1-90 1 109 1-8 1-12 1-9 1 75 1-93 1 70 1 79 1-33 1-19 1-93 1-119 1 90 1-41 1 192 1-24 1-57 1-36 1 112 1 14 1-66 1-85 1 6 1 0 1 59 1-67 1 12 1 99 1 26 1-85 1 65 1-43 1-63 1 80 1 55 1-44 1-100 1 48 1-8 1-69 1 40 1 80 1-14 1 7 1 55 1-57 1-29 1-26 1 108 1-109 1 54 1 58 1-42 1-84 1-17 1-64 1 13 1 101 1 43 1-21 1 86 1-29 1 20 1-41 1-102 1 104 1 63 1-183 1 162 1-43 1 17 1-136 1 73 1-108 1 19 1 95 1-35 1 123 1-120 1 178 1-59 1-68 1-10 1 139 1-67 1-6 1-86 1 86 1-22 1-104 1 65 1 31 1-141 1 55 1 32 1-160 1 183 1-14 1-47 1 39 1-55 1 32 1 36 1 64 1-60 1 37 1-206 1 45 1 64 1 30 1 74 1-67 1-56 1 92 1-22 1-47 1 123 1-64 1 13 1 69 1-32 1-19 1 23 1-33 1-49 1-171 1 154 1 62 1-67 1 71 1-78 1 16 1 123 1-82 1-39 1-46 1 28 1 7 1-43 1 114 1-16 1 20 1-123 1-12 1 48 1 10 1 59 1-20 1-88 1 96 1-5 1-1 1-3 1-27 1 44 1 2 1-85 1 106 1-45 1-10 1-38 1-67 1 197 1 35 1-86 1-110 1 46 1 119 1-98 1-162 1 97 1 45 1 44 1 17 1-11 1-14 1 1 1-47 1 6 1-31 1 62 1-94 1 74 1-11 1-39 1-18 1 40 1 7 1 15 1-22 1-31 1-33 1 13 1 90 1 115 1-143 1 40 1 64 1-131 1 81 1 14 1 81 1-81 1-24 1-57 1 19 1 7 1-43 1 94 1-4 1-83 1 17 1 93 1-3 1-104 1 17 1-49 1-42 1 150 1-29 1 32 1-39 1-27 1 10 1 49 1 99 1 0 1-83 1-30 1-12 1-18 1 26 1-52 1 20 1 74 1 47 1-51 1-58 1 53 1-1 1-104 1 52 1 66 1-156 1 53 1 8 1 132 1-53 1-101 1-21 1 127 1-56 1 88 1-50 1-21 1-3 1-47 1-47 1 22 1 19 1-4 1 144 1-31 1-50 1-25 1 6 1 20 1 14 1-95 1 141 1-62 1-55 1 6 1 39 1 29 1 91 1-82 1-60 1-7 1 61 1 45 1 55 1-83 1-105 1 99 1-28 1 13 1-2 1-93 1 28 1-2 1 82 1-1 1 16 1 9 1-146 1 25 1 27 1 47 1 0 1 10 1-27 1-36 1-19 1-82 1 53 1 104 1-96 1 65 1-67 1 12 1 6 1 62 1 125 1-8 1-141 1 99 1-19 1-29 1 28 1-110 1-36 1 30 1 112 1-42 1-2 1-5 1-54 1-39 1 90 1 31 1-81 1-32 1 42 1 49 1-100 1 93 1 82 1-98 1 68 1-17 1-61 1 83 1-34 1 75 1-12 1-36 1 9 1 24 1-87 1-66 1 80 1-4 1 70 1-31 1-59 1 80 1-13 1-55 1-15 1-17 1 138 1-79 1 21 1-85 1-14 1-36 1 91 1-28 1 117 1-93 1 53 1-48 1-68 1 120 1-46 1 37 1 69 1-26 1-80 1-59 1-24 1 124 1-93 1 51 1-120 1 90 1 74 1-150 1 98 1 102 1-53 1-47 1-43 1 9 1 60 1-64 1 65 1-6 1 49 1 9 1-35 1 33 1 9 1-90 1 104 1 18 1-96 1-103 1 67 1-57 1 111 1-45 1 32 1 21 1-142 1 43 1-57 1 91 1-65 1 150 1-81 1 159"/>
</g></g><path clip-path="url(#cl0)" fill="none" stroke="#2a2eec" stroke-width="3" stroke-linejoin="round" stroke-linecap="round" d="M1077.3 348.9L1077.8 348.1 1078.3 347.2 1078.8 345.9 1079.3 344.3 1079.8 342.2 1080.3 339.6 1080.8 336.3 1081.3 332.3 1081.8 327.4 1082.3 321.5 1082.8 314.6 1083.3 306.5 1083.8 297.1 1084.3 286.5 1084.8 274.7 1085.3 261.6 1085.8 247.5 1086.3 232.3 1086.8 216.4 1087.3 200.0 1087.8 183.5 1088.3 167.1 1088.8 151.3 1089.3 136.5 1089.8 123.1 1090.3 111.5 1090.8 101.9 1091.3 94.8 1091.8 90.3 1092.3 88.6 1092.8 89.7 1093.3 93.7 1093.8 100.3 1094.3 109.4 1094.8 120.6 1095.3 133.7 1095.8 148.3 1096.3 163.9 1096.8 180.2 1097.3 196.7 1097.8 213.2 1098.3 229.2 1098.8 244.5 1099.3 258.9 1099.8 272.2 1100.3 284.3 1100.8 295.1 1101.3 304.7 1101.8 313.0 1102.3 320.2 1102.8 326.3 1103.3 331.4 1103.8 335.6 1104.3 339.0 1104.8 341.7 1105.3 343.9 1105.8 345.6 1106.3 347.0 1106.8 348.0 1107.3 348.7 1107.8 349.3 1108.3 349.8 1108.8 350.1 1109.3 350.3 1109.8 350.4 1110.3 350.6 1110.8 350.6 1111.3 350.7 1111.8 350.7 1112.2 350.7"/>
<path clip-path="url(#cl0)" fill="none" stroke="#2a2eec" stroke-width="3" stroke-linejoin="round" stroke-linecap="butt" stroke-dasharray="11.1 4.8" d="M1078.0 348.5L1078.5 347.6 1079.0 346.4 1079.5 344.9 1080.0 343.0 1080.5 340.5 1081.0 337.4 1081.5 333.6 1082.0 329.0 1082.5 323.3 1083.0 316.6 1083.5 308.7 1084.0 299.6 1084.5 289.2 1085.0 277.5 1085.5 264.6 1086.0 250.4 1086.5 235.3 1087.0 219.3 1087.5 202.7 1088.0 185.9 1088.5 169.2 1089.0 153.1 1089.5 137.8 1090.0 124.0 1090.5 111.8 1091.0 101.8 1091.5 94.3 1092.0 89.4 1092.5 87.4 1093.0 88.2 1093.5 92.0 1094.0 98.5 1094.5 107.6 1095.0 118.9 1095.5 132.1 1096.0 146.8 1096.5 162.7 1097.0 179.2 1097.5 196.0 1098.0 212.7 1098.5 229.0 1099.0 244.5 1099.5 259.1 1100.0 272.5 1100.5 284.7 1101.0 295.6 1101.5 305.3 1102.0 313.6 1102.5 320.8 1103.0 326.8 1103.5 331.9 1104.0 336.0 1104.5 339.4 1105.0 342.1 1105.5 344.2 1106.0 345.9 1106.5 347.2 1107.0 348.1 1107.5 348.9 1108.0 349.4 1108.5 349.8 1109.0 350.1 1109.5 350.3 1110.0 350.5"/>
<path clip-path="url(#cl0)" fill="none" stroke="#2a2eec" stroke-width="3" stroke-linejoin="round" stroke-linecap="butt" stroke-dasharray="3.0 4.9" d="M1079.5 341.9L1080.0 339.3 1080.5 335.9 1081.0 331.9 1081.5 327.0 1082.0 321.1 1082.5 314.2 1083.0 306.2 1083.5 296.9 1084.0 286.5 1084.5 274.8 1085.0 261.9 1085.5 248.0 1086.0 233.1 1086.5 217.6 1087.0 201.5 1087.5 185.3 1088.0 169.3 1088.5 153.8 1089.0 139.2 1089.5 126.0 1090.0 114.5 1090.5 105.0 1091.0 97.9 1091.5 93.3 1092.0 91.4 1092.5 92.2 1093.0 95.7 1093.5 101.9 1094.0 110.5 1094.5 121.2 1095.0 133.8 1095.5 147.8 1096.0 163.0 1096.5 178.8 1097.0 195.0 1097.5 211.2 1098.0 227.0 1098.5 242.2 1099.0 256.5 1099.5 269.8 1100.0 281.9 1100.5 292.9 1101.0 302.6 1101.5 311.1 1102.0 318.5 1102.5 324.8 1103.0 330.0 1103.5 334.4 1104.0 338.0 1104.5 340.9 1105.0 343.3 1105.5 345.1 1106.0 346.5 1106.5 347.6 1107.0 348.5 1107.5 349.1 1108.0 349.6"/>
<path clip-path="url(#cl0)" fill="none" stroke="#2a2eec" stroke-width="3" stroke-linejoin="round" stroke-linecap="butt" stroke-dasharray="19.2 4.8 3.0 4.8" d="M1078.5 346.8L1079.0 345.5 1079.5 343.7 1080.0 341.5 1080.5 338.7 1081.0 335.2 1081.5 330.9 1082.0 325.7 1082.5 319.5 1083.0 312.2 1083.5 303.7 1084.0 294.0 1084.5 283.0 1085.0 270.8 1085.5 257.4 1086.0 242.9 1086.5 227.5 1087.0 211.4 1087.5 194.9 1088.0 178.3 1088.5 162.1 1089.0 146.5 1089.5 132.1 1090.0 119.1 1090.5 108.1 1091.0 99.2 1091.5 92.9 1092.0 89.2 1092.5 88.4 1093.0 90.3 1093.5 95.1 1094.0 102.5 1094.5 112.3 1095.0 124.1 1095.5 137.7 1096.0 152.7 1096.5 168.5 1097.0 185.0 1097.5 201.5 1098.0 217.9 1098.5 233.7 1099.0 248.8 1099.5 262.9 1100.0 275.9 1100.5 287.6 1101.0 298.1 1101.5 307.3 1102.0 315.3 1102.5 322.1 1103.0 327.9 1103.5 332.7 1104.0 336.6 1104.5 339.9 1105.0 342.4 1105.5 344.5 1106.0 346.1 1106.5 347.3 1107.0 348.2 1107.5 348.9 1108.0 349.5 1108.5 349.9 1109.0 350.1 1109.5 350.3"/>
<path clip-path="url(#cl0)" fill="none" stroke="#fa7c17" stroke-width="3" stroke-linejoin="round" stroke-linecap="round" d="M72.4 349.1L72.9 348.6 73.4 347.8 73.9 346.8 74.4 345.4 74.9 343.6 75.4 341.3 75.9 338.3 76.4 334.6 76.9 330.0 77.4 324.4 77.9 317.7 78.4 309.7 78.9 300.3 79.4 289.5 79.9 277.2 80.4 263.5 80.9 248.5 81.4 232.3 81.9 215.1 82.4 197.2 82.9 179.0 83.4 160.8 83.9 143.3 84.4 126.7 84.9 111.7 85.4 98.7 85.9 88.0 86.4 80.2 86.9 75.3 87.4 73.7 87.9 75.3 88.4 80.2 88.9 88.0 89.4 98.7 89.9 111.7 90.4 126.7 90.9 143.3 91.4 160.8 91.9 179.0 92.4 197.2 92.9 215.1 93.4 232.3 93.9 248.5 94.4 263.5 94.9 277.2 95.4 289.5 95.9 300.3 96.4 309.7 96.9 317.7 97.4 324.4 97.9 330.0 98.4 334.6 98.9 338.3 99.4 341.3 99.9 343.6 100.4 345.4 100.9 346.8 101.4 347.8 101.9 348.6 102.4 349.1 102.5 349.2"/>
<path clip-path="url(#cl0)" fill="none" stroke="#fa7c17" stroke-width="3" stroke-linejoin="round" stroke-linecap="butt" stroke-dasharray="11.1 4.8" d="M73.5 347.7L74.0 346.7 74.5 345.3 75.0 343.5 75.5 341.2 76.0 338.3 76.5 334.6 77.0 330.1 77.5 324.6 78.0 317.9 78.5 310.1 79.0 300.9 79.5 290.3 80.0 278.3 80.5 264.9 81.0 250.2 81.5 234.4 82.0 217.6 82.5 200.1 83.0 182.2 83.5 164.4 84.0 147.1 84.5 130.7 85.0 115.7 85.5 102.6 86.0 91.8 86.5 83.6 87.0 78.3 87.5 76.1 88.0 77.0 88.5 81.1 89.0 88.2 89.5 98.0 90.0 110.2 90.5 124.5 91.0 140.4 91.5 157.4 92.0 175.1 92.5 193.0 93.0 210.6 93.5 227.8 94.0 244.0 94.5 259.2 95.0 273.1 95.5 285.7 96.0 296.8 96.5 306.5 97.0 314.9 97.5 322.0 98.0 328.0 98.5 332.9 99.0 336.9 99.5 340.1 100.0 342.7 100.5 344.6 101.0 346.2 101.5 347.4 102.0 348.2 102.5 348.9 103.0 349.4 103.5 349.7 104.0 350.0 104.5 350.1"/>
<path clip-path="url(#cl0)" fill="none" stroke="#fa7c17" stroke-width="3" stroke-linejoin="round" stroke-linecap="butt" stroke-dasharray="3.0 4.9" d="M74.0 346.4L74.5 344.9 75.0 342.9 75.5 340.4 76.0 337.2 76.5 333.2 77.0 328.2 77.5 322.1 78.0 314.8 78.5 306.2 79.0 296.2 79.5 284.7 80.0 271.7 80.5 257.3 81.0 241.6 81.5 224.8 82.0 207.1 82.5 188.9 83.0 170.6 83.5 152.6 84.0 135.4 84.5 119.5 85.0 105.4 85.5 93.6 86.0 84.4 86.5 78.2 87.0 75.3 87.5 75.6 88.0 79.2 88.5 86.0 89.0 95.7 89.5 108.0 90.0 122.5 90.5 138.7 91.0 156.1 91.5 174.2 92.0 192.6 92.5 210.7 93.0 228.2 93.5 244.9 94.0 260.3 94.5 274.4 95.0 287.1 95.5 298.3 96.0 308.1 96.5 316.4 97.0 323.4 97.5 329.3 98.0 334.0 98.5 337.9 99.0 341.0 99.5 343.4 100.0 345.2 100.5 346.7 101.0 347.7 101.5 348.5 102.0 349.1"/>
<path clip-path="url(#cl0)" fill="none" stroke="#fa7c17" stroke-width="3" stroke-linejoin="round" stroke-linecap="butt" stroke-dasharray="19.2 4.8 3.0 4.8" d="M73.0 348.6L73.5 347.8 74.0 346.8 74.5 345.4 75.0 343.6 75.5 341.3 76.0 338.4 76.5 334.7 77.0 330.1 77.5 324.5 78.0 317.8 78.5 309.8 79.0 300.4 79.5 289.7 80.0 277.4 80.5 263.8 81.0 248.8 81.5 232.6 82.0 215.5 82.5 197.6 83.0 179.5 83.5 161.4 84.0 143.9 84.5 127.4 85.0 112.4 85.5 99.4 86.0 88.8 86.5 80.9 87.0 76.1 87.5 74.5 88.0 76.1 88.5 80.9 89.0 88.8 89.5 99.4 90.0 112.4 90.5 127.4 91.0 143.9 91.5 161.4 92.0 179.5 92.5 197.6 93.0 215.5 93.5 232.6 94.0 248.8 94.5 263.8 95.0 277.4 95.5 289.7 96.0 300.4 96.5 309.8 97.0 317.8 97.5 324.5 98.0 330.1 98.5 334.7 99.0 338.4 99.5 341.3 100.0 343.6 100.5 345.4 101.0 346.8 101.5 347.8 102.0 348.6 102.5 349.1 103.0 349.6 103.5 349.8 104.0 350.1 104.5 350.2 105.0 350.3 105.5 350.4 106.0 350.4 106.5 350.4 107.0 350.5 107.5 350.5"/>
<path clip-path="url(#cl1)" fill="none" stroke="#2a2eec" stroke-width="3" stroke-linejoin="round" stroke-linecap="round" d="M150.0 748.6L152.0 748.4 154.0 748.2 156.0 748.0 158.0 747.8 160.0 747.5 162.0 747.3 164.0 747.0 166.0 746.8 168.0 746.5 170.0 746.2 172.0 746.0 174.0 745.7 176.0 745.4 178.0 745.1 180.0 744.8 182.0 744.5 184.0 744.2 186.0 743.8 188.0 743.5 190.0 743.2 192.0 742.8 194.0 742.5 196.0 742.1 198.0 741.8 200.0 741.4 202.0 741.1 204.0 740.7 206.0 740.3 208.0 740.0 210.0 739.6 212.0 739.2 214.0 738.8 216.0 738.4 218.0 738.0 220.0 737.6 222.0 737.2 224.0 736.8 226.0 736.3 228.0 735.8 230.0 735.4 232.0 734.9 234.0 734.4 236.0 733.9 238.0 733.4 240.0 732.9 242.0 732.3 244.0 731.8 246.0 731.2 248.0 730.6 250.0 730.0 252.0 729.4 254.0 728.7 256.0 728.0 258.0 727.3 260.0 726.6 262.0 725.8 264.0 725.0 266.0 724.2 268.0 723.3 270.0 722.5 272.0 721.6 274.0 720.7 276.0 719.8 278.0 718.9 280.0 718.0 282.0 717.1 284.0 716.1 286.0 715.2 288.0 714.3 290.0 713.3 292.0 712.3 294.0 711.4 296.0 710.3 298.0 709.3 300.0 708.3 302.0 707.2 304.0 706.1 306.0 704.9 308.0 703.7 310.0 702.5 312.0 701.3 314.0 700.0 316.0 698.6 318.0 697.2 320.0 695.8 322.0 694.2 324.0 692.6 326.0 690.8 328.0 688.9 330.0 687.0 332.0 685.0 334.0 682.9 336.0 680.7 338.0 678.5 340.0 676.2 342.0 674.0 344.0 671.6 346.0 669.3 348.0 667.0 350.0 664.7 352.0 662.3 354.0 660.1 356.0 657.8 358.0 655.6 360.0 653.4 362.0 651.2 364.0 648.9 366.0 646.7 368.0 644.5 370.0 642.3 372.0 640.1 374.0 637.8 376.0 635.6 378.0 633.3 380.0 631.0 382.0 628.7 384.0 626.4 386.0 624.1 388.0 621.8 390.0 619.4 392.0 617.0 394.0 614.6 396.0 612.1 398.0 609.7 400.0 607.1 402.0 604.5 404.0 601.9 406.0 599.2 408.0 596.5 410.0 593.7 412.0 590.9 414.0 588.1 416.0 585.2 418.0 582.4 420.0 579.6 422.0 576.8 424.0 574.0 426.0 571.2 428.0 568.5 430.0 565.8 432.0 563.2 434.0 560.6 436.0 558.1 438.0 555.7 440.0 553.2 442.0 550.8 444.0 548.3 446.0 545.9 448.0 543.5 450.0 541.0 452.0 538.7 454.0 536.3 456.0 534.0 458.0 531.7 460.0 529.4 462.0 527.2 464.0 525.1 466.0 523.0 468.0 521.0 470.0 519.1 472.0 517.3 474.0 515.6 476.0 513.9 478.0 512.4 480.0 510.9 482.0 509.4 484.0 508.0 486.0 506.6 488.0 505.3 490.0 504.1 492.0 502.9 494.0 501.7 496.0 500.6 498.0 499.6 500.0 498.6 502.0 497.6 504.0 496.7 506.0 495.8 508.0 495.0 510.0 494.2 512.0 493.4 514.0 492.7 516.0 492.1 518.0 491.5 520.0 491.0 522.0 490.6 524.0 490.1 526.0 489.7 528.0 489.3 530.0 488.9 532.0 488.6 534.0 488.4 536.0 488.3 538.0 488.3 540.0 488.4 542.0 488.5 544.0 488.8 546.0 489.0 548.0 489.3 550.0 489.6 552.0 490.0 554.0 490.3 556.0 490.7 558.0 491.1 560.0 491.5 562.0 492.0 564.0 492.6 566.0 493.2 568.0 493.8 570.0 494.5 572.0 495.3 574.0 496.1 576.0 496.9 578.0 497.7 580.0 498.6 582.0 499.6 584.0 500.7 586.0 501.9 588.0 503.3 590.0 504.7 592.0 506.2 594.0 507.8 596.0 509.5 598.0 511.3 600.0 513.0 602.0 514.8 604.0 516.7 606.0 518.5 608.0 520.4 610.0 522.2 612.0 524.0 614.0 525.8 616.0 527.5 618.0 529.2 620.0 531.0 622.0 532.8 624.0 534.6 626.0 536.4 628.0 538.2 630.0 540.1 632.0 541.9 634.0 543.8 636.0 545.7 638.0 547.7 640.0 549.7 642.0 551.7 644.0 553.7 646.0 555.8 648.0 557.9 650.0 560.1 652.0 562.4 654.0 564.7 656.0 567.1 658.0 569.6 660.0 572.1 662.0 574.6 664.0 577.2 666.0 579.8 668.0 582.4 670.0 585.0 672.0 587.6 674.0 590.2 676.0 592.8 678.0 595.3 680.0 597.8 682.0 600.3 684.0 602.7 686.0 605.0 688.0 607.4 690.0 609.7 692.0 612.0 694.0 614.3 696.0 616.6 698.0 618.9 700.0 621.2 702.0 623.4 704.0 625.7 706.0 628.0 708.0 630.2 710.0 632.5 712.0 634.8 714.0 637.1 716.0 639.5 718.0 641.8 720.0 644.2 722.0 646.6 724.0 649.1 726.0 651.5 728.0 654.0 730.0 656.5 732.0 659.0 734.0 661.5 736.0 664.0 738.0 666.4 740.0 668.9 742.0 671.3 744.0 673.7 746.0 676.0 748.0 678.3 750.0 680.5 752.0 682.6 754.0 684.7 756.0 686.8 758.0 688.9 760.0 691.0 762.0 693.1 764.0 695.1 766.0 697.2 768.0 699.1 770.0 701.1 772.0 702.9 774.0 704.8 776.0 706.6 778.0 708.3 780.0 709.9 782.0 711.5 784.0 713.0 786.0 714.5 788.0 715.9 790.0 717.3 792.0 718.7 794.0 720.1 796.0 721.5 798.0 722.8 800.0 724.0 802.0 725.3 804.0 726.4 806.0 727.5 808.0 728.6 810.0 729.6 812.0 730.5 814.0 731.4 816.0 732.1 818.0 732.8 820.0 733.5 822.0 734.2 824.0 734.8 826.0 735.4 828.0 736.0 830.0 736.6 832.0 737.2 834.0 737.7 836.0 738.3 838.0 738.8 840.0 739.3 842.0 739.8 844.0 740.3 846.0 740.7 848.0 741.1 850.0 741.5 852.0 741.9 854.0 742.3 856.0 742.6 858.0 743.0 860.0 743.3 862.0 743.6 864.0 743.8 866.0 744.1 868.0 744.3 870.0 744.5 872.0 744.7 874.0 744.9 876.0 745.1 878.0 745.3 880.0 745.5 882.0 745.7 884.0 745.8 886.0 746.0 888.0 746.1 890.0 746.3 892.0 746.4 894.0 746.6 896.0 746.7 898.0 746.8 900.0 747.0 902.0 747.1 904.0 747.2 906.0 747.3 908.0 747.4 910.0 747.5 912.0 747.6 914.0 747.7 916.0 747.7 918.0 747.8 920.0 747.9 922.0 747.9 924.0 748.0 926.0 748.1 928.0 748.1 930.0 748.2 932.0 748.2 934.0 748.3 936.0 748.3 938.0 748.4 940.0 748.4 942.0 748.5 944.0 748.5 946.0 748.6 948.0 748.6 950.0 748.7 952.0 748.7 954.0 748.8 956.0 748.8 958.0 748.8 960.0 748.9 962.0 748.9 964.0 748.9 966.0 749.0 968.0 749.0 970.0 749.0 972.0 749.1 974.0 749.1 976.0 749.1 978.0 749.2 980.0 749.2 982.0 749.2 984.0 749.3 986.0 749.3 988.0 749.3 990.0 749.3 992.0 749.4 994.0 749.4 996.0 749.4 998.0 749.4 1000.0 749.5 1002.0 749.5 1004.0 749.5 1005.0 749.5"/>
<path clip-path="url(#cl1)" fill="none" stroke="#2a2eec" stroke-width="3" stroke-linejoin="round" stroke-linecap="butt" stroke-dasharray="11.1 4.8" d="M72.0 749.6L74.0 749.6 76.0 749.6 78.0 749.6 80.0 749.6 82.0 749.6 84.0 749.6 86.0 749.5 88.0 749.5 90.0 749.5 92.0 749.5 94.0 749.5 96.0 749.4 98.0 749.4 100.0 749.4 102.0 749.3 104.0 749.3 106.0 749.3 108.0 749.2 110.0 749.2 112.0 749.1 114.0 749.1 116.0 749.1 118.0 749.0 120.0 749.0 122.0 748.9 124.0 748.8 126.0 748.8 128.0 748.7 130.0 748.7 132.0 748.6 134.0 748.6 136.0 748.5 138.0 748.4 140.0 748.4 142.0 748.3 144.0 748.2 146.0 748.1 148.0 748.1 150.0 748.0 152.0 747.9 154.0 747.8 156.0 747.7 158.0 747.5 160.0 747.3 162.0 747.1 164.0 746.9 166.0 746.7 168.0 746.4 170.0 746.1 172.0 745.8 174.0 745.5 176.0 745.2 178.0 744.9 180.0 744.5 182.0 744.2 184.0 743.8 186.0 743.4 188.0 743.1 190.0 742.7 192.0 742.3 194.0 741.9 196.0 741.4 198.0 741.0 200.0 740.6 202.0 740.2 204.0 739.8 206.0 739.3 208.0 738.9 210.0 738.5 212.0 738.1 214.0 737.6 216.0 737.2 218.0 736.7 220.0 736.2 222.0 735.7 224.0 735.2 226.0 734.7 228.0 734.1 230.0 733.6 232.0 733.0 234.0 732.5 236.0 731.9 238.0 731.3 240.0 730.6 242.0 730.0 244.0 729.4 246.0 728.7 248.0 728.1 250.0 727.4 252.0 726.7 254.0 726.0 256.0 725.3 258.0 724.6 260.0 723.9 262.0 723.1 264.0 722.4 266.0 721.6 268.0 720.8 270.0 720.0 272.0 719.3 274.0 718.5 276.0 717.6 278.0 716.8 280.0 716.0 282.0 715.2 284.0 714.3 286.0 713.4 288.0 712.5 290.0 711.6 292.0 710.6 294.0 709.6 296.0 708.6 298.0 707.5 300.0 706.5 302.0 705.4 304.0 704.2 306.0 703.0 308.0 701.8 310.0 700.6 312.0 699.3 314.0 698.0 316.0 696.6 318.0 695.2 320.0 693.8 322.0 692.2 324.0 690.5 326.0 688.8 328.0 686.9 330.0 684.9 332.0 682.9 334.0 680.8 336.0 678.7 338.0 676.5 340.0 674.2 342.0 672.0 344.0 669.7 346.0 667.3 348.0 665.0 350.0 662.7 352.0 660.4 354.0 658.1 356.0 655.8 358.0 653.6 360.0 651.3 362.0 649.1 364.0 646.9 366.0 644.7 368.0 642.4 370.0 640.2 372.0 637.9 374.0 635.7 376.0 633.4 378.0 631.1 380.0 628.8 382.0 626.4 384.0 624.1 386.0 621.7 388.0 619.3 390.0 616.9 392.0 614.5 394.0 612.0 396.0 609.5 398.0 607.0 400.0 604.4 402.0 601.8 404.0 599.1 406.0 596.3 408.0 593.5 410.0 590.6 412.0 587.8 414.0 584.9 416.0 581.9 418.0 579.0 420.0 576.1 422.0 573.2 424.0 570.4 426.0 567.5 428.0 564.8 430.0 562.0 432.0 559.4 434.0 556.7 436.0 554.2 438.0 551.8 440.0 549.3 442.0 546.9 444.0 544.5 446.0 542.1 448.0 539.7 450.0 537.3 452.0 535.0 454.0 532.8 456.0 530.5 458.0 528.4 460.0 526.3 462.0 524.2 464.0 522.3 466.0 520.4 468.0 518.7 470.0 517.0 472.0 515.4 474.0 513.8 476.0 512.2 478.0 510.6 480.0 509.0 482.0 507.5 484.0 506.1 486.0 504.7 488.0 503.4 490.0 502.1 492.0 500.9 494.0 499.9 496.0 498.9 498.0 498.1 500.0 497.3 502.0 496.7 504.0 496.1 506.0 495.5 508.0 494.9 510.0 494.4 512.0 493.9 514.0 493.4 516.0 492.9 518.0 492.5 520.0 492.1 522.0 491.7 524.0 491.4 526.0 491.2 528.0 491.0 530.0 490.9 532.0 490.9 534.0 491.0 536.0 491.2 538.0 491.6 540.0 492.0 542.0 492.6 544.0 493.2 546.0 493.8 548.0 494.5 550.0 495.2 552.0 495.8 554.0 496.5 556.0 497.2 558.0 498.1 560.0 498.9 562.0 499.8 564.0 500.8 566.0 501.8 568.0 502.8 570.0 503.7 572.0 504.7 574.0 505.7 576.0 506.6 578.0 507.5 580.0 508.4 582.0 509.3 584.0 510.3 586.0 511.2 588.0 512.3 590.0 513.4 592.0 514.6 594.0 515.8 596.0 517.2 598.0 518.8 600.0 520.5 602.0 522.4 604.0 524.4 606.0 526.4 608.0 528.6 610.0 530.8 612.0 533.0 614.0 535.3 616.0 537.6 618.0 539.9 620.0 542.2 622.0 544.5 624.0 546.7 626.0 548.9 628.0 551.0 630.0 553.0 632.0 554.9 634.0 556.7 636.0 558.5 638.0 560.2 640.0 561.9 642.0 563.6 644.0 565.3 646.0 566.9 648.0 568.6 650.0 570.3 652.0 572.0 654.0 573.8 656.0 575.7 658.0 577.6 660.0 579.6 662.0 581.7 664.0 584.0 666.0 586.3 668.0 588.9 670.0 591.8 672.0 595.0 674.0 598.3 676.0 601.7 678.0 605.1 680.0 608.6 682.0 611.9 684.0 615.2 686.0 618.5 688.0 621.8 690.0 625.2 692.0 628.6 694.0 631.9 696.0 635.1 698.0 638.1 700.0 640.8 702.0 643.4 704.0 645.8 706.0 648.1 708.0 650.2 710.0 652.4 712.0 654.4 714.0 656.5 716.0 658.5 718.0 660.6 720.0 662.7 722.0 664.9 724.0 667.0 726.0 669.1 728.0 671.1 730.0 673.1 732.0 674.9 734.0 676.7 736.0 678.3 738.0 679.9 740.0 681.5 742.0 683.0 744.0 684.4 746.0 685.7 748.0 687.0 750.0 688.2 752.0 689.3 754.0 690.3 756.0 691.3 758.0 692.2 760.0 693.0 762.0 693.8 764.0 694.6 766.0 695.4 768.0 696.2 770.0 697.0 772.0 697.8 774.0 698.7 776.0 699.5 778.0 700.5 780.0 701.4 782.0 702.3 784.0 703.2 786.0 704.1 788.0 705.0 790.0 706.0 792.0 707.0 794.0 707.9 796.0 708.9 798.0 710.0 800.0 711.0 802.0 712.1 804.0 713.3 806.0 714.5 808.0 715.7 810.0 716.9 812.0 718.1 814.0 719.3 816.0 720.4 818.0 721.4 820.0 722.4 822.0 723.5 824.0 724.5 826.0 725.5 828.0 726.5 830.0 727.5 832.0 728.5 834.0 729.4 836.0 730.3 838.0 731.2 840.0 732.1 842.0 732.9 844.0 733.7 846.0 734.4 848.0 735.1 850.0 735.7 852.0 736.3 854.0 736.8 856.0 737.4 858.0 737.9 860.0 738.5 862.0 739.0 864.0 739.5 866.0 740.0 868.0 740.5 870.0 740.9 872.0 741.4 874.0 741.8 876.0 742.3 878.0 742.7 880.0 743.1 882.0 743.4 884.0 743.8 886.0 744.1 888.0 744.4 890.0 744.7 892.0 745.0 894.0 745.3 896.0 745.5 898.0 745.7 900.0 745.9 902.0 746.1 904.0 746.2 906.0 746.4 908.0 746.6 910.0 746.7 912.0 746.9 914.0 747.0 916.0 747.1 918.0 747.3 920.0 747.4 922.0 747.5 924.0 747.6 926.0 747.8 928.0 747.9 930.0 748.0 932.0 748.1 934.0 748.2 936.0 748.3 938.0 748.4 940.0 748.4 942.0 748.5 944.0 748.6 946.0 748.7 948.0 748.7 950.0 748.8 952.0 748.8 954.0 748.9 956.0 748.9 958.0 749.0 960.0 749.0 962.0 749.0 964.0 749.1 966.0 749.1 968.0 749.1 970.0 749.1 972.0 749.2 974.0 749.2 976.0 749.2 978.0 749.2 980.0 749.2 982.0 749.3 984.0 749.3 986.0 749.3 988.0 749.3 990.0 749.3 992.0 749.4 994.0 749.4 996.0 749.4 998.0 749.4 1000.0 749.4 1002.0 749.4 1004.0 749.4 1006.0 749.5 1008.0 749.5 1010.0 749.5 1012.0 749.5 1014.0 749.5 1016.0 749.5 1018.0 749.5 1020.0 749.5 1022.0 749.5 1023.0 749.5"/>
<path clip-path="url(#cl1)" fill="none" stroke="#2a2eec" stroke-width="3" stroke-linejoin="round" stroke-linecap="butt" stroke-dasharray="3.0 4.9" d="M150.0 748.5L152.0 748.3 154.0 748.1 156.0 747.9 158.0 747.7 160.0 747.5 162.0 747.2 164.0 747.0 166.0 746.7 168.0 746.5 170.0 746.2 172.0 745.9 174.0 745.6 176.0 745.3 178.0 745.0 180.0 744.7 182.0 744.3 184.0 744.0 186.0 743.7 188.0 743.3 190.0 742.9 192.0 742.6 194.0 742.2 196.0 741.8 198.0 741.4 200.0 741.0 202.0 740.6 204.0 740.2 206.0 739.8 208.0 739.4 210.0 739.0 212.0 738.6 214.0 738.1 216.0 737.7 218.0 737.2 220.0 736.7 222.0 736.3 224.0 735.8 226.0 735.2 228.0 734.7 230.0 734.2 232.0 733.6 234.0 733.1 236.0 732.5 238.0 731.9 240.0 731.3 242.0 730.7 244.0 730.1 246.0 729.4 248.0 728.8 250.0 728.1 252.0 727.4 254.0 726.8 256.0 726.1 258.0 725.4 260.0 724.7 262.0 723.9 264.0 723.2 266.0 722.5 268.0 721.7 270.0 721.0 272.0 720.2 274.0 719.4 276.0 718.6 278.0 717.8 280.0 717.0 282.0 716.2 284.0 715.3 286.0 714.5 288.0 713.6 290.0 712.7 292.0 711.7 294.0 710.8 296.0 709.8 298.0 708.8 300.0 707.7 302.0 706.6 304.0 705.5 306.0 704.4 308.0 703.2 310.0 702.0 312.0 700.7 314.0 699.4 316.0 698.1 318.0 696.7 320.0 695.3 322.0 693.7 324.0 692.1 326.0 690.3 328.0 688.5 330.0 686.5 332.0 684.5 334.0 682.4 336.0 680.3 338.0 678.1 340.0 675.8 342.0 673.6 344.0 671.3 346.0 669.0 348.0 666.7 350.0 664.4 352.0 662.2 354.0 659.9 356.0 657.7 358.0 655.5 360.0 653.4 362.0 651.3 364.0 649.1 366.0 647.0 368.0 644.9 370.0 642.7 372.0 640.6 374.0 638.4 376.0 636.3 378.0 634.1 380.0 631.9 382.0 629.8 384.0 627.6 386.0 625.4 388.0 623.2 390.0 621.0 392.0 618.7 394.0 616.5 396.0 614.3 398.0 612.0 400.0 609.7 402.0 607.4 404.0 605.0 406.0 602.6 408.0 600.2 410.0 597.8 412.0 595.4 414.0 592.9 416.0 590.5 418.0 588.0 420.0 585.6 422.0 583.2 424.0 580.8 426.0 578.4 428.0 576.0 430.0 573.7 432.0 571.5 434.0 569.2 436.0 567.1 438.0 564.9 440.0 562.8 442.0 560.7 444.0 558.6 446.0 556.6 448.0 554.5 450.0 552.5 452.0 550.5 454.0 548.5 456.0 546.5 458.0 544.6 460.0 542.8 462.0 541.0 464.0 539.2 466.0 537.5 468.0 535.8 470.0 534.2 472.0 532.6 474.0 531.1 476.0 529.6 478.0 528.1 480.0 526.6 482.0 525.2 484.0 523.8 486.0 522.4 488.0 521.1 490.0 519.8 492.0 518.6 494.0 517.4 496.0 516.2 498.0 515.1 500.0 514.1 502.0 513.1 504.0 512.1 506.0 511.1 508.0 510.1 510.0 509.2 512.0 508.3 514.0 507.5 516.0 506.7 518.0 506.1 520.0 505.6 522.0 505.2 524.0 504.9 526.0 504.6 528.0 504.4 530.0 504.1 532.0 503.9 534.0 503.7 536.0 503.5 538.0 503.4 540.0 503.3 542.0 503.3 544.0 503.3 546.0 503.4 548.0 503.5 550.0 503.7 552.0 503.9 554.0 504.1 556.0 504.4 558.0 504.6 560.0 504.9 562.0 505.2 564.0 505.5 566.0 505.8 568.0 506.1 570.0 506.5 572.0 507.0 574.0 507.4 576.0 507.9 578.0 508.5 580.0 509.0 582.0 509.7 584.0 510.3 586.0 511.0 588.0 511.6 590.0 512.4 592.0 513.1 594.0 514.0 596.0 514.9 598.0 516.0 600.0 517.2 602.0 518.4 604.0 519.7 606.0 521.1 608.0 522.5 610.0 523.9 612.0 525.3 614.0 526.7 616.0 528.1 618.0 529.6 620.0 531.0 622.0 532.5 624.0 534.0 626.0 535.5 628.0 537.1 630.0 538.7 632.0 540.3 634.0 542.0 636.0 543.7 638.0 545.4 640.0 547.2 642.0 549.0 644.0 550.8 646.0 552.7 648.0 554.6 650.0 556.6 652.0 558.7 654.0 560.8 656.0 563.1 658.0 565.4 660.0 567.7 662.0 570.2 664.0 572.6 666.0 575.1 668.0 577.6 670.0 580.2 672.0 582.7 674.0 585.3 676.0 587.8 678.0 590.3 680.0 592.8 682.0 595.2 684.0 597.6 686.0 599.9 688.0 602.3 690.0 604.7 692.0 607.0 694.0 609.4 696.0 611.8 698.0 614.1 700.0 616.5 702.0 618.8 704.0 621.2 706.0 623.5 708.0 625.9 710.0 628.2 712.0 630.6 714.0 633.0 716.0 635.3 718.0 637.7 720.0 640.1 722.0 642.6 724.0 645.0 726.0 647.5 728.0 650.0 730.0 652.5 732.0 655.0 734.0 657.5 736.0 659.9 738.0 662.4 740.0 664.8 742.0 667.1 744.0 669.5 746.0 671.8 748.0 674.0 750.0 676.1 752.0 678.2 754.0 680.2 756.0 682.2 758.0 684.2 760.0 686.2 762.0 688.1 764.0 690.0 766.0 691.9 768.0 693.7 770.0 695.5 772.0 697.3 774.0 699.0 776.0 700.7 778.0 702.3 780.0 703.9 782.0 705.5 784.0 707.0 786.0 708.5 788.0 710.0 790.0 711.5 792.0 712.9 794.0 714.4 796.0 715.8 798.0 717.2 800.0 718.5 802.0 719.8 804.0 721.1 806.0 722.3 808.0 723.5 810.0 724.6 812.0 725.7 814.0 726.7 816.0 727.6 818.0 728.4 820.0 729.3 822.0 730.1 824.0 730.9 826.0 731.7 828.0 732.5 830.0 733.2 832.0 734.0 834.0 734.7 836.0 735.4 838.0 736.1 840.0 736.8 842.0 737.5 844.0 738.1 846.0 738.7 848.0 739.3 850.0 739.9 852.0 740.4 854.0 740.9 856.0 741.4 858.0 741.9 860.0 742.3 862.0 742.7 864.0 743.1 866.0 743.4 868.0 743.7 870.0 744.0 872.0 744.2 874.0 744.5 876.0 744.7 878.0 744.9 880.0 745.2 882.0 745.4 884.0 745.6 886.0 745.8 888.0 746.0 890.0 746.1 892.0 746.3 894.0 746.5 896.0 746.6 898.0 746.8 900.0 746.9 902.0 747.1 904.0 747.2 906.0 747.3 908.0 747.5 910.0 747.6 912.0 747.7 914.0 747.8 916.0 747.8 918.0 747.9 920.0 748.0 922.0 748.1 924.0 748.1 926.0 748.2 928.0 748.3 930.0 748.3 932.0 748.4 934.0 748.5 936.0 748.5 938.0 748.6 940.0 748.7 942.0 748.7 944.0 748.8 946.0 748.8 948.0 748.9 950.0 748.9 952.0 749.0 954.0 749.0 956.0 749.1 958.0 749.1 960.0 749.2 962.0 749.2 964.0 749.2 966.0 749.3 968.0 749.3 970.0 749.3 972.0 749.4 974.0 749.4 976.0 749.4 978.0 749.4 980.0 749.5 982.0 749.5 984.0 749.5 986.0 749.5 988.0 749.5 990.0 749.5"/>
<path clip-path="url(#cl1)" fill="none" stroke="#2a2eec" stroke-width="3" stroke-linejoin="round" stroke-linecap="butt" stroke-dasharray="19.2 4.8 3.0 4.8" d="M104.0 749.5L106.0 749.5 108.0 749.5 110.0 749.5 112.0 749.5 114.0 749.4 116.0 749.4 118.0 749.4 120.0 749.4 122.0 749.3 124.0 749.3 126.0 749.2 128.0 749.2 130.0 749.1 132.0 749.1 134.0 749.0 136.0 749.0 138.0 748.9 140.0 748.8 142.0 748.8 144.0 748.7 146.0 748.6 148.0 748.6 150.0 748.5 152.0 748.4 154.0 748.3 156.0 748.2 158.0 748.0 160.0 747.8 162.0 747.6 164.0 747.4 166.0 747.2 168.0 746.9 170.0 746.6 172.0 746.3 174.0 746.0 176.0 745.7 178.0 745.4 180.0 745.0 182.0 744.7 184.0 744.3 186.0 743.9 188.0 743.5 190.0 743.2 192.0 742.8 194.0 742.3 196.0 741.9 198.0 741.5 200.0 741.1 202.0 740.7 204.0 740.3 206.0 739.8 208.0 739.4 210.0 739.0 212.0 738.6 214.0 738.1 216.0 737.7 218.0 737.2 220.0 736.7 222.0 736.2 224.0 735.7 226.0 735.2 228.0 734.7 230.0 734.1 232.0 733.6 234.0 733.0 236.0 732.4 238.0 731.8 240.0 731.2 242.0 730.6 244.0 730.0 246.0 729.3 248.0 728.7 250.0 728.0 252.0 727.4 254.0 726.7 256.0 726.0 258.0 725.3 260.0 724.6 262.0 723.9 264.0 723.1 266.0 722.4 268.0 721.6 270.0 720.9 272.0 720.1 274.0 719.4 276.0 718.6 278.0 717.8 280.0 717.0 282.0 716.2 284.0 715.4 286.0 714.5 288.0 713.7 290.0 712.8 292.0 711.9 294.0 711.0 296.0 710.0 298.0 709.0 300.0 708.0 302.0 707.0 304.0 705.9 306.0 704.9 308.0 703.7 310.0 702.6 312.0 701.4 314.0 700.2 316.0 698.9 318.0 697.7 320.0 696.3 322.0 694.9 324.0 693.4 326.0 691.9 328.0 690.2 330.0 688.5 332.0 686.8 334.0 685.0 336.0 683.1 338.0 681.2 340.0 679.2 342.0 677.2 344.0 675.2 346.0 673.2 348.0 671.1 350.0 669.0 352.0 666.9 354.0 664.8 356.0 662.6 358.0 660.5 360.0 658.4 362.0 656.2 364.0 654.1 366.0 651.8 368.0 649.6 370.0 647.3 372.0 644.9 374.0 642.6 376.0 640.2 378.0 637.8 380.0 635.3 382.0 632.9 384.0 630.4 386.0 627.8 388.0 625.2 390.0 622.7 392.0 620.0 394.0 617.4 396.0 614.7 398.0 612.0 400.0 609.2 402.0 606.4 404.0 603.4 406.0 600.4 408.0 597.3 410.0 594.1 412.0 590.9 414.0 587.7 416.0 584.5 418.0 581.2 420.0 577.9 422.0 574.7 424.0 571.5 426.0 568.3 428.0 565.2 430.0 562.1 432.0 559.1 434.0 556.2 436.0 553.4 438.0 550.6 440.0 548.0 442.0 545.3 444.0 542.7 446.0 540.2 448.0 537.6 450.0 535.1 452.0 532.7 454.0 530.2 456.0 527.8 458.0 525.4 460.0 523.1 462.0 520.7 464.0 518.4 466.0 516.1 468.0 513.8 470.0 511.5 472.0 509.2 474.0 506.8 476.0 504.5 478.0 502.1 480.0 499.8 482.0 497.6 484.0 495.4 486.0 493.4 488.0 491.5 490.0 489.8 492.0 488.2 494.0 486.7 496.0 485.2 498.0 483.8 500.0 482.5 502.0 481.3 504.0 480.3 506.0 479.4 508.0 478.6 510.0 477.9 512.0 477.2 514.0 476.5 516.0 475.8 518.0 475.3 520.0 474.9 522.0 474.6 524.0 474.4 526.0 474.4 528.0 474.6 530.0 474.9 532.0 475.4 534.0 475.9 536.0 476.5 538.0 477.2 540.0 477.9 542.0 478.6 544.0 479.4 546.0 480.1 548.0 480.8 550.0 481.6 552.0 482.4 554.0 483.3 556.0 484.2 558.0 485.2 560.0 486.2 562.0 487.3 564.0 488.4 566.0 489.6 568.0 490.9 570.0 492.2 572.0 493.6 574.0 495.0 576.0 496.4 578.0 497.9 580.0 499.3 582.0 500.8 584.0 502.2 586.0 503.7 588.0 505.3 590.0 506.9 592.0 508.7 594.0 510.5 596.0 512.4 598.0 514.5 600.0 516.6 602.0 518.8 604.0 521.0 606.0 523.2 608.0 525.5 610.0 527.8 612.0 530.1 614.0 532.4 616.0 534.7 618.0 537.0 620.0 539.4 622.0 541.7 624.0 544.1 626.0 546.5 628.0 549.0 630.0 551.6 632.0 554.3 634.0 557.0 636.0 559.9 638.0 562.8 640.0 565.9 642.0 568.9 644.0 572.0 646.0 575.1 648.0 578.2 650.0 581.3 652.0 584.5 654.0 587.8 656.0 591.1 658.0 594.4 660.0 597.7 662.0 600.9 664.0 604.0 666.0 606.9 668.0 609.8 670.0 612.7 672.0 615.6 674.0 618.4 676.0 621.1 678.0 623.6 680.0 625.9 682.0 628.1 684.0 629.9 686.0 631.6 688.0 633.1 690.0 634.5 692.0 635.8 694.0 637.0 696.0 638.3 698.0 639.6 700.0 641.0 702.0 642.3 704.0 643.7 706.0 645.0 708.0 646.4 710.0 647.7 712.0 649.1 714.0 650.5 716.0 652.1 718.0 653.7 720.0 655.5 722.0 657.4 724.0 659.3 726.0 661.4 728.0 663.5 730.0 665.6 732.0 667.7 734.0 669.7 736.0 671.7 738.0 673.8 740.0 675.8 742.0 677.9 744.0 679.9 746.0 682.0 748.0 683.9 750.0 685.9 752.0 687.7 754.0 689.5 756.0 691.2 758.0 693.0 760.0 694.7 762.0 696.4 764.0 698.1 766.0 699.7 768.0 701.3 770.0 702.9 772.0 704.5 774.0 706.0 776.0 707.5 778.0 708.9 780.0 710.3 782.0 711.7 784.0 713.0 786.0 714.3 788.0 715.6 790.0 716.9 792.0 718.1 794.0 719.4 796.0 720.6 798.0 721.8 800.0 722.9 802.0 724.1 804.0 725.2 806.0 726.2 808.0 727.2 810.0 728.2 812.0 729.0 814.0 729.9 816.0 730.6 818.0 731.3 820.0 732.0 822.0 732.7 824.0 733.4 826.0 734.0 828.0 734.7 830.0 735.3 832.0 735.9 834.0 736.5 836.0 737.1 838.0 737.7 840.0 738.2 842.0 738.8 844.0 739.3 846.0 739.8 848.0 740.3 850.0 740.7 852.0 741.2 854.0 741.6 856.0 742.0 858.0 742.3 860.0 742.7 862.0 743.0 864.0 743.3 866.0 743.6 868.0 743.8 870.0 744.0 872.0 744.2 874.0 744.4 876.0 744.6 878.0 744.7 880.0 744.9 882.0 745.1 884.0 745.2 886.0 745.4 888.0 745.6 890.0 745.7 892.0 745.9 894.0 746.0 896.0 746.1 898.0 746.3 900.0 746.4 902.0 746.5 904.0 746.7 906.0 746.8 908.0 746.9 910.0 747.0 912.0 747.1 914.0 747.2 916.0 747.3 918.0 747.4 920.0 747.5 922.0 747.6 924.0 747.7 926.0 747.8 928.0 747.9 930.0 747.9 932.0 748.0 934.0 748.1 936.0 748.2 938.0 748.2 940.0 748.3 942.0 748.4 944.0 748.4 946.0 748.5 948.0 748.5 950.0 748.6 952.0 748.7 954.0 748.7 956.0 748.8 958.0 748.8 960.0 748.9 962.0 748.9 964.0 749.0 966.0 749.0 968.0 749.0 970.0 749.1 972.0 749.1 974.0 749.2 976.0 749.2 978.0 749.3 980.0 749.3 982.0 749.3 984.0 749.4 986.0 749.4 988.0 749.4 990.0 749.4 992.0 749.5 994.0 749.5 996.0 749.5 998.0 749.5 1000.0 749.5"/>
<path clip-path="url(#cl1)" fill="none" stroke="#fa7c17" stroke-width="3" stroke-linejoin="round" stroke-linecap="round" d="M178.7 749.5L179.7 749.5 181.7 749.5 183.7 749.5 185.7 749.4 187.7 749.4 189.7 749.4 191.7 749.4 193.7 749.3 195.7 749.3 197.7 749.3 199.7 749.3 201.7 749.2 203.7 749.2 205.7 749.2 207.7 749.1 209.7 749.1 211.7 749.1 213.7 749.0 215.7 749.0 217.7 749.0 219.7 748.9 221.7 748.9 223.7 748.9 225.7 748.8 227.7 748.8 229.7 748.8 231.7 748.7 233.7 748.7 235.7 748.6 237.7 748.6 239.7 748.5 241.7 748.5 243.7 748.4 245.7 748.4 247.7 748.3 249.7 748.3 251.7 748.2 253.7 748.2 255.7 748.1 257.7 748.1 259.7 748.0 261.7 747.9 263.7 747.9 265.7 747.8 267.7 747.7 269.7 747.7 271.7 747.6 273.7 747.5 275.7 747.4 277.7 747.3 279.7 747.2 281.7 747.1 283.7 747.0 285.7 746.8 287.7 746.7 289.7 746.6 291.7 746.4 293.7 746.3 295.7 746.1 297.7 746.0 299.7 745.8 301.7 745.7 303.7 745.5 305.7 745.3 307.7 745.1 309.7 744.9 311.7 744.7 313.7 744.5 315.7 744.3 317.7 744.1 319.7 743.8 321.7 743.6 323.7 743.3 325.7 743.0 327.7 742.6 329.7 742.3 331.7 741.9 333.7 741.5 335.7 741.1 337.7 740.7 339.7 740.3 341.7 739.8 343.7 739.3 345.7 738.8 347.7 738.3 349.7 737.7 351.7 737.2 353.7 736.6 355.7 736.0 357.7 735.4 359.7 734.8 361.7 734.2 363.7 733.5 365.7 732.8 367.7 732.1 369.7 731.4 371.7 730.5 373.7 729.6 375.7 728.6 377.7 727.5 379.7 726.4 381.7 725.3 383.7 724.0 385.7 722.8 387.7 721.5 389.7 720.1 391.7 718.7 393.7 717.3 395.7 715.9 397.7 714.5 399.7 713.0 401.7 711.5 403.7 709.9 405.7 708.3 407.7 706.6 409.7 704.8 411.7 702.9 413.7 701.1 415.7 699.1 417.7 697.2 419.7 695.1 421.7 693.1 423.7 691.0 425.7 688.9 427.7 686.8 429.7 684.7 431.7 682.6 433.7 680.5 435.7 678.3 437.7 676.0 439.7 673.7 441.7 671.3 443.7 668.9 445.7 666.4 447.7 664.0 449.7 661.5 451.7 659.0 453.7 656.5 455.7 654.0 457.7 651.5 459.7 649.1 461.7 646.6 463.7 644.2 465.7 641.8 467.7 639.5 469.7 637.1 471.7 634.8 473.7 632.5 475.7 630.2 477.7 628.0 479.7 625.7 481.7 623.4 483.7 621.2 485.7 618.9 487.7 616.6 489.7 614.3 491.7 612.0 493.7 609.7 495.7 607.4 497.7 605.0 499.7 602.7 501.7 600.3 503.7 597.8 505.7 595.3 507.7 592.8 509.7 590.2 511.7 587.6 513.7 585.0 515.7 582.4 517.7 579.8 519.7 577.2 521.7 574.6 523.7 572.1 525.7 569.6 527.7 567.1 529.7 564.7 531.7 562.4 533.7 560.1 535.7 557.9 537.7 555.8 539.7 553.7 541.7 551.7 543.7 549.7 545.7 547.7 547.7 545.7 549.7 543.8 551.7 541.9 553.7 540.1 555.7 538.2 557.7 536.4 559.7 534.6 561.7 532.8 563.7 531.0 565.7 529.2 567.7 527.5 569.7 525.8 571.7 524.0 573.7 522.2 575.7 520.4 577.7 518.5 579.7 516.7 581.7 514.8 583.7 513.0 585.7 511.3 587.7 509.5 589.7 507.8 591.7 506.2 593.7 504.7 595.7 503.3 597.7 501.9 599.7 500.7 601.7 499.6 603.7 498.6 605.7 497.7 607.7 496.9 609.7 496.1 611.7 495.3 613.7 494.5 615.7 493.8 617.7 493.2 619.7 492.6 621.7 492.0 623.7 491.5 625.7 491.1 627.7 490.7 629.7 490.3 631.7 490.0 633.7 489.6 635.7 489.3 637.7 489.0 639.7 488.8 641.7 488.5 643.7 488.4 645.7 488.3 647.7 488.3 649.7 488.4 651.7 488.6 653.7 488.9 655.7 489.3 657.7 489.7 659.7 490.1 661.7 490.6 663.7 491.0 665.7 491.5 667.7 492.1 669.7 492.7 671.7 493.4 673.7 494.2 675.7 495.0 677.7 495.8 679.7 496.7 681.7 497.6 683.7 498.6 685.7 499.6 687.7 500.6 689.7 501.7 691.7 502.9 693.7 504.1 695.7 505.3 697.7 506.6 699.7 508.0 701.7 509.4 703.7 510.9 705.7 512.4 707.7 513.9 709.7 515.6 711.7 517.3 713.7 519.1 715.7 521.0 717.7 523.0 719.7 525.1 721.7 527.2 723.7 529.4 725.7 531.7 727.7 534.0 729.7 536.3 731.7 538.7 733.7 541.0 735.7 543.5 737.7 545.9 739.7 548.3 741.7 550.8 743.7 553.2 745.7 555.7 747.7 558.1 749.7 560.6 751.7 563.2 753.7 565.8 755.7 568.5 757.7 571.2 759.7 574.0 761.7 576.8 763.7 579.6 765.7 582.4 767.7 585.2 769.7 588.1 771.7 590.9 773.7 593.7 775.7 596.5 777.7 599.2 779.7 601.9 781.7 604.5 783.7 607.1 785.7 609.7 787.7 612.1 789.7 614.6 791.7 617.0 793.7 619.4 795.7 621.8 797.7 624.1 799.7 626.4 801.7 628.7 803.7 631.0 805.7 633.3 807.7 635.6 809.7 637.8 811.7 640.1 813.7 642.3 815.7 644.5 817.7 646.7 819.7 648.9 821.7 651.2 823.7 653.4 825.7 655.6 827.7 657.8 829.7 660.1 831.7 662.3 833.7 664.7 835.7 667.0 837.7 669.3 839.7 671.6 841.7 674.0 843.7 676.2 845.7 678.5 847.7 680.7 849.7 682.9 851.7 685.0 853.7 687.0 855.7 688.9 857.7 690.8 859.7 692.6 861.7 694.2 863.7 695.8 865.7 697.2 867.7 698.6 869.7 700.0 871.7 701.3 873.7 702.5 875.7 703.7 877.7 704.9 879.7 706.1 881.7 707.2 883.7 708.3 885.7 709.3 887.7 710.3 889.7 711.4 891.7 712.3 893.7 713.3 895.7 714.3 897.7 715.2 899.7 716.1 901.7 717.1 903.7 718.0 905.7 718.9 907.7 719.8 909.7 720.7 911.7 721.6 913.7 722.5 915.7 723.3 917.7 724.2 919.7 725.0 921.7 725.8 923.7 726.6 925.7 727.3 927.7 728.0 929.7 728.7 931.7 729.4 933.7 730.0 935.7 730.6 937.7 731.2 939.7 731.8 941.7 732.3 943.7 732.9 945.7 733.4 947.7 733.9 949.7 734.4 951.7 734.9 953.7 735.4 955.7 735.8 957.7 736.3 959.7 736.8 961.7 737.2 963.7 737.6 965.7 738.0 967.7 738.4 969.7 738.8 971.7 739.2 973.7 739.6 975.7 740.0 977.7 740.3 979.7 740.7 981.7 741.1 983.7 741.4 985.7 741.8 987.7 742.1 989.7 742.5 991.7 742.8 993.7 743.2 995.7 743.5 997.7 743.8 999.7 744.2 1001.7 744.5 1003.7 744.8 1005.7 745.1 1007.7 745.4 1009.7 745.7 1011.7 746.0 1013.7 746.2 1015.7 746.5 1017.7 746.8 1019.7 747.0 1021.7 747.3 1023.7 747.5 1025.7 747.8 1027.7 748.0 1029.7 748.2 1031.7 748.4 1033.7 748.6"/>
<path clip-path="url(#cl1)" fill="none" stroke="#fa7c17" stroke-width="3" stroke-linejoin="round" stroke-linecap="butt" stroke-dasharray="11.1 4.8" d="M160.7 749.5L161.7 749.5 163.7 749.5 165.7 749.5 167.7 749.5 169.7 749.5 171.7 749.5 173.7 749.5 175.7 749.5 177.7 749.5 179.7 749.4 181.7 749.4 183.7 749.4 185.7 749.4 187.7 749.4 189.7 749.4 191.7 749.4 193.7 749.3 195.7 749.3 197.7 749.3 199.7 749.3 201.7 749.3 203.7 749.2 205.7 749.2 207.7 749.2 209.7 749.2 211.7 749.2 213.7 749.1 215.7 749.1 217.7 749.1 219.7 749.1 221.7 749.0 223.7 749.0 225.7 749.0 227.7 748.9 229.7 748.9 231.7 748.8 233.7 748.8 235.7 748.7 237.7 748.7 239.7 748.6 241.7 748.5 243.7 748.4 245.7 748.4 247.7 748.3 249.7 748.2 251.7 748.1 253.7 748.0 255.7 747.9 257.7 747.8 259.7 747.6 261.7 747.5 263.7 747.4 265.7 747.3 267.7 747.1 269.7 747.0 271.7 746.9 273.7 746.7 275.7 746.6 277.7 746.4 279.7 746.2 281.7 746.1 283.7 745.9 285.7 745.7 287.7 745.5 289.7 745.3 291.7 745.0 293.7 744.7 295.7 744.4 297.7 744.1 299.7 743.8 301.7 743.4 303.7 743.1 305.7 742.7 307.7 742.3 309.7 741.8 311.7 741.4 313.7 740.9 315.7 740.5 317.7 740.0 319.7 739.5 321.7 739.0 323.7 738.5 325.7 737.9 327.7 737.4 329.7 736.8 331.7 736.3 333.7 735.7 335.7 735.1 337.7 734.4 339.7 733.7 341.7 732.9 343.7 732.1 345.7 731.2 347.7 730.3 349.7 729.4 351.7 728.5 353.7 727.5 355.7 726.5 357.7 725.5 359.7 724.5 361.7 723.5 363.7 722.4 365.7 721.4 367.7 720.4 369.7 719.3 371.7 718.1 373.7 716.9 375.7 715.7 377.7 714.5 379.7 713.3 381.7 712.1 383.7 711.0 385.7 710.0 387.7 708.9 389.7 707.9 391.7 707.0 393.7 706.0 395.7 705.0 397.7 704.1 399.7 703.2 401.7 702.3 403.7 701.4 405.7 700.5 407.7 699.5 409.7 698.7 411.7 697.8 413.7 697.0 415.7 696.2 417.7 695.4 419.7 694.6 421.7 693.8 423.7 693.0 425.7 692.2 427.7 691.3 429.7 690.3 431.7 689.3 433.7 688.2 435.7 687.0 437.7 685.7 439.7 684.4 441.7 683.0 443.7 681.5 445.7 679.9 447.7 678.3 449.7 676.7 451.7 674.9 453.7 673.1 455.7 671.1 457.7 669.1 459.7 667.0 461.7 664.9 463.7 662.7 465.7 660.6 467.7 658.5 469.7 656.5 471.7 654.4 473.7 652.4 475.7 650.2 477.7 648.1 479.7 645.8 481.7 643.4 483.7 640.8 485.7 638.1 487.7 635.1 489.7 631.9 491.7 628.6 493.7 625.2 495.7 621.8 497.7 618.5 499.7 615.2 501.7 611.9 503.7 608.6 505.7 605.1 507.7 601.7 509.7 598.3 511.7 595.0 513.7 591.8 515.7 588.9 517.7 586.3 519.7 584.0 521.7 581.7 523.7 579.6 525.7 577.6 527.7 575.7 529.7 573.8 531.7 572.0 533.7 570.3 535.7 568.6 537.7 566.9 539.7 565.3 541.7 563.6 543.7 561.9 545.7 560.2 547.7 558.5 549.7 556.7 551.7 554.9 553.7 553.0 555.7 551.0 557.7 548.9 559.7 546.7 561.7 544.5 563.7 542.2 565.7 539.9 567.7 537.6 569.7 535.3 571.7 533.0 573.7 530.8 575.7 528.6 577.7 526.4 579.7 524.4 581.7 522.4 583.7 520.5 585.7 518.8 587.7 517.2 589.7 515.8 591.7 514.6 593.7 513.4 595.7 512.3 597.7 511.2 599.7 510.3 601.7 509.3 603.7 508.4 605.7 507.5 607.7 506.6 609.7 505.7 611.7 504.7 613.7 503.7 615.7 502.8 617.7 501.8 619.7 500.8 621.7 499.8 623.7 498.9 625.7 498.1 627.7 497.2 629.7 496.5 631.7 495.8 633.7 495.2 635.7 494.5 637.7 493.8 639.7 493.2 641.7 492.6 643.7 492.0 645.7 491.6 647.7 491.2 649.7 491.0 651.7 490.9 653.7 490.9 655.7 491.0 657.7 491.2 659.7 491.4 661.7 491.7 663.7 492.1 665.7 492.5 667.7 492.9 669.7 493.4 671.7 493.9 673.7 494.4 675.7 494.9 677.7 495.5 679.7 496.1 681.7 496.7 683.7 497.3 685.7 498.1 687.7 498.9 689.7 499.9 691.7 500.9 693.7 502.1 695.7 503.4 697.7 504.7 699.7 506.1 701.7 507.5 703.7 509.0 705.7 510.6 707.7 512.2 709.7 513.8 711.7 515.4 713.7 517.0 715.7 518.7 717.7 520.4 719.7 522.3 721.7 524.2 723.7 526.3 725.7 528.4 727.7 530.5 729.7 532.8 731.7 535.0 733.7 537.3 735.7 539.7 737.7 542.1 739.7 544.5 741.7 546.9 743.7 549.3 745.7 551.8 747.7 554.2 749.7 556.7 751.7 559.4 753.7 562.0 755.7 564.8 757.7 567.5 759.7 570.4 761.7 573.2 763.7 576.1 765.7 579.0 767.7 581.9 769.7 584.9 771.7 587.8 773.7 590.6 775.7 593.5 777.7 596.3 779.7 599.1 781.7 601.8 783.7 604.4 785.7 607.0 787.7 609.5 789.7 612.0 791.7 614.5 793.7 616.9 795.7 619.3 797.7 621.7 799.7 624.1 801.7 626.4 803.7 628.8 805.7 631.1 807.7 633.4 809.7 635.7 811.7 637.9 813.7 640.2 815.7 642.4 817.7 644.7 819.7 646.9 821.7 649.1 823.7 651.3 825.7 653.6 827.7 655.8 829.7 658.1 831.7 660.4 833.7 662.7 835.7 665.0 837.7 667.3 839.7 669.7 841.7 672.0 843.7 674.2 845.7 676.5 847.7 678.7 849.7 680.8 851.7 682.9 853.7 684.9 855.7 686.9 857.7 688.8 859.7 690.5 861.7 692.2 863.7 693.8 865.7 695.2 867.7 696.6 869.7 698.0 871.7 699.3 873.7 700.6 875.7 701.8 877.7 703.0 879.7 704.2 881.7 705.4 883.7 706.5 885.7 707.5 887.7 708.6 889.7 709.6 891.7 710.6 893.7 711.6 895.7 712.5 897.7 713.4 899.7 714.3 901.7 715.2 903.7 716.0 905.7 716.8 907.7 717.6 909.7 718.5 911.7 719.3 913.7 720.0 915.7 720.8 917.7 721.6 919.7 722.4 921.7 723.1 923.7 723.9 925.7 724.6 927.7 725.3 929.7 726.0 931.7 726.7 933.7 727.4 935.7 728.1 937.7 728.7 939.7 729.4 941.7 730.0 943.7 730.6 945.7 731.3 947.7 731.9 949.7 732.5 951.7 733.0 953.7 733.6 955.7 734.1 957.7 734.7 959.7 735.2 961.7 735.7 963.7 736.2 965.7 736.7 967.7 737.2 969.7 737.6 971.7 738.1 973.7 738.5 975.7 738.9 977.7 739.3 979.7 739.8 981.7 740.2 983.7 740.6 985.7 741.0 987.7 741.4 989.7 741.9 991.7 742.3 993.7 742.7 995.7 743.1 997.7 743.4 999.7 743.8 1001.7 744.2 1003.7 744.5 1005.7 744.9 1007.7 745.2 1009.7 745.5 1011.7 745.8 1013.7 746.1 1015.7 746.4 1017.7 746.7 1019.7 746.9 1021.7 747.1 1023.7 747.3 1025.7 747.5 1027.7 747.7 1029.7 747.8 1031.7 747.9 1033.7 748.0 1035.7 748.1 1037.7 748.1 1039.7 748.2 1041.7 748.3 1043.7 748.4 1045.7 748.4 1047.7 748.5 1049.7 748.6 1051.7 748.6 1053.7 748.7 1055.7 748.7 1057.7 748.8 1059.7 748.8 1061.7 748.9 1063.7 749.0 1065.7 749.0 1067.7 749.1 1069.7 749.1 1071.7 749.1 1073.7 749.2 1075.7 749.2 1077.7 749.3 1079.7 749.3 1081.7 749.3 1083.7 749.4 1085.7 749.4 1087.7 749.4 1089.7 749.5 1091.7 749.5 1093.7 749.5 1095.7 749.5 1097.7 749.5 1099.7 749.6 1101.7 749.6 1103.7 749.6 1105.7 749.6 1107.7 749.6 1109.7 749.6 1111.7 749.6"/>
<path clip-path="url(#cl1)" fill="none" stroke="#fa7c17" stroke-width="3" stroke-linejoin="round" stroke-linecap="butt" stroke-dasharray="3.0 4.9" d="M193.7 749.5L195.7 749.5 197.7 749.5 199.7 749.5 201.7 749.5 203.7 749.5 205.7 749.4 207.7 749.4 209.7 749.4 211.7 749.4 213.7 749.3 215.7 749.3 217.7 749.3 219.7 749.2 221.7 749.2 223.7 749.2 225.7 749.1 227.7 749.1 229.7 749.0 231.7 749.0 233.7 748.9 235.7 748.9 237.7 748.8 239.7 748.8 241.7 748.7 243.7 748.7 245.7 748.6 247.7 748.5 249.7 748.5 251.7 748.4 253.7 748.3 255.7 748.3 257.7 748.2 259.7 748.1 261.7 748.1 263.7 748.0 265.7 747.9 267.7 747.8 269.7 747.8 271.7 747.7 273.7 747.6 275.7 747.5 277.7 747.3 279.7 747.2 281.7 747.1 283.7 746.9 285.7 746.8 287.7 746.6 289.7 746.5 291.7 746.3 293.7 746.1 295.7 746.0 297.7 745.8 299.7 745.6 301.7 745.4 303.7 745.2 305.7 744.9 307.7 744.7 309.7 744.5 311.7 744.2 313.7 744.0 315.7 743.7 317.7 743.4 319.7 743.1 321.7 742.7 323.7 742.3 325.7 741.9 327.7 741.4 329.7 740.9 331.7 740.4 333.7 739.9 335.7 739.3 337.7 738.7 339.7 738.1 341.7 737.5 343.7 736.8 345.7 736.1 347.7 735.4 349.7 734.7 351.7 734.0 353.7 733.2 355.7 732.5 357.7 731.7 359.7 730.9 361.7 730.1 363.7 729.3 365.7 728.4 367.7 727.6 369.7 726.7 371.7 725.7 373.7 724.6 375.7 723.5 377.7 722.3 379.7 721.1 381.7 719.8 383.7 718.5 385.7 717.2 387.7 715.8 389.7 714.4 391.7 712.9 393.7 711.5 395.7 710.0 397.7 708.5 399.7 707.0 401.7 705.5 403.7 703.9 405.7 702.3 407.7 700.7 409.7 699.0 411.7 697.3 413.7 695.5 415.7 693.7 417.7 691.9 419.7 690.0 421.7 688.1 423.7 686.2 425.7 684.2 427.7 682.2 429.7 680.2 431.7 678.2 433.7 676.1 435.7 674.0 437.7 671.8 439.7 669.5 441.7 667.1 443.7 664.8 445.7 662.4 447.7 659.9 449.7 657.5 451.7 655.0 453.7 652.5 455.7 650.0 457.7 647.5 459.7 645.0 461.7 642.6 463.7 640.1 465.7 637.7 467.7 635.3 469.7 633.0 471.7 630.6 473.7 628.2 475.7 625.9 477.7 623.5 479.7 621.2 481.7 618.8 483.7 616.5 485.7 614.1 487.7 611.8 489.7 609.4 491.7 607.0 493.7 604.7 495.7 602.3 497.7 599.9 499.7 597.6 501.7 595.2 503.7 592.8 505.7 590.3 507.7 587.8 509.7 585.3 511.7 582.7 513.7 580.2 515.7 577.6 517.7 575.1 519.7 572.6 521.7 570.2 523.7 567.7 525.7 565.4 527.7 563.1 529.7 560.8 531.7 558.7 533.7 556.6 535.7 554.6 537.7 552.7 539.7 550.8 541.7 549.0 543.7 547.2 545.7 545.4 547.7 543.7 549.7 542.0 551.7 540.3 553.7 538.7 555.7 537.1 557.7 535.5 559.7 534.0 561.7 532.5 563.7 531.0 565.7 529.6 567.7 528.1 569.7 526.7 571.7 525.3 573.7 523.9 575.7 522.5 577.7 521.1 579.7 519.7 581.7 518.4 583.7 517.2 585.7 516.0 587.7 514.9 589.7 514.0 591.7 513.1 593.7 512.4 595.7 511.6 597.7 511.0 599.7 510.3 601.7 509.7 603.7 509.0 605.7 508.5 607.7 507.9 609.7 507.4 611.7 507.0 613.7 506.5 615.7 506.1 617.7 505.8 619.7 505.5 621.7 505.2 623.7 504.9 625.7 504.6 627.7 504.4 629.7 504.1 631.7 503.9 633.7 503.7 635.7 503.5 637.7 503.4 639.7 503.3 641.7 503.3 643.7 503.3 645.7 503.4 647.7 503.5 649.7 503.7 651.7 503.9 653.7 504.1 655.7 504.4 657.7 504.6 659.7 504.9 661.7 505.2 663.7 505.6 665.7 506.1 667.7 506.7 669.7 507.5 671.7 508.3 673.7 509.2 675.7 510.1 677.7 511.1 679.7 512.1 681.7 513.1 683.7 514.1 685.7 515.1 687.7 516.2 689.7 517.4 691.7 518.6 693.7 519.8 695.7 521.1 697.7 522.4 699.7 523.8 701.7 525.2 703.7 526.6 705.7 528.1 707.7 529.6 709.7 531.1 711.7 532.6 713.7 534.2 715.7 535.8 717.7 537.5 719.7 539.2 721.7 541.0 723.7 542.8 725.7 544.6 727.7 546.5 729.7 548.5 731.7 550.5 733.7 552.5 735.7 554.5 737.7 556.6 739.7 558.6 741.7 560.7 743.7 562.8 745.7 564.9 747.7 567.1 749.7 569.2 751.7 571.5 753.7 573.7 755.7 576.0 757.7 578.4 759.7 580.8 761.7 583.2 763.7 585.6 765.7 588.0 767.7 590.5 769.7 592.9 771.7 595.4 773.7 597.8 775.7 600.2 777.7 602.6 779.7 605.0 781.7 607.4 783.7 609.7 785.7 612.0 787.7 614.3 789.7 616.5 791.7 618.7 793.7 621.0 795.7 623.2 797.7 625.4 799.7 627.6 801.7 629.8 803.7 631.9 805.7 634.1 807.7 636.3 809.7 638.4 811.7 640.6 813.7 642.7 815.7 644.9 817.7 647.0 819.7 649.1 821.7 651.3 823.7 653.4 825.7 655.5 827.7 657.7 829.7 659.9 831.7 662.2 833.7 664.4 835.7 666.7 837.7 669.0 839.7 671.3 841.7 673.6 843.7 675.8 845.7 678.1 847.7 680.3 849.7 682.4 851.7 684.5 853.7 686.5 855.7 688.5 857.7 690.3 859.7 692.1 861.7 693.7 863.7 695.3 865.7 696.7 867.7 698.1 869.7 699.4 871.7 700.7 873.7 702.0 875.7 703.2 877.7 704.4 879.7 705.5 881.7 706.6 883.7 707.7 885.7 708.8 887.7 709.8 889.7 710.8 891.7 711.7 893.7 712.7 895.7 713.6 897.7 714.5 899.7 715.3 901.7 716.2 903.7 717.0 905.7 717.8 907.7 718.6 909.7 719.4 911.7 720.2 913.7 721.0 915.7 721.7 917.7 722.5 919.7 723.2 921.7 723.9 923.7 724.7 925.7 725.4 927.7 726.1 929.7 726.8 931.7 727.4 933.7 728.1 935.7 728.8 937.7 729.4 939.7 730.1 941.7 730.7 943.7 731.3 945.7 731.9 947.7 732.5 949.7 733.1 951.7 733.6 953.7 734.2 955.7 734.7 957.7 735.2 959.7 735.8 961.7 736.3 963.7 736.7 965.7 737.2 967.7 737.7 969.7 738.1 971.7 738.6 973.7 739.0 975.7 739.4 977.7 739.8 979.7 740.2 981.7 740.6 983.7 741.0 985.7 741.4 987.7 741.8 989.7 742.2 991.7 742.6 993.7 742.9 995.7 743.3 997.7 743.7 999.7 744.0 1001.7 744.3 1003.7 744.7 1005.7 745.0 1007.7 745.3 1009.7 745.6 1011.7 745.9 1013.7 746.2 1015.7 746.5 1017.7 746.7 1019.7 747.0 1021.7 747.2 1023.7 747.5 1025.7 747.7 1027.7 747.9 1029.7 748.1 1031.7 748.3 1033.7 748.5"/>
<path clip-path="url(#cl1)" fill="none" stroke="#fa7c17" stroke-width="3" stroke-linejoin="round" stroke-linecap="butt" stroke-dasharray="19.2 4.8 3.0 4.8" d="M183.7 749.5L185.7 749.5 187.7 749.5 189.7 749.5 191.7 749.5 193.7 749.4 195.7 749.4 197.7 749.4 199.7 749.4 201.7 749.3 203.7 749.3 205.7 749.3 207.7 749.2 209.7 749.2 211.7 749.1 213.7 749.1 215.7 749.0 217.7 749.0 219.7 749.0 221.7 748.9 223.7 748.9 225.7 748.8 227.7 748.8 229.7 748.7 231.7 748.7 233.7 748.6 235.7 748.5 237.7 748.5 239.7 748.4 241.7 748.4 243.7 748.3 245.7 748.2 247.7 748.2 249.7 748.1 251.7 748.0 253.7 747.9 255.7 747.9 257.7 747.8 259.7 747.7 261.7 747.6 263.7 747.5 265.7 747.4 267.7 747.3 269.7 747.2 271.7 747.1 273.7 747.0 275.7 746.9 277.7 746.8 279.7 746.7 281.7 746.5 283.7 746.4 285.7 746.3 287.7 746.1 289.7 746.0 291.7 745.9 293.7 745.7 295.7 745.6 297.7 745.4 299.7 745.2 301.7 745.1 303.7 744.9 305.7 744.7 307.7 744.6 309.7 744.4 311.7 744.2 313.7 744.0 315.7 743.8 317.7 743.6 319.7 743.3 321.7 743.0 323.7 742.7 325.7 742.3 327.7 742.0 329.7 741.6 331.7 741.2 333.7 740.7 335.7 740.3 337.7 739.8 339.7 739.3 341.7 738.8 343.7 738.2 345.7 737.7 347.7 737.1 349.7 736.5 351.7 735.9 353.7 735.3 355.7 734.7 357.7 734.0 359.7 733.4 361.7 732.7 363.7 732.0 365.7 731.3 367.7 730.6 369.7 729.9 371.7 729.0 373.7 728.2 375.7 727.2 377.7 726.2 379.7 725.2 381.7 724.1 383.7 722.9 385.7 721.8 387.7 720.6 389.7 719.4 391.7 718.1 393.7 716.9 395.7 715.6 397.7 714.3 399.7 713.0 401.7 711.7 403.7 710.3 405.7 708.9 407.7 707.5 409.7 706.0 411.7 704.5 413.7 702.9 415.7 701.3 417.7 699.7 419.7 698.1 421.7 696.4 423.7 694.7 425.7 693.0 427.7 691.2 429.7 689.5 431.7 687.7 433.7 685.9 435.7 683.9 437.7 682.0 439.7 679.9 441.7 677.9 443.7 675.8 445.7 673.8 447.7 671.7 449.7 669.7 451.7 667.7 453.7 665.6 455.7 663.5 457.7 661.4 459.7 659.3 461.7 657.4 463.7 655.5 465.7 653.7 467.7 652.1 469.7 650.5 471.7 649.1 473.7 647.7 475.7 646.4 477.7 645.0 479.7 643.7 481.7 642.3 483.7 641.0 485.7 639.6 487.7 638.3 489.7 637.0 491.7 635.8 493.7 634.5 495.7 633.1 497.7 631.6 499.7 629.9 501.7 628.1 503.7 625.9 505.7 623.6 507.7 621.1 509.7 618.4 511.7 615.6 513.7 612.7 515.7 609.8 517.7 606.9 519.7 604.0 521.7 600.9 523.7 597.7 525.7 594.4 527.7 591.1 529.7 587.8 531.7 584.5 533.7 581.3 535.7 578.2 537.7 575.1 539.7 572.0 541.7 568.9 543.7 565.9 545.7 562.8 547.7 559.9 549.7 557.0 551.7 554.3 553.7 551.6 555.7 549.0 557.7 546.5 559.7 544.1 561.7 541.7 563.7 539.4 565.7 537.0 567.7 534.7 569.7 532.4 571.7 530.1 573.7 527.8 575.7 525.5 577.7 523.2 579.7 521.0 581.7 518.8 583.7 516.6 585.7 514.5 587.7 512.4 589.7 510.5 591.7 508.7 593.7 506.9 595.7 505.3 597.7 503.7 599.7 502.2 601.7 500.8 603.7 499.3 605.7 497.9 607.7 496.4 609.7 495.0 611.7 493.6 613.7 492.2 615.7 490.9 617.7 489.6 619.7 488.4 621.7 487.3 623.7 486.2 625.7 485.2 627.7 484.2 629.7 483.3 631.7 482.4 633.7 481.6 635.7 480.8 637.7 480.1 639.7 479.4 641.7 478.6 643.7 477.9 645.7 477.2 647.7 476.5 649.7 475.9 651.7 475.4 653.7 474.9 655.7 474.6 657.7 474.4 659.7 474.4 661.7 474.6 663.7 474.9 665.7 475.3 667.7 475.8 669.7 476.5 671.7 477.2 673.7 477.9 675.7 478.6 677.7 479.4 679.7 480.3 681.7 481.3 683.7 482.5 685.7 483.8 687.7 485.2 689.7 486.7 691.7 488.2 693.7 489.8 695.7 491.5 697.7 493.4 699.7 495.4 701.7 497.6 703.7 499.8 705.7 502.1 707.7 504.5 709.7 506.8 711.7 509.2 713.7 511.5 715.7 513.8 717.7 516.1 719.7 518.4 721.7 520.7 723.7 523.1 725.7 525.4 727.7 527.8 729.7 530.2 731.7 532.7 733.7 535.1 735.7 537.6 737.7 540.2 739.7 542.7 741.7 545.3 743.7 548.0 745.7 550.6 747.7 553.4 749.7 556.2 751.7 559.1 753.7 562.1 755.7 565.2 757.7 568.3 759.7 571.5 761.7 574.7 763.7 577.9 765.7 581.2 767.7 584.5 769.7 587.7 771.7 590.9 773.7 594.1 775.7 597.3 777.7 600.4 779.7 603.4 781.7 606.4 783.7 609.2 785.7 612.0 787.7 614.7 789.7 617.4 791.7 620.0 793.7 622.7 795.7 625.2 797.7 627.8 799.7 630.4 801.7 632.9 803.7 635.3 805.7 637.8 807.7 640.2 809.7 642.6 811.7 644.9 813.7 647.3 815.7 649.6 817.7 651.8 819.7 654.1 821.7 656.2 823.7 658.4 825.7 660.5 827.7 662.6 829.7 664.8 831.7 666.9 833.7 669.0 835.7 671.1 837.7 673.2 839.7 675.2 841.7 677.2 843.7 679.2 845.7 681.2 847.7 683.1 849.7 685.0 851.7 686.8 853.7 688.5 855.7 690.2 857.7 691.9 859.7 693.4 861.7 694.9 863.7 696.3 865.7 697.7 867.7 698.9 869.7 700.2 871.7 701.4 873.7 702.6 875.7 703.7 877.7 704.9 879.7 705.9 881.7 707.0 883.7 708.0 885.7 709.0 887.7 710.0 889.7 711.0 891.7 711.9 893.7 712.8 895.7 713.7 897.7 714.5 899.7 715.4 901.7 716.2 903.7 717.0 905.7 717.8 907.7 718.6 909.7 719.4 911.7 720.1 913.7 720.9 915.7 721.6 917.7 722.4 919.7 723.1 921.7 723.9 923.7 724.6 925.7 725.3 927.7 726.0 929.7 726.7 931.7 727.4 933.7 728.0 935.7 728.7 937.7 729.3 939.7 730.0 941.7 730.6 943.7 731.2 945.7 731.8 947.7 732.4 949.7 733.0 951.7 733.6 953.7 734.1 955.7 734.7 957.7 735.2 959.7 735.7 961.7 736.2 963.7 736.7 965.7 737.2 967.7 737.7 969.7 738.1 971.7 738.6 973.7 739.0 975.7 739.4 977.7 739.8 979.7 740.3 981.7 740.7 983.7 741.1 985.7 741.5 987.7 741.9 989.7 742.3 991.7 742.8 993.7 743.2 995.7 743.5 997.7 743.9 999.7 744.3 1001.7 744.7 1003.7 745.0 1005.7 745.4 1007.7 745.7 1009.7 746.0 1011.7 746.3 1013.7 746.6 1015.7 746.9 1017.7 747.2 1019.7 747.4 1021.7 747.6 1023.7 747.8 1025.7 748.0 1027.7 748.2 1029.7 748.3 1031.7 748.4 1033.7 748.5 1035.7 748.6 1037.7 748.6 1039.7 748.7 1041.7 748.8 1043.7 748.8 1045.7 748.9 1047.7 749.0 1049.7 749.0 1051.7 749.1 1053.7 749.1 1055.7 749.2 1057.7 749.2 1059.7 749.3 1061.7 749.3 1063.7 749.4 1065.7 749.4 1067.7 749.4 1069.7 749.4 1071.7 749.5 1073.7 749.5 1075.7 749.5 1077.7 749.5 1079.7 749.5"/>
<path clip-path="url(#cl2)" fill="none" stroke="#2a2eec" stroke-width="3" stroke-linejoin="round" stroke-linecap="round" d="M129.0 1147.5L131.0 1147.4 133.0 1147.3 135.0 1147.1 137.0 1146.9 139.0 1146.7 141.0 1146.5 143.0 1146.3 145.0 1146.1 147.0 1145.9 149.0 1145.6 151.0 1145.4 153.0 1145.1 155.0 1144.8 157.0 1144.5 159.0 1144.2 161.0 1143.9 163.0 1143.6 165.0 1143.3 167.0 1143.0 169.0 1142.6 171.0 1142.3 173.0 1141.9 175.0 1141.5 177.0 1141.0 179.0 1140.6 181.0 1140.1 183.0 1139.6 185.0 1139.1 187.0 1138.6 189.0 1138.0 191.0 1137.4 193.0 1136.8 195.0 1136.1 197.0 1135.4 199.0 1134.6 201.0 1133.8 203.0 1132.9 205.0 1132.0 207.0 1131.0 209.0 1130.0 211.0 1129.0 213.0 1127.9 215.0 1126.8 217.0 1125.6 219.0 1124.4 221.0 1123.0 223.0 1121.6 225.0 1120.1 227.0 1118.5 229.0 1116.9 231.0 1115.2 233.0 1113.4 235.0 1111.6 237.0 1109.7 239.0 1107.8 241.0 1105.9 243.0 1103.9 245.0 1102.0 247.0 1100.0 249.0 1098.0 251.0 1095.9 253.0 1093.8 255.0 1091.5 257.0 1089.3 259.0 1086.9 261.0 1084.6 263.0 1082.2 265.0 1079.8 267.0 1077.4 269.0 1075.0 271.0 1072.6 273.0 1070.2 275.0 1067.9 277.0 1065.5 279.0 1063.1 281.0 1060.7 283.0 1058.3 285.0 1055.9 287.0 1053.5 289.0 1051.1 291.0 1048.7 293.0 1046.3 295.0 1043.9 297.0 1041.5 299.0 1039.2 301.0 1036.8 303.0 1034.4 305.0 1032.0 307.0 1029.6 309.0 1027.2 311.0 1024.8 313.0 1022.5 315.0 1020.1 317.0 1017.8 319.0 1015.5 321.0 1013.3 323.0 1011.1 325.0 1008.9 327.0 1006.9 329.0 1004.8 331.0 1002.9 333.0 1001.0 335.0 999.1 337.0 997.3 339.0 995.4 341.0 993.6 343.0 991.8 345.0 989.9 347.0 988.1 349.0 986.1 351.0 984.1 353.0 982.1 355.0 980.0 357.0 977.8 359.0 975.5 361.0 973.2 363.0 970.8 365.0 968.4 367.0 965.9 369.0 963.4 371.0 960.8 373.0 958.1 375.0 955.4 377.0 952.5 379.0 949.6 381.0 946.6 383.0 943.6 385.0 940.6 387.0 937.5 389.0 934.4 391.0 931.3 393.0 928.2 395.0 925.1 397.0 921.8 399.0 918.4 401.0 914.9 403.0 911.6 405.0 908.4 407.0 905.6 409.0 903.2 411.0 900.9 413.0 898.6 415.0 896.5 417.0 894.5 419.0 892.6 421.0 890.9 423.0 889.4 425.0 888.1 427.0 887.1 429.0 886.3 431.0 885.5 433.0 884.8 435.0 884.1 437.0 883.5 439.0 882.9 441.0 882.4 443.0 882.0 445.0 881.6 447.0 881.3 449.0 881.1 451.0 881.0 453.0 880.9 455.0 880.8 457.0 880.7 459.0 880.7 461.0 880.9 463.0 881.3 465.0 881.7 467.0 882.3 469.0 882.9 471.0 883.6 473.0 884.3 475.0 885.1 477.0 886.0 479.0 887.1 481.0 888.3 483.0 889.6 485.0 891.0 487.0 892.4 489.0 893.9 491.0 895.4 493.0 897.1 495.0 898.8 497.0 900.4 499.0 902.0 501.0 903.6 503.0 905.1 505.0 906.7 507.0 908.2 509.0 909.7 511.0 911.2 513.0 912.6 515.0 914.1 517.0 915.5 519.0 916.8 521.0 918.2 523.0 919.5 525.0 920.8 527.0 922.1 529.0 923.4 531.0 924.6 533.0 925.9 535.0 927.1 537.0 928.2 539.0 929.4 541.0 930.5 543.0 931.7 545.0 932.9 547.0 934.2 549.0 935.5 551.0 936.8 553.0 938.2 555.0 939.6 557.0 941.1 559.0 942.6 561.0 944.1 563.0 945.7 565.0 947.4 567.0 949.2 569.0 951.0 571.0 952.9 573.0 954.9 575.0 957.0 577.0 959.1 579.0 961.4 581.0 963.7 583.0 966.2 585.0 969.0 587.0 971.8 589.0 974.6 591.0 977.4 593.0 980.2 595.0 982.8 597.0 985.3 599.0 987.9 601.0 990.4 603.0 992.9 605.0 995.4 607.0 997.9 609.0 1000.3 611.0 1002.7 613.0 1005.1 615.0 1007.4 617.0 1009.7 619.0 1011.9 621.0 1014.1 623.0 1016.2 625.0 1018.2 627.0 1020.1 629.0 1022.1 631.0 1023.9 633.0 1025.8 635.0 1027.7 637.0 1029.6 639.0 1031.5 641.0 1033.5 643.0 1035.5 645.0 1037.6 647.0 1039.7 649.0 1042.0 651.0 1044.2 653.0 1046.4 655.0 1048.6 657.0 1050.7 659.0 1052.7 661.0 1054.6 663.0 1056.4 665.0 1058.2 667.0 1060.0 669.0 1061.7 671.0 1063.4 673.0 1065.0 675.0 1066.7 677.0 1068.3 679.0 1069.8 681.0 1071.4 683.0 1073.0 685.0 1074.5 687.0 1076.1 689.0 1077.6 691.0 1079.2 693.0 1080.7 695.0 1082.3 697.0 1083.8 699.0 1085.4 701.0 1087.0 703.0 1088.7 705.0 1090.3 707.0 1092.0 709.0 1093.7 711.0 1095.4 713.0 1097.2 715.0 1098.9 717.0 1100.5 719.0 1102.2 721.0 1103.8 723.0 1105.4 725.0 1106.9 727.0 1108.4 729.0 1109.8 731.0 1111.2 733.0 1112.4 735.0 1113.6 737.0 1114.7 739.0 1115.7 741.0 1116.7 743.0 1117.6 745.0 1118.5 747.0 1119.4 749.0 1120.3 751.0 1121.1 753.0 1121.9 755.0 1122.7 757.0 1123.5 759.0 1124.2 761.0 1124.9 763.0 1125.6 765.0 1126.2 767.0 1126.8 769.0 1127.4 771.0 1128.0 773.0 1128.5 775.0 1129.0 777.0 1129.5 779.0 1130.0 781.0 1130.4 783.0 1130.8 785.0 1131.2 787.0 1131.6 789.0 1132.0 791.0 1132.3 793.0 1132.7 795.0 1133.0 797.0 1133.3 799.0 1133.6 801.0 1133.9 803.0 1134.2 805.0 1134.5 807.0 1134.8 809.0 1135.1 811.0 1135.4 813.0 1135.6 815.0 1135.9 817.0 1136.2 819.0 1136.5 821.0 1136.7 823.0 1137.0 825.0 1137.3 827.0 1137.5 829.0 1137.8 831.0 1138.0 833.0 1138.3 835.0 1138.5 837.0 1138.8 839.0 1139.0 841.0 1139.2 843.0 1139.5 845.0 1139.7 847.0 1139.9 849.0 1140.1 851.0 1140.3 853.0 1140.5 855.0 1140.7 857.0 1140.8 859.0 1141.0 861.0 1141.2 863.0 1141.3 865.0 1141.5 867.0 1141.7 869.0 1141.8 871.0 1142.0 873.0 1142.1 875.0 1142.3 877.0 1142.4 879.0 1142.6 881.0 1142.7 883.0 1142.9 885.0 1143.0 887.0 1143.1 889.0 1143.3 891.0 1143.4 893.0 1143.5 895.0 1143.6 897.0 1143.7 899.0 1143.8 901.0 1144.0 903.0 1144.1 905.0 1144.2 907.0 1144.3 909.0 1144.4 911.0 1144.5 913.0 1144.6 915.0 1144.7 917.0 1144.8 919.0 1144.9 921.0 1145.0 923.0 1145.0 925.0 1145.1 927.0 1145.2 929.0 1145.3 931.0 1145.4 933.0 1145.5 935.0 1145.6 937.0 1145.6 939.0 1145.7 941.0 1145.8 943.0 1145.9 945.0 1146.0 947.0 1146.0 949.0 1146.1 951.0 1146.2 953.0 1146.3 955.0 1146.3 957.0 1146.4 959.0 1146.5 961.0 1146.5 963.0 1146.6 965.0 1146.7 967.0 1146.7 969.0 1146.8 971.0 1146.9 973.0 1146.9 975.0 1147.0 977.0 1147.1 979.0 1147.1 981.0 1147.2 983.0 1147.3 985.0 1147.3 987.0 1147.4 989.0 1147.4 991.0 1147.5 993.0 1147.6 995.0 1147.6 997.0 1147.7 999.0 1147.7 1001.0 1147.8 1003.0 1147.8 1005.0 1147.9 1007.0 1147.9 1009.0 1148.0 1011.0 1148.1 1013.0 1148.1 1015.0 1148.2 1017.0 1148.2 1019.0 1148.2 1021.0 1148.3 1023.0 1148.3 1025.0 1148.4 1027.0 1148.4 1029.0 1148.5 1031.0 1148.5 1033.0 1148.6 1035.0 1148.6 1037.0 1148.6 1039.0 1148.7 1041.0 1148.7 1043.0 1148.8 1045.0 1148.8 1047.0 1148.8 1049.0 1148.9 1051.0 1148.9 1053.0 1149.0 1055.0 1149.0 1057.0 1149.0 1059.0 1149.1 1061.0 1149.1 1063.0 1149.1 1065.0 1149.2 1067.0 1149.2 1069.0 1149.2 1071.0 1149.2 1073.0 1149.3 1075.0 1149.3"/>
<path clip-path="url(#cl2)" fill="none" stroke="#2a2eec" stroke-width="3" stroke-linejoin="round" stroke-linecap="butt" stroke-dasharray="11.1 4.8" d="M120.0 1147.5L122.0 1147.5 124.0 1147.4 126.0 1147.3 128.0 1147.2 130.0 1147.1 132.0 1146.9 134.0 1146.8 136.0 1146.6 138.0 1146.4 140.0 1146.2 142.0 1146.0 144.0 1145.8 146.0 1145.6 148.0 1145.3 150.0 1145.1 152.0 1144.8 154.0 1144.5 156.0 1144.3 158.0 1144.0 160.0 1143.7 162.0 1143.4 164.0 1143.1 166.0 1142.9 168.0 1142.5 170.0 1142.2 172.0 1141.8 174.0 1141.4 176.0 1141.0 178.0 1140.5 180.0 1140.1 182.0 1139.5 184.0 1139.0 186.0 1138.5 188.0 1137.9 190.0 1137.3 192.0 1136.7 194.0 1136.0 196.0 1135.3 198.0 1134.5 200.0 1133.7 202.0 1132.9 204.0 1131.9 206.0 1131.0 208.0 1130.0 210.0 1129.0 212.0 1127.9 214.0 1126.8 216.0 1125.6 218.0 1124.4 220.0 1123.1 222.0 1121.7 224.0 1120.2 226.0 1118.6 228.0 1117.0 230.0 1115.3 232.0 1113.5 234.0 1111.7 236.0 1109.8 238.0 1107.9 240.0 1105.9 242.0 1104.0 244.0 1102.0 246.0 1100.0 248.0 1098.0 250.0 1095.9 252.0 1093.7 254.0 1091.5 256.0 1089.2 258.0 1086.8 260.0 1084.4 262.0 1082.0 264.0 1079.5 266.0 1077.0 268.0 1074.6 270.0 1072.1 272.0 1069.7 274.0 1067.4 276.0 1065.0 278.0 1062.6 280.0 1060.2 282.0 1057.7 284.0 1055.3 286.0 1052.9 288.0 1050.5 290.0 1048.1 292.0 1045.8 294.0 1043.5 296.0 1041.3 298.0 1039.2 300.0 1037.2 302.0 1035.4 304.0 1033.6 306.0 1031.7 308.0 1029.5 310.0 1027.1 312.0 1024.3 314.0 1021.2 316.0 1017.9 318.0 1014.5 320.0 1011.1 322.0 1007.8 324.0 1004.5 326.0 1001.5 328.0 998.4 330.0 995.4 332.0 992.3 334.0 989.3 336.0 986.4 338.0 983.6 340.0 980.9 342.0 978.4 344.0 976.1 346.0 974.0 348.0 972.1 350.0 970.3 352.0 968.3 354.0 966.2 356.0 963.8 358.0 961.2 360.0 958.4 362.0 955.5 364.0 952.5 366.0 949.4 368.0 946.3 370.0 943.0 372.0 939.5 374.0 935.6 376.0 931.5 378.0 927.3 380.0 923.2 382.0 919.3 384.0 915.8 386.0 912.7 388.0 910.1 390.0 907.7 392.0 905.4 394.0 903.3 396.0 901.4 398.0 899.6 400.0 898.0 402.0 896.5 404.0 895.0 406.0 893.6 408.0 892.4 410.0 891.4 412.0 890.6 414.0 890.0 416.0 889.4 418.0 888.8 420.0 888.3 422.0 887.9 424.0 887.5 426.0 887.2 428.0 887.1 430.0 887.0 432.0 887.1 434.0 887.3 436.0 887.6 438.0 888.0 440.0 888.4 442.0 888.9 444.0 889.4 446.0 890.0 448.0 890.5 450.0 891.0 452.0 891.5 454.0 892.0 456.0 892.6 458.0 893.2 460.0 893.8 462.0 894.4 464.0 894.9 466.0 895.5 468.0 896.0 470.0 896.6 472.0 897.1 474.0 897.6 476.0 898.1 478.0 898.7 480.0 899.2 482.0 899.8 484.0 900.5 486.0 901.1 488.0 901.8 490.0 902.5 492.0 903.2 494.0 904.0 496.0 904.8 498.0 905.6 500.0 906.4 502.0 907.4 504.0 908.3 506.0 909.3 508.0 910.4 510.0 911.5 512.0 912.6 514.0 913.7 516.0 914.8 518.0 916.0 520.0 917.1 522.0 918.3 524.0 919.5 526.0 920.7 528.0 922.0 530.0 923.3 532.0 924.8 534.0 926.3 536.0 927.9 538.0 929.6 540.0 931.2 542.0 932.8 544.0 934.5 546.0 936.1 548.0 937.7 550.0 939.4 552.0 941.2 554.0 943.1 556.0 945.1 558.0 947.2 560.0 949.4 562.0 951.9 564.0 955.0 566.0 958.4 568.0 961.5 570.0 964.6 572.0 967.6 574.0 970.5 576.0 973.4 578.0 976.3 580.0 979.1 582.0 981.9 584.0 984.5 586.0 987.1 588.0 989.6 590.0 992.1 592.0 994.6 594.0 997.0 596.0 999.3 598.0 1001.6 600.0 1003.9 602.0 1006.1 604.0 1008.3 606.0 1010.4 608.0 1012.5 610.0 1014.5 612.0 1016.5 614.0 1018.3 616.0 1020.1 618.0 1021.9 620.0 1023.6 622.0 1025.2 624.0 1026.9 626.0 1028.5 628.0 1030.2 630.0 1031.9 632.0 1033.6 634.0 1035.4 636.0 1037.3 638.0 1039.2 640.0 1041.2 642.0 1043.3 644.0 1045.5 646.0 1047.6 648.0 1049.7 650.0 1051.8 652.0 1053.8 654.0 1055.7 656.0 1057.5 658.0 1059.2 660.0 1060.8 662.0 1062.3 664.0 1063.9 666.0 1065.3 668.0 1066.8 670.0 1068.2 672.0 1069.5 674.0 1070.9 676.0 1072.3 678.0 1073.6 680.0 1075.0 682.0 1076.3 684.0 1077.7 686.0 1079.0 688.0 1080.2 690.0 1081.5 692.0 1082.8 694.0 1084.0 696.0 1085.3 698.0 1086.7 700.0 1088.0 702.0 1089.4 704.0 1090.9 706.0 1092.4 708.0 1094.0 710.0 1095.5 712.0 1097.1 714.0 1098.7 716.0 1100.2 718.0 1101.8 720.0 1103.4 722.0 1104.9 724.0 1106.4 726.0 1107.8 728.0 1109.2 730.0 1110.5 732.0 1111.8 734.0 1113.0 736.0 1114.1 738.0 1115.1 740.0 1116.1 742.0 1117.0 744.0 1117.9 746.0 1118.8 748.0 1119.7 750.0 1120.6 752.0 1121.4 754.0 1122.2 756.0 1123.0 758.0 1123.7 760.0 1124.5 762.0 1125.2 764.0 1125.8 766.0 1126.5 768.0 1127.1 770.0 1127.7 772.0 1128.2 774.0 1128.8 776.0 1129.3 778.0 1129.7 780.0 1130.2 782.0 1130.6 784.0 1131.0 786.0 1131.4 788.0 1131.7 790.0 1132.1 792.0 1132.4 794.0 1132.8 796.0 1133.1 798.0 1133.4 800.0 1133.7 802.0 1134.0 804.0 1134.3 806.0 1134.6 808.0 1134.9 810.0 1135.2 812.0 1135.4 814.0 1135.7 816.0 1136.0 818.0 1136.3 820.0 1136.6 822.0 1136.9 824.0 1137.1 826.0 1137.4 828.0 1137.7 830.0 1138.0 832.0 1138.2 834.0 1138.5 836.0 1138.8 838.0 1139.0 840.0 1139.3 842.0 1139.5 844.0 1139.8 846.0 1140.0 848.0 1140.2 850.0 1140.4 852.0 1140.6 854.0 1140.8 856.0 1141.0 858.0 1141.2 860.0 1141.3 862.0 1141.5 864.0 1141.7 866.0 1141.8 868.0 1142.0 870.0 1142.1 872.0 1142.3 874.0 1142.4 876.0 1142.6 878.0 1142.7 880.0 1142.8 882.0 1143.0 884.0 1143.1 886.0 1143.2 888.0 1143.3 890.0 1143.4 892.0 1143.6 894.0 1143.7 896.0 1143.8 898.0 1143.9 900.0 1144.0 902.0 1144.1 904.0 1144.2 906.0 1144.3 908.0 1144.4 910.0 1144.5 912.0 1144.6 914.0 1144.7 916.0 1144.8 918.0 1144.8 920.0 1144.9 922.0 1145.0 924.0 1145.1 926.0 1145.2 928.0 1145.3 930.0 1145.3 932.0 1145.4 934.0 1145.5 936.0 1145.6 938.0 1145.6 940.0 1145.7 942.0 1145.8 944.0 1145.9 946.0 1146.0 948.0 1146.0 950.0 1146.1 952.0 1146.2 954.0 1146.3 956.0 1146.3 958.0 1146.4 960.0 1146.5 962.0 1146.6 964.0 1146.7 966.0 1146.7 968.0 1146.8 970.0 1146.9 972.0 1147.0 974.0 1147.1 976.0 1147.1 978.0 1147.2 980.0 1147.3 982.0 1147.4 984.0 1147.5 986.0 1147.5 988.0 1147.6 990.0 1147.7 992.0 1147.8 994.0 1147.9 996.0 1147.9 998.0 1148.0 1000.0 1148.1 1002.0 1148.2 1004.0 1148.3 1006.0 1148.3 1008.0 1148.4 1010.0 1148.5 1012.0 1148.6 1014.0 1148.7 1016.0 1148.7 1018.0 1148.8 1020.0 1148.9 1022.0 1149.0 1023.0 1149.0"/>
<path clip-path="url(#cl2)" fill="none" stroke="#2a2eec" stroke-width="3" stroke-linejoin="round" stroke-linecap="butt" stroke-dasharray="3.0 4.9" d="M140.0 1148.0L142.0 1148.0 144.0 1147.9 146.0 1147.9 148.0 1147.8 150.0 1147.6 152.0 1147.5 154.0 1147.3 156.0 1147.1 158.0 1146.8 160.0 1146.6 162.0 1146.3 164.0 1146.0 166.0 1145.7 168.0 1145.4 170.0 1145.0 172.0 1144.7 174.0 1144.3 176.0 1143.9 178.0 1143.5 180.0 1143.1 182.0 1142.7 184.0 1142.3 186.0 1141.9 188.0 1141.4 190.0 1141.0 192.0 1140.5 194.0 1140.0 196.0 1139.4 198.0 1138.7 200.0 1138.0 202.0 1137.2 204.0 1136.3 206.0 1135.5 208.0 1134.5 210.0 1133.6 212.0 1132.6 214.0 1131.6 216.0 1130.5 218.0 1129.5 220.0 1128.3 222.0 1127.1 224.0 1125.8 226.0 1124.4 228.0 1123.0 230.0 1121.5 232.0 1119.9 234.0 1118.3 236.0 1116.6 238.0 1114.9 240.0 1113.2 242.0 1111.4 244.0 1109.6 246.0 1107.8 248.0 1105.9 250.0 1104.1 252.0 1102.2 254.0 1100.3 256.0 1098.4 258.0 1096.5 260.0 1094.6 262.0 1092.6 264.0 1090.5 266.0 1088.3 268.0 1086.2 270.0 1083.9 272.0 1081.7 274.0 1079.3 276.0 1077.0 278.0 1074.6 280.0 1072.1 282.0 1069.6 284.0 1067.1 286.0 1064.5 288.0 1061.9 290.0 1059.3 292.0 1056.6 294.0 1054.0 296.0 1051.3 298.0 1048.7 300.0 1045.9 302.0 1043.2 304.0 1040.3 306.0 1037.5 308.0 1034.6 310.0 1031.7 312.0 1028.8 314.0 1026.0 316.0 1023.1 318.0 1020.3 320.0 1017.6 322.0 1014.9 324.0 1012.3 326.0 1009.8 328.0 1007.3 330.0 1004.9 332.0 1002.7 334.0 1000.4 336.0 998.2 338.0 996.1 340.0 993.9 342.0 991.7 344.0 989.6 346.0 987.4 348.0 985.1 350.0 982.8 352.0 980.5 354.0 978.0 356.0 975.5 358.0 972.8 360.0 970.1 362.0 967.4 364.0 964.6 366.0 961.8 368.0 958.9 370.0 956.1 372.0 953.2 374.0 950.4 376.0 947.5 378.0 944.7 380.0 942.0 382.0 939.3 384.0 936.6 386.0 933.8 388.0 931.1 390.0 928.5 392.0 925.8 394.0 923.3 396.0 920.7 398.0 918.2 400.0 915.7 402.0 913.2 404.0 911.0 406.0 909.0 408.0 906.8 410.0 904.7 412.0 902.8 414.0 901.3 416.0 900.6 418.0 900.4 420.0 900.3 422.0 900.2 424.0 900.1 426.0 900.1 428.0 900.1 430.0 900.3 432.0 900.7 434.0 901.0 436.0 901.4 438.0 901.8 440.0 902.3 442.0 902.6 444.0 902.6 446.0 902.6 448.0 902.6 450.0 902.6 452.0 902.5 454.0 902.0 456.0 901.4 458.0 900.7 460.0 900.0 462.0 899.3 464.0 898.6 466.0 897.7 468.0 896.9 470.0 896.0 472.0 895.0 474.0 893.8 476.0 892.7 478.0 891.8 480.0 891.3 482.0 890.9 484.0 890.5 486.0 890.3 488.0 890.2 490.0 890.2 492.0 890.2 494.0 890.2 496.0 890.2 498.0 890.5 500.0 891.0 502.0 891.8 504.0 892.5 506.0 893.5 508.0 894.7 510.0 896.0 512.0 897.3 514.0 898.7 516.0 900.2 518.0 901.8 520.0 903.5 522.0 905.3 524.0 907.2 526.0 909.2 528.0 911.2 530.0 913.2 532.0 915.1 534.0 917.1 536.0 919.0 538.0 920.8 540.0 922.6 542.0 924.2 544.0 925.7 546.0 927.1 548.0 928.5 550.0 929.9 552.0 931.3 554.0 932.7 556.0 934.2 558.0 935.8 560.0 937.5 562.0 939.3 564.0 941.3 566.0 943.4 568.0 945.5 570.0 947.7 572.0 950.0 574.0 952.3 576.0 954.7 578.0 957.0 580.0 959.4 582.0 961.8 584.0 964.3 586.0 966.8 588.0 969.4 590.0 972.0 592.0 974.6 594.0 977.2 596.0 979.8 598.0 982.4 600.0 985.0 602.0 987.6 604.0 990.3 606.0 993.0 608.0 995.7 610.0 998.3 612.0 1001.0 614.0 1003.6 616.0 1006.2 618.0 1008.6 620.0 1011.0 622.0 1013.2 624.0 1015.4 626.0 1017.5 628.0 1019.5 630.0 1021.5 632.0 1023.5 634.0 1025.5 636.0 1027.4 638.0 1029.4 640.0 1031.4 642.0 1033.4 644.0 1035.5 646.0 1037.7 648.0 1039.9 650.0 1042.2 652.0 1044.4 654.0 1046.7 656.0 1048.9 658.0 1051.0 660.0 1053.0 662.0 1054.9 664.0 1056.8 666.0 1058.7 668.0 1060.6 670.0 1062.4 672.0 1064.2 674.0 1065.9 676.0 1067.7 678.0 1069.4 680.0 1071.1 682.0 1072.8 684.0 1074.4 686.0 1076.1 688.0 1077.7 690.0 1079.3 692.0 1080.9 694.0 1082.5 696.0 1084.0 698.0 1085.6 700.0 1087.2 702.0 1088.7 704.0 1090.3 706.0 1091.9 708.0 1093.5 710.0 1095.1 712.0 1096.7 714.0 1098.2 716.0 1099.8 718.0 1101.3 720.0 1102.8 722.0 1104.2 724.0 1105.6 726.0 1107.0 728.0 1108.3 730.0 1109.6 732.0 1110.8 734.0 1112.0 736.0 1113.1 738.0 1114.1 740.0 1115.1 742.0 1116.0 744.0 1117.0 746.0 1117.9 748.0 1118.8 750.0 1119.7 752.0 1120.6 754.0 1121.4 756.0 1122.2 758.0 1123.0 760.0 1123.7 762.0 1124.5 764.0 1125.2 766.0 1125.8 768.0 1126.5 770.0 1127.1 772.0 1127.7 774.0 1128.2 776.0 1128.8 778.0 1129.2 780.0 1129.7 782.0 1130.2 784.0 1130.6 786.0 1131.0 788.0 1131.4 790.0 1131.8 792.0 1132.2 794.0 1132.5 796.0 1132.9 798.0 1133.2 800.0 1133.6 802.0 1133.9 804.0 1134.2 806.0 1134.5 808.0 1134.8 810.0 1135.1 812.0 1135.4 814.0 1135.7 816.0 1136.0 818.0 1136.3 820.0 1136.6 822.0 1136.9 824.0 1137.2 826.0 1137.4 828.0 1137.7 830.0 1138.0 832.0 1138.3 834.0 1138.5 836.0 1138.8 838.0 1139.0 840.0 1139.3 842.0 1139.5 844.0 1139.8 846.0 1140.0 848.0 1140.2 850.0 1140.4 852.0 1140.6 854.0 1140.8 856.0 1141.0 858.0 1141.2 860.0 1141.3 862.0 1141.5 864.0 1141.7 866.0 1141.8 868.0 1142.0 870.0 1142.1 872.0 1142.3 874.0 1142.4 876.0 1142.6 878.0 1142.7 880.0 1142.8 882.0 1143.0 884.0 1143.1 886.0 1143.2 888.0 1143.3 890.0 1143.4 892.0 1143.6 894.0 1143.7 896.0 1143.8 898.0 1143.9 900.0 1144.0 902.0 1144.1 904.0 1144.2 906.0 1144.3 908.0 1144.4 910.0 1144.5 912.0 1144.6 914.0 1144.7 916.0 1144.8 918.0 1144.9 920.0 1145.0 922.0 1145.0 924.0 1145.1 926.0 1145.2 928.0 1145.3 930.0 1145.4 932.0 1145.5 934.0 1145.5 936.0 1145.6 938.0 1145.7 940.0 1145.8 942.0 1145.8 944.0 1145.9 946.0 1146.0 948.0 1146.1 950.0 1146.1 952.0 1146.2 954.0 1146.3 956.0 1146.4 958.0 1146.4 960.0 1146.5 962.0 1146.6 964.0 1146.6 966.0 1146.7 968.0 1146.8 970.0 1146.9 972.0 1146.9 974.0 1147.0 976.0 1147.1 978.0 1147.1 980.0 1147.2 982.0 1147.3 984.0 1147.3 986.0 1147.4 988.0 1147.5 990.0 1147.5 992.0 1147.6 994.0 1147.7 996.0 1147.7 998.0 1147.8 1000.0 1147.9 1002.0 1147.9 1004.0 1148.0 1006.0 1148.0 1008.0 1148.1 1010.0 1148.2 1012.0 1148.2 1014.0 1148.3 1016.0 1148.3 1018.0 1148.4 1020.0 1148.5 1022.0 1148.5 1024.0 1148.6 1026.0 1148.6 1028.0 1148.7 1030.0 1148.7 1032.0 1148.8 1034.0 1148.8 1036.0 1148.9 1038.0 1148.9 1040.0 1149.0"/>
<path clip-path="url(#cl2)" fill="none" stroke="#2a2eec" stroke-width="3" stroke-linejoin="round" stroke-linecap="butt" stroke-dasharray="19.2 4.8 3.0 4.8" d="M135.0 1147.5L137.0 1147.3 139.0 1147.1 141.0 1146.9 143.0 1146.7 145.0 1146.5 147.0 1146.2 149.0 1146.0 151.0 1145.7 153.0 1145.4 155.0 1145.1 157.0 1144.8 159.0 1144.5 161.0 1144.2 163.0 1143.8 165.0 1143.5 167.0 1143.2 169.0 1142.8 171.0 1142.4 173.0 1142.0 175.0 1141.6 177.0 1141.2 179.0 1140.7 181.0 1140.2 183.0 1139.7 185.0 1139.2 187.0 1138.7 189.0 1138.1 191.0 1137.5 193.0 1136.9 195.0 1136.2 197.0 1135.5 199.0 1134.7 201.0 1133.9 203.0 1133.1 205.0 1132.2 207.0 1131.2 209.0 1130.3 211.0 1129.3 213.0 1128.2 215.0 1127.1 217.0 1126.0 219.0 1124.8 221.0 1123.5 223.0 1122.1 225.0 1120.7 227.0 1119.1 229.0 1117.5 231.0 1115.8 233.0 1114.1 235.0 1112.3 237.0 1110.5 239.0 1108.6 241.0 1106.7 243.0 1104.8 245.0 1102.9 247.0 1101.0 249.0 1099.0 251.0 1097.0 253.0 1094.8 255.0 1092.6 257.0 1090.4 259.0 1088.1 261.0 1085.8 263.0 1083.4 265.0 1081.0 267.0 1078.6 269.0 1076.3 271.0 1073.9 273.0 1071.5 275.0 1069.2 277.0 1066.8 279.0 1064.5 281.0 1062.1 283.0 1059.7 285.0 1057.3 287.0 1054.9 289.0 1052.5 291.0 1050.1 293.0 1047.7 295.0 1045.3 297.0 1043.0 299.0 1040.7 301.0 1038.5 303.0 1036.4 305.0 1034.2 307.0 1032.0 309.0 1029.8 311.0 1027.4 313.0 1024.9 315.0 1022.2 317.0 1019.1 319.0 1015.7 321.0 1012.0 323.0 1008.1 325.0 1004.2 327.0 1000.2 329.0 996.4 331.0 992.6 333.0 989.2 335.0 986.0 337.0 983.3 339.0 981.0 341.0 979.0 343.0 977.1 345.0 975.2 347.0 973.1 349.0 971.0 351.0 968.8 353.0 966.6 355.0 964.3 357.0 962.1 359.0 959.8 361.0 957.6 363.0 955.4 365.0 953.2 367.0 951.1 369.0 949.0 371.0 947.0 373.0 945.0 375.0 943.1 377.0 941.2 379.0 939.4 381.0 937.5 383.0 935.7 385.0 933.9 387.0 932.1 389.0 930.3 391.0 928.5 393.0 926.7 395.0 924.8 397.0 922.9 399.0 921.0 401.0 919.6 403.0 918.4 405.0 917.2 407.0 916.1 409.0 915.1 411.0 914.3 413.0 913.5 415.0 912.9 417.0 912.3 419.0 911.9 421.0 911.4 423.0 911.0 425.0 910.7 427.0 910.3 429.0 910.0 431.0 909.6 433.0 909.3 435.0 908.9 437.0 908.6 439.0 908.3 441.0 907.9 443.0 907.6 445.0 907.3 447.0 907.0 449.0 906.7 451.0 906.4 453.0 906.1 455.0 905.8 457.0 905.4 459.0 905.1 461.0 904.8 463.0 904.4 465.0 904.0 467.0 903.5 469.0 903.0 471.0 902.5 473.0 902.0 475.0 901.6 477.0 901.4 479.0 901.2 481.0 901.0 483.0 900.9 485.0 900.7 487.0 900.6 489.0 900.5 491.0 900.5 493.0 900.5 495.0 900.5 497.0 900.5 499.0 900.5 501.0 900.5 503.0 900.5 505.0 900.9 507.0 901.5 509.0 902.1 511.0 902.8 513.0 903.5 515.0 904.3 517.0 905.2 519.0 906.2 521.0 907.2 523.0 908.3 525.0 909.5 527.0 910.8 529.0 912.2 531.0 913.7 533.0 915.2 535.0 916.7 537.0 918.1 539.0 919.5 541.0 920.8 543.0 922.2 545.0 923.7 547.0 925.2 549.0 926.8 551.0 928.6 553.0 930.6 555.0 932.6 557.0 934.7 559.0 936.9 561.0 939.1 563.0 941.2 565.0 943.3 567.0 945.5 569.0 947.6 571.0 949.7 573.0 951.9 575.0 954.1 577.0 956.2 579.0 958.4 581.0 960.6 583.0 962.7 585.0 964.9 587.0 967.1 589.0 969.3 591.0 971.6 593.0 973.9 595.0 976.2 597.0 978.5 599.0 980.9 601.0 983.3 603.0 985.8 605.0 988.3 607.0 990.8 609.0 993.3 611.0 995.8 613.0 998.3 615.0 1000.8 617.0 1003.2 619.0 1005.7 621.0 1008.1 623.0 1010.5 625.0 1012.9 627.0 1015.2 629.0 1017.5 631.0 1019.7 633.0 1021.9 635.0 1024.1 637.0 1026.3 639.0 1028.4 641.0 1030.6 643.0 1032.7 645.0 1034.8 647.0 1036.9 649.0 1039.0 651.0 1041.0 653.0 1043.1 655.0 1045.2 657.0 1047.3 659.0 1049.4 661.0 1051.5 663.0 1053.5 665.0 1055.6 667.0 1057.6 669.0 1059.6 671.0 1061.6 673.0 1063.5 675.0 1065.4 677.0 1067.3 679.0 1069.1 681.0 1070.9 683.0 1072.6 685.0 1074.3 687.0 1076.0 689.0 1077.6 691.0 1079.2 693.0 1080.8 695.0 1082.3 697.0 1083.9 699.0 1085.4 701.0 1086.9 703.0 1088.5 705.0 1090.0 707.0 1091.6 709.0 1093.2 711.0 1094.8 713.0 1096.3 715.0 1097.9 717.0 1099.4 719.0 1100.9 721.0 1102.4 723.0 1103.8 725.0 1105.2 727.0 1106.6 729.0 1107.9 731.0 1109.2 733.0 1110.4 735.0 1111.5 737.0 1112.6 739.0 1113.6 741.0 1114.6 743.0 1115.6 745.0 1116.5 747.0 1117.5 749.0 1118.4 751.0 1119.3 753.0 1120.2 755.0 1121.0 757.0 1121.9 759.0 1122.7 761.0 1123.4 763.0 1124.2 765.0 1124.9 767.0 1125.6 769.0 1126.2 771.0 1126.9 773.0 1127.4 775.0 1128.0 777.0 1128.5 779.0 1129.0 781.0 1129.4 783.0 1129.9 785.0 1130.3 787.0 1130.7 789.0 1131.1 791.0 1131.5 793.0 1131.9 795.0 1132.2 797.0 1132.6 799.0 1132.9 801.0 1133.2 803.0 1133.5 805.0 1133.9 807.0 1134.2 809.0 1134.5 811.0 1134.8 813.0 1135.1 815.0 1135.4 817.0 1135.6 819.0 1135.9 821.0 1136.2 823.0 1136.5 825.0 1136.8 827.0 1137.1 829.0 1137.3 831.0 1137.6 833.0 1137.9 835.0 1138.1 837.0 1138.4 839.0 1138.6 841.0 1138.9 843.0 1139.1 845.0 1139.3 847.0 1139.6 849.0 1139.8 851.0 1140.0 853.0 1140.2 855.0 1140.4 857.0 1140.6 859.0 1140.8 861.0 1141.0 863.0 1141.2 865.0 1141.4 867.0 1141.5 869.0 1141.7 871.0 1141.9 873.0 1142.1 875.0 1142.2 877.0 1142.4 879.0 1142.6 881.0 1142.7 883.0 1142.9 885.0 1143.0 887.0 1143.2 889.0 1143.3 891.0 1143.4 893.0 1143.6 895.0 1143.7 897.0 1143.8 899.0 1143.9 901.0 1144.1 903.0 1144.2 905.0 1144.3 907.0 1144.4 909.0 1144.5 911.0 1144.6 913.0 1144.7 915.0 1144.8 917.0 1144.9 919.0 1145.0 921.0 1145.0 923.0 1145.1 925.0 1145.2 927.0 1145.3 929.0 1145.4 931.0 1145.5 933.0 1145.5 935.0 1145.6 937.0 1145.7 939.0 1145.8 941.0 1145.9 943.0 1145.9 945.0 1146.0 947.0 1146.1 949.0 1146.1 951.0 1146.2 953.0 1146.3 955.0 1146.3 957.0 1146.4 959.0 1146.5 961.0 1146.5 963.0 1146.6 965.0 1146.7 967.0 1146.7 969.0 1146.8 971.0 1146.8 973.0 1146.9 975.0 1147.0 977.0 1147.0 979.0 1147.1 981.0 1147.2 983.0 1147.2 985.0 1147.3 987.0 1147.3 989.0 1147.4 991.0 1147.5 993.0 1147.5 995.0 1147.6 997.0 1147.6 999.0 1147.7 1001.0 1147.7 1003.0 1147.8 1005.0 1147.9 1007.0 1147.9 1009.0 1148.0 1011.0 1148.0 1013.0 1148.1 1015.0 1148.1 1017.0 1148.2 1019.0 1148.2 1021.0 1148.3 1023.0 1148.3 1025.0 1148.4 1027.0 1148.4 1029.0 1148.5 1031.0 1148.5 1033.0 1148.6 1035.0 1148.6 1037.0 1148.7 1039.0 1148.7 1041.0 1148.7 1043.0 1148.8 1045.0 1148.8 1047.0 1148.9 1049.0 1148.9 1051.0 1148.9 1053.0 1149.0 1055.0 1149.0 1057.0 1149.1 1059.0 1149.1 1061.0 1149.1 1063.0 1149.2 1065.0 1149.2 1067.0 1149.2 1069.0 1149.3 1071.0 1149.3 1072.0 1149.3"/>
<path clip-path="url(#cl2)" fill="none" stroke="#fa7c17" stroke-width="3" stroke-linejoin="round" stroke-linecap="round" d="M84.0 1145.5L86.0 1145.5 88.0 1145.5 90.0 1145.4 92.0 1145.3 94.0 1145.2 96.0 1145.1 98.0 1145.0 100.0 1144.9 102.0 1144.8 104.0 1144.6 106.0 1144.5 108.0 1144.3 110.0 1144.2 112.0 1144.0 114.0 1143.9 116.0 1143.7 118.0 1143.4 120.0 1143.2 122.0 1142.9 124.0 1142.6 126.0 1142.3 128.0 1142.0 130.0 1141.6 132.0 1141.3 134.0 1140.9 136.0 1140.5 138.0 1140.1 140.0 1139.7 142.0 1139.2 144.0 1138.7 146.0 1138.2 148.0 1137.7 150.0 1137.1 152.0 1136.5 154.0 1135.9 156.0 1135.2 158.0 1134.5 160.0 1133.9 162.0 1133.2 164.0 1132.5 166.0 1131.7 168.0 1131.0 170.0 1130.2 172.0 1129.4 174.0 1128.5 176.0 1127.6 178.0 1126.7 180.0 1125.8 182.0 1124.8 184.0 1123.9 186.0 1122.9 188.0 1121.9 190.0 1120.9 192.0 1119.8 194.0 1118.8 196.0 1117.6 198.0 1116.5 200.0 1115.3 202.0 1114.1 204.0 1112.9 206.0 1111.7 208.0 1110.4 210.0 1109.2 212.0 1107.9 214.0 1106.6 216.0 1105.3 218.0 1104.1 220.0 1102.8 222.0 1101.5 224.0 1100.3 226.0 1099.0 228.0 1097.7 230.0 1096.4 232.0 1095.1 234.0 1093.7 236.0 1092.3 238.0 1090.8 240.0 1089.3 242.0 1087.8 244.0 1086.2 246.0 1084.6 248.0 1083.0 250.0 1081.3 252.0 1079.7 254.0 1077.9 256.0 1076.2 258.0 1074.4 260.0 1072.5 262.0 1070.6 264.0 1068.6 266.0 1066.6 268.0 1064.4 270.0 1062.3 272.0 1060.0 274.0 1057.7 276.0 1055.2 278.0 1052.5 280.0 1049.7 282.0 1046.7 284.0 1043.5 286.0 1040.3 288.0 1036.9 290.0 1033.5 292.0 1030.0 294.0 1026.4 296.0 1022.8 298.0 1019.3 300.0 1015.5 302.0 1011.7 304.0 1007.7 306.0 1003.6 308.0 999.5 310.0 995.4 312.0 991.2 314.0 987.1 316.0 983.0 318.0 978.9 320.0 974.7 322.0 970.5 324.0 966.3 326.0 962.1 328.0 957.9 330.0 953.4 332.0 949.0 334.0 944.6 336.0 940.7 338.0 937.1 340.0 933.9 342.0 930.8 344.0 927.8 346.0 925.1 348.0 922.4 350.0 919.9 352.0 917.4 354.0 915.1 356.0 912.9 358.0 910.8 360.0 908.7 362.0 906.7 364.0 904.7 366.0 902.8 368.0 901.0 370.0 899.2 372.0 897.5 374.0 895.9 376.0 894.3 378.0 892.8 380.0 891.3 382.0 889.8 384.0 888.3 386.0 886.9 388.0 885.5 390.0 884.2 392.0 882.9 394.0 881.8 396.0 880.7 398.0 879.8 400.0 879.0 402.0 878.3 404.0 877.6 406.0 876.9 408.0 876.2 410.0 875.6 412.0 875.0 414.0 874.5 416.0 874.0 418.0 873.7 420.0 873.5 422.0 873.3 424.0 873.3 426.0 873.4 428.0 873.6 430.0 874.0 432.0 874.3 434.0 874.8 436.0 875.3 438.0 875.8 440.0 876.3 442.0 876.8 444.0 877.4 446.0 878.1 448.0 878.8 450.0 879.7 452.0 880.5 454.0 881.4 456.0 882.4 458.0 883.3 460.0 884.2 462.0 885.3 464.0 886.3 466.0 887.4 468.0 888.5 470.0 889.7 472.0 890.8 474.0 892.0 476.0 893.2 478.0 894.4 480.0 895.7 482.0 896.9 484.0 898.2 486.0 899.6 488.0 900.9 490.0 902.4 492.0 903.9 494.0 905.5 496.0 907.1 498.0 908.8 500.0 910.6 502.0 912.5 504.0 914.4 506.0 916.4 508.0 918.6 510.0 920.8 512.0 923.3 514.0 925.8 516.0 928.5 518.0 931.2 520.0 934.0 522.0 936.8 524.0 939.6 526.0 942.4 528.0 945.4 530.0 948.4 532.0 951.5 534.0 954.5 536.0 957.6 538.0 960.6 540.0 963.6 542.0 966.5 544.0 969.3 546.0 972.2 548.0 975.0 550.0 977.8 552.0 980.5 554.0 983.1 556.0 985.7 558.0 988.3 560.0 990.8 562.0 993.4 564.0 995.8 566.0 998.3 568.0 1000.7 570.0 1003.1 572.0 1005.4 574.0 1007.6 576.0 1009.8 578.0 1011.9 580.0 1013.9 582.0 1015.9 584.0 1017.8 586.0 1019.6 588.0 1021.4 590.0 1023.2 592.0 1024.9 594.0 1026.7 596.0 1028.4 598.0 1030.2 600.0 1032.0 602.0 1033.8 604.0 1035.6 606.0 1037.4 608.0 1039.1 610.0 1040.9 612.0 1042.7 614.0 1044.5 616.0 1046.3 618.0 1048.1 620.0 1050.0 622.0 1051.9 624.0 1053.9 626.0 1055.9 628.0 1058.0 630.0 1060.1 632.0 1062.2 634.0 1064.3 636.0 1066.3 638.0 1068.4 640.0 1070.3 642.0 1072.2 644.0 1074.0 646.0 1075.7 648.0 1077.4 650.0 1078.9 652.0 1080.5 654.0 1082.0 656.0 1083.4 658.0 1084.8 660.0 1086.2 662.0 1087.6 664.0 1088.9 666.0 1090.2 668.0 1091.5 670.0 1092.8 672.0 1094.0 674.0 1095.2 676.0 1096.5 678.0 1097.7 680.0 1098.9 682.0 1100.0 684.0 1101.2 686.0 1102.3 688.0 1103.4 690.0 1104.5 692.0 1105.5 694.0 1106.5 696.0 1107.5 698.0 1108.4 700.0 1109.3 702.0 1110.1 704.0 1111.0 706.0 1111.8 708.0 1112.7 710.0 1113.5 712.0 1114.3 714.0 1115.0 716.0 1115.8 718.0 1116.5 720.0 1117.3 722.0 1118.0 724.0 1118.7 726.0 1119.3 728.0 1120.0 730.0 1120.7 732.0 1121.3 734.0 1121.9 736.0 1122.5 738.0 1123.1 740.0 1123.6 742.0 1124.2 744.0 1124.7 746.0 1125.2 748.0 1125.7 750.0 1126.2 752.0 1126.7 754.0 1127.2 756.0 1127.7 758.0 1128.1 760.0 1128.6 762.0 1129.0 764.0 1129.4 766.0 1129.9 768.0 1130.3 770.0 1130.7 772.0 1131.1 774.0 1131.5 776.0 1131.9 778.0 1132.3 780.0 1132.7 782.0 1133.1 784.0 1133.4 786.0 1133.8 788.0 1134.1 790.0 1134.5 792.0 1134.8 794.0 1135.2 796.0 1135.5 798.0 1135.9 800.0 1136.2 802.0 1136.5 804.0 1136.8 806.0 1137.1 808.0 1137.4 810.0 1137.8 812.0 1138.1 814.0 1138.4 816.0 1138.7 818.0 1139.0 820.0 1139.2 822.0 1139.5 824.0 1139.8 826.0 1140.1 828.0 1140.4 830.0 1140.7 832.0 1141.0 834.0 1141.3 836.0 1141.6 838.0 1141.8 840.0 1142.1 842.0 1142.4 844.0 1142.6 846.0 1142.9 848.0 1143.1 850.0 1143.3 852.0 1143.5 854.0 1143.8 856.0 1143.9 858.0 1144.1 860.0 1144.3 862.0 1144.5 864.0 1144.7 866.0 1144.9 868.0 1145.1 870.0 1145.2 872.0 1145.4 874.0 1145.6 876.0 1145.7 878.0 1145.9 880.0 1146.0 882.0 1146.2 884.0 1146.3 886.0 1146.5 888.0 1146.6 890.0 1146.7 892.0 1146.8 894.0 1146.9 896.0 1147.0 898.0 1147.1 900.0 1147.2 902.0 1147.3 904.0 1147.4 906.0 1147.4 908.0 1147.5 910.0 1147.6 912.0 1147.6 914.0 1147.7 916.0 1147.8 918.0 1147.8 920.0 1147.9 922.0 1148.0 924.0 1148.0 926.0 1148.1 928.0 1148.1 930.0 1148.2 932.0 1148.2 934.0 1148.3 936.0 1148.3 938.0 1148.4 940.0 1148.4 942.0 1148.5 944.0 1148.5 946.0 1148.5 948.0 1148.6 950.0 1148.6 952.0 1148.7 954.0 1148.7 956.0 1148.7 958.0 1148.8 960.0 1148.8 962.0 1148.8 964.0 1148.9 966.0 1148.9 968.0 1148.9 970.0 1149.0 972.0 1149.0 974.0 1149.0 976.0 1149.0 978.0 1149.1 980.0 1149.1 982.0 1149.1 984.0 1149.1 986.0 1149.2 988.0 1149.2 990.0 1149.2 992.0 1149.2 994.0 1149.2 996.0 1149.3 998.0 1149.3 1000.0 1149.3 1002.0 1149.3 1004.0 1149.3 1006.0 1149.4 1008.0 1149.4 1010.0 1149.4 1012.0 1149.4 1014.0 1149.4 1016.0 1149.5 1018.0 1149.5 1020.0 1149.5 1022.0 1149.5 1024.0 1149.5 1026.0 1149.6 1028.0 1149.6 1030.0 1149.6 1032.0 1149.6 1034.0 1149.6 1036.0 1149.7 1038.0 1149.7 1040.0 1149.7 1042.0 1149.7 1044.0 1149.7 1046.0 1149.8 1048.0 1149.8 1050.0 1149.8"/>
<path clip-path="url(#cl2)" fill="none" stroke="#fa7c17" stroke-width="3" stroke-linejoin="round" stroke-linecap="butt" stroke-dasharray="11.1 4.8" d="M84.0 1145.0L86.0 1145.0 88.0 1145.0 90.0 1144.9 92.0 1144.8 94.0 1144.8 96.0 1144.7 98.0 1144.5 100.0 1144.4 102.0 1144.3 104.0 1144.1 106.0 1144.0 108.0 1143.8 110.0 1143.7 112.0 1143.5 114.0 1143.3 116.0 1143.1 118.0 1142.9 120.0 1142.6 122.0 1142.3 124.0 1141.9 126.0 1141.6 128.0 1141.2 130.0 1140.8 132.0 1140.4 134.0 1140.0 136.0 1139.6 138.0 1139.1 140.0 1138.6 142.0 1138.1 144.0 1137.6 146.0 1137.0 148.0 1136.3 150.0 1135.6 152.0 1134.9 154.0 1134.2 156.0 1133.5 158.0 1132.7 160.0 1131.9 162.0 1131.1 164.0 1130.3 166.0 1129.5 168.0 1128.6 170.0 1127.7 172.0 1126.8 174.0 1125.9 176.0 1124.9 178.0 1124.0 180.0 1122.9 182.0 1121.9 184.0 1120.8 186.0 1119.8 188.0 1118.7 190.0 1117.5 192.0 1116.4 194.0 1115.2 196.0 1113.9 198.0 1112.7 200.0 1111.4 202.0 1110.1 204.0 1108.7 206.0 1107.3 208.0 1105.9 210.0 1104.4 212.0 1102.9 214.0 1101.4 216.0 1099.8 218.0 1098.2 220.0 1096.5 222.0 1094.6 224.0 1092.7 226.0 1090.8 228.0 1088.9 230.0 1087.0 232.0 1085.1 234.0 1083.2 236.0 1081.3 238.0 1079.4 240.0 1077.5 242.0 1075.6 244.0 1073.7 246.0 1071.7 248.0 1069.8 250.0 1067.8 252.0 1065.8 254.0 1063.8 256.0 1061.8 258.0 1059.8 260.0 1057.7 262.0 1055.7 264.0 1053.6 266.0 1051.5 268.0 1049.4 270.0 1047.2 272.0 1045.0 274.0 1042.7 276.0 1040.5 278.0 1038.2 280.0 1035.8 282.0 1033.5 284.0 1031.1 286.0 1028.6 288.0 1026.1 290.0 1023.6 292.0 1021.0 294.0 1018.3 296.0 1015.5 298.0 1012.6 300.0 1009.7 302.0 1006.7 304.0 1003.5 306.0 1000.3 308.0 996.9 310.0 993.4 312.0 989.8 314.0 986.0 316.0 981.9 318.0 977.3 320.0 972.4 322.0 967.4 324.0 962.4 326.0 957.7 328.0 953.4 330.0 949.7 332.0 946.1 334.0 942.6 336.0 939.2 338.0 935.9 340.0 932.7 342.0 929.6 344.0 926.8 346.0 924.0 348.0 921.5 350.0 919.2 352.0 917.1 354.0 915.2 356.0 913.5 358.0 911.9 360.0 910.3 362.0 908.8 364.0 907.4 366.0 906.0 368.0 904.7 370.0 903.5 372.0 902.3 374.0 901.1 376.0 900.1 378.0 899.0 380.0 898.0 382.0 897.1 384.0 896.1 386.0 895.2 388.0 894.4 390.0 893.6 392.0 892.9 394.0 892.2 396.0 891.5 398.0 890.9 400.0 890.3 402.0 889.7 404.0 889.1 406.0 888.4 408.0 887.8 410.0 887.1 412.0 886.4 414.0 885.6 416.0 884.7 418.0 883.7 420.0 882.5 422.0 881.4 424.0 880.4 426.0 879.5 428.0 878.8 430.0 878.4 432.0 878.0 434.0 877.6 436.0 877.3 438.0 877.0 440.0 876.8 442.0 876.6 444.0 876.6 446.0 876.8 448.0 877.2 450.0 877.8 452.0 878.6 454.0 879.5 456.0 880.5 458.0 881.6 460.0 882.6 462.0 884.0 464.0 885.7 466.0 887.6 468.0 889.7 470.0 891.9 472.0 894.0 474.0 896.1 476.0 898.1 478.0 900.1 480.0 902.2 482.0 904.2 484.0 906.3 486.0 908.4 488.0 910.5 490.0 912.6 492.0 914.7 494.0 916.9 496.0 918.9 498.0 921.0 500.0 923.1 502.0 925.1 504.0 927.3 506.0 929.5 508.0 931.8 510.0 934.4 512.0 937.1 514.0 939.8 516.0 942.3 518.0 944.7 520.0 947.0 522.0 949.2 524.0 951.4 526.0 953.7 528.0 955.9 530.0 958.2 532.0 960.6 534.0 963.0 536.0 965.4 538.0 967.8 540.0 970.2 542.0 972.7 544.0 975.1 546.0 977.5 548.0 979.8 550.0 982.1 552.0 984.3 554.0 986.5 556.0 988.6 558.0 990.6 560.0 992.5 562.0 994.3 564.0 995.9 566.0 997.5 568.0 999.1 570.0 1000.5 572.0 1002.0 574.0 1003.3 576.0 1004.7 578.0 1006.0 580.0 1007.3 582.0 1008.6 584.0 1009.9 586.0 1011.2 588.0 1012.5 590.0 1013.9 592.0 1015.3 594.0 1016.7 596.0 1018.2 598.0 1019.6 600.0 1021.1 602.0 1022.5 604.0 1024.0 606.0 1025.5 608.0 1027.0 610.0 1028.5 612.0 1030.0 614.0 1031.6 616.0 1033.2 618.0 1034.9 620.0 1036.6 622.0 1038.4 624.0 1040.2 626.0 1042.1 628.0 1044.1 630.0 1046.1 632.0 1048.1 634.0 1050.2 636.0 1052.4 638.0 1054.5 640.0 1056.7 642.0 1058.8 644.0 1061.0 646.0 1063.2 648.0 1065.4 650.0 1067.6 652.0 1069.7 654.0 1071.8 656.0 1073.9 658.0 1076.0 660.0 1078.0 662.0 1080.0 664.0 1082.1 666.0 1084.2 668.0 1086.3 670.0 1088.4 672.0 1090.5 674.0 1092.7 676.0 1094.8 678.0 1096.9 680.0 1098.9 682.0 1101.0 684.0 1103.0 686.0 1104.9 688.0 1106.7 690.0 1108.5 692.0 1110.2 694.0 1111.8 696.0 1113.4 698.0 1114.8 700.0 1116.1 702.0 1117.4 704.0 1118.7 706.0 1119.9 708.0 1121.2 710.0 1122.4 712.0 1123.6 714.0 1124.7 716.0 1125.8 718.0 1126.9 720.0 1127.9 722.0 1128.9 724.0 1129.8 726.0 1130.7 728.0 1131.6 730.0 1132.4 732.0 1133.1 734.0 1133.7 736.0 1134.3 738.0 1134.8 740.0 1135.3 742.0 1135.8 744.0 1136.2 746.0 1136.6 748.0 1137.0 750.0 1137.4 752.0 1137.8 754.0 1138.1 756.0 1138.4 758.0 1138.8 760.0 1139.1 762.0 1139.3 764.0 1139.6 766.0 1139.9 768.0 1140.2 770.0 1140.4 772.0 1140.7 774.0 1140.9 776.0 1141.2 778.0 1141.4 780.0 1141.7 782.0 1141.9 784.0 1142.1 786.0 1142.4 788.0 1142.6 790.0 1142.8 792.0 1143.0 794.0 1143.2 796.0 1143.5 798.0 1143.7 800.0 1143.8 802.0 1144.0 804.0 1144.2 806.0 1144.4 808.0 1144.6 810.0 1144.7 812.0 1144.9 814.0 1145.0 816.0 1145.2 818.0 1145.3 820.0 1145.5 822.0 1145.6 824.0 1145.7 826.0 1145.8 828.0 1146.0 830.0 1146.1 832.0 1146.2 834.0 1146.3 836.0 1146.4 838.0 1146.5 840.0 1146.6 842.0 1146.7 844.0 1146.8 846.0 1146.9 848.0 1147.0 850.0 1147.1 852.0 1147.2 854.0 1147.3 856.0 1147.4 858.0 1147.4 860.0 1147.5 862.0 1147.6 864.0 1147.6 866.0 1147.7 868.0 1147.8 870.0 1147.8 872.0 1147.9 874.0 1147.9 876.0 1148.0 878.0 1148.1 880.0 1148.1 882.0 1148.2 884.0 1148.2 886.0 1148.3 888.0 1148.3 890.0 1148.4 892.0 1148.4 894.0 1148.5 896.0 1148.5 898.0 1148.6 900.0 1148.6 902.0 1148.7 904.0 1148.7 906.0 1148.7 908.0 1148.8 910.0 1148.8 912.0 1148.9 914.0 1148.9 916.0 1148.9 918.0 1149.0 920.0 1149.0 922.0 1149.0 924.0 1149.1 926.0 1149.1 928.0 1149.1 930.0 1149.2 932.0 1149.2 934.0 1149.2 936.0 1149.3 938.0 1149.3 940.0 1149.3 942.0 1149.4 944.0 1149.4 946.0 1149.4 948.0 1149.5 950.0 1149.5 952.0 1149.5 954.0 1149.5 956.0 1149.6 958.0 1149.6 960.0 1149.6 962.0 1149.7 964.0 1149.7 966.0 1149.7 968.0 1149.7 970.0 1149.7 972.0 1149.8 974.0 1149.8 976.0 1149.8 978.0 1149.8 980.0 1149.9 982.0 1149.9 984.0 1149.9 986.0 1149.9 988.0 1149.9 990.0 1149.9 992.0 1150.0 994.0 1150.0 996.0 1150.0 998.0 1150.0 1000.0 1150.0 1002.0 1150.0 1004.0 1150.0 1006.0 1150.0 1008.0 1150.0 1010.0 1150.0 1012.0 1150.1 1014.0 1150.1 1016.0 1150.1 1018.0 1150.1 1020.0 1150.1 1022.0 1150.1 1024.0 1150.1 1026.0 1150.1 1028.0 1150.1 1030.0 1150.1 1032.0 1150.1 1034.0 1150.1 1036.0 1150.1 1038.0 1150.1 1040.0 1150.2 1042.0 1150.2 1044.0 1150.2 1046.0 1150.2 1048.0 1150.2 1050.0 1150.2 1052.0 1150.2 1054.0 1150.2 1056.0 1150.2 1058.0 1150.2 1060.0 1150.2 1062.0 1150.2 1064.0 1150.2 1066.0 1150.2 1068.0 1150.2 1070.0 1150.2 1072.0 1150.2"/>
<path clip-path="url(#cl2)" fill="none" stroke="#fa7c17" stroke-width="3" stroke-linejoin="round" stroke-linecap="butt" stroke-dasharray="3.0 4.9" d="M72.4 1149.2L74.4 1149.1 76.4 1148.9 78.4 1148.8 80.4 1148.6 82.4 1148.5 84.4 1148.3 86.4 1148.1 88.4 1147.9 90.4 1147.7 92.4 1147.4 94.4 1147.2 96.4 1147.0 98.4 1146.7 100.4 1146.4 102.4 1146.2 104.4 1145.9 106.4 1145.6 108.4 1145.3 110.4 1145.0 112.4 1144.7 114.4 1144.3 116.4 1143.9 118.4 1143.6 120.4 1143.2 122.4 1142.8 124.4 1142.4 126.4 1141.9 128.4 1141.5 130.4 1141.0 132.4 1140.5 134.4 1140.0 136.4 1139.5 138.4 1139.0 140.4 1138.5 142.4 1137.9 144.4 1137.2 146.4 1136.6 148.4 1135.9 150.4 1135.1 152.4 1134.3 154.4 1133.5 156.4 1132.7 158.4 1131.8 160.4 1130.9 162.4 1130.0 164.4 1129.1 166.4 1128.2 168.4 1127.2 170.4 1126.2 172.4 1125.1 174.4 1124.0 176.4 1122.9 178.4 1121.7 180.4 1120.6 182.4 1119.3 184.4 1118.1 186.4 1116.9 188.4 1115.6 190.4 1114.3 192.4 1113.0 194.4 1111.8 196.4 1110.5 198.4 1109.2 200.4 1107.9 202.4 1106.6 204.4 1105.2 206.4 1103.8 208.4 1102.3 210.4 1100.7 212.4 1099.1 214.4 1097.4 216.4 1095.6 218.4 1093.6 220.4 1091.4 222.4 1088.9 224.4 1086.2 226.4 1083.4 228.4 1080.5 230.4 1077.6 232.4 1074.6 234.4 1071.7 236.4 1068.9 238.4 1066.1 240.4 1063.6 242.4 1061.2 244.4 1058.9 246.4 1056.6 248.4 1054.4 250.4 1052.2 252.4 1050.0 254.4 1047.8 256.4 1045.5 258.4 1043.2 260.4 1040.9 262.4 1038.4 264.4 1035.9 266.4 1033.3 268.4 1030.6 270.4 1027.9 272.4 1025.1 274.4 1022.3 276.4 1019.4 278.4 1016.5 280.4 1013.6 282.4 1010.7 284.4 1007.8 286.4 1004.9 288.4 1002.0 290.4 999.0 292.4 996.1 294.4 993.1 296.4 990.0 298.4 987.0 300.4 984.0 302.4 980.9 304.4 977.9 306.4 974.9 308.4 971.8 310.4 968.8 312.4 965.8 314.4 962.7 316.4 959.7 318.4 956.8 320.4 953.9 322.4 951.1 324.4 948.3 326.4 945.5 328.4 942.8 330.4 940.0 332.4 937.4 334.4 934.7 336.4 932.2 338.4 929.7 340.4 927.4 342.4 925.2 344.4 923.1 346.4 921.1 348.4 919.2 350.4 917.4 352.4 915.5 354.4 913.8 356.4 912.1 358.4 910.4 360.4 908.9 362.4 907.5 364.4 906.1 366.4 904.9 368.4 903.8 370.4 902.8 372.4 902.0 374.4 901.2 376.4 900.4 378.4 899.8 380.4 899.1 382.4 898.5 384.4 897.9 386.4 897.4 388.4 896.8 390.4 896.2 392.4 895.6 394.4 895.0 396.4 894.4 398.4 893.7 400.4 893.1 402.4 892.5 404.4 891.8 406.4 891.2 408.4 890.5 410.4 889.9 412.4 889.0 414.4 888.1 416.4 887.2 418.4 886.4 420.4 885.8 422.4 885.6 424.4 885.7 426.4 886.1 428.4 886.5 430.4 886.9 432.4 887.3 434.4 887.6 436.4 888.1 438.4 888.5 440.4 888.9 442.4 889.4 444.4 889.9 446.4 890.5 448.4 891.1 450.4 891.7 452.4 892.4 454.4 893.1 456.4 893.8 458.4 894.5 460.4 895.2 462.4 896.0 464.4 896.7 466.4 897.4 468.4 898.3 470.4 899.3 472.4 900.2 474.4 901.3 476.4 902.4 478.4 903.5 480.4 904.8 482.4 906.0 484.4 907.4 486.4 908.7 488.4 910.2 490.4 911.7 492.4 913.3 494.4 915.1 496.4 917.1 498.4 919.2 500.4 921.3 502.4 923.5 504.4 925.7 506.4 928.1 508.4 930.5 510.4 933.0 512.4 935.5 514.4 938.1 516.4 940.6 518.4 943.1 520.4 945.5 522.4 947.8 524.4 950.1 526.4 952.4 528.4 954.7 530.4 957.0 532.4 959.3 534.4 961.5 536.4 963.8 538.4 966.1 540.4 968.5 542.4 970.9 544.4 973.3 546.4 975.8 548.4 978.2 550.4 980.7 552.4 983.2 554.4 985.6 556.4 987.9 558.4 990.2 560.4 992.4 562.4 994.6 564.4 996.7 566.4 998.7 568.4 1000.7 570.4 1002.7 572.4 1004.7 574.4 1006.6 576.4 1008.5 578.4 1010.5 580.4 1012.4 582.4 1014.3 584.4 1016.2 586.4 1018.1 588.4 1020.0 590.4 1021.9 592.4 1023.8 594.4 1025.7 596.4 1027.5 598.4 1029.4 600.4 1031.2 602.4 1033.0 604.4 1034.9 606.4 1036.7 608.4 1038.5 610.4 1040.4 612.4 1042.2 614.4 1044.0 616.4 1045.9 618.4 1047.7 620.4 1049.6 622.4 1051.4 624.4 1053.3 626.4 1055.1 628.4 1057.0 630.4 1058.8 632.4 1060.6 634.4 1062.3 636.4 1064.1 638.4 1065.8 640.4 1067.5 642.4 1069.1 644.4 1070.7 646.4 1072.3 648.4 1073.9 650.4 1075.4 652.4 1077.0 654.4 1078.5 656.4 1080.0 658.4 1081.5 660.4 1083.1 662.4 1084.5 664.4 1086.0 666.4 1087.5 668.4 1088.9 670.4 1090.4 672.4 1091.8 674.4 1093.2 676.4 1094.5 678.4 1095.9 680.4 1097.2 682.4 1098.5 684.4 1099.8 686.4 1101.1 688.4 1102.3 690.4 1103.5 692.4 1104.6 694.4 1105.8 696.4 1106.9 698.4 1107.9 700.4 1109.0 702.4 1110.0 704.4 1111.0 706.4 1112.1 708.4 1113.0 710.4 1114.0 712.4 1115.0 714.4 1115.9 716.4 1116.8 718.4 1117.7 720.4 1118.6 722.4 1119.4 724.4 1120.3 726.4 1121.0 728.4 1121.8 730.4 1122.5 732.4 1123.3 734.4 1123.9 736.4 1124.6 738.4 1125.2 740.4 1125.8 742.4 1126.3 744.4 1126.9 746.4 1127.4 748.4 1127.9 750.4 1128.4 752.4 1128.9 754.4 1129.4 756.4 1129.8 758.4 1130.3 760.4 1130.7 762.4 1131.1 764.4 1131.6 766.4 1132.0 768.4 1132.4 770.4 1132.8 772.4 1133.1 774.4 1133.5 776.4 1133.9 778.4 1134.3 780.4 1134.6 782.4 1135.0 784.4 1135.3 786.4 1135.6 788.4 1136.0 790.4 1136.3 792.4 1136.6 794.4 1136.9 796.4 1137.2 798.4 1137.5 800.4 1137.8 802.4 1138.1 804.4 1138.4 806.4 1138.7 808.4 1139.0 810.4 1139.3 812.4 1139.5 814.4 1139.8 816.4 1140.1 818.4 1140.3 820.4 1140.6 822.4 1140.8 824.4 1141.1 826.4 1141.4 828.4 1141.6 830.4 1141.9 832.4 1142.1 834.4 1142.4 836.4 1142.6 838.4 1142.9 840.4 1143.1 842.4 1143.3 844.4 1143.6 846.4 1143.8 848.4 1144.0 850.4 1144.2 852.4 1144.4 854.4 1144.6 856.4 1144.7 858.4 1144.9 860.4 1145.0 862.4 1145.2 864.4 1145.3 866.4 1145.4 868.4 1145.6 870.4 1145.7 872.4 1145.8 874.4 1146.0 876.4 1146.1 878.4 1146.2 880.4 1146.3 882.4 1146.4 884.4 1146.5 886.4 1146.6 888.4 1146.7 890.4 1146.8 892.4 1146.9 894.4 1147.0 896.4 1147.1 898.4 1147.2 900.4 1147.3 902.4 1147.4 904.4 1147.5 906.4 1147.5 908.4 1147.6 910.4 1147.7 912.4 1147.8 914.4 1147.8 916.4 1147.9 918.4 1148.0 920.4 1148.0 922.4 1148.1 924.4 1148.1 926.4 1148.2 928.4 1148.2 930.4 1148.3 932.4 1148.3 934.4 1148.4 936.4 1148.4 938.4 1148.5 940.4 1148.5 942.4 1148.6 944.4 1148.6 946.4 1148.7 948.4 1148.7 950.4 1148.7 952.4 1148.8 954.4 1148.8 956.4 1148.9 958.4 1148.9 960.4 1148.9 962.4 1149.0 964.4 1149.0 966.4 1149.1 968.4 1149.1 970.4 1149.1 972.4 1149.2 974.4 1149.2 976.4 1149.2 978.4 1149.2 980.4 1149.3 982.4 1149.3 984.4 1149.3 986.4 1149.4 988.4 1149.4 990.4 1149.4 992.4 1149.4 994.4 1149.4 996.4 1149.5 998.4 1149.5 1000.4 1149.5 1002.4 1149.5 1004.4 1149.5 1006.4 1149.6 1008.4 1149.6 1010.4 1149.6 1012.4 1149.6 1014.4 1149.6 1016.4 1149.6 1018.4 1149.7 1020.4 1149.7 1022.4 1149.7 1024.4 1149.7 1026.4 1149.7 1028.4 1149.7 1030.4 1149.8 1032.4 1149.8 1034.4 1149.8 1036.4 1149.8 1038.4 1149.8 1040.4 1149.8 1042.4 1149.8 1044.4 1149.9 1046.4 1149.9 1048.4 1149.9 1050.4 1149.9 1052.4 1149.9 1054.4 1149.9 1056.4 1149.9 1058.4 1149.9 1060.4 1150.0 1062.4 1150.0 1064.4 1150.0 1066.4 1150.0 1068.4 1150.0 1070.4 1150.0 1072.4 1150.0 1074.4 1150.0 1076.4 1150.0 1078.4 1150.0 1080.4 1150.0 1082.4 1150.1 1084.4 1150.1 1086.4 1150.1 1088.4 1150.1 1090.4 1150.1 1092.4 1150.1 1094.4 1150.1 1096.4 1150.1 1098.4 1150.1 1100.4 1150.1 1102.4 1150.1 1104.4 1150.1 1106.4 1150.1 1108.4 1150.1 1108.7 1150.1"/>
<path clip-path="url(#cl2)" fill="none" stroke="#fa7c17" stroke-width="3" stroke-linejoin="round" stroke-linecap="butt" stroke-dasharray="19.2 4.8 3.0 4.8" d="M84.0 1145.0L86.0 1145.0 88.0 1144.9 90.0 1144.8 92.0 1144.7 94.0 1144.6 96.0 1144.5 98.0 1144.3 100.0 1144.2 102.0 1144.0 104.0 1143.8 106.0 1143.6 108.0 1143.4 110.0 1143.2 112.0 1143.0 114.0 1142.8 116.0 1142.5 118.0 1142.2 120.0 1141.9 122.0 1141.5 124.0 1141.1 126.0 1140.7 128.0 1140.3 130.0 1139.9 132.0 1139.5 134.0 1139.0 136.0 1138.6 138.0 1138.1 140.0 1137.7 142.0 1137.2 144.0 1136.8 146.0 1136.3 148.0 1135.9 150.0 1135.4 152.0 1134.9 154.0 1134.3 156.0 1133.8 158.0 1133.2 160.0 1132.6 162.0 1131.9 164.0 1131.2 166.0 1130.4 168.0 1129.5 170.0 1128.4 172.0 1127.3 174.0 1126.1 176.0 1124.8 178.0 1123.4 180.0 1122.0 182.0 1120.6 184.0 1119.1 186.0 1117.5 188.0 1116.0 190.0 1114.5 192.0 1113.0 194.0 1111.4 196.0 1109.8 198.0 1108.1 200.0 1106.4 202.0 1104.6 204.0 1102.8 206.0 1101.0 208.0 1099.1 210.0 1097.2 212.0 1095.3 214.0 1093.4 216.0 1091.4 218.0 1089.4 220.0 1087.4 222.0 1085.3 224.0 1083.3 226.0 1081.2 228.0 1079.1 230.0 1076.9 232.0 1074.7 234.0 1072.5 236.0 1070.2 238.0 1067.9 240.0 1065.5 242.0 1063.0 244.0 1060.6 246.0 1058.0 248.0 1055.3 250.0 1052.5 252.0 1049.5 254.0 1046.5 256.0 1043.4 258.0 1040.3 260.0 1037.2 262.0 1034.2 264.0 1031.2 266.0 1028.4 268.0 1025.8 270.0 1023.3 272.0 1020.9 274.0 1018.6 276.0 1016.4 278.0 1014.3 280.0 1012.2 282.0 1010.1 284.0 1008.0 286.0 1005.9 288.0 1003.8 290.0 1001.7 292.0 999.4 294.0 997.2 296.0 995.1 298.0 992.9 300.0 990.8 302.0 988.6 304.0 986.5 306.0 984.3 308.0 982.1 310.0 979.8 312.0 977.5 314.0 975.1 316.0 972.7 318.0 970.2 320.0 967.5 322.0 964.7 324.0 961.7 326.0 958.4 328.0 954.9 330.0 951.3 332.0 947.6 334.0 943.9 336.0 940.2 338.0 936.7 340.0 933.3 342.0 930.1 344.0 927.2 346.0 924.7 348.0 922.2 350.0 919.8 352.0 917.6 354.0 915.4 356.0 913.4 358.0 911.6 360.0 910.1 362.0 908.8 364.0 907.6 366.0 906.5 368.0 905.4 370.0 904.3 372.0 903.2 374.0 902.3 376.0 901.4 378.0 900.7 380.0 900.1 382.0 899.6 384.0 899.3 386.0 899.2 388.0 899.3 390.0 899.7 392.0 900.3 394.0 901.0 396.0 901.9 398.0 902.9 400.0 903.9 402.0 904.8 404.0 905.7 406.0 906.6 408.0 907.6 410.0 908.6 412.0 909.7 414.0 910.8 416.0 911.8 418.0 912.7 420.0 913.5 422.0 914.2 424.0 914.9 426.0 915.6 428.0 916.3 430.0 916.8 432.0 917.2 434.0 917.5 436.0 917.5 438.0 917.3 440.0 917.1 442.0 916.7 444.0 916.3 446.0 915.9 448.0 915.4 450.0 914.9 452.0 914.5 454.0 914.0 456.0 913.4 458.0 912.8 460.0 912.1 462.0 911.5 464.0 910.9 466.0 910.4 468.0 910.1 470.0 910.0 472.0 909.9 474.0 909.8 476.0 909.8 478.0 910.0 480.0 910.6 482.0 911.4 484.0 912.3 486.0 913.4 488.0 914.7 490.0 916.1 492.0 917.6 494.0 919.1 496.0 920.6 498.0 921.9 500.0 923.0 502.0 924.1 504.0 925.7 506.0 927.7 508.0 930.0 510.0 932.5 512.0 935.2 514.0 938.0 516.0 940.8 518.0 943.5 520.0 946.0 522.0 948.4 524.0 950.9 526.0 953.3 528.0 955.7 530.0 958.2 532.0 960.6 534.0 963.0 536.0 965.3 538.0 967.7 540.0 970.0 542.0 972.3 544.0 974.6 546.0 976.9 548.0 979.1 550.0 981.4 552.0 983.6 554.0 985.8 556.0 987.9 558.0 990.0 560.0 992.0 562.0 993.9 564.0 995.8 566.0 997.7 568.0 999.5 570.0 1001.3 572.0 1003.0 574.0 1004.7 576.0 1006.5 578.0 1008.2 580.0 1010.0 582.0 1011.8 584.0 1013.5 586.0 1015.3 588.0 1017.0 590.0 1018.7 592.0 1020.5 594.0 1022.2 596.0 1023.9 598.0 1025.6 600.0 1027.3 602.0 1029.1 604.0 1030.8 606.0 1032.5 608.0 1034.3 610.0 1036.0 612.0 1037.8 614.0 1039.6 616.0 1041.4 618.0 1043.2 620.0 1045.0 622.0 1046.9 624.0 1048.8 626.0 1050.7 628.0 1052.6 630.0 1054.6 632.0 1056.6 634.0 1058.5 636.0 1060.5 638.0 1062.5 640.0 1064.4 642.0 1066.3 644.0 1068.2 646.0 1070.0 648.0 1071.8 650.0 1073.6 652.0 1075.4 654.0 1077.2 656.0 1079.0 658.0 1080.8 660.0 1082.5 662.0 1084.2 664.0 1085.9 666.0 1087.5 668.0 1089.0 670.0 1090.6 672.0 1092.0 674.0 1093.4 676.0 1094.8 678.0 1096.1 680.0 1097.4 682.0 1098.7 684.0 1099.9 686.0 1101.2 688.0 1102.3 690.0 1103.5 692.0 1104.6 694.0 1105.7 696.0 1106.7 698.0 1107.8 700.0 1108.7 702.0 1109.7 704.0 1110.7 706.0 1111.6 708.0 1112.5 710.0 1113.4 712.0 1114.3 714.0 1115.2 716.0 1116.1 718.0 1116.9 720.0 1117.7 722.0 1118.5 724.0 1119.3 726.0 1120.1 728.0 1120.8 730.0 1121.5 732.0 1122.2 734.0 1122.8 736.0 1123.5 738.0 1124.1 740.0 1124.6 742.0 1125.2 744.0 1125.7 746.0 1126.3 748.0 1126.8 750.0 1127.3 752.0 1127.8 754.0 1128.3 756.0 1128.7 758.0 1129.2 760.0 1129.6 762.0 1130.0 764.0 1130.5 766.0 1130.9 768.0 1131.3 770.0 1131.7 772.0 1132.1 774.0 1132.4 776.0 1132.8 778.0 1133.2 780.0 1133.5 782.0 1133.9 784.0 1134.2 786.0 1134.6 788.0 1134.9 790.0 1135.2 792.0 1135.6 794.0 1135.9 796.0 1136.2 798.0 1136.5 800.0 1136.8 802.0 1137.1 804.0 1137.4 806.0 1137.6 808.0 1137.9 810.0 1138.2 812.0 1138.5 814.0 1138.7 816.0 1139.0 818.0 1139.3 820.0 1139.5 822.0 1139.8 824.0 1140.0 826.0 1140.3 828.0 1140.6 830.0 1140.8 832.0 1141.1 834.0 1141.3 836.0 1141.6 838.0 1141.8 840.0 1142.0 842.0 1142.3 844.0 1142.5 846.0 1142.7 848.0 1142.9 850.0 1143.1 852.0 1143.3 854.0 1143.5 856.0 1143.7 858.0 1143.8 860.0 1144.0 862.0 1144.2 864.0 1144.3 866.0 1144.5 868.0 1144.6 870.0 1144.8 872.0 1144.9 874.0 1145.1 876.0 1145.2 878.0 1145.3 880.0 1145.5 882.0 1145.6 884.0 1145.7 886.0 1145.9 888.0 1146.0 890.0 1146.1 892.0 1146.2 894.0 1146.4 896.0 1146.5 898.0 1146.6 900.0 1146.7 902.0 1146.8 904.0 1146.9 906.0 1147.0 908.0 1147.1 910.0 1147.1 912.0 1147.2 914.0 1147.3 916.0 1147.4 918.0 1147.4 920.0 1147.5 922.0 1147.6 924.0 1147.6 926.0 1147.7 928.0 1147.7 930.0 1147.8 932.0 1147.8 934.0 1147.9 936.0 1147.9 938.0 1148.0 940.0 1148.0 942.0 1148.0 944.0 1148.1 946.0 1148.1 948.0 1148.2 950.0 1148.2 952.0 1148.2 954.0 1148.3 956.0 1148.3 958.0 1148.3 960.0 1148.4 962.0 1148.4 964.0 1148.4 966.0 1148.5 968.0 1148.5 970.0 1148.5 972.0 1148.6 974.0 1148.6 976.0 1148.6 978.0 1148.7 980.0 1148.7 982.0 1148.7 984.0 1148.8 986.0 1148.8 988.0 1148.8 990.0 1148.8 992.0 1148.9 994.0 1148.9 996.0 1148.9 998.0 1149.0 1000.0 1149.0 1002.0 1149.0 1004.0 1149.1 1006.0 1149.1 1008.0 1149.1 1010.0 1149.2 1012.0 1149.2 1014.0 1149.2 1016.0 1149.2 1018.0 1149.3 1020.0 1149.3 1022.0 1149.3 1024.0 1149.4 1026.0 1149.4 1028.0 1149.4 1030.0 1149.5 1032.0 1149.5 1034.0 1149.5 1036.0 1149.5 1038.0 1149.6 1040.0 1149.6 1042.0 1149.6 1044.0 1149.6 1046.0 1149.7 1048.0 1149.7 1050.0 1149.7 1052.0 1149.8 1054.0 1149.8 1056.0 1149.8 1058.0 1149.8 1060.0 1149.9 1062.0 1149.9 1064.0 1149.9 1066.0 1149.9 1068.0 1150.0 1070.0 1150.0 1072.0 1150.0"/>
</svg></body></html>
